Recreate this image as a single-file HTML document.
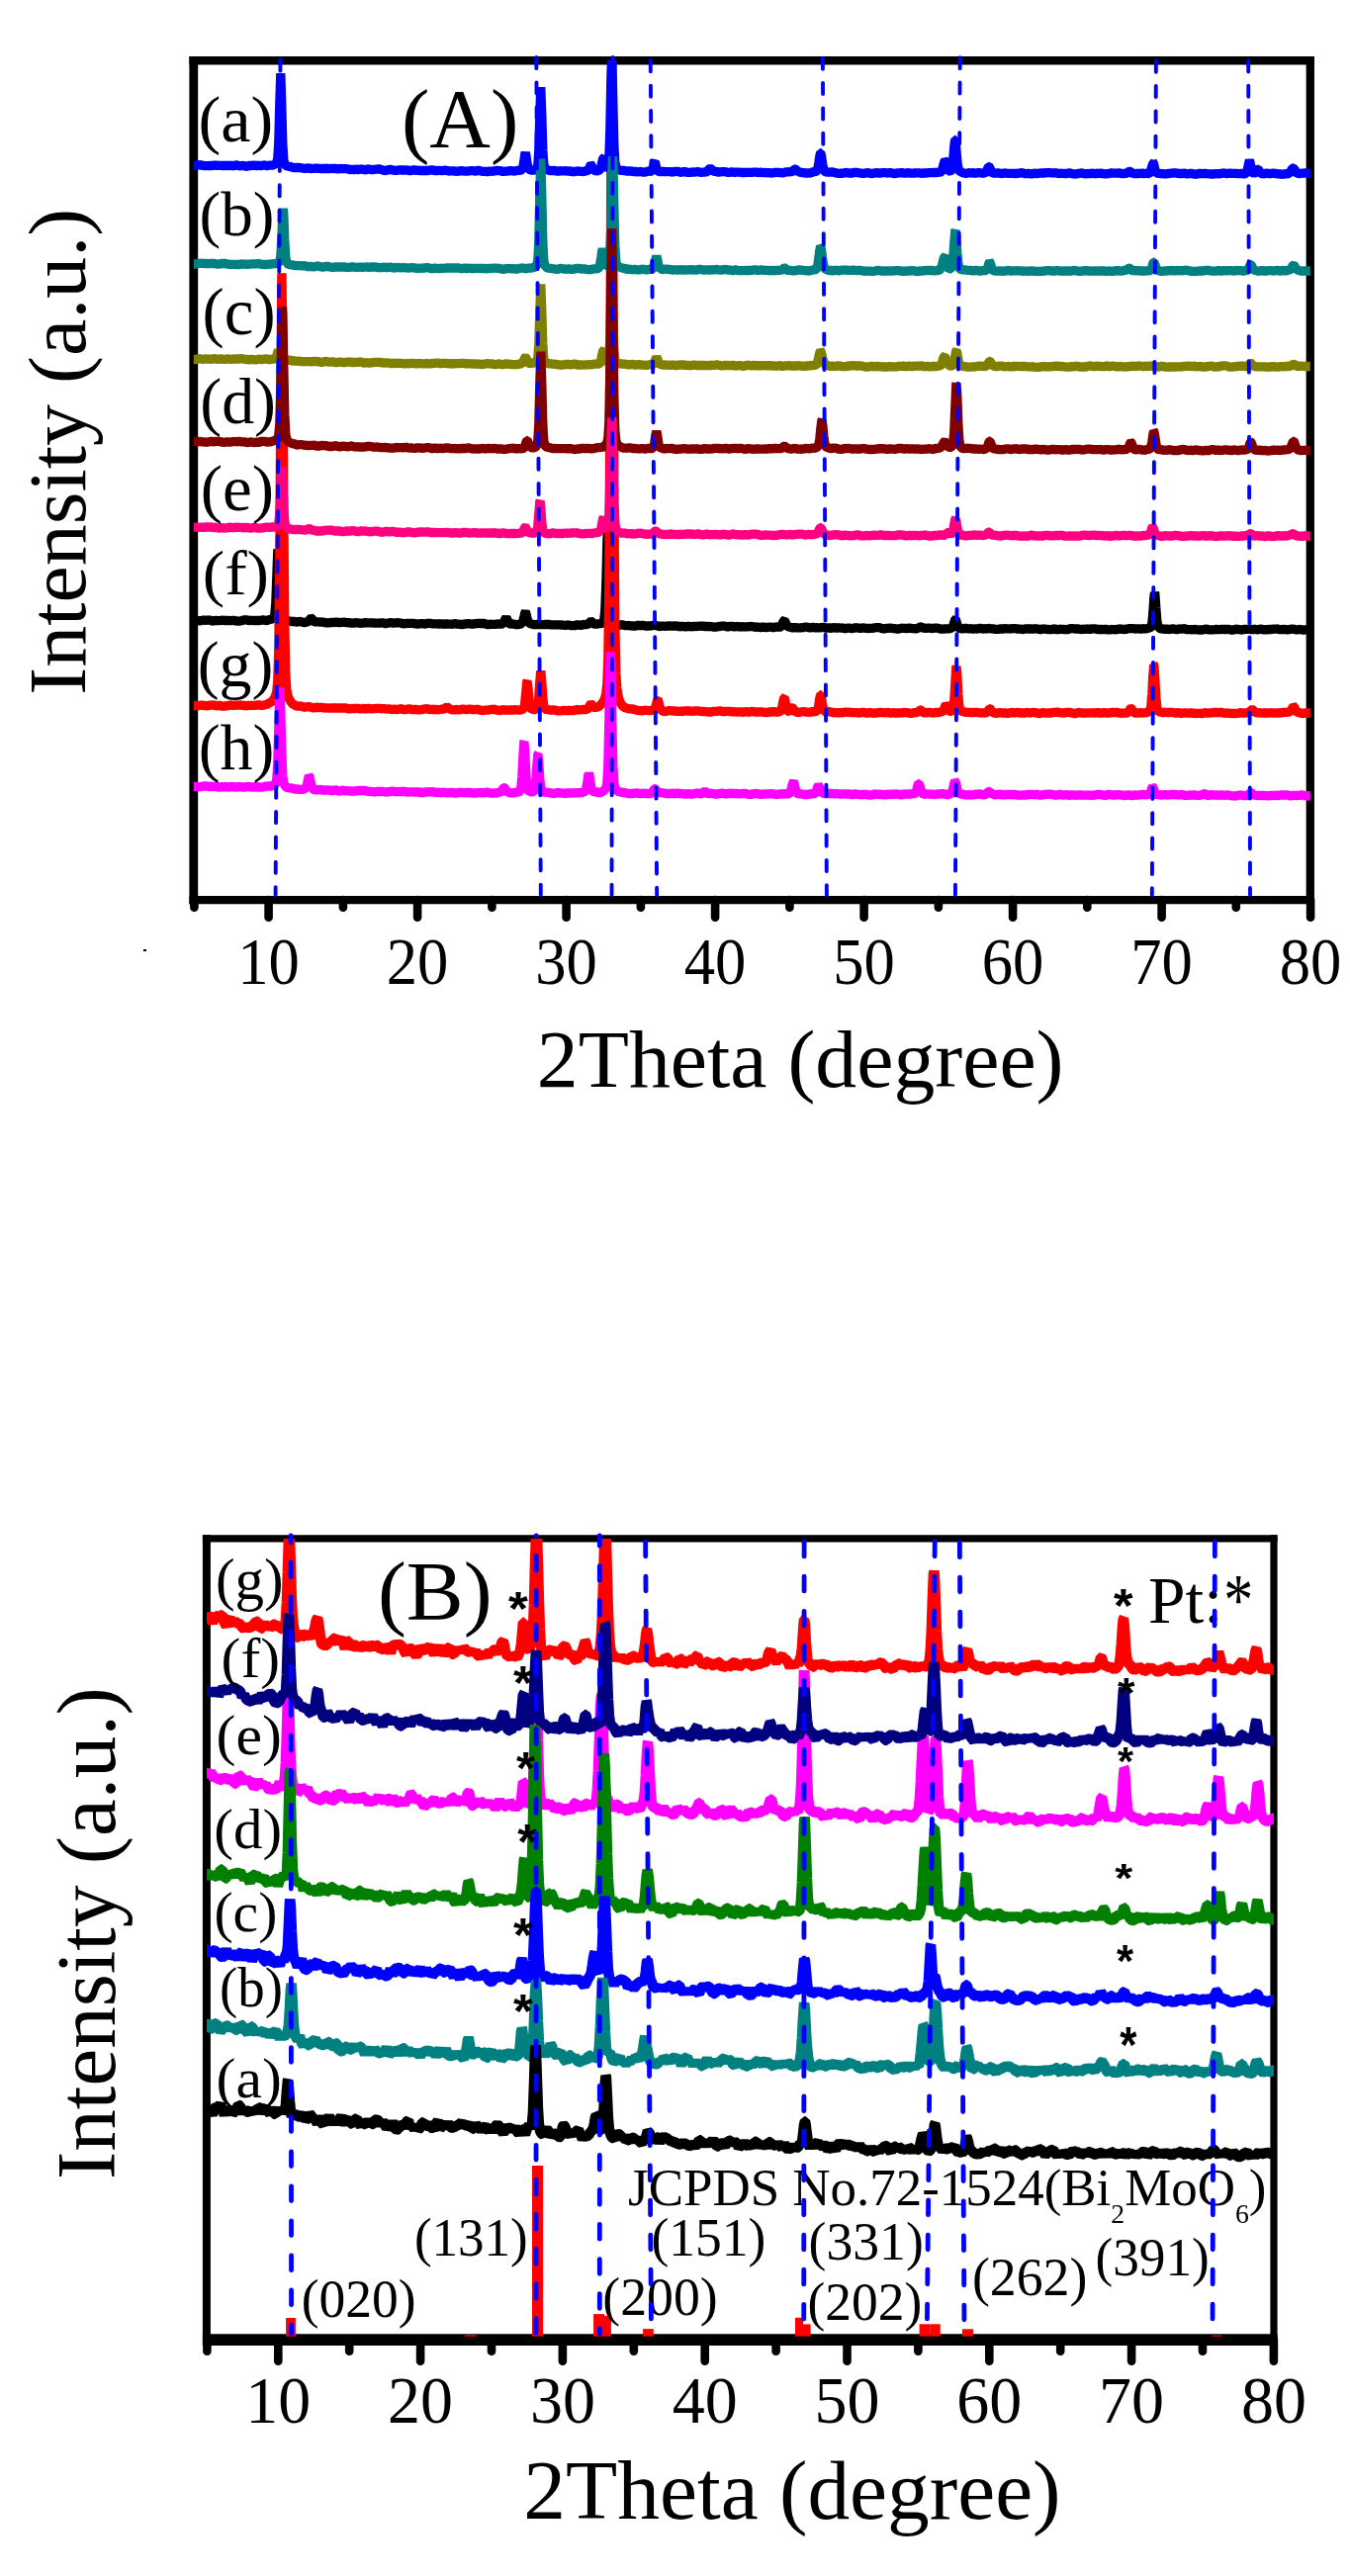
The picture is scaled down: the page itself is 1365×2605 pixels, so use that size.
<!DOCTYPE html><html><head><meta charset="utf-8"><style>html,body{margin:0;padding:0;background:#fff;overflow:hidden}svg{display:block;}</style></head><body>
<svg width="1365" height="2605" viewBox="0 0 1365 2605">
<rect width="1365" height="2605" fill="#fff"/>
<g stroke="#000" fill="none">
<line x1="195.8" y1="57.0" x2="195.8" y2="914.2" stroke-width="8.8"/>
<line x1="1324.8" y1="57.0" x2="1324.8" y2="914.2" stroke-width="8.3"/>
<line x1="191.4" y1="61.3" x2="1328.95" y2="61.3" stroke-width="8.6"/>
<line x1="191.4" y1="910.1" x2="1328.95" y2="910.1" stroke-width="8.2"/>
</g>
<rect x="145" y="960" width="3" height="2" fill="#000"/>
<g stroke="#000" stroke-linecap="round">
<line x1="196.4" y1="910.1" x2="196.4" y2="917.7" stroke-width="8.6"/>
<line x1="271.6" y1="910.1" x2="271.6" y2="927.7" stroke-width="8.6"/>
<line x1="346.9" y1="910.1" x2="346.9" y2="917.7" stroke-width="8.6"/>
<line x1="422.1" y1="910.1" x2="422.1" y2="927.7" stroke-width="8.6"/>
<line x1="497.4" y1="910.1" x2="497.4" y2="917.7" stroke-width="8.6"/>
<line x1="572.6" y1="910.1" x2="572.6" y2="927.7" stroke-width="8.6"/>
<line x1="647.9" y1="910.1" x2="647.9" y2="917.7" stroke-width="8.6"/>
<line x1="723.1" y1="910.1" x2="723.1" y2="927.7" stroke-width="8.6"/>
<line x1="798.4" y1="910.1" x2="798.4" y2="917.7" stroke-width="8.6"/>
<line x1="873.6" y1="910.1" x2="873.6" y2="927.7" stroke-width="8.6"/>
<line x1="948.9" y1="910.1" x2="948.9" y2="917.7" stroke-width="8.6"/>
<line x1="1024.1" y1="910.1" x2="1024.1" y2="927.7" stroke-width="8.6"/>
<line x1="1099.3" y1="910.1" x2="1099.3" y2="917.7" stroke-width="8.6"/>
<line x1="1174.6" y1="910.1" x2="1174.6" y2="927.7" stroke-width="8.6"/>
<line x1="1249.8" y1="910.1" x2="1249.8" y2="917.7" stroke-width="8.6"/>
<line x1="1325.1" y1="910.1" x2="1325.1" y2="927.7" stroke-width="8.6"/>
</g>
<defs><clipPath id="ca"><rect x="195.8" y="61.3" width="1129.0" height="848.8000000000001"/></clipPath></defs>
<g clip-path="url(#ca)" fill="none" stroke-linejoin="bevel" stroke-linecap="butt">
<path d="M193.8,627.2 L194.8,627.3 L195.8,627.4 L196.8,627.2 L197.8,627.0 L198.8,627.3 L199.8,627.6 L200.8,627.7 L201.8,627.8 L202.8,627.7 L203.8,627.6 L204.8,627.3 L205.8,627.1 L206.8,627.2 L207.8,627.3 L208.8,627.2 L209.8,627.1 L210.8,627.1 L211.8,627.0 L212.8,627.4 L213.8,627.8 L214.8,627.9 L215.8,628.1 L216.8,627.6 L217.8,627.1 L218.8,627.4 L219.8,627.7 L220.8,627.7 L221.8,627.6 L222.8,627.5 L223.8,627.3 L224.8,627.3 L225.8,627.2 L226.8,627.4 L227.8,627.6 L228.8,627.5 L229.8,627.4 L230.8,627.5 L231.8,627.7 L232.8,627.7 L233.8,627.7 L234.8,627.4 L235.8,627.1 L236.8,627.4 L237.8,627.7 L238.8,627.9 L239.8,628.1 L240.8,628.1 L241.8,628.2 L242.8,628.0 L243.8,627.8 L244.8,627.5 L245.8,627.1 L246.8,627.0 L247.8,626.8 L248.8,626.9 L249.8,626.9 L250.8,627.3 L251.8,627.8 L252.8,627.6 L253.8,627.3 L254.8,627.3 L255.8,627.3 L256.8,627.6 L257.8,627.9 L258.8,627.6 L259.8,627.4 L260.8,627.4 L261.8,627.5 L262.8,627.4 L263.8,627.4 L264.8,627.1 L265.8,626.9 L266.8,627.1 L267.8,627.3 L268.8,627.4 L269.8,627.6 L270.8,627.2 L271.8,626.7 L272.8,626.5 L273.8,626.3 L274.8,626.0 L275.8,625.6 L276.8,624.5 L277.8,621.3 L278.8,610.4 L279.8,583.7 L280.8,556.9 L281.0,555.9 L281.8,571.1 L282.8,602.4 L283.8,619.5 L284.8,624.6 L285.8,626.1 L286.8,627.0 L287.8,627.6 L288.8,627.5 L289.8,627.4 L290.8,627.8 L291.8,628.1 L292.8,628.1 L293.8,628.2 L294.8,628.4 L295.8,628.6 L296.8,628.5 L297.8,628.3 L298.8,628.7 L299.8,629.1 L300.8,628.9 L301.8,628.6 L302.8,628.6 L303.8,628.5 L304.8,628.9 L305.8,629.2 L306.8,629.4 L307.8,629.6 L308.8,629.4 L309.8,629.1 L310.8,628.9 L311.8,628.4 L312.8,627.3 L313.8,625.7 L314.6,625.0 L314.8,625.1 L315.8,626.2 L316.8,627.8 L317.8,628.8 L318.8,628.9 L319.8,628.9 L320.8,628.8 L321.8,628.8 L322.8,629.0 L323.8,629.1 L324.8,629.1 L325.8,629.0 L326.8,629.2 L327.8,629.5 L328.8,629.6 L329.8,629.8 L330.8,629.9 L331.8,629.9 L332.8,629.8 L333.8,629.6 L334.8,629.5 L335.8,629.4 L336.8,629.4 L337.8,629.5 L338.8,629.2 L339.8,629.0 L340.8,629.3 L341.8,629.7 L342.8,629.6 L343.8,629.5 L344.8,629.4 L345.8,629.4 L346.8,629.3 L347.8,629.2 L348.8,629.3 L349.8,629.5 L350.8,629.6 L351.8,629.8 L352.8,629.7 L353.8,629.7 L354.8,629.9 L355.8,630.2 L356.8,630.2 L357.8,630.1 L358.8,629.9 L359.8,629.7 L360.8,629.8 L361.8,629.8 L362.8,630.1 L363.8,630.4 L364.8,630.2 L365.8,630.1 L366.8,630.1 L367.8,630.1 L368.8,629.8 L369.8,629.5 L370.8,629.7 L371.8,629.9 L372.8,629.9 L373.8,629.9 L374.8,629.9 L375.8,629.9 L376.8,629.9 L377.8,630.0 L378.8,630.1 L379.8,630.2 L380.8,630.2 L381.8,630.2 L382.8,630.2 L383.8,630.2 L384.8,630.0 L385.8,629.8 L386.8,629.9 L387.8,630.0 L388.8,630.4 L389.8,630.7 L390.8,630.5 L391.8,630.3 L392.8,630.0 L393.8,629.8 L394.8,629.7 L395.8,629.6 L396.8,629.9 L397.8,630.2 L398.8,630.0 L399.8,629.8 L400.8,629.8 L401.8,629.7 L402.8,629.8 L403.8,629.8 L404.8,630.0 L405.8,630.2 L406.8,630.5 L407.8,630.9 L408.8,630.7 L409.8,630.6 L410.8,630.5 L411.8,630.4 L412.8,630.4 L413.8,630.4 L414.8,630.4 L415.8,630.4 L416.8,630.4 L417.8,630.4 L418.8,630.6 L419.8,630.7 L420.8,630.9 L421.8,631.0 L422.8,631.0 L423.8,630.9 L424.8,630.7 L425.8,630.6 L426.8,630.6 L427.8,630.7 L428.8,630.9 L429.8,631.1 L430.8,630.7 L431.8,630.3 L432.8,630.3 L433.8,630.2 L434.8,630.4 L435.8,630.6 L436.8,630.7 L437.8,630.8 L438.8,630.8 L439.8,630.9 L440.8,630.8 L441.8,630.8 L442.8,630.9 L443.8,631.1 L444.8,630.9 L445.8,630.8 L446.8,630.9 L447.8,631.1 L448.8,631.2 L449.8,631.3 L450.8,631.1 L451.8,630.8 L452.8,631.0 L453.8,631.2 L454.8,631.1 L455.8,631.1 L456.8,631.2 L457.8,631.3 L458.8,630.9 L459.8,630.4 L460.8,630.8 L461.8,631.1 L462.8,631.2 L463.8,631.2 L464.8,631.3 L465.8,631.4 L466.8,631.5 L467.8,631.5 L468.8,631.2 L469.8,630.8 L470.8,630.9 L471.8,631.0 L472.8,630.8 L473.8,630.5 L474.8,630.7 L475.8,630.9 L476.8,631.1 L477.8,631.4 L478.8,631.0 L479.8,630.7 L480.8,630.7 L481.8,630.7 L482.8,630.5 L483.8,630.4 L484.8,630.4 L485.8,630.5 L486.8,630.5 L487.8,630.5 L488.8,630.4 L489.8,630.4 L490.8,630.9 L491.8,631.4 L492.8,631.5 L493.8,631.6 L494.8,631.4 L495.8,631.2 L496.8,631.3 L497.8,631.4 L498.8,631.4 L499.8,631.4 L500.8,631.3 L501.8,631.2 L502.8,631.1 L503.8,631.0 L504.8,631.1 L505.8,631.2 L506.8,631.1 L507.8,630.9 L508.8,630.1 L509.8,628.5 L510.8,626.1 L511.8,624.7 L511.8,624.7 L512.8,626.3 L513.8,628.8 L514.8,630.4 L515.8,631.0 L516.8,631.0 L517.8,630.8 L518.8,631.0 L519.8,631.2 L520.8,631.4 L521.8,631.6 L522.8,631.7 L523.8,631.7 L524.8,631.5 L525.8,631.3 L526.8,630.8 L527.8,629.7 L528.8,627.8 L529.8,623.8 L530.8,619.5 L531.2,618.9 L531.8,620.0 L532.8,624.4 L533.8,628.0 L534.8,629.8 L535.8,630.5 L536.8,630.8 L537.8,631.1 L538.8,631.4 L539.8,631.6 L540.8,631.7 L541.8,631.7 L542.8,631.5 L543.8,631.4 L544.8,631.5 L545.8,631.7 L546.8,631.7 L547.8,631.7 L548.8,631.7 L549.8,631.7 L550.8,631.5 L551.8,631.4 L552.8,631.5 L553.8,631.6 L554.8,631.5 L555.8,631.5 L556.8,631.7 L557.8,631.9 L558.8,631.9 L559.8,631.8 L560.8,631.8 L561.8,631.8 L562.8,631.8 L563.8,631.8 L564.8,631.8 L565.8,631.8 L566.8,631.9 L567.8,632.1 L568.8,632.1 L569.8,632.2 L570.8,632.3 L571.8,632.4 L572.8,632.2 L573.8,632.0 L574.8,632.1 L575.8,632.3 L576.8,632.5 L577.8,632.6 L578.8,632.7 L579.8,632.7 L580.8,632.6 L581.8,632.5 L582.8,632.0 L583.8,631.6 L584.8,631.9 L585.8,632.2 L586.8,632.3 L587.8,632.4 L588.8,632.0 L589.8,631.5 L590.8,631.6 L591.8,631.6 L592.8,631.5 L593.8,631.4 L594.8,631.1 L595.8,630.3 L596.8,628.8 L597.5,628.3 L597.8,628.4 L598.8,629.4 L599.8,630.5 L600.8,631.1 L601.8,631.2 L602.8,631.1 L603.8,631.0 L604.8,630.9 L605.8,630.6 L606.8,630.7 L607.8,630.7 L608.8,630.3 L609.8,629.5 L610.8,626.4 L611.8,616.6 L612.8,590.0 L613.8,549.0 L614.5,534.5 L614.8,537.5 L615.8,574.4 L616.8,608.9 L617.8,623.7 L618.8,628.3 L619.8,629.8 L620.8,630.5 L621.8,631.0 L622.8,631.6 L623.8,632.1 L624.8,632.3 L625.8,632.5 L626.8,632.1 L627.8,631.7 L628.8,631.8 L629.8,631.8 L630.8,632.2 L631.8,632.6 L632.8,632.6 L633.8,632.6 L634.8,632.6 L635.8,632.5 L636.8,632.7 L637.8,632.9 L638.8,632.9 L639.8,633.0 L640.8,633.1 L641.8,633.2 L642.8,632.9 L643.8,632.6 L644.8,632.4 L645.8,632.2 L646.8,632.5 L647.8,632.8 L648.8,632.6 L649.8,632.3 L650.8,632.5 L651.8,632.7 L652.8,633.0 L653.8,633.2 L654.8,633.0 L655.8,632.9 L656.8,632.9 L657.8,633.0 L658.8,632.8 L659.8,632.5 L660.8,632.4 L661.8,632.3 L662.8,632.4 L663.0,632.5 L663.8,632.7 L664.8,633.0 L665.8,633.3 L666.8,633.5 L667.8,633.7 L668.8,633.2 L669.8,632.7 L670.8,633.1 L671.8,633.4 L672.8,633.3 L673.8,633.2 L674.8,633.1 L675.8,633.0 L676.8,633.0 L677.8,633.0 L678.8,633.1 L679.8,633.2 L680.8,633.1 L681.8,633.0 L682.8,632.9 L683.8,632.7 L684.8,633.1 L685.8,633.5 L686.8,633.5 L687.8,633.5 L688.8,633.5 L689.8,633.5 L690.8,633.5 L691.8,633.6 L692.8,633.8 L693.8,633.9 L694.8,633.5 L695.8,633.1 L696.8,633.4 L697.8,633.6 L698.8,633.7 L699.8,633.8 L700.8,633.6 L701.8,633.3 L702.8,633.4 L703.8,633.5 L704.8,633.4 L705.8,633.4 L706.8,633.2 L707.8,633.1 L708.8,633.2 L709.8,633.3 L710.8,633.2 L711.8,633.1 L712.8,633.5 L713.8,633.9 L714.8,633.6 L715.8,633.3 L716.8,633.5 L717.8,633.6 L718.8,633.7 L719.8,633.7 L720.8,633.9 L721.8,634.2 L722.8,634.1 L723.8,634.1 L724.8,633.9 L725.8,633.6 L726.8,633.6 L727.8,633.5 L728.8,633.3 L729.8,633.1 L730.8,633.1 L731.8,633.1 L732.8,633.2 L733.8,633.3 L734.8,633.7 L735.8,634.1 L736.8,633.8 L737.8,633.4 L738.8,633.4 L739.8,633.3 L740.8,633.6 L741.8,633.8 L742.8,633.8 L743.8,633.7 L744.8,633.6 L745.8,633.5 L746.8,633.9 L747.8,634.3 L748.8,633.9 L749.8,633.5 L750.8,633.7 L751.8,633.9 L752.8,633.9 L753.8,633.9 L754.8,633.8 L755.8,633.8 L756.8,633.7 L757.8,633.6 L758.8,633.6 L759.8,633.5 L760.8,633.7 L761.8,633.8 L762.8,634.0 L763.8,634.3 L764.8,634.2 L765.8,634.1 L766.8,634.3 L767.8,634.4 L768.8,634.5 L769.8,634.6 L770.8,634.3 L771.8,633.9 L772.8,634.2 L773.8,634.5 L774.8,634.5 L775.8,634.4 L776.8,634.3 L777.8,634.2 L778.8,634.2 L779.8,634.2 L780.8,634.4 L781.8,634.7 L782.8,634.4 L783.8,634.2 L784.8,634.0 L785.8,633.7 L786.8,634.1 L787.8,634.5 L788.8,634.0 L789.8,633.1 L790.8,631.6 L791.8,629.0 L792.8,627.3 L793.0,627.2 L793.8,628.6 L794.8,631.1 L795.8,632.9 L796.8,633.7 L797.8,633.9 L798.8,634.2 L799.8,634.4 L800.8,634.7 L801.8,634.9 L802.8,634.7 L803.8,634.4 L804.8,634.7 L805.8,634.9 L806.8,634.9 L807.8,634.8 L808.8,634.8 L809.8,634.8 L810.8,634.7 L811.8,634.7 L812.8,634.4 L813.8,634.1 L814.8,634.1 L815.8,634.1 L816.8,634.4 L817.8,634.7 L818.8,634.8 L819.8,634.9 L820.8,634.6 L821.8,634.3 L822.8,634.6 L823.8,634.8 L824.8,634.8 L825.8,634.7 L826.8,634.8 L827.8,634.9 L828.8,634.8 L829.8,634.7 L830.8,634.6 L831.8,634.5 L832.8,634.5 L833.8,634.6 L834.8,635.0 L835.8,635.3 L836.8,635.0 L837.8,634.7 L838.8,635.0 L839.8,635.3 L840.8,635.2 L841.8,635.1 L842.8,634.8 L843.8,634.5 L844.8,634.9 L845.8,635.2 L846.8,634.9 L847.8,634.5 L848.8,634.9 L849.8,635.3 L850.8,635.1 L851.8,635.0 L852.8,635.2 L853.8,635.5 L854.8,635.5 L855.8,635.5 L856.8,635.3 L857.8,635.1 L858.8,635.2 L859.8,635.3 L860.8,635.5 L861.8,635.8 L862.8,635.4 L863.8,635.0 L864.8,634.9 L865.8,634.8 L866.8,634.9 L867.8,634.9 L868.8,635.2 L869.8,635.5 L870.8,635.3 L871.8,635.1 L872.8,635.0 L873.8,635.0 L874.8,635.2 L875.8,635.4 L876.8,635.4 L877.8,635.5 L878.8,635.4 L879.8,635.3 L880.8,635.4 L881.8,635.4 L882.8,635.2 L883.8,634.9 L884.8,634.8 L885.8,634.7 L886.8,634.7 L887.8,634.7 L888.8,634.7 L889.8,634.8 L890.8,635.2 L891.8,635.6 L892.8,635.8 L893.8,636.1 L894.8,635.7 L895.8,635.3 L896.8,635.3 L897.8,635.4 L898.8,635.2 L899.8,635.0 L900.8,635.2 L901.8,635.3 L902.8,635.5 L903.8,635.7 L904.8,635.7 L905.8,635.8 L906.8,636.0 L907.8,636.1 L908.8,636.0 L909.8,635.8 L910.8,635.5 L911.8,635.2 L912.8,635.3 L913.8,635.4 L914.8,635.4 L915.8,635.5 L916.8,635.5 L917.8,635.4 L918.8,635.2 L919.8,635.1 L920.8,635.3 L921.8,635.6 L922.8,635.6 L923.8,635.6 L924.8,635.7 L925.8,635.9 L926.8,635.7 L927.8,635.4 L928.8,635.0 L929.8,634.3 L930.8,634.0 L931.0,634.0 L931.8,634.2 L932.8,634.7 L933.8,635.0 L934.8,635.3 L935.8,635.5 L936.8,635.3 L937.8,635.2 L938.8,635.2 L939.8,635.1 L940.8,635.3 L941.8,635.5 L942.8,635.4 L943.8,635.3 L944.8,635.2 L945.8,635.1 L946.8,635.1 L947.8,635.1 L948.8,635.4 L949.8,635.8 L950.8,635.9 L951.8,636.1 L952.8,636.1 L953.8,636.1 L954.8,636.0 L955.8,635.9 L956.8,635.9 L957.8,635.8 L958.8,635.9 L959.8,635.9 L960.8,635.6 L961.8,635.2 L962.8,634.5 L963.8,632.6 L964.8,629.2 L965.8,626.4 L966.0,626.3 L966.8,627.8 L967.8,631.5 L968.8,634.1 L969.8,635.2 L970.8,635.6 L971.8,635.8 L972.8,635.8 L973.8,635.8 L974.8,635.6 L975.8,635.4 L976.8,635.4 L977.8,635.5 L978.8,635.7 L979.8,635.9 L980.8,635.8 L981.8,635.7 L982.8,636.0 L983.8,636.2 L984.8,636.0 L985.8,635.8 L986.8,635.9 L987.8,636.0 L988.8,635.7 L989.8,635.5 L990.8,635.5 L991.8,635.5 L992.8,635.8 L993.8,636.2 L994.8,635.9 L995.8,635.6 L996.8,635.8 L997.8,635.9 L998.8,635.7 L999.8,635.4 L1000.8,635.6 L1001.8,635.9 L1002.8,635.9 L1003.8,635.8 L1004.8,636.1 L1005.8,636.3 L1006.8,636.4 L1007.8,636.4 L1008.8,636.4 L1009.8,636.4 L1010.8,636.1 L1011.8,635.9 L1012.8,636.0 L1013.8,636.1 L1014.8,635.9 L1015.8,635.6 L1016.8,635.7 L1017.8,635.8 L1018.8,635.8 L1019.8,635.8 L1020.8,635.8 L1021.8,635.9 L1022.8,635.8 L1023.8,635.7 L1024.8,635.6 L1025.8,635.6 L1026.8,635.7 L1027.8,635.9 L1028.8,636.0 L1029.8,636.1 L1030.8,636.1 L1031.8,636.1 L1032.8,636.3 L1033.8,636.5 L1034.8,636.4 L1035.8,636.2 L1036.8,635.9 L1037.8,635.7 L1038.8,635.9 L1039.8,636.1 L1040.8,635.9 L1041.8,635.8 L1042.8,636.1 L1043.8,636.5 L1044.8,636.1 L1045.8,635.7 L1046.8,635.8 L1047.8,635.9 L1048.8,636.0 L1049.8,636.2 L1050.8,636.4 L1051.8,636.6 L1052.8,636.4 L1053.8,636.2 L1054.8,636.1 L1055.8,636.0 L1056.8,636.2 L1057.8,636.3 L1058.8,636.4 L1059.8,636.5 L1060.8,636.6 L1061.8,636.7 L1062.8,636.6 L1063.8,636.5 L1064.8,636.1 L1065.8,635.8 L1066.8,636.2 L1067.8,636.5 L1068.8,636.6 L1069.8,636.7 L1070.8,636.5 L1071.8,636.2 L1072.8,636.3 L1073.8,636.3 L1074.8,636.4 L1075.8,636.5 L1076.8,636.6 L1077.8,636.7 L1078.8,636.6 L1079.8,636.5 L1080.8,636.2 L1081.8,635.8 L1082.8,635.7 L1083.8,635.5 L1084.8,635.7 L1085.8,635.8 L1086.8,635.9 L1087.8,636.0 L1088.8,635.9 L1089.8,635.9 L1090.8,636.1 L1091.8,636.4 L1092.8,636.4 L1093.8,636.5 L1094.8,636.3 L1095.8,636.2 L1096.8,636.3 L1097.8,636.4 L1098.8,636.1 L1099.8,635.9 L1100.8,636.3 L1101.8,636.6 L1102.8,636.3 L1103.8,636.0 L1104.8,635.9 L1105.8,635.8 L1106.8,635.9 L1107.8,635.9 L1108.8,636.2 L1109.8,636.5 L1110.8,636.5 L1111.8,636.4 L1112.8,636.5 L1113.8,636.5 L1114.8,636.6 L1115.8,636.7 L1116.8,636.4 L1117.8,636.2 L1118.8,636.5 L1119.8,636.8 L1120.8,636.8 L1121.8,636.9 L1122.8,636.7 L1123.8,636.5 L1124.8,636.6 L1125.8,636.6 L1126.8,636.7 L1127.8,636.8 L1128.8,636.6 L1129.8,636.5 L1130.8,636.2 L1131.8,635.9 L1132.8,636.1 L1133.8,636.4 L1134.8,636.3 L1135.8,636.2 L1136.8,636.4 L1137.8,636.6 L1138.8,636.3 L1139.8,636.0 L1140.8,635.8 L1141.8,635.6 L1142.8,635.7 L1143.8,635.7 L1144.8,635.7 L1145.8,635.7 L1146.8,635.8 L1147.8,636.0 L1148.8,635.9 L1149.8,635.8 L1150.8,635.9 L1151.8,635.9 L1152.8,636.0 L1153.8,636.2 L1154.8,636.0 L1155.8,635.7 L1156.8,635.8 L1157.8,635.9 L1158.8,635.8 L1159.8,635.7 L1160.8,635.3 L1161.8,634.9 L1162.8,634.8 L1163.8,634.1 L1164.8,630.4 L1165.8,620.2 L1166.8,604.6 L1167.5,599.1 L1167.8,600.3 L1168.8,614.5 L1169.8,627.8 L1170.8,633.2 L1171.8,634.5 L1172.5,635.1 L1172.8,635.3 L1173.8,635.8 L1174.8,635.9 L1175.8,636.0 L1176.8,636.3 L1177.8,636.5 L1178.8,636.2 L1179.8,635.9 L1180.8,636.2 L1181.8,636.6 L1182.8,636.4 L1183.8,636.3 L1184.8,636.1 L1185.8,635.9 L1186.8,636.0 L1187.8,636.2 L1188.8,636.5 L1189.8,636.7 L1190.8,636.4 L1191.8,636.0 L1192.8,636.1 L1193.8,636.2 L1194.8,636.0 L1195.8,635.9 L1196.8,635.8 L1197.8,635.7 L1198.8,636.2 L1199.8,636.6 L1200.8,636.6 L1201.8,636.6 L1202.8,636.6 L1203.8,636.6 L1204.8,636.8 L1205.8,637.0 L1206.8,636.6 L1207.8,636.2 L1208.8,636.5 L1209.8,636.9 L1210.8,636.9 L1211.8,636.9 L1212.8,637.0 L1213.8,637.0 L1214.8,637.0 L1215.8,637.0 L1216.8,636.8 L1217.8,636.6 L1218.8,636.3 L1219.8,636.0 L1220.8,636.5 L1221.8,636.9 L1222.8,636.9 L1223.8,636.8 L1224.8,636.8 L1225.8,636.9 L1226.8,636.9 L1227.8,636.9 L1228.8,636.6 L1229.8,636.4 L1230.8,636.6 L1231.8,636.7 L1232.8,636.6 L1233.8,636.6 L1234.8,636.4 L1235.8,636.3 L1236.8,636.4 L1237.8,636.5 L1238.8,636.5 L1239.8,636.5 L1240.8,636.4 L1241.8,636.3 L1242.8,636.6 L1243.8,636.8 L1244.8,637.0 L1245.8,637.1 L1246.8,637.0 L1247.8,636.9 L1248.8,636.5 L1249.8,636.2 L1250.8,636.3 L1251.8,636.5 L1252.8,636.6 L1253.8,636.7 L1254.8,636.9 L1255.8,637.0 L1256.8,636.8 L1257.8,636.5 L1258.8,636.4 L1259.8,636.3 L1260.8,636.4 L1261.8,636.4 L1262.8,636.3 L1263.8,636.2 L1264.8,636.5 L1265.8,636.8 L1266.8,636.5 L1267.8,636.2 L1268.8,636.4 L1269.8,636.6 L1270.8,636.8 L1271.8,637.0 L1272.8,636.6 L1273.8,636.3 L1274.8,636.2 L1275.8,636.2 L1276.8,636.6 L1277.8,637.1 L1278.8,636.8 L1279.8,636.6 L1280.8,636.8 L1281.8,637.0 L1282.8,636.6 L1283.8,636.3 L1284.8,636.4 L1285.8,636.5 L1286.8,636.3 L1287.8,636.1 L1288.8,636.2 L1289.8,636.2 L1290.8,636.1 L1291.8,636.0 L1292.8,636.4 L1293.8,636.7 L1294.8,636.7 L1295.8,636.6 L1296.8,636.6 L1297.8,636.5 L1298.8,636.5 L1299.8,636.6 L1300.8,636.7 L1301.8,636.9 L1302.8,636.7 L1303.8,636.5 L1304.8,636.4 L1305.8,636.2 L1306.8,636.1 L1307.8,636.1 L1308.8,636.4 L1309.8,636.7 L1310.8,636.8 L1311.8,636.9 L1312.8,636.7 L1313.8,636.5 L1314.8,636.6 L1315.8,636.6 L1316.8,636.9 L1317.8,637.2 L1318.8,637.0 L1319.8,636.8 L1320.8,636.9 L1321.8,637.0 L1322.8,636.8 L1323.8,636.6 L1324.8,636.7 L1325.8,636.7 L1326.8,636.9" stroke="#000000" stroke-width="9.3"/>
<path d="M193.8,713.5 L194.8,713.7 L195.8,713.9 L196.8,713.7 L197.8,713.5 L198.8,713.5 L199.8,713.5 L200.8,713.5 L201.8,713.5 L202.8,713.3 L203.8,713.1 L204.8,713.2 L205.8,713.4 L206.8,713.5 L207.8,713.6 L208.8,713.7 L209.8,713.8 L210.8,713.5 L211.8,713.1 L212.8,713.2 L213.8,713.2 L214.8,713.1 L215.8,712.9 L216.8,713.3 L217.8,713.7 L218.8,713.7 L219.8,713.8 L220.8,713.4 L221.8,713.1 L222.8,713.5 L223.8,714.0 L224.8,714.1 L225.8,714.2 L226.8,714.1 L227.8,713.9 L228.8,713.9 L229.8,713.8 L230.8,713.5 L231.8,713.3 L232.8,713.1 L233.8,713.0 L234.8,713.2 L235.8,713.4 L236.8,713.3 L237.8,713.1 L238.8,713.1 L239.8,713.1 L240.8,713.2 L241.8,713.2 L242.8,713.1 L243.8,713.0 L244.8,713.2 L245.8,713.4 L246.8,713.5 L247.8,713.5 L248.8,713.8 L249.8,713.7 L250.8,713.5 L251.8,713.4 L252.8,713.4 L253.8,713.4 L254.8,713.4 L255.8,713.3 L256.8,713.3 L257.8,713.3 L258.8,713.2 L259.8,713.1 L260.8,712.9 L261.8,712.7 L262.8,713.0 L263.8,713.3 L264.8,713.3 L265.8,713.3 L266.8,713.1 L267.8,712.9 L268.8,712.6 L269.8,712.3 L270.8,711.8 L271.8,711.2 L272.8,710.7 L273.8,710.0 L274.8,709.4 L275.8,708.4 L276.8,707.1 L277.8,705.2 L278.8,702.9 L279.8,698.8 L280.8,688.4 L281.8,656.2 L282.8,568.4 L283.8,411.1 L284.8,281.1 L285.0,276.2 L285.8,344.8 L286.8,512.2 L287.8,630.9 L288.8,680.9 L289.8,697.1 L290.8,702.7 L291.8,705.5 L292.8,707.6 L293.8,709.1 L294.8,710.6 L295.8,711.9 L296.8,712.4 L297.8,712.8 L298.8,713.5 L299.8,714.2 L300.8,714.2 L301.8,714.1 L302.8,714.1 L303.8,714.0 L304.8,714.3 L305.8,714.7 L306.8,714.9 L307.8,715.2 L308.8,715.0 L309.8,714.9 L310.8,714.8 L311.8,714.7 L312.8,714.8 L313.8,714.9 L314.8,715.4 L315.8,715.8 L316.8,715.8 L317.8,715.9 L318.8,715.6 L319.8,715.2 L320.8,715.2 L321.8,715.6 L322.8,715.5 L323.8,715.4 L324.8,715.4 L325.8,715.3 L326.8,715.7 L327.8,716.2 L328.8,716.0 L329.8,715.7 L330.8,715.9 L331.8,716.1 L332.8,716.1 L333.8,716.1 L334.8,715.9 L335.8,715.8 L336.8,716.1 L337.8,716.3 L338.8,716.1 L339.8,715.8 L340.8,716.1 L341.8,716.3 L342.8,716.1 L343.8,715.9 L344.8,716.0 L345.8,716.1 L346.8,716.0 L347.8,716.0 L348.8,716.0 L349.8,716.0 L350.8,716.4 L351.8,716.8 L352.8,716.9 L353.8,716.9 L354.8,716.6 L355.8,716.4 L356.8,716.6 L357.8,716.9 L358.8,716.6 L359.8,716.3 L360.8,716.3 L361.8,716.4 L362.8,716.6 L363.8,716.9 L364.8,716.9 L365.8,716.9 L366.8,716.6 L367.8,716.3 L368.8,716.7 L369.8,717.1 L370.8,716.8 L371.8,716.5 L372.8,716.5 L373.8,716.4 L374.8,716.7 L375.8,717.0 L376.8,716.8 L377.8,716.7 L378.8,716.6 L379.8,716.6 L380.8,716.4 L381.8,716.3 L382.8,716.3 L383.8,716.3 L384.8,716.5 L385.8,716.8 L386.8,716.7 L387.8,716.6 L388.8,716.8 L389.8,717.0 L390.8,716.9 L391.8,716.9 L392.8,716.9 L393.8,717.0 L394.8,717.3 L395.8,717.6 L396.8,717.4 L397.8,717.2 L398.8,717.2 L399.8,717.3 L400.8,717.4 L401.8,717.6 L402.8,717.3 L403.8,717.0 L404.8,716.8 L405.8,716.7 L406.8,717.1 L407.8,717.5 L408.8,717.6 L409.8,717.7 L410.8,717.4 L411.8,717.1 L412.8,717.0 L413.8,716.9 L414.8,717.1 L415.8,717.4 L416.8,717.6 L417.8,717.8 L418.8,717.5 L419.8,717.1 L420.8,717.4 L421.8,717.8 L422.8,717.8 L423.8,717.9 L424.8,717.8 L425.8,717.6 L426.8,717.5 L427.8,717.4 L428.8,717.1 L429.8,716.9 L430.8,716.8 L431.8,716.7 L432.8,717.2 L433.8,717.7 L434.8,717.5 L435.8,717.2 L436.8,717.4 L437.8,717.6 L438.8,717.4 L439.8,717.2 L440.8,717.5 L441.8,717.8 L442.8,717.7 L443.8,717.7 L444.8,717.5 L445.8,717.3 L446.8,717.1 L447.8,717.0 L448.8,717.0 L449.8,716.8 L450.8,715.6 L451.8,714.9 L451.8,714.9 L452.8,715.4 L453.8,716.3 L454.8,717.0 L455.8,717.4 L456.8,717.7 L457.8,717.9 L458.8,717.9 L459.8,717.8 L460.8,717.6 L461.8,717.5 L462.8,717.8 L463.8,718.1 L464.8,717.8 L465.8,717.5 L466.8,717.3 L467.8,717.1 L468.8,717.2 L469.8,717.3 L470.8,717.4 L471.8,717.5 L472.8,717.4 L473.8,717.2 L474.8,717.2 L475.8,717.2 L476.8,717.4 L477.8,717.5 L478.8,717.6 L479.8,717.8 L480.8,717.6 L481.8,717.4 L482.8,717.5 L483.8,717.5 L484.8,717.9 L485.8,718.2 L486.8,718.3 L487.8,718.5 L488.8,718.4 L489.8,718.2 L490.8,718.2 L491.8,718.2 L492.8,718.1 L493.8,718.1 L494.8,717.8 L495.8,717.6 L496.8,717.4 L497.8,717.3 L498.8,717.3 L499.8,717.2 L500.8,717.7 L501.8,718.2 L502.8,718.2 L503.8,718.2 L504.8,718.4 L505.8,718.6 L506.8,718.1 L507.8,717.6 L508.8,717.8 L509.8,718.0 L510.8,718.0 L511.8,718.0 L512.8,718.1 L513.8,718.2 L514.8,718.0 L515.8,717.8 L516.8,718.1 L517.8,718.4 L518.8,718.0 L519.8,717.6 L520.8,717.7 L521.8,717.8 L522.8,717.9 L523.8,718.0 L524.8,718.1 L525.8,718.1 L526.8,717.9 L527.8,717.6 L528.8,717.1 L529.8,715.5 L530.8,710.4 L531.8,699.4 L532.8,689.1 L533.0,688.7 L533.8,694.4 L534.8,706.5 L535.8,713.7 L536.8,716.3 L537.8,717.1 L538.8,717.4 L539.8,717.6 L540.8,717.5 L541.8,717.3 L542.8,716.3 L543.8,713.5 L544.8,705.2 L545.8,689.3 L546.8,678.5 L546.8,678.5 L547.8,689.5 L548.8,705.5 L549.8,713.8 L550.8,716.4 L551.8,717.2 L552.8,717.5 L553.8,717.6 L554.8,717.8 L555.8,718.0 L556.8,718.1 L557.8,718.2 L558.8,718.0 L559.8,717.7 L560.8,718.0 L561.8,718.2 L562.8,718.5 L563.8,718.8 L564.8,718.9 L565.8,718.9 L566.8,718.8 L567.8,718.8 L568.8,718.6 L569.8,718.4 L570.8,718.5 L571.8,718.7 L572.8,718.6 L573.8,718.6 L574.8,718.5 L575.8,718.4 L576.8,718.6 L577.8,718.8 L578.8,718.5 L579.8,718.1 L580.8,718.4 L581.8,718.7 L582.8,717.8 L583.8,717.5 L584.8,717.7 L585.8,717.9 L586.8,717.8 L587.8,717.8 L588.8,717.6 L589.8,717.4 L590.8,717.5 L591.8,717.6 L592.8,717.4 L593.8,717.1 L594.8,716.3 L595.8,714.6 L596.8,712.5 L597.5,711.8 L597.8,712.0 L598.8,713.4 L599.8,714.9 L600.8,715.5 L601.8,715.4 L602.8,715.3 L603.8,715.1 L604.8,714.8 L605.8,714.2 L606.8,713.2 L607.0,713.0 L607.8,712.2 L608.8,711.2 L609.8,709.8 L610.8,708.1 L611.8,705.4 L612.8,700.6 L613.8,691.6 L614.8,667.2 L615.8,591.6 L616.8,413.0 L617.8,160.9 L618.6,56.9 L618.8,64.2 L619.8,260.2 L620.8,498.5 L621.8,631.7 L622.8,680.2 L623.8,695.6 L624.8,702.4 L625.8,706.5 L626.8,709.4 L627.8,711.5 L628.8,713.0 L629.8,714.2 L630.8,715.0 L631.8,715.7 L632.8,715.9 L633.8,716.1 L634.8,716.5 L635.8,716.8 L636.8,716.9 L637.8,716.9 L638.8,717.0 L639.8,717.0 L640.8,717.3 L641.8,717.6 L642.8,717.9 L643.8,718.2 L644.8,718.4 L645.8,718.5 L646.8,718.6 L647.8,718.6 L648.8,718.7 L649.8,718.9 L650.8,718.6 L651.8,718.3 L652.8,718.2 L653.8,718.0 L654.8,718.7 L655.8,718.7 L656.8,718.7 L657.8,718.5 L658.8,718.4 L659.8,718.3 L660.8,718.1 L661.8,717.3 L662.8,715.1 L663.8,711.0 L664.8,707.5 L665.0,707.4 L665.8,709.2 L666.8,713.6 L667.8,716.7 L668.8,718.3 L669.8,719.0 L670.8,719.3 L671.8,719.6 L672.8,719.4 L673.8,719.2 L674.8,718.9 L675.8,718.7 L676.8,718.6 L677.8,718.5 L678.8,718.9 L679.8,719.4 L680.8,719.1 L681.8,718.8 L682.8,719.0 L683.8,719.3 L684.8,719.3 L685.8,719.4 L686.8,719.2 L687.8,719.1 L688.8,719.3 L689.8,719.6 L690.8,719.2 L691.8,718.8 L692.8,718.8 L693.8,718.8 L694.8,718.9 L695.8,719.1 L696.8,718.9 L697.8,718.7 L698.8,719.1 L699.8,719.6 L700.8,719.3 L701.8,719.1 L702.8,719.0 L703.8,718.9 L704.8,718.8 L705.8,718.8 L706.8,719.1 L707.8,719.4 L708.8,719.4 L709.8,719.4 L710.8,719.5 L711.8,719.6 L712.8,719.6 L713.8,719.7 L714.8,719.8 L715.8,719.9 L716.8,720.0 L717.8,720.1 L718.8,720.0 L719.8,719.9 L720.8,719.6 L721.8,719.3 L722.8,719.4 L723.8,719.4 L724.8,719.3 L725.8,719.2 L726.8,719.0 L727.8,718.9 L728.8,719.1 L729.8,719.4 L730.8,719.6 L731.8,719.8 L732.8,719.5 L733.8,719.3 L734.8,719.3 L735.8,719.3 L736.8,719.3 L737.8,719.4 L738.8,719.6 L739.8,719.8 L740.8,719.8 L741.8,719.7 L742.8,719.8 L743.8,719.8 L744.8,719.9 L745.8,720.0 L746.8,719.9 L747.8,719.7 L748.8,719.9 L749.8,720.0 L750.8,720.2 L751.8,720.3 L752.8,719.9 L753.8,719.5 L754.8,719.8 L755.8,720.2 L756.8,720.2 L757.8,720.1 L758.8,719.8 L759.8,719.5 L760.8,719.6 L761.8,719.7 L762.8,719.8 L763.8,719.9 L764.8,720.1 L765.8,720.3 L766.8,720.1 L767.8,719.8 L768.8,719.9 L769.8,719.9 L770.8,720.1 L771.8,720.3 L772.8,720.3 L773.8,720.3 L774.8,720.4 L775.8,720.5 L776.8,720.3 L777.8,720.0 L778.8,720.0 L779.8,720.1 L780.8,719.8 L781.8,719.6 L782.8,719.8 L783.8,720.0 L784.8,720.0 L785.8,720.1 L786.8,720.0 L787.8,719.7 L788.8,719.4 L789.8,718.4 L790.8,715.2 L791.8,709.7 L792.8,705.6 L793.0,705.5 L793.8,708.0 L794.8,713.7 L795.8,717.7 L796.8,719.3 L797.8,719.6 L798.8,718.6 L799.8,716.9 L800.8,715.6 L801.0,715.6 L801.8,716.4 L802.8,718.0 L803.8,719.0 L804.8,719.8 L805.8,720.3 L806.8,720.4 L807.8,720.5 L808.8,720.2 L809.8,720.0 L810.8,719.8 L811.8,719.6 L812.8,719.7 L813.8,719.8 L814.8,720.0 L815.8,720.1 L816.8,720.2 L817.8,720.3 L818.8,720.2 L819.8,720.1 L820.8,719.8 L821.8,719.4 L822.8,719.7 L823.8,720.0 L824.8,719.4 L825.8,718.6 L826.8,717.1 L827.8,713.0 L828.8,706.1 L829.7,702.5 L829.8,702.5 L830.8,707.2 L831.8,713.7 L832.8,717.8 L833.8,719.5 L834.8,719.7 L835.8,719.6 L836.8,719.6 L837.8,719.6 L838.8,719.8 L839.8,720.1 L840.8,720.3 L841.8,720.5 L842.8,720.6 L843.8,720.8 L844.8,720.7 L845.8,720.7 L846.8,720.8 L847.8,721.0 L848.8,720.8 L849.8,720.6 L850.8,720.8 L851.8,721.0 L852.8,720.6 L853.8,720.1 L854.8,720.1 L855.8,720.1 L856.8,720.2 L857.8,720.4 L858.8,720.3 L859.8,720.2 L860.8,720.5 L861.8,720.7 L862.8,720.7 L863.8,720.7 L864.8,720.7 L865.8,720.6 L866.8,720.8 L867.8,721.0 L868.8,720.9 L869.8,720.8 L870.8,720.6 L871.8,720.4 L872.8,720.4 L873.8,720.4 L874.8,720.7 L875.8,721.0 L876.8,721.1 L877.8,721.2 L878.8,720.8 L879.8,720.5 L880.8,720.8 L881.8,721.0 L882.8,721.2 L883.8,721.3 L884.8,721.1 L885.8,720.9 L886.8,720.9 L887.8,720.9 L888.8,720.6 L889.8,720.4 L890.8,720.6 L891.8,720.7 L892.8,720.7 L893.8,720.7 L894.8,720.8 L895.8,720.9 L896.8,720.6 L897.8,720.3 L898.8,720.7 L899.8,721.2 L900.8,721.1 L901.8,720.9 L902.8,720.8 L903.8,720.7 L904.8,720.9 L905.8,721.1 L906.8,721.0 L907.8,721.0 L908.8,720.9 L909.8,720.8 L910.8,720.9 L911.8,721.0 L912.8,720.7 L913.8,720.4 L914.8,720.5 L915.8,720.7 L916.8,720.7 L917.8,720.7 L918.8,721.0 L919.8,721.3 L920.8,721.3 L921.8,721.4 L922.8,721.0 L923.8,720.7 L924.8,720.7 L925.8,720.7 L926.8,720.4 L927.8,720.0 L928.8,719.5 L929.8,718.6 L930.8,718.0 L931.0,718.0 L931.8,718.6 L932.8,719.9 L933.8,720.8 L934.8,720.9 L935.8,720.8 L936.8,720.7 L937.8,720.5 L938.8,720.4 L939.8,720.3 L940.8,720.5 L941.8,720.7 L942.8,720.9 L943.8,721.2 L944.8,720.8 L945.8,720.4 L946.8,720.6 L947.8,720.8 L948.8,720.5 L949.8,720.1 L950.8,720.0 L951.8,719.8 L952.8,719.5 L953.8,718.4 L954.8,716.3 L955.8,713.8 L956.4,712.9 L956.8,713.2 L957.8,715.6 L958.8,718.0 L959.8,719.1 L960.8,719.4 L961.8,719.4 L962.8,718.4 L963.8,715.8 L964.8,708.1 L965.8,691.0 L966.8,674.6 L967.0,673.9 L967.8,682.5 L968.8,702.1 L969.8,714.0 L970.8,717.9 L971.8,719.0 L972.8,719.4 L973.8,719.6 L974.8,719.9 L975.8,720.2 L976.8,720.3 L977.8,720.4 L978.8,720.4 L979.8,720.4 L980.8,720.5 L981.8,720.5 L982.8,720.6 L983.8,720.7 L984.8,720.5 L985.8,720.3 L986.8,720.3 L987.8,720.3 L988.8,720.5 L989.8,720.7 L990.8,720.8 L991.8,720.9 L992.8,720.8 L993.8,720.8 L994.8,720.9 L995.8,721.0 L996.8,720.8 L997.8,720.3 L998.8,719.3 L999.8,717.7 L1000.7,716.6 L1000.8,716.6 L1001.8,717.4 L1002.8,719.3 L1003.8,720.4 L1004.8,720.9 L1005.8,721.1 L1006.8,721.2 L1007.8,721.3 L1008.8,721.1 L1009.8,720.8 L1010.8,720.7 L1011.8,720.6 L1012.8,720.9 L1013.8,721.2 L1014.8,720.9 L1015.8,720.6 L1016.8,721.0 L1017.8,721.3 L1018.8,721.4 L1019.8,721.4 L1020.8,721.0 L1021.8,720.6 L1022.8,720.6 L1023.8,720.5 L1024.8,720.7 L1025.8,721.0 L1026.8,720.8 L1027.8,720.6 L1028.8,720.5 L1029.8,720.3 L1030.8,720.7 L1031.8,721.1 L1032.8,721.0 L1033.8,720.8 L1034.8,721.0 L1035.8,721.2 L1036.8,720.9 L1037.8,720.5 L1038.8,720.6 L1039.8,720.7 L1040.8,720.8 L1041.8,721.0 L1042.8,720.7 L1043.8,720.4 L1044.8,720.4 L1045.8,720.4 L1046.8,720.7 L1047.8,720.9 L1048.8,721.1 L1049.8,721.4 L1050.8,721.5 L1051.8,721.5 L1052.8,721.1 L1053.8,720.7 L1054.8,720.7 L1055.8,720.8 L1056.8,721.0 L1057.8,721.2 L1058.8,721.1 L1059.8,721.0 L1060.8,721.0 L1061.8,721.1 L1062.8,720.9 L1063.8,720.6 L1064.8,720.5 L1065.8,720.3 L1066.8,720.3 L1067.8,720.3 L1068.8,720.2 L1069.8,720.2 L1070.8,720.5 L1071.8,720.7 L1072.8,720.8 L1073.8,720.9 L1074.8,720.9 L1075.8,721.0 L1076.8,720.7 L1077.8,720.5 L1078.8,720.5 L1079.8,720.4 L1080.8,720.4 L1081.8,720.4 L1082.8,720.8 L1083.8,721.1 L1084.8,721.3 L1085.8,721.5 L1086.8,721.5 L1087.8,721.6 L1088.8,721.1 L1089.8,720.6 L1090.8,720.5 L1091.8,720.3 L1092.8,720.8 L1093.8,721.2 L1094.8,721.1 L1095.8,721.0 L1096.8,721.1 L1097.8,721.2 L1098.8,721.0 L1099.8,720.8 L1100.8,720.8 L1101.8,720.8 L1102.8,720.9 L1103.8,720.9 L1104.8,720.9 L1105.8,720.8 L1106.8,720.9 L1107.8,721.0 L1108.8,720.7 L1109.8,720.4 L1110.8,720.7 L1111.8,721.0 L1112.8,721.1 L1113.8,721.3 L1114.8,721.0 L1115.8,720.7 L1116.8,720.7 L1117.8,720.8 L1118.8,721.0 L1119.8,721.1 L1120.8,721.0 L1121.8,720.9 L1122.8,720.7 L1123.8,720.6 L1124.8,720.5 L1125.8,720.4 L1126.8,720.6 L1127.8,720.8 L1128.8,720.5 L1129.8,720.3 L1130.8,720.7 L1131.8,721.2 L1132.8,721.2 L1133.8,721.3 L1134.8,721.2 L1135.8,721.2 L1136.8,721.2 L1137.8,721.2 L1138.8,721.1 L1139.8,720.8 L1140.8,720.0 L1141.8,718.5 L1142.8,716.8 L1143.5,716.3 L1143.8,716.4 L1144.8,717.9 L1145.8,719.4 L1146.8,720.6 L1147.8,721.1 L1148.8,721.2 L1149.8,721.2 L1150.8,720.9 L1151.8,720.6 L1152.8,720.8 L1153.8,721.1 L1154.8,721.0 L1155.8,720.9 L1156.8,720.9 L1157.8,720.8 L1158.8,720.7 L1159.8,720.5 L1160.8,720.0 L1161.8,719.2 L1162.8,718.1 L1163.8,714.0 L1164.8,702.1 L1165.8,682.7 L1166.7,672.4 L1166.8,672.5 L1167.8,686.5 L1168.8,705.2 L1169.8,715.3 L1170.8,718.7 L1171.8,719.8 L1172.8,720.0 L1173.8,720.1 L1174.8,720.4 L1175.8,720.7 L1176.8,720.4 L1177.8,720.2 L1178.8,720.3 L1179.8,720.4 L1180.8,720.5 L1181.8,720.6 L1182.8,720.4 L1183.8,720.2 L1184.8,720.4 L1185.8,720.5 L1186.8,720.7 L1187.8,720.9 L1188.8,721.0 L1189.8,721.0 L1190.8,720.8 L1191.8,720.6 L1192.8,721.0 L1193.8,721.3 L1194.8,721.3 L1195.8,721.2 L1196.8,721.0 L1197.8,720.8 L1198.8,720.9 L1199.8,721.1 L1200.8,721.1 L1201.8,721.1 L1202.8,721.1 L1203.8,721.0 L1204.8,720.9 L1205.8,720.9 L1206.8,721.2 L1207.8,721.5 L1208.8,721.4 L1209.8,721.3 L1210.8,721.3 L1211.8,721.3 L1212.8,721.3 L1213.8,721.4 L1214.8,721.5 L1215.8,721.6 L1216.8,721.1 L1217.8,720.6 L1218.8,720.8 L1219.8,721.0 L1220.8,721.1 L1221.8,721.2 L1222.8,721.0 L1223.8,720.8 L1224.8,720.8 L1225.8,720.8 L1226.8,720.6 L1227.8,720.4 L1228.8,720.4 L1229.8,720.5 L1230.8,720.6 L1231.8,720.7 L1232.8,720.6 L1233.8,720.4 L1234.8,720.5 L1235.8,720.5 L1236.8,720.9 L1237.8,721.3 L1238.8,721.2 L1239.8,721.1 L1240.8,721.1 L1241.8,721.0 L1242.8,721.3 L1243.8,721.5 L1244.8,721.4 L1245.8,721.2 L1246.8,721.4 L1247.8,721.6 L1248.8,721.5 L1249.8,721.3 L1250.8,721.4 L1251.8,721.4 L1252.8,721.0 L1253.8,720.6 L1254.8,720.8 L1255.8,721.0 L1256.8,721.1 L1257.8,721.2 L1258.8,720.9 L1259.8,720.5 L1260.8,720.8 L1261.8,721.2 L1262.8,720.6 L1263.8,719.6 L1264.8,718.5 L1265.8,717.6 L1266.0,717.5 L1266.8,717.9 L1267.8,719.0 L1268.8,720.1 L1269.8,720.6 L1270.8,720.8 L1271.8,721.0 L1272.8,720.7 L1273.8,720.5 L1274.8,720.9 L1275.8,721.3 L1276.8,721.1 L1277.8,721.0 L1278.8,721.0 L1279.8,721.0 L1280.8,721.0 L1281.8,721.1 L1282.8,721.0 L1283.8,720.9 L1284.8,720.8 L1285.8,720.7 L1286.8,720.9 L1287.8,721.1 L1288.8,721.1 L1289.8,721.1 L1290.8,720.9 L1291.8,720.7 L1292.8,720.9 L1293.8,721.1 L1294.8,720.9 L1295.8,720.8 L1296.8,720.5 L1297.8,720.3 L1298.8,720.4 L1299.8,720.4 L1300.8,720.3 L1301.8,720.1 L1302.8,720.0 L1303.8,719.7 L1304.8,719.2 L1305.8,718.0 L1306.8,715.9 L1307.8,714.4 L1308.0,714.5 L1308.8,715.3 L1309.8,717.5 L1310.8,719.3 L1311.8,720.4 L1312.8,720.5 L1313.8,720.3 L1314.8,720.8 L1315.8,721.3 L1316.8,721.4 L1317.8,721.5 L1318.8,721.1 L1319.8,720.6 L1320.8,721.0 L1321.8,721.3 L1322.8,721.2 L1323.8,721.0 L1324.8,721.0 L1325.8,721.0 L1326.8,721.2" stroke="#FF0000" stroke-width="9.3"/>
<path d="M193.8,167.5 L194.8,167.5 L195.8,167.5 L196.8,167.3 L197.8,167.0 L198.8,166.8 L199.8,166.7 L200.8,166.8 L201.8,167.0 L202.8,167.0 L203.8,167.0 L204.8,167.3 L205.8,167.6 L206.8,167.6 L207.8,167.7 L208.8,167.6 L209.8,167.6 L210.8,167.6 L211.8,167.5 L212.8,167.6 L213.8,167.6 L214.8,167.4 L215.8,167.1 L216.8,167.2 L217.8,167.3 L218.8,167.2 L219.8,167.0 L220.8,167.4 L221.8,167.8 L222.8,167.4 L223.8,167.1 L224.8,167.4 L225.8,167.7 L226.8,167.4 L227.8,167.1 L228.8,167.4 L229.8,167.6 L230.8,167.5 L231.8,167.4 L232.8,167.4 L233.8,167.4 L234.8,167.6 L235.8,167.9 L236.8,167.5 L237.8,167.1 L238.8,167.0 L239.8,167.0 L240.8,167.4 L241.8,167.9 L242.8,167.8 L243.8,167.7 L244.8,167.5 L245.8,167.2 L246.8,167.6 L247.8,168.1 L248.8,168.2 L249.8,168.3 L250.8,167.8 L251.8,167.4 L252.8,167.5 L253.8,167.5 L254.8,167.4 L255.8,167.2 L256.8,167.2 L257.8,167.3 L258.8,167.5 L259.8,167.6 L260.8,167.4 L261.8,167.2 L262.8,167.5 L263.8,167.7 L264.8,167.4 L265.8,167.1 L266.8,167.1 L267.8,167.0 L268.8,167.4 L269.8,167.7 L270.8,167.5 L271.8,167.3 L272.8,167.2 L273.8,167.1 L274.8,167.1 L275.8,167.0 L276.8,166.7 L277.8,166.2 L278.8,165.5 L279.8,164.2 L280.8,159.9 L281.8,143.5 L282.8,104.5 L283.8,74.2 L283.8,74.2 L284.8,105.3 L285.8,145.1 L286.8,161.6 L287.8,165.9 L288.8,167.1 L289.8,167.7 L290.8,168.0 L291.8,168.2 L292.8,168.4 L293.8,168.6 L294.8,169.0 L295.8,169.3 L296.8,169.5 L297.8,169.7 L298.8,169.6 L299.8,169.4 L300.8,169.5 L301.8,169.5 L302.8,169.6 L303.8,169.7 L304.8,169.8 L305.8,170.0 L306.8,170.2 L307.8,170.4 L308.8,170.3 L309.8,170.2 L310.8,170.0 L311.8,169.7 L312.8,170.2 L313.8,170.5 L314.8,170.4 L315.8,170.3 L316.8,170.4 L317.8,170.4 L318.8,170.3 L319.8,170.1 L320.8,170.2 L321.8,170.3 L322.8,170.3 L323.8,170.3 L324.8,170.6 L325.8,170.8 L326.8,170.5 L327.8,170.2 L328.8,170.4 L329.8,170.6 L330.8,170.4 L331.8,170.3 L332.8,170.5 L333.8,170.8 L334.8,170.5 L335.8,170.3 L336.8,170.3 L337.8,170.4 L338.8,170.5 L339.8,170.5 L340.8,170.7 L341.8,170.9 L342.8,170.7 L343.8,170.4 L344.8,170.6 L345.8,170.7 L346.8,170.7 L347.8,170.6 L348.8,170.6 L349.8,170.6 L350.8,170.8 L351.8,170.9 L352.8,171.2 L353.8,171.6 L354.8,171.4 L355.8,171.2 L356.8,171.5 L357.8,171.7 L358.8,171.4 L359.8,171.0 L360.8,171.3 L361.8,171.7 L362.8,171.5 L363.8,171.2 L364.8,171.1 L365.8,171.0 L366.8,171.2 L367.8,171.5 L368.8,171.7 L369.8,171.9 L370.8,171.5 L371.8,171.0 L372.8,171.1 L373.8,171.1 L374.8,171.4 L375.8,171.7 L376.8,171.6 L377.8,171.4 L378.8,171.3 L379.8,171.3 L380.8,171.1 L381.8,171.0 L382.8,171.0 L383.8,171.0 L384.8,171.3 L385.8,171.6 L386.8,171.9 L387.8,172.3 L388.8,172.4 L389.8,172.5 L390.8,172.3 L391.8,172.0 L392.8,171.7 L393.8,171.4 L394.8,171.5 L395.8,171.6 L396.8,171.9 L397.8,172.2 L398.8,172.3 L399.8,172.4 L400.8,172.3 L401.8,172.3 L402.8,172.0 L403.8,171.8 L404.8,171.9 L405.8,172.0 L406.8,172.0 L407.8,172.0 L408.8,172.1 L409.8,172.2 L410.8,172.0 L411.8,171.9 L412.8,172.2 L413.8,172.5 L414.8,172.6 L415.8,172.7 L416.8,172.3 L417.8,172.0 L418.8,171.9 L419.8,171.9 L420.8,172.2 L421.8,172.5 L422.8,172.3 L423.8,172.1 L424.8,172.4 L425.8,172.7 L426.8,172.6 L427.8,172.4 L428.8,172.5 L429.8,172.5 L430.8,172.6 L431.8,172.6 L432.8,172.4 L433.8,172.1 L434.8,172.1 L435.8,172.0 L436.8,172.0 L437.8,172.0 L438.8,172.2 L439.8,172.5 L440.8,172.6 L441.8,172.7 L442.8,172.4 L443.8,172.1 L444.8,172.4 L445.8,172.8 L446.8,172.6 L447.8,172.5 L448.8,172.3 L449.8,172.2 L450.8,172.3 L451.8,172.4 L452.8,172.7 L453.8,173.0 L454.8,172.9 L455.8,172.8 L456.8,172.8 L457.8,172.8 L458.8,172.9 L459.8,173.1 L460.8,173.2 L461.8,173.3 L462.8,173.2 L463.8,173.1 L464.8,172.9 L465.8,172.7 L466.8,172.7 L467.8,172.8 L468.8,173.0 L469.8,173.2 L470.8,173.2 L471.8,173.2 L472.8,173.1 L473.8,173.0 L474.5,172.9 L474.8,172.8 L475.8,172.7 L476.8,172.6 L477.8,172.6 L478.8,172.8 L479.8,173.0 L480.8,173.0 L481.8,172.9 L482.8,172.6 L483.8,172.3 L484.8,172.6 L485.8,172.9 L486.8,173.1 L487.8,173.3 L488.8,173.3 L489.8,173.3 L490.8,173.4 L491.8,173.5 L492.8,173.5 L493.8,173.5 L494.8,173.3 L495.8,173.1 L496.8,173.2 L497.8,173.3 L498.8,173.1 L499.8,172.9 L500.8,172.7 L501.8,172.4 L502.8,172.5 L503.8,172.6 L504.8,172.6 L505.8,172.6 L506.8,173.0 L507.8,173.3 L508.8,173.3 L509.8,173.3 L510.8,173.2 L511.8,173.1 L512.8,173.1 L513.8,173.1 L514.8,172.8 L515.8,172.6 L516.8,172.7 L517.8,172.8 L518.8,172.9 L519.8,173.0 L520.8,172.9 L521.8,172.7 L522.8,172.5 L523.8,172.4 L524.8,172.3 L525.8,172.3 L526.8,172.0 L527.8,171.2 L528.8,168.9 L529.8,163.1 L530.8,155.7 L531.2,154.6 L531.8,156.5 L532.8,163.9 L533.8,169.0 L534.8,171.0 L535.8,171.6 L536.8,172.0 L537.8,172.2 L538.8,172.2 L539.8,172.2 L540.8,171.8 L541.8,171.2 L542.8,170.3 L543.8,166.7 L544.8,151.8 L545.8,116.1 L546.8,88.2 L546.8,88.2 L547.8,115.6 L548.8,151.2 L549.8,166.1 L550.8,169.8 L551.8,171.0 L552.8,171.5 L553.8,171.7 L554.8,172.2 L555.8,172.6 L556.8,172.6 L557.8,172.6 L558.8,172.6 L559.8,172.5 L560.8,172.6 L561.8,172.7 L562.8,173.1 L563.8,173.5 L564.8,173.1 L565.8,172.7 L566.8,172.8 L567.8,172.8 L568.8,172.8 L569.8,172.8 L570.8,172.8 L571.8,172.7 L572.8,172.9 L573.8,173.0 L574.8,172.9 L575.8,172.9 L576.8,173.3 L577.8,173.6 L578.8,173.5 L579.8,173.4 L580.8,173.5 L581.8,173.5 L582.8,173.3 L583.8,173.0 L584.8,173.1 L585.8,173.2 L586.8,173.3 L587.8,173.3 L588.8,173.4 L589.8,173.5 L590.8,173.2 L591.8,172.9 L592.8,172.8 L593.8,172.5 L594.8,171.9 L595.8,170.1 L596.8,167.5 L597.5,166.7 L597.8,166.9 L598.8,168.8 L599.8,170.8 L600.8,172.1 L601.8,172.6 L602.8,172.8 L603.8,172.9 L604.8,172.6 L605.8,172.1 L606.8,171.2 L607.8,168.6 L608.8,163.8 L609.8,159.8 L610.0,159.7 L610.8,161.6 L611.8,166.3 L612.8,169.0 L613.8,169.3 L614.8,167.5 L615.8,159.3 L616.8,131.6 L617.8,80.7 L618.6,56.7 L618.8,58.5 L619.8,102.6 L620.8,146.1 L621.8,163.9 L622.8,168.9 L623.8,170.5 L624.8,171.3 L625.8,171.8 L626.8,172.1 L627.8,172.3 L628.8,172.4 L629.8,172.4 L630.8,172.5 L631.8,172.6 L632.8,172.9 L633.8,173.1 L634.8,173.1 L635.8,173.0 L636.8,172.9 L637.8,172.8 L638.8,173.2 L639.8,173.6 L640.8,173.4 L641.8,173.3 L642.8,173.6 L643.8,173.9 L644.8,173.8 L645.8,173.8 L646.8,173.6 L647.8,173.5 L648.8,173.7 L649.8,174.0 L650.8,174.1 L651.8,174.2 L652.8,173.9 L653.8,173.6 L654.8,173.3 L655.8,173.1 L656.8,173.2 L657.8,173.3 L658.8,173.0 L659.8,171.4 L660.8,167.4 L661.8,163.8 L662.0,163.6 L662.8,165.7 L663.8,170.1 L664.8,172.5 L665.8,173.2 L666.8,173.5 L667.8,173.7 L668.8,173.6 L669.8,173.4 L670.8,173.5 L671.8,173.5 L672.8,173.6 L673.8,173.6 L674.8,173.6 L675.8,173.6 L676.8,173.6 L677.8,173.6 L678.8,173.9 L679.8,174.1 L680.8,173.8 L681.8,173.6 L682.8,173.5 L683.8,173.4 L684.8,173.4 L685.8,173.5 L686.8,173.9 L687.8,174.3 L688.8,174.2 L689.8,174.0 L690.8,173.7 L691.8,173.4 L692.8,173.8 L693.8,174.1 L694.8,174.3 L695.8,174.4 L696.8,174.4 L697.8,174.4 L698.8,174.2 L699.8,173.9 L700.8,174.1 L701.8,174.2 L702.8,174.0 L703.8,173.8 L704.8,173.7 L705.8,173.5 L706.8,173.9 L707.8,174.2 L708.8,174.3 L709.8,174.4 L710.8,174.1 L711.8,173.7 L712.8,174.0 L713.8,174.2 L714.8,173.6 L715.8,172.5 L716.8,171.3 L717.8,170.4 L718.0,170.3 L718.8,170.7 L719.8,171.8 L720.8,172.8 L721.8,173.2 L722.8,173.4 L723.8,173.4 L724.8,173.8 L725.8,174.1 L726.8,174.0 L727.8,173.9 L728.8,173.8 L729.8,173.7 L730.8,173.7 L731.8,173.6 L732.8,173.7 L733.8,173.8 L734.8,174.1 L735.8,174.4 L736.8,174.4 L737.8,174.4 L738.8,174.1 L739.8,173.8 L740.8,174.0 L741.8,174.3 L742.8,174.3 L743.8,174.2 L744.8,174.2 L745.8,174.2 L746.8,174.2 L747.8,174.2 L748.8,174.3 L749.8,174.4 L750.8,174.5 L751.8,174.6 L752.8,174.5 L753.8,174.4 L754.8,174.4 L755.8,174.4 L756.8,174.4 L757.8,174.3 L758.8,174.3 L759.8,174.4 L760.8,174.3 L761.8,174.2 L762.8,174.2 L763.8,174.2 L764.8,174.2 L765.8,174.3 L766.8,174.4 L767.8,174.5 L768.8,174.3 L769.8,174.1 L770.8,174.4 L771.8,174.7 L772.8,174.6 L773.8,174.5 L774.8,174.6 L775.8,174.8 L776.8,174.7 L777.8,174.7 L778.8,174.8 L779.8,175.0 L780.8,174.9 L781.8,174.8 L782.8,174.6 L783.8,174.4 L784.8,174.4 L785.8,174.3 L786.8,174.4 L787.8,174.5 L788.8,174.6 L789.8,174.7 L790.8,174.8 L791.8,174.9 L792.8,174.5 L793.8,174.1 L794.8,174.0 L795.8,173.8 L796.8,173.8 L797.8,173.8 L798.8,173.7 L799.8,173.6 L800.8,173.4 L801.8,172.8 L802.8,171.8 L803.8,170.9 L804.0,170.9 L804.8,171.5 L805.8,172.7 L806.8,173.4 L807.8,173.7 L808.8,174.1 L809.8,174.4 L810.8,174.5 L811.8,174.6 L812.8,174.8 L813.8,175.0 L814.8,175.0 L815.8,175.1 L816.8,175.0 L817.8,174.9 L818.8,174.9 L819.8,175.0 L820.8,174.4 L821.8,173.9 L822.8,173.7 L823.8,173.5 L824.8,173.6 L825.8,173.0 L826.8,170.4 L827.8,165.0 L828.8,157.9 L829.7,154.5 L829.8,154.5 L830.8,159.3 L831.8,166.4 L832.8,171.0 L833.8,173.0 L834.8,173.8 L835.8,174.1 L836.8,174.1 L837.8,174.1 L838.8,174.1 L839.8,174.1 L840.8,174.0 L841.8,174.0 L842.8,174.3 L843.8,174.5 L844.8,174.8 L845.8,175.1 L846.8,175.2 L847.8,175.3 L848.8,175.3 L849.8,175.2 L850.8,175.3 L851.8,175.3 L852.8,175.0 L853.8,174.8 L854.8,174.6 L855.8,174.5 L856.8,174.8 L857.8,175.2 L858.8,175.1 L859.8,175.0 L860.8,175.0 L861.8,175.0 L862.8,174.7 L863.8,174.3 L864.8,174.3 L865.8,174.4 L866.8,174.5 L867.8,174.7 L868.8,174.9 L869.8,175.1 L870.8,175.2 L871.8,175.3 L872.8,175.3 L873.8,175.3 L874.8,175.0 L875.8,174.8 L876.8,174.8 L877.8,174.7 L878.8,175.0 L879.8,175.3 L880.8,175.4 L881.8,175.6 L882.8,175.3 L883.8,175.1 L884.8,174.9 L885.8,174.6 L886.8,174.8 L887.8,175.0 L888.8,175.0 L889.8,175.0 L890.8,174.9 L891.8,174.8 L892.8,174.7 L893.8,174.6 L894.8,174.7 L895.8,174.7 L896.8,174.9 L897.8,175.0 L898.8,174.8 L899.8,174.6 L900.8,174.8 L901.8,174.9 L902.8,175.2 L903.8,175.5 L904.8,175.5 L905.8,175.4 L906.8,175.1 L907.8,174.9 L908.8,174.9 L909.8,174.9 L910.8,174.7 L911.8,174.5 L912.8,174.8 L913.8,175.1 L914.8,175.2 L915.8,175.2 L916.8,175.0 L917.8,174.7 L918.8,174.8 L919.8,175.0 L920.8,175.1 L921.8,175.1 L922.8,175.1 L923.8,175.1 L924.8,175.0 L925.8,174.9 L926.8,174.9 L927.8,174.8 L928.8,174.8 L929.8,174.8 L930.8,175.1 L931.8,175.5 L932.8,175.2 L933.8,174.9 L934.8,175.0 L935.8,175.0 L936.8,174.9 L937.8,174.9 L938.8,174.7 L939.8,174.6 L940.8,174.6 L941.8,174.7 L942.8,174.6 L943.8,174.5 L944.8,174.5 L945.8,174.5 L946.8,174.5 L947.8,174.4 L948.8,174.3 L949.8,174.2 L950.8,174.1 L951.8,173.4 L952.8,170.9 L953.8,167.2 L954.8,163.7 L955.5,162.6 L955.8,162.8 L956.8,165.6 L957.8,169.3 L958.8,171.8 L959.8,172.9 L960.8,173.1 L961.8,172.3 L962.8,169.0 L963.8,160.8 L964.8,147.8 L965.7,141.2 L965.8,141.2 L966.8,150.4 L967.8,163.0 L968.8,170.0 L969.8,172.5 L970.8,173.4 L971.8,173.8 L972.8,174.3 L973.8,174.8 L974.8,175.1 L975.8,175.4 L976.8,175.3 L977.8,175.2 L978.8,175.0 L979.8,174.7 L980.8,174.8 L981.8,174.8 L982.8,174.8 L983.8,174.7 L984.8,175.0 L985.8,175.3 L986.8,175.1 L987.8,174.8 L988.8,174.7 L989.8,174.6 L990.8,174.8 L991.8,175.0 L992.8,175.1 L993.8,175.1 L994.8,175.0 L995.8,174.8 L996.8,174.2 L997.8,172.5 L998.8,170.0 L999.8,168.3 L999.9,168.3 L1000.8,169.5 L1001.8,172.2 L1002.8,174.2 L1003.8,175.2 L1004.8,175.2 L1005.8,175.0 L1006.8,175.1 L1007.8,175.1 L1008.8,175.0 L1009.8,175.0 L1010.8,175.2 L1011.8,175.3 L1012.8,175.4 L1013.8,175.5 L1014.8,175.3 L1015.8,175.0 L1016.8,175.1 L1017.8,175.2 L1018.8,175.3 L1019.8,175.4 L1020.8,175.4 L1021.8,175.3 L1022.8,175.4 L1023.8,175.4 L1024.8,175.4 L1025.8,175.4 L1026.8,175.5 L1027.8,175.5 L1028.8,175.3 L1029.8,175.2 L1030.8,175.1 L1031.8,175.0 L1032.8,174.8 L1033.8,174.6 L1034.8,175.1 L1035.8,175.5 L1036.8,175.6 L1037.8,175.7 L1038.8,175.5 L1039.8,175.3 L1040.8,175.5 L1041.8,175.8 L1042.8,175.8 L1043.8,175.9 L1044.8,175.5 L1045.8,175.1 L1046.8,175.3 L1047.8,175.6 L1048.8,175.4 L1049.8,175.3 L1050.8,175.2 L1051.8,175.1 L1052.8,175.0 L1053.8,175.0 L1054.8,175.0 L1055.8,175.1 L1056.8,174.9 L1057.8,174.7 L1058.8,174.7 L1059.8,174.6 L1060.8,174.6 L1061.8,174.7 L1062.8,174.8 L1063.8,174.9 L1064.8,174.8 L1065.8,174.8 L1066.8,174.8 L1067.8,174.7 L1068.8,175.1 L1069.8,175.5 L1070.8,175.4 L1071.8,175.2 L1072.8,175.3 L1073.8,175.3 L1074.8,175.4 L1075.8,175.4 L1076.8,175.6 L1077.8,175.8 L1078.8,175.5 L1079.8,175.1 L1080.8,175.0 L1081.8,175.0 L1082.8,175.3 L1083.8,175.6 L1084.8,175.8 L1085.8,175.9 L1086.8,175.9 L1087.8,176.0 L1088.8,175.8 L1089.8,175.6 L1090.8,175.4 L1091.8,175.3 L1092.8,175.1 L1093.8,175.0 L1094.8,175.3 L1095.8,175.7 L1096.8,175.7 L1097.8,175.8 L1098.8,175.7 L1099.8,175.5 L1100.8,175.6 L1101.8,175.8 L1102.8,175.5 L1103.8,175.2 L1104.8,175.3 L1105.8,175.4 L1106.8,175.6 L1107.8,175.8 L1108.8,175.5 L1109.8,175.1 L1110.8,175.3 L1111.8,175.4 L1112.8,175.2 L1113.8,175.1 L1114.8,175.4 L1115.8,175.7 L1116.8,175.8 L1117.8,175.9 L1118.8,175.8 L1119.8,175.7 L1120.8,175.6 L1121.8,175.4 L1122.8,175.1 L1123.8,174.9 L1124.8,175.1 L1125.8,175.2 L1126.8,175.2 L1127.8,175.2 L1128.8,175.2 L1129.8,175.2 L1130.8,175.0 L1131.8,174.9 L1132.8,175.3 L1133.8,175.7 L1134.8,175.6 L1135.8,175.5 L1136.8,175.4 L1137.8,175.4 L1138.8,175.3 L1139.8,174.9 L1140.8,174.0 L1141.8,173.3 L1142.0,173.2 L1142.8,173.5 L1143.8,174.4 L1144.8,175.1 L1145.8,175.3 L1146.8,175.6 L1147.8,175.8 L1148.8,175.6 L1149.8,175.4 L1150.8,175.6 L1151.8,175.8 L1152.8,175.4 L1153.8,175.0 L1154.8,175.3 L1155.8,175.6 L1156.8,175.5 L1157.8,175.4 L1158.8,175.4 L1159.8,175.4 L1160.8,175.5 L1161.8,175.5 L1162.8,174.3 L1163.8,171.9 L1164.8,168.1 L1165.8,165.1 L1166.0,165.0 L1166.8,166.8 L1167.8,171.0 L1168.8,173.8 L1169.8,175.0 L1170.8,175.3 L1171.8,175.3 L1172.8,175.5 L1173.8,175.7 L1174.8,175.7 L1175.8,175.7 L1176.8,175.8 L1177.8,175.9 L1178.8,175.9 L1179.8,175.8 L1180.8,175.6 L1181.8,175.4 L1182.8,175.3 L1183.8,175.2 L1184.8,175.1 L1185.8,175.0 L1186.8,174.9 L1187.8,174.9 L1188.8,174.9 L1189.8,174.8 L1190.8,175.3 L1191.8,175.8 L1192.8,175.5 L1193.8,175.2 L1194.8,175.4 L1195.8,175.6 L1196.8,175.3 L1197.8,175.1 L1198.8,175.5 L1199.8,175.9 L1200.8,175.8 L1201.8,175.7 L1202.8,175.5 L1203.8,175.2 L1204.8,175.5 L1205.8,175.8 L1206.8,175.9 L1207.8,176.1 L1208.8,176.2 L1209.8,176.3 L1210.8,175.9 L1211.8,175.5 L1212.8,175.5 L1213.8,175.4 L1214.8,175.6 L1215.8,175.7 L1216.8,175.6 L1217.8,175.4 L1218.8,175.5 L1219.8,175.6 L1220.8,175.7 L1221.8,175.8 L1222.8,175.9 L1223.8,175.9 L1224.8,176.0 L1225.8,176.1 L1226.8,176.0 L1227.8,176.0 L1228.8,175.8 L1229.8,175.5 L1230.8,175.7 L1231.8,175.9 L1232.8,175.7 L1233.8,175.6 L1234.8,175.4 L1235.8,175.2 L1236.8,175.1 L1237.8,175.0 L1238.8,175.2 L1239.8,175.5 L1240.8,175.5 L1241.8,175.4 L1242.8,175.3 L1243.8,175.1 L1244.8,175.3 L1245.8,175.4 L1246.8,175.4 L1247.8,175.4 L1248.8,175.4 L1249.8,175.3 L1250.8,175.5 L1251.8,175.6 L1252.8,175.6 L1253.8,175.6 L1254.8,175.5 L1255.8,175.5 L1256.8,175.7 L1257.8,175.9 L1258.8,175.7 L1259.8,175.4 L1260.8,173.6 L1261.8,169.3 L1262.8,164.0 L1263.4,162.6 L1263.8,163.4 L1264.8,168.4 L1265.8,172.6 L1266.8,174.7 L1267.8,175.4 L1268.8,174.8 L1269.8,173.7 L1270.8,172.3 L1271.8,171.1 L1272.0,171.1 L1272.8,172.1 L1273.8,174.0 L1274.8,175.1 L1275.8,175.6 L1276.8,175.8 L1277.8,175.8 L1278.8,175.6 L1279.8,175.3 L1280.8,175.2 L1281.8,175.1 L1282.8,175.6 L1283.8,176.0 L1284.8,175.6 L1285.8,175.3 L1286.8,175.2 L1287.8,175.2 L1288.8,175.3 L1289.8,175.4 L1290.8,175.7 L1291.8,175.9 L1292.8,175.9 L1293.8,175.9 L1294.8,176.1 L1295.8,176.3 L1296.8,176.2 L1297.8,176.1 L1298.8,175.9 L1299.8,175.6 L1300.8,175.8 L1301.8,175.9 L1302.8,175.5 L1303.8,174.8 L1304.8,173.6 L1305.8,171.8 L1306.8,170.4 L1307.7,170.0 L1307.8,170.0 L1308.8,171.2 L1309.8,173.2 L1310.8,174.6 L1311.8,175.3 L1312.8,175.5 L1313.8,175.5 L1314.8,175.4 L1315.8,175.3 L1316.8,175.2 L1317.8,175.2 L1318.8,175.1 L1319.8,175.0 L1320.8,175.0 L1321.8,175.0 L1322.8,175.2 L1323.8,175.4 L1324.8,175.8 L1325.8,176.1 L1326.8,176.2" stroke="#0000FF" stroke-width="9.3"/>
<path d="M193.8,266.8 L194.8,266.9 L195.8,266.9 L196.8,267.1 L197.8,267.2 L198.8,266.8 L199.8,266.5 L200.8,266.4 L201.8,266.4 L202.8,266.3 L203.8,266.2 L204.8,266.3 L205.8,266.3 L206.8,266.6 L207.8,266.9 L208.8,266.6 L209.8,266.4 L210.8,266.6 L211.8,266.7 L212.8,266.6 L213.8,266.5 L214.8,266.5 L215.8,266.5 L216.8,266.6 L217.8,266.7 L218.8,266.9 L219.8,267.2 L220.8,267.1 L221.8,267.1 L222.8,266.7 L223.8,266.4 L224.8,266.4 L225.8,266.5 L226.8,266.4 L227.8,266.4 L228.8,266.8 L229.8,267.2 L230.8,267.2 L231.8,267.3 L232.8,267.4 L233.8,267.4 L234.8,267.4 L235.8,267.4 L236.8,267.4 L237.8,267.4 L238.8,267.5 L239.8,267.6 L240.8,267.5 L241.8,267.5 L242.8,267.2 L243.8,266.9 L244.8,267.1 L245.8,267.3 L246.8,267.2 L247.8,267.1 L248.8,267.2 L249.8,267.3 L250.8,267.3 L251.8,267.2 L252.8,267.1 L253.8,267.0 L254.8,266.9 L255.8,266.9 L256.8,266.9 L257.8,266.9 L258.8,266.8 L259.8,266.8 L260.8,266.6 L261.8,266.5 L262.8,266.9 L263.8,267.2 L264.8,267.3 L265.8,267.4 L266.8,267.5 L267.8,267.7 L268.8,267.5 L269.8,267.4 L270.8,267.3 L271.8,267.2 L272.8,267.2 L273.8,267.3 L274.8,266.9 L275.8,266.5 L276.8,266.7 L277.8,266.8 L278.8,266.6 L279.8,266.3 L280.8,265.9 L281.8,265.3 L282.8,264.1 L283.8,259.1 L284.8,242.6 L285.8,216.5 L286.3,210.8 L286.8,216.5 L287.8,242.9 L288.8,259.8 L289.8,265.0 L290.8,266.5 L291.8,267.3 L292.8,267.6 L293.8,267.8 L294.8,267.9 L295.8,267.9 L296.8,268.2 L297.8,268.5 L298.8,268.6 L299.8,268.6 L300.8,268.6 L301.8,268.6 L302.8,268.6 L303.8,268.6 L304.8,268.8 L305.8,268.9 L306.8,268.8 L307.8,268.6 L308.8,268.9 L309.8,269.3 L310.8,269.5 L311.8,269.8 L312.8,269.6 L313.8,269.4 L314.8,269.5 L315.8,269.7 L316.8,269.8 L317.8,270.0 L318.8,269.6 L319.8,269.1 L320.8,269.1 L321.8,269.0 L322.8,269.4 L323.8,269.7 L324.8,269.9 L325.8,270.0 L326.8,270.0 L327.8,269.9 L328.8,269.6 L329.8,269.4 L330.8,269.4 L331.8,269.5 L332.8,269.8 L333.8,270.1 L334.8,270.2 L335.8,270.3 L336.8,270.3 L337.8,270.3 L338.8,270.0 L339.8,269.7 L340.8,269.9 L341.8,270.2 L342.8,270.0 L343.8,269.9 L344.8,270.0 L345.8,270.2 L346.8,269.9 L347.8,269.6 L348.8,270.0 L349.8,270.4 L350.8,270.4 L351.8,270.3 L352.8,270.3 L353.8,270.4 L354.8,270.1 L355.8,269.9 L356.8,270.0 L357.8,270.2 L358.8,270.2 L359.8,270.3 L360.8,270.3 L361.8,270.3 L362.8,270.2 L363.8,270.1 L364.8,270.3 L365.8,270.5 L366.8,270.3 L367.8,270.2 L368.8,270.1 L369.8,270.1 L370.8,270.0 L371.8,269.9 L372.8,270.2 L373.8,270.5 L374.8,270.3 L375.8,270.0 L376.8,270.0 L377.8,270.1 L378.8,270.0 L379.8,269.9 L380.8,270.2 L381.8,270.5 L382.8,270.6 L383.8,270.6 L384.8,270.7 L385.8,270.7 L386.8,270.4 L387.8,270.2 L388.8,270.3 L389.8,270.5 L390.8,270.5 L391.8,270.5 L392.8,270.4 L393.8,270.2 L394.8,270.2 L395.8,270.1 L396.8,270.6 L397.8,271.2 L398.8,270.9 L399.8,270.5 L400.8,270.6 L401.8,270.6 L402.8,270.6 L403.8,270.5 L404.8,270.7 L405.8,270.9 L406.8,270.7 L407.8,270.5 L408.8,270.6 L409.8,270.8 L410.8,270.8 L411.8,270.8 L412.8,271.0 L413.8,271.3 L414.8,270.9 L415.8,270.6 L416.8,270.6 L417.8,270.7 L418.8,270.8 L419.8,270.9 L420.8,271.3 L421.8,271.6 L422.8,271.4 L423.8,271.3 L424.8,271.2 L425.8,271.1 L426.8,271.2 L427.8,271.3 L428.8,271.1 L429.8,271.0 L430.8,270.8 L431.8,270.6 L432.8,270.8 L433.8,271.0 L434.8,271.3 L435.8,271.6 L436.8,271.6 L437.8,271.6 L438.8,271.3 L439.8,271.1 L440.8,271.2 L441.8,271.4 L442.8,271.6 L443.8,271.7 L444.8,271.4 L445.8,271.1 L446.8,271.3 L447.8,271.4 L448.8,271.3 L449.8,271.2 L450.8,271.1 L451.8,271.0 L452.8,271.0 L453.8,271.0 L454.8,271.0 L455.8,270.9 L456.8,271.0 L457.8,271.1 L458.8,271.0 L459.8,270.8 L460.8,271.0 L461.8,271.1 L462.8,271.0 L463.8,270.9 L464.8,271.2 L465.8,271.6 L466.8,271.6 L467.8,271.6 L468.8,271.3 L469.8,271.0 L470.8,271.3 L471.8,271.7 L472.8,271.5 L473.8,271.2 L474.5,271.3 L474.8,271.3 L475.8,271.4 L476.8,271.5 L477.8,271.6 L478.8,271.5 L479.8,271.4 L480.8,271.4 L481.8,271.3 L482.8,271.4 L483.8,271.5 L484.8,271.3 L485.8,271.2 L486.8,271.5 L487.8,271.9 L488.8,271.6 L489.8,271.3 L490.8,271.6 L491.8,271.9 L492.8,271.7 L493.8,271.4 L494.8,271.4 L495.8,271.4 L496.8,271.4 L497.8,271.5 L498.8,271.3 L499.8,271.1 L500.8,271.1 L501.8,271.1 L502.8,271.3 L503.8,271.4 L504.8,271.5 L505.8,271.6 L506.8,271.9 L507.8,272.1 L508.8,272.3 L509.8,272.4 L510.8,271.9 L511.8,271.5 L512.8,271.6 L513.8,271.7 L514.8,271.6 L515.8,271.4 L516.8,271.7 L517.8,272.0 L518.8,271.8 L519.8,271.6 L520.8,271.9 L521.8,272.1 L522.8,272.0 L523.8,271.9 L524.8,271.6 L525.8,271.3 L526.8,271.2 L527.8,271.0 L528.8,271.1 L529.8,271.2 L530.8,271.5 L531.8,271.8 L532.8,271.5 L533.8,271.2 L534.8,271.2 L535.8,271.2 L536.8,271.1 L537.8,270.9 L538.8,270.6 L539.8,270.3 L540.8,270.1 L541.8,269.5 L542.8,267.8 L543.8,262.7 L544.8,243.6 L545.8,197.2 L546.8,160.7 L546.8,160.7 L547.8,197.2 L548.8,244.0 L549.8,263.5 L550.8,268.2 L551.8,269.5 L552.8,270.5 L553.8,271.1 L554.8,271.2 L555.8,271.3 L556.8,271.4 L557.8,271.6 L558.8,271.7 L559.8,271.8 L560.8,272.0 L561.8,272.2 L562.8,272.3 L563.8,272.4 L564.8,272.0 L565.8,271.6 L566.8,271.5 L567.8,271.5 L568.8,271.7 L569.8,271.9 L570.8,272.1 L571.8,272.3 L572.8,272.2 L573.8,272.2 L574.8,272.0 L575.8,271.9 L576.8,272.3 L577.8,272.6 L578.8,272.3 L579.8,272.1 L580.8,271.9 L581.8,271.7 L582.8,271.6 L583.8,271.5 L584.8,271.5 L585.8,271.4 L586.8,271.8 L587.8,272.2 L588.8,272.0 L589.8,271.7 L590.8,271.9 L591.8,272.2 L592.8,272.3 L593.8,272.5 L594.8,272.6 L595.8,272.7 L596.8,272.6 L597.8,272.5 L598.8,272.2 L599.8,271.9 L600.8,271.9 L601.8,271.9 L602.8,271.9 L603.8,271.8 L604.8,271.4 L605.8,270.3 L606.8,267.0 L607.8,260.4 L608.8,253.5 L609.3,252.2 L609.8,253.5 L610.8,260.0 L611.8,265.7 L612.8,268.3 L613.8,268.7 L614.8,268.4 L615.8,266.4 L616.8,257.0 L617.8,227.4 L618.8,177.2 L619.5,158.4 L619.8,162.2 L620.8,208.3 L621.8,248.7 L622.8,264.1 L623.8,268.2 L624.8,269.3 L625.8,269.8 L626.8,270.3 L627.8,270.5 L628.8,270.9 L629.8,271.2 L630.8,271.4 L631.8,271.5 L632.8,272.0 L633.8,272.4 L634.8,272.2 L635.8,272.0 L636.8,272.3 L637.8,272.6 L638.8,272.7 L639.8,272.8 L640.8,272.6 L641.8,272.4 L642.8,272.6 L643.8,272.9 L644.8,272.9 L645.8,272.9 L646.8,272.7 L647.8,272.5 L648.8,272.4 L649.8,272.2 L650.8,272.3 L651.8,272.4 L652.8,272.7 L653.8,272.9 L654.8,272.8 L655.8,272.6 L656.8,272.3 L657.8,272.0 L658.8,272.0 L659.8,271.7 L660.8,270.9 L661.8,268.2 L662.8,262.7 L663.8,258.9 L663.8,258.9 L664.8,262.7 L665.8,268.3 L666.8,270.8 L667.8,271.5 L668.8,272.1 L669.8,272.6 L670.8,272.4 L671.8,272.2 L672.8,272.2 L673.8,272.1 L674.8,272.3 L675.8,272.6 L676.8,272.5 L677.8,272.4 L678.8,272.8 L679.8,273.1 L680.8,272.9 L681.8,272.8 L682.8,272.8 L683.8,272.8 L684.8,273.0 L685.8,273.1 L686.8,272.9 L687.8,272.6 L688.8,272.8 L689.8,273.0 L690.8,273.0 L691.8,273.0 L692.8,272.9 L693.8,272.8 L694.8,273.1 L695.8,273.3 L696.8,272.9 L697.8,272.5 L698.8,272.8 L699.8,273.1 L700.8,272.9 L701.8,272.6 L702.8,272.9 L703.8,273.2 L704.8,272.9 L705.8,272.6 L706.8,272.4 L707.8,272.3 L708.8,272.5 L709.8,272.7 L710.8,273.0 L711.8,273.3 L712.8,273.1 L713.8,272.8 L714.8,272.8 L715.8,272.9 L716.8,273.0 L717.8,273.1 L718.8,272.9 L719.8,272.7 L720.8,272.8 L721.8,272.9 L722.8,272.7 L723.8,272.4 L724.8,272.6 L725.8,272.8 L726.8,273.0 L727.8,273.2 L728.8,273.1 L729.8,272.9 L730.8,272.8 L731.8,272.7 L732.8,272.6 L733.8,272.4 L734.8,272.8 L735.8,273.1 L736.8,273.1 L737.8,273.0 L738.8,273.3 L739.8,273.5 L740.8,273.5 L741.8,273.5 L742.8,273.1 L743.8,272.8 L744.8,273.1 L745.8,273.5 L746.8,273.6 L747.8,273.7 L748.8,273.7 L749.8,273.7 L750.8,273.7 L751.8,273.7 L752.8,273.6 L753.8,273.5 L754.8,273.5 L755.8,273.5 L756.8,273.5 L757.8,273.5 L758.8,273.4 L759.8,273.4 L760.8,273.2 L761.8,273.0 L762.8,272.9 L763.8,272.7 L764.8,273.0 L765.8,273.3 L766.8,273.4 L767.8,273.4 L768.8,273.1 L769.8,272.8 L770.8,273.0 L771.8,273.3 L772.8,273.3 L773.8,273.4 L774.8,273.4 L775.8,273.3 L776.8,273.5 L777.8,273.6 L778.8,273.7 L779.8,273.8 L780.8,273.6 L781.8,273.3 L782.8,273.5 L783.8,273.7 L784.8,273.5 L785.8,273.4 L786.8,273.4 L787.8,273.4 L788.8,273.2 L789.8,273.0 L790.8,272.7 L791.8,272.0 L792.8,271.0 L793.0,270.9 L793.8,271.2 L794.8,272.4 L795.8,273.4 L796.8,273.4 L797.8,273.3 L798.8,273.4 L799.8,273.5 L800.8,273.7 L801.8,273.9 L802.8,273.8 L803.8,273.7 L804.8,273.6 L805.8,273.4 L806.8,273.1 L807.8,272.9 L808.8,273.1 L809.8,273.2 L810.8,273.2 L811.8,273.3 L812.8,273.5 L813.8,273.7 L814.8,273.7 L815.8,273.8 L816.8,273.9 L817.8,274.0 L818.8,273.7 L819.8,273.4 L820.8,273.2 L821.8,273.0 L822.8,273.0 L823.8,272.8 L824.8,272.5 L825.8,271.5 L826.8,268.1 L827.8,261.5 L828.8,253.0 L829.7,249.1 L829.8,249.2 L830.8,254.6 L831.8,262.9 L832.8,268.6 L833.8,271.3 L834.8,272.2 L835.8,272.6 L836.8,273.1 L837.8,273.6 L838.8,273.4 L839.8,273.2 L840.8,273.5 L841.8,273.9 L842.8,273.7 L843.8,273.4 L844.8,273.3 L845.8,273.2 L846.8,273.6 L847.8,274.0 L848.8,273.7 L849.8,273.3 L850.8,273.2 L851.8,273.1 L852.8,273.1 L853.8,273.1 L854.8,273.1 L855.8,273.0 L856.8,273.2 L857.8,273.4 L858.8,273.4 L859.8,273.3 L860.8,273.3 L861.8,273.2 L862.8,273.2 L863.8,273.1 L864.8,273.4 L865.8,273.8 L866.8,273.5 L867.8,273.3 L868.8,273.3 L869.8,273.4 L870.8,273.6 L871.8,273.8 L872.8,274.0 L873.8,274.3 L874.8,274.2 L875.8,274.2 L876.8,274.2 L877.8,274.2 L878.8,274.2 L879.8,274.2 L880.8,274.3 L881.8,274.3 L882.8,274.4 L883.8,274.4 L884.8,274.1 L885.8,273.7 L886.8,273.5 L887.8,273.4 L888.8,273.6 L889.8,273.9 L890.8,273.9 L891.8,274.0 L892.8,274.0 L893.8,274.0 L894.8,274.1 L895.8,274.3 L896.8,274.0 L897.8,273.7 L898.8,273.9 L899.8,274.1 L900.8,274.1 L901.8,274.0 L902.8,273.9 L903.8,273.9 L904.8,273.8 L905.8,273.7 L906.8,273.7 L907.8,273.7 L908.8,273.8 L909.8,274.0 L910.8,274.0 L911.8,274.0 L912.8,274.2 L913.8,274.5 L914.8,274.2 L915.8,273.9 L916.8,274.0 L917.8,274.2 L918.8,273.9 L919.8,273.6 L920.8,273.8 L921.8,274.0 L922.8,273.8 L923.8,273.6 L924.8,273.9 L925.8,274.3 L926.8,274.4 L927.8,274.6 L928.8,274.2 L929.8,273.9 L930.8,274.0 L931.8,274.2 L932.8,274.0 L933.8,273.7 L934.8,273.6 L935.8,273.6 L936.8,273.5 L937.8,273.3 L938.8,273.5 L939.8,273.6 L940.8,273.5 L941.8,273.3 L942.8,273.6 L943.8,273.8 L944.8,273.8 L945.8,273.8 L946.8,273.6 L947.8,273.4 L948.8,273.4 L949.8,273.2 L950.8,272.2 L951.8,270.3 L952.8,267.0 L953.8,262.7 L954.8,259.8 L955.0,259.7 L955.8,261.1 L956.8,264.9 L957.8,268.4 L958.8,270.9 L959.8,272.2 L960.8,271.9 L961.8,270.8 L962.8,267.8 L963.8,259.5 L964.8,245.2 L965.8,233.4 L966.0,233.0 L966.8,239.5 L967.8,255.3 L968.8,266.2 L969.8,270.7 L970.8,272.2 L971.8,272.7 L972.8,272.8 L973.8,272.8 L974.8,272.8 L975.8,272.8 L976.8,273.1 L977.8,273.4 L978.8,273.4 L979.8,273.4 L980.8,273.3 L981.8,273.3 L982.8,273.7 L983.8,274.1 L984.8,273.7 L985.8,273.4 L986.8,273.4 L987.8,273.5 L988.8,273.8 L989.8,274.0 L990.8,274.1 L991.8,274.1 L992.8,273.8 L993.8,273.4 L994.8,273.6 L995.8,273.7 L996.8,273.4 L997.8,272.4 L998.8,270.0 L999.8,266.5 L1000.7,264.8 L1000.8,264.9 L1001.8,267.6 L1002.8,271.1 L1003.8,273.1 L1004.8,273.8 L1005.8,273.9 L1006.8,274.1 L1007.8,274.2 L1008.8,274.1 L1009.8,274.0 L1010.8,274.0 L1011.8,274.0 L1012.8,274.1 L1013.8,274.3 L1014.8,274.2 L1015.8,274.2 L1016.8,274.0 L1017.8,273.9 L1018.8,273.6 L1019.8,273.4 L1020.8,273.7 L1021.8,274.1 L1022.8,274.0 L1023.8,273.8 L1024.8,273.8 L1025.8,273.8 L1026.8,273.8 L1027.8,273.7 L1028.8,273.8 L1029.8,273.9 L1030.8,273.9 L1031.8,273.8 L1032.8,274.1 L1033.8,274.3 L1034.8,274.2 L1035.8,274.2 L1036.8,274.1 L1037.8,274.1 L1038.8,274.2 L1039.8,274.3 L1040.8,274.2 L1041.8,274.0 L1042.8,274.0 L1043.8,274.0 L1044.8,274.1 L1045.8,274.3 L1046.8,274.3 L1047.8,274.3 L1048.8,274.3 L1049.8,274.3 L1050.8,274.4 L1051.8,274.5 L1052.8,274.3 L1053.8,274.2 L1054.8,274.1 L1055.8,274.1 L1056.8,273.9 L1057.8,273.6 L1058.8,273.6 L1059.8,273.6 L1060.8,273.7 L1061.8,273.8 L1062.8,273.8 L1063.8,273.9 L1064.8,274.1 L1065.8,274.4 L1066.8,274.0 L1067.8,273.6 L1068.8,273.6 L1069.8,273.7 L1070.8,273.9 L1071.8,274.1 L1072.8,274.1 L1073.8,274.0 L1074.8,274.2 L1075.8,274.3 L1076.8,274.0 L1077.8,273.7 L1078.8,273.9 L1079.8,274.2 L1080.8,274.1 L1081.8,273.9 L1082.8,274.0 L1083.8,274.0 L1084.8,273.8 L1085.8,273.5 L1086.8,273.6 L1087.8,273.7 L1088.8,274.0 L1089.8,274.2 L1090.8,274.3 L1091.8,274.3 L1092.8,274.2 L1093.8,274.1 L1094.8,274.0 L1095.8,273.9 L1096.8,273.7 L1097.8,273.4 L1098.8,273.7 L1099.8,274.0 L1100.8,274.0 L1101.8,273.9 L1102.8,274.0 L1103.8,274.2 L1104.8,274.2 L1105.8,274.1 L1106.8,274.0 L1107.8,273.9 L1108.8,274.1 L1109.8,274.3 L1110.8,274.0 L1111.8,273.6 L1112.8,274.0 L1113.8,274.4 L1114.8,274.0 L1115.8,273.6 L1116.8,274.0 L1117.8,274.4 L1118.8,274.3 L1119.8,274.2 L1120.8,274.1 L1121.8,273.9 L1122.8,274.2 L1123.8,274.4 L1124.8,274.3 L1125.8,274.1 L1126.8,274.0 L1127.8,274.0 L1128.8,273.7 L1129.8,273.4 L1130.8,273.8 L1131.8,274.1 L1132.8,274.1 L1133.8,274.1 L1134.8,273.9 L1135.8,273.6 L1136.8,273.5 L1137.8,273.2 L1138.8,273.1 L1139.8,272.6 L1140.8,271.7 L1141.8,271.1 L1142.0,271.1 L1142.8,271.6 L1143.8,272.9 L1144.8,273.6 L1145.8,273.8 L1146.8,273.6 L1147.8,273.3 L1148.8,273.7 L1149.8,274.1 L1150.8,273.8 L1151.8,273.6 L1152.8,273.8 L1153.8,274.0 L1154.8,274.0 L1155.8,273.9 L1156.8,274.1 L1157.8,274.3 L1158.8,273.9 L1159.8,273.5 L1160.8,273.7 L1161.8,273.8 L1162.8,273.6 L1163.8,272.7 L1164.8,270.1 L1165.8,266.4 L1166.7,264.9 L1166.8,264.9 L1167.8,267.4 L1168.8,270.6 L1169.8,272.4 L1170.8,273.3 L1171.8,273.8 L1172.8,274.1 L1173.8,274.3 L1174.8,274.3 L1175.8,274.2 L1176.8,274.1 L1177.8,274.0 L1178.8,274.0 L1179.8,274.0 L1180.8,273.8 L1181.8,273.6 L1182.8,273.7 L1183.8,273.8 L1184.8,273.6 L1185.8,273.4 L1186.8,273.7 L1187.8,274.0 L1188.8,273.7 L1189.8,273.5 L1190.8,273.6 L1191.8,273.8 L1192.8,273.7 L1193.8,273.5 L1194.8,273.7 L1195.8,273.9 L1196.8,273.6 L1197.8,273.4 L1198.8,273.3 L1199.8,273.2 L1200.8,273.5 L1201.8,273.8 L1202.8,274.0 L1203.8,274.1 L1204.8,274.3 L1205.8,274.4 L1206.8,274.3 L1207.8,274.3 L1208.8,274.4 L1209.8,274.6 L1210.8,274.1 L1211.8,273.7 L1212.8,273.9 L1213.8,274.0 L1214.8,274.0 L1215.8,274.1 L1216.8,273.9 L1217.8,273.6 L1218.8,273.5 L1219.8,273.4 L1220.8,273.4 L1221.8,273.5 L1222.8,273.6 L1223.8,273.8 L1224.8,274.0 L1225.8,274.2 L1226.8,274.2 L1227.8,274.2 L1228.8,274.2 L1229.8,274.1 L1230.8,273.8 L1231.8,273.5 L1232.8,273.8 L1233.8,274.0 L1234.8,274.0 L1235.8,274.0 L1236.8,273.8 L1237.8,273.5 L1238.8,273.7 L1239.8,273.9 L1240.8,273.8 L1241.8,273.6 L1242.8,273.6 L1243.8,273.6 L1244.8,273.7 L1245.8,273.7 L1246.8,273.9 L1247.8,274.1 L1248.8,273.8 L1249.8,273.5 L1250.8,273.6 L1251.8,273.7 L1252.8,273.6 L1253.8,273.5 L1254.8,273.7 L1255.8,273.9 L1256.8,274.0 L1257.8,274.2 L1258.8,273.8 L1259.8,273.5 L1260.8,273.4 L1261.8,272.9 L1262.8,271.0 L1263.8,268.5 L1264.6,267.4 L1264.8,267.4 L1265.8,269.1 L1266.8,271.4 L1267.8,272.7 L1268.8,273.3 L1269.8,273.6 L1270.8,273.9 L1271.8,274.1 L1272.8,274.1 L1273.8,274.0 L1274.8,273.7 L1275.8,273.3 L1276.8,273.7 L1277.8,274.0 L1278.8,274.0 L1279.8,274.0 L1280.8,273.9 L1281.8,273.8 L1282.8,273.7 L1283.8,273.6 L1284.8,273.6 L1285.8,273.7 L1286.8,273.9 L1287.8,274.0 L1288.8,273.8 L1289.8,273.7 L1290.8,273.5 L1291.8,273.4 L1292.8,273.8 L1293.8,274.1 L1294.8,274.0 L1295.8,273.9 L1296.8,273.6 L1297.8,273.3 L1298.8,273.7 L1299.8,274.1 L1300.8,273.7 L1301.8,273.3 L1302.8,273.2 L1303.8,273.0 L1304.8,272.3 L1305.8,271.1 L1306.8,269.2 L1307.8,268.1 L1308.0,268.0 L1308.8,268.8 L1309.8,270.8 L1310.8,272.1 L1311.8,272.8 L1312.8,273.3 L1313.8,273.6 L1314.8,273.9 L1315.8,274.2 L1316.8,274.0 L1317.8,273.9 L1318.8,274.0 L1319.8,274.1 L1320.8,274.0 L1321.8,273.9 L1322.8,274.0 L1323.8,274.1 L1324.8,274.3 L1325.8,274.5 L1326.8,274.2" stroke="#008080" stroke-width="9.3"/>
<path d="M193.8,363.1 L194.8,363.1 L195.8,363.2 L196.8,363.4 L197.8,363.6 L198.8,363.2 L199.8,362.9 L200.8,362.8 L201.8,362.7 L202.8,363.0 L203.8,363.2 L204.8,363.3 L205.8,363.3 L206.8,363.1 L207.8,362.9 L208.8,363.1 L209.8,363.2 L210.8,363.1 L211.8,363.0 L212.8,363.2 L213.8,363.4 L214.8,363.1 L215.8,362.8 L216.8,362.7 L217.8,362.7 L218.8,363.1 L219.8,363.5 L220.8,363.3 L221.8,363.1 L222.8,363.0 L223.8,362.9 L224.8,363.2 L225.8,363.4 L226.8,363.4 L227.8,363.4 L228.8,363.1 L229.8,362.9 L230.8,363.0 L231.8,363.2 L232.8,363.3 L233.8,363.4 L234.8,363.2 L235.8,362.9 L236.8,363.1 L237.8,363.3 L238.8,363.1 L239.8,362.9 L240.8,362.9 L241.8,363.0 L242.8,362.8 L243.8,362.7 L244.8,362.8 L245.8,362.8 L246.8,363.2 L247.8,363.7 L248.8,363.5 L249.8,363.3 L250.8,363.6 L251.8,363.9 L252.8,363.7 L253.8,363.4 L254.8,363.5 L255.8,363.5 L256.8,363.7 L257.8,363.8 L258.8,363.8 L259.8,363.7 L260.8,363.4 L261.8,363.0 L262.8,363.2 L263.8,363.4 L264.8,363.5 L265.8,363.5 L266.8,363.3 L267.8,363.1 L268.8,363.0 L269.8,362.8 L270.8,363.2 L271.8,363.6 L272.8,363.6 L273.8,363.5 L274.8,363.2 L275.8,363.0 L276.8,363.0 L277.8,362.9 L278.8,362.2 L279.8,359.8 L280.8,355.9 L281.5,354.5 L281.8,355.0 L282.8,359.0 L283.8,362.3 L284.8,363.2 L285.8,363.4 L286.8,363.9 L287.8,364.4 L288.8,364.2 L289.8,364.0 L290.8,364.1 L291.8,364.3 L292.8,364.2 L293.8,364.2 L294.8,364.7 L295.8,365.1 L296.8,365.0 L297.8,364.8 L298.8,365.1 L299.8,365.4 L300.8,365.2 L301.8,365.0 L302.8,365.2 L303.8,365.4 L304.8,365.6 L305.8,365.7 L306.8,365.7 L307.8,365.7 L308.8,365.7 L309.8,365.6 L310.8,365.7 L311.8,365.7 L312.8,365.7 L313.8,365.7 L314.8,365.8 L315.8,365.9 L316.8,365.6 L317.8,365.4 L318.8,365.5 L319.8,365.7 L320.8,365.6 L321.8,365.5 L322.8,365.9 L323.8,366.2 L324.8,366.4 L325.8,366.5 L326.8,366.1 L327.8,365.7 L328.8,365.6 L329.8,365.5 L330.8,365.8 L331.8,366.1 L332.8,366.2 L333.8,366.2 L334.8,365.9 L335.8,365.6 L336.8,365.9 L337.8,366.2 L338.8,366.5 L339.8,366.7 L340.8,366.5 L341.8,366.3 L342.8,366.2 L343.8,366.1 L344.8,366.2 L345.8,366.3 L346.8,366.6 L347.8,366.8 L348.8,366.5 L349.8,366.3 L350.8,366.2 L351.8,366.2 L352.8,366.1 L353.8,366.0 L354.8,366.3 L355.8,366.5 L356.8,366.5 L357.8,366.5 L358.8,366.4 L359.8,366.3 L360.8,366.3 L361.8,366.4 L362.8,366.2 L363.8,366.0 L364.8,366.1 L365.8,366.3 L366.8,366.7 L367.8,367.1 L368.8,367.0 L369.8,366.9 L370.8,366.8 L371.8,366.6 L372.8,366.9 L373.8,367.2 L374.8,367.0 L375.8,366.8 L376.8,366.7 L377.8,366.6 L378.8,366.4 L379.8,366.3 L380.8,366.3 L381.8,366.4 L382.8,366.4 L383.8,366.5 L384.8,366.5 L385.8,366.5 L386.8,366.9 L387.8,367.3 L388.8,367.1 L389.8,366.9 L390.8,366.8 L391.8,366.8 L392.8,367.0 L393.8,367.2 L394.8,367.4 L395.8,367.6 L396.8,367.4 L397.8,367.1 L398.8,367.3 L399.8,367.5 L400.8,367.4 L401.8,367.2 L402.8,367.3 L403.8,367.3 L404.8,367.4 L405.8,367.4 L406.8,367.6 L407.8,367.9 L408.8,367.8 L409.8,367.8 L410.8,367.6 L411.8,367.5 L412.8,367.7 L413.8,367.8 L414.8,367.6 L415.8,367.4 L416.8,367.3 L417.8,367.3 L418.8,367.6 L419.8,367.9 L420.8,367.8 L421.8,367.6 L422.8,367.7 L423.8,367.8 L424.8,367.6 L425.8,367.4 L426.8,367.7 L427.8,367.9 L428.8,367.9 L429.8,367.8 L430.8,367.6 L431.8,367.3 L432.8,367.7 L433.8,368.0 L434.8,367.8 L435.8,367.7 L436.8,367.6 L437.8,367.5 L438.8,367.4 L439.8,367.3 L440.8,367.2 L441.8,367.1 L442.8,367.1 L443.8,367.2 L444.8,367.5 L445.8,367.7 L446.8,367.5 L447.8,367.3 L448.8,367.3 L449.8,367.3 L450.8,367.4 L451.8,367.6 L452.8,367.7 L453.8,367.8 L454.8,367.7 L455.8,367.6 L456.8,367.9 L457.8,368.1 L458.8,367.8 L459.8,367.6 L460.8,367.6 L461.8,367.6 L462.8,367.7 L463.8,367.7 L464.8,367.6 L465.8,367.4 L466.8,367.4 L467.8,367.4 L468.8,367.4 L469.8,367.4 L470.8,367.7 L471.8,368.0 L472.8,367.8 L473.8,367.6 L474.5,367.7 L474.8,367.8 L475.8,368.0 L476.8,367.9 L477.8,367.7 L478.8,367.9 L479.8,368.1 L480.8,368.1 L481.8,368.2 L482.8,368.1 L483.8,367.9 L484.8,368.2 L485.8,368.5 L486.8,368.4 L487.8,368.4 L488.8,368.3 L489.8,368.2 L490.8,367.9 L491.8,367.6 L492.8,367.7 L493.8,367.8 L494.8,367.8 L495.8,367.8 L496.8,367.9 L497.8,368.0 L498.8,368.3 L499.8,368.6 L500.8,368.6 L501.8,368.7 L502.8,368.2 L503.8,367.8 L504.8,368.0 L505.8,368.3 L506.8,368.5 L507.8,368.7 L508.8,368.5 L509.8,368.4 L510.8,368.1 L511.8,367.8 L512.8,368.1 L513.8,368.5 L514.8,368.3 L515.8,368.2 L516.8,368.5 L517.8,368.7 L518.8,368.7 L519.8,368.7 L520.8,368.7 L521.8,368.6 L522.8,368.7 L523.8,368.7 L524.8,368.2 L525.8,367.7 L526.8,367.8 L527.8,367.7 L528.8,366.4 L529.8,364.0 L530.8,361.6 L531.2,361.3 L531.8,361.8 L532.8,364.2 L533.8,366.3 L534.8,367.3 L535.8,367.6 L536.8,367.4 L537.8,367.0 L538.8,367.1 L539.8,367.0 L540.8,366.9 L541.8,366.6 L542.8,365.5 L543.8,361.8 L544.8,347.8 L545.8,314.0 L546.8,287.4 L546.8,287.4 L547.8,313.7 L548.8,348.0 L549.8,362.3 L550.8,365.5 L551.8,366.3 L552.8,367.1 L553.8,367.6 L554.8,367.8 L555.8,368.0 L556.8,367.8 L557.8,367.6 L558.8,368.1 L559.8,368.6 L560.8,368.3 L561.8,368.1 L562.8,368.5 L563.8,368.8 L564.8,368.9 L565.8,369.0 L566.8,369.0 L567.8,369.1 L568.8,369.1 L569.8,369.0 L570.8,368.8 L571.8,368.5 L572.8,368.5 L573.8,368.5 L574.8,368.4 L575.8,368.4 L576.8,368.7 L577.8,369.0 L578.8,368.6 L579.8,368.2 L580.8,368.1 L581.8,368.1 L582.8,368.5 L583.8,369.0 L584.8,369.0 L585.8,369.1 L586.8,369.0 L587.8,369.0 L588.8,369.1 L589.8,369.2 L590.8,369.0 L591.8,368.8 L592.8,368.9 L593.8,369.0 L594.8,368.8 L595.8,368.6 L596.8,368.8 L597.8,369.0 L598.8,368.6 L599.8,368.1 L600.8,368.2 L601.8,368.2 L602.8,368.2 L603.8,368.2 L604.8,368.2 L605.8,368.0 L606.8,366.8 L607.8,363.7 L608.8,358.6 L609.8,354.4 L610.0,354.3 L610.8,356.5 L611.8,361.9 L612.8,365.1 L613.8,365.8 L614.8,364.8 L615.8,360.0 L616.8,344.0 L617.8,314.5 L618.6,300.8 L618.8,301.9 L619.8,327.8 L620.8,353.0 L621.8,363.4 L622.8,366.1 L623.8,367.0 L624.8,367.6 L625.8,367.9 L626.8,367.9 L627.8,367.9 L628.8,368.0 L629.8,368.1 L630.8,368.1 L631.8,368.2 L632.8,368.3 L633.8,368.3 L634.8,368.7 L635.8,369.1 L636.8,368.8 L637.8,368.6 L638.8,368.5 L639.8,368.3 L640.8,368.7 L641.8,369.1 L642.8,369.1 L643.8,369.0 L644.8,368.7 L645.8,368.4 L646.8,368.7 L647.8,369.0 L648.8,369.1 L649.8,369.2 L650.8,369.2 L651.8,369.2 L652.8,369.3 L653.8,369.4 L654.8,369.2 L655.8,369.0 L656.8,368.8 L657.8,368.6 L658.8,368.8 L659.8,368.8 L660.8,368.1 L661.8,366.2 L662.8,363.3 L663.8,361.5 L663.8,361.5 L664.8,363.1 L665.8,365.8 L666.8,367.7 L667.8,368.4 L668.8,368.8 L669.8,369.1 L670.8,369.1 L671.8,369.0 L672.8,369.1 L673.8,369.2 L674.8,369.2 L675.8,369.2 L676.8,369.3 L677.8,369.5 L678.8,369.3 L679.8,369.1 L680.8,369.2 L681.8,369.2 L682.8,369.4 L683.8,369.6 L684.8,369.4 L685.8,369.2 L686.8,369.0 L687.8,368.9 L688.8,369.1 L689.8,369.3 L690.8,369.1 L691.8,368.9 L692.8,369.2 L693.8,369.6 L694.8,369.4 L695.8,369.2 L696.8,369.5 L697.8,369.7 L698.8,369.6 L699.8,369.5 L700.8,369.3 L701.8,369.0 L702.8,369.2 L703.8,369.3 L704.8,369.4 L705.8,369.6 L706.8,369.5 L707.8,369.4 L708.8,369.5 L709.8,369.6 L710.8,369.5 L711.8,369.3 L712.8,369.6 L713.8,369.9 L714.8,369.6 L715.8,369.2 L716.8,369.5 L717.8,369.7 L718.8,369.4 L719.8,369.0 L720.8,369.2 L721.8,369.4 L722.8,369.2 L723.8,369.0 L724.8,369.0 L725.8,369.0 L726.8,369.2 L727.8,369.5 L728.8,369.7 L729.8,370.0 L730.8,369.7 L731.8,369.5 L732.8,369.5 L733.8,369.4 L734.8,369.5 L735.8,369.5 L736.8,369.6 L737.8,369.7 L738.8,369.6 L739.8,369.5 L740.8,369.4 L741.8,369.4 L742.8,369.7 L743.8,370.0 L744.8,369.9 L745.8,369.8 L746.8,369.7 L747.8,369.5 L748.8,369.8 L749.8,370.0 L750.8,370.2 L751.8,370.3 L752.8,370.1 L753.8,369.8 L754.8,369.5 L755.8,369.2 L756.8,369.3 L757.8,369.3 L758.8,369.7 L759.8,370.1 L760.8,369.8 L761.8,369.5 L762.8,369.4 L763.8,369.3 L764.8,369.7 L765.8,370.0 L766.8,369.7 L767.8,369.4 L768.8,369.7 L769.8,370.1 L770.8,369.8 L771.8,369.6 L772.8,369.6 L773.8,369.6 L774.8,369.8 L775.8,369.9 L776.8,369.7 L777.8,369.4 L778.8,369.7 L779.8,370.0 L780.8,369.9 L781.8,369.9 L782.8,370.0 L783.8,370.2 L784.8,370.2 L785.8,370.3 L786.8,369.9 L787.8,369.5 L788.8,369.8 L789.8,370.2 L790.8,370.3 L791.8,370.3 L792.8,370.1 L793.8,369.8 L794.8,369.9 L795.8,370.0 L796.8,369.8 L797.8,369.6 L798.8,369.8 L799.8,369.9 L800.8,370.1 L801.8,370.2 L802.8,370.1 L803.8,369.9 L804.8,370.0 L805.8,370.0 L806.8,369.8 L807.8,369.6 L808.8,369.9 L809.8,370.3 L810.8,370.2 L811.8,370.2 L812.8,370.3 L813.8,370.4 L814.8,370.0 L815.8,369.6 L816.8,369.9 L817.8,370.1 L818.8,369.8 L819.8,369.5 L820.8,369.6 L821.8,369.7 L822.8,369.5 L823.8,369.2 L824.8,369.1 L825.8,368.3 L826.8,365.6 L827.8,361.2 L828.8,356.7 L829.7,354.8 L829.8,354.9 L830.8,357.7 L831.8,362.4 L832.8,366.1 L833.8,368.2 L834.8,368.9 L835.8,369.1 L836.8,369.5 L837.8,369.9 L838.8,370.2 L839.8,370.5 L840.8,370.3 L841.8,370.1 L842.8,370.3 L843.8,370.6 L844.8,370.4 L845.8,370.1 L846.8,370.0 L847.8,369.9 L848.8,370.0 L849.8,370.1 L850.8,370.4 L851.8,370.7 L852.8,370.7 L853.8,370.7 L854.8,370.7 L855.8,370.6 L856.8,370.2 L857.8,369.9 L858.8,370.0 L859.8,370.1 L860.8,369.9 L861.8,369.7 L862.8,369.7 L863.8,369.7 L864.8,369.9 L865.8,370.0 L866.8,370.0 L867.8,370.0 L868.8,369.9 L869.8,369.8 L870.8,370.0 L871.8,370.3 L872.8,370.5 L873.8,370.7 L874.8,370.9 L875.8,371.0 L876.8,371.1 L877.8,371.1 L878.8,370.8 L879.8,370.6 L880.8,370.4 L881.8,370.2 L882.8,370.5 L883.8,370.9 L884.8,370.7 L885.8,370.6 L886.8,370.5 L887.8,370.4 L888.8,370.6 L889.8,370.9 L890.8,370.8 L891.8,370.7 L892.8,370.9 L893.8,371.1 L894.8,371.0 L895.8,371.0 L896.8,371.1 L897.8,371.2 L898.8,370.8 L899.8,370.4 L900.8,370.7 L901.8,371.0 L902.8,370.9 L903.8,370.8 L904.8,370.8 L905.8,370.9 L906.8,370.7 L907.8,370.5 L908.8,370.4 L909.8,370.3 L910.8,370.3 L911.8,370.3 L912.8,370.2 L913.8,370.1 L914.8,370.5 L915.8,371.0 L916.8,370.6 L917.8,370.3 L918.8,370.2 L919.8,370.2 L920.8,370.4 L921.8,370.6 L922.8,370.4 L923.8,370.3 L924.8,370.2 L925.8,370.2 L926.8,370.2 L927.8,370.2 L928.8,370.2 L929.8,370.2 L930.8,370.0 L931.8,369.9 L932.8,370.3 L933.8,370.6 L934.8,370.7 L935.8,370.7 L936.8,370.6 L937.8,370.4 L938.8,370.6 L939.8,370.9 L940.8,370.8 L941.8,370.7 L942.8,370.4 L943.8,370.2 L944.8,370.5 L945.8,370.8 L946.8,370.5 L947.8,370.1 L948.8,370.2 L949.8,370.2 L950.8,369.7 L951.8,368.5 L952.8,365.7 L953.8,362.0 L954.8,360.3 L955.0,360.2 L955.8,361.6 L956.8,364.5 L957.8,367.1 L958.8,368.8 L959.8,369.5 L960.8,370.0 L961.8,370.2 L962.8,369.8 L963.8,368.5 L964.8,365.2 L965.8,359.5 L966.8,354.8 L967.0,354.6 L967.8,356.9 L968.8,363.2 L969.8,367.8 L970.8,369.5 L971.8,369.9 L972.8,370.3 L973.8,370.5 L974.8,370.5 L975.8,370.6 L976.8,370.8 L977.8,371.0 L978.8,371.1 L979.8,371.1 L980.8,371.2 L981.8,371.2 L982.8,371.0 L983.8,370.7 L984.8,370.9 L985.8,371.0 L986.8,370.8 L987.8,370.5 L988.8,370.3 L989.8,370.1 L990.8,370.3 L991.8,370.5 L992.8,370.2 L993.8,369.9 L994.8,370.4 L995.8,370.7 L996.8,370.3 L997.8,369.6 L998.8,368.3 L999.8,366.3 L1000.7,365.2 L1000.8,365.2 L1001.8,366.5 L1002.8,368.4 L1003.8,369.6 L1004.8,370.1 L1005.8,370.4 L1006.8,370.6 L1007.8,370.8 L1008.8,370.5 L1009.8,370.1 L1010.8,370.2 L1011.8,370.2 L1012.8,370.2 L1013.8,370.2 L1014.8,370.6 L1015.8,371.0 L1016.8,370.8 L1017.8,370.6 L1018.8,370.6 L1019.8,370.5 L1020.8,370.8 L1021.8,371.1 L1022.8,370.8 L1023.8,370.6 L1024.8,370.5 L1025.8,370.5 L1026.8,370.5 L1027.8,370.4 L1028.8,370.3 L1029.8,370.3 L1030.8,370.5 L1031.8,370.7 L1032.8,370.6 L1033.8,370.4 L1034.8,370.5 L1035.8,370.5 L1036.8,370.6 L1037.8,370.7 L1038.8,370.8 L1039.8,370.9 L1040.8,370.9 L1041.8,371.0 L1042.8,370.8 L1043.8,370.7 L1044.8,370.9 L1045.8,371.1 L1046.8,371.2 L1047.8,371.3 L1048.8,371.3 L1049.8,371.3 L1050.8,371.2 L1051.8,371.0 L1052.8,370.9 L1053.8,370.7 L1054.8,370.6 L1055.8,370.5 L1056.8,370.7 L1057.8,371.0 L1058.8,370.8 L1059.8,370.7 L1060.8,370.8 L1061.8,370.9 L1062.8,370.7 L1063.8,370.6 L1064.8,370.5 L1065.8,370.4 L1066.8,370.2 L1067.8,370.0 L1068.8,370.3 L1069.8,370.7 L1070.8,370.5 L1071.8,370.4 L1072.8,370.5 L1073.8,370.5 L1074.8,370.7 L1075.8,370.8 L1076.8,370.9 L1077.8,371.0 L1078.8,371.1 L1079.8,371.2 L1080.8,371.1 L1081.8,371.0 L1082.8,370.7 L1083.8,370.4 L1084.8,370.7 L1085.8,371.0 L1086.8,370.6 L1087.8,370.2 L1088.8,370.3 L1089.8,370.4 L1090.8,370.7 L1091.8,371.0 L1092.8,371.1 L1093.8,371.1 L1094.8,371.0 L1095.8,370.9 L1096.8,371.0 L1097.8,371.1 L1098.8,370.7 L1099.8,370.4 L1100.8,370.2 L1101.8,370.0 L1102.8,370.1 L1103.8,370.2 L1104.8,370.6 L1105.8,371.0 L1106.8,370.6 L1107.8,370.2 L1108.8,370.2 L1109.8,370.3 L1110.8,370.4 L1111.8,370.5 L1112.8,370.4 L1113.8,370.2 L1114.8,370.6 L1115.8,370.9 L1116.8,370.6 L1117.8,370.3 L1118.8,370.1 L1119.8,370.0 L1120.8,370.5 L1121.8,371.0 L1122.8,370.6 L1123.8,370.2 L1124.8,370.2 L1125.8,370.2 L1126.8,370.3 L1127.8,370.4 L1128.8,370.7 L1129.8,371.0 L1130.8,370.7 L1131.8,370.5 L1132.8,370.6 L1133.8,370.7 L1134.8,370.8 L1135.8,371.0 L1136.8,370.9 L1137.8,370.8 L1138.8,370.9 L1139.8,371.0 L1140.8,370.6 L1141.8,370.2 L1142.8,370.4 L1143.8,370.5 L1144.8,370.3 L1145.8,370.0 L1146.8,370.4 L1147.8,370.8 L1148.8,370.5 L1149.8,370.1 L1150.8,370.1 L1151.8,370.0 L1152.8,370.2 L1153.8,370.3 L1154.8,370.5 L1155.8,370.7 L1156.8,370.4 L1157.8,370.1 L1158.8,370.3 L1159.8,370.6 L1160.8,370.4 L1161.8,370.2 L1162.8,370.2 L1163.8,370.3 L1164.8,370.1 L1165.8,370.0 L1166.8,370.3 L1167.8,370.7 L1168.8,370.8 L1169.8,371.0 L1170.8,371.0 L1171.8,371.0 L1172.8,370.8 L1173.8,370.5 L1174.8,370.4 L1175.8,370.3 L1176.8,370.7 L1177.8,371.0 L1178.8,371.1 L1179.8,371.1 L1180.8,371.2 L1181.8,371.3 L1182.8,371.0 L1183.8,370.7 L1184.8,370.9 L1185.8,371.1 L1186.8,371.0 L1187.8,370.9 L1188.8,371.0 L1189.8,371.0 L1190.8,370.9 L1191.8,370.7 L1192.8,370.9 L1193.8,371.0 L1194.8,370.8 L1195.8,370.7 L1196.8,370.5 L1197.8,370.4 L1198.8,370.4 L1199.8,370.5 L1200.8,370.3 L1201.8,370.1 L1202.8,370.3 L1203.8,370.6 L1204.8,370.5 L1205.8,370.4 L1206.8,370.3 L1207.8,370.2 L1208.8,370.5 L1209.8,370.8 L1210.8,370.7 L1211.8,370.7 L1212.8,370.6 L1213.8,370.4 L1214.8,370.7 L1215.8,371.0 L1216.8,371.1 L1217.8,371.2 L1218.8,371.0 L1219.8,370.7 L1220.8,370.7 L1221.8,370.7 L1222.8,370.4 L1223.8,370.1 L1224.8,370.2 L1225.8,370.3 L1226.8,370.7 L1227.8,371.0 L1228.8,370.9 L1229.8,370.7 L1230.8,371.0 L1231.8,371.2 L1232.8,370.7 L1233.8,370.2 L1234.8,370.1 L1235.8,370.0 L1236.8,369.9 L1237.8,369.9 L1238.8,369.9 L1239.8,369.9 L1240.8,370.3 L1241.8,370.7 L1242.8,370.9 L1243.8,371.2 L1244.8,371.1 L1245.8,371.1 L1246.8,370.9 L1247.8,370.8 L1248.8,370.7 L1249.8,370.5 L1250.8,370.5 L1251.8,370.4 L1252.8,370.3 L1253.8,370.1 L1254.8,370.2 L1255.8,370.3 L1256.8,370.2 L1257.8,370.0 L1258.8,370.4 L1259.8,370.7 L1260.8,370.5 L1261.8,370.0 L1262.8,369.0 L1263.8,367.5 L1264.6,367.1 L1264.8,367.2 L1265.8,368.5 L1266.8,369.5 L1267.8,370.0 L1268.8,370.5 L1269.8,370.9 L1270.8,370.9 L1271.8,370.9 L1272.8,370.9 L1273.8,370.8 L1274.8,370.8 L1275.8,370.8 L1276.8,370.8 L1277.8,370.8 L1278.8,370.9 L1279.8,371.1 L1280.8,371.2 L1281.8,371.3 L1282.8,371.1 L1283.8,370.9 L1284.8,371.0 L1285.8,371.2 L1286.8,370.8 L1287.8,370.5 L1288.8,370.8 L1289.8,371.0 L1290.8,371.1 L1291.8,371.1 L1292.8,371.0 L1293.8,370.9 L1294.8,370.6 L1295.8,370.2 L1296.8,370.6 L1297.8,370.9 L1298.8,370.7 L1299.8,370.5 L1300.8,370.4 L1301.8,370.3 L1302.8,370.6 L1303.8,370.8 L1304.8,370.1 L1305.8,369.2 L1306.8,368.8 L1307.8,368.5 L1308.0,368.5 L1308.8,368.6 L1309.8,369.0 L1310.8,369.9 L1311.8,370.6 L1312.8,370.5 L1313.8,370.3 L1314.8,370.2 L1315.8,370.0 L1316.8,370.2 L1317.8,370.4 L1318.8,370.4 L1319.8,370.5 L1320.8,370.7 L1321.8,370.8 L1322.8,370.6 L1323.8,370.4 L1324.8,370.4 L1325.8,370.3 L1326.8,370.3" stroke="#808000" stroke-width="9.3"/>
<path d="M193.8,446.1 L194.8,446.4 L195.8,446.6 L196.8,446.4 L197.8,446.2 L198.8,446.6 L199.8,447.0 L200.8,446.6 L201.8,446.1 L202.8,446.5 L203.8,446.9 L204.8,446.9 L205.8,446.9 L206.8,447.0 L207.8,447.1 L208.8,447.2 L209.8,447.3 L210.8,446.9 L211.8,446.6 L212.8,446.5 L213.8,446.4 L214.8,446.6 L215.8,446.8 L216.8,446.7 L217.8,446.5 L218.8,446.4 L219.8,446.4 L220.8,446.4 L221.8,446.3 L222.8,446.7 L223.8,447.0 L224.8,447.1 L225.8,447.3 L226.8,447.3 L227.8,447.3 L228.8,446.9 L229.8,446.6 L230.8,446.9 L231.8,447.2 L232.8,447.1 L233.8,447.0 L234.8,446.8 L235.8,446.6 L236.8,446.7 L237.8,446.7 L238.8,446.7 L239.8,446.8 L240.8,446.6 L241.8,446.4 L242.8,446.6 L243.8,446.8 L244.8,446.8 L245.8,446.8 L246.8,446.9 L247.8,447.0 L248.8,447.2 L249.8,447.5 L250.8,447.4 L251.8,447.3 L252.8,447.1 L253.8,447.0 L254.8,447.2 L255.8,447.3 L256.8,447.4 L257.8,447.6 L258.8,447.3 L259.8,447.1 L260.8,447.3 L261.8,447.5 L262.8,447.0 L263.8,446.5 L264.8,446.4 L265.8,446.3 L266.8,446.3 L267.8,446.3 L268.8,446.7 L269.8,447.1 L270.8,447.0 L271.8,446.9 L272.8,446.9 L273.8,446.8 L274.8,446.4 L275.8,446.0 L276.8,445.8 L277.8,445.5 L278.8,445.3 L279.8,444.8 L280.8,443.2 L281.8,439.9 L282.8,428.8 L283.8,393.2 L284.8,332.8 L285.5,310.3 L285.8,315.0 L286.8,370.6 L287.8,419.4 L288.8,438.5 L289.8,443.9 L290.8,445.7 L291.8,446.7 L292.8,447.3 L293.8,447.8 L294.8,448.2 L295.8,448.6 L296.8,448.7 L297.8,448.8 L298.8,449.4 L299.8,450.0 L300.8,449.9 L301.8,449.8 L302.8,449.7 L303.8,449.6 L304.8,449.7 L305.8,449.8 L306.8,450.1 L307.8,450.4 L308.8,450.3 L309.8,450.1 L310.8,450.4 L311.8,450.7 L312.8,450.5 L313.8,450.3 L314.8,450.3 L315.8,450.4 L316.8,450.3 L317.8,450.1 L318.8,450.5 L319.8,451.0 L320.8,451.0 L321.8,451.1 L322.8,451.0 L323.8,450.9 L324.8,450.6 L325.8,450.4 L326.8,450.6 L327.8,450.7 L328.8,450.7 L329.8,450.7 L330.8,451.0 L331.8,451.3 L332.8,451.4 L333.8,451.6 L334.8,451.5 L335.8,451.5 L336.8,451.3 L337.8,451.0 L338.8,450.8 L339.8,450.6 L340.8,451.1 L341.8,451.5 L342.8,451.7 L343.8,451.9 L344.8,451.5 L345.8,451.1 L346.8,451.2 L347.8,451.3 L348.8,451.3 L349.8,451.4 L350.8,451.7 L351.8,452.0 L352.8,451.6 L353.8,451.2 L354.8,451.1 L355.8,451.0 L356.8,451.4 L357.8,451.8 L358.8,451.8 L359.8,451.8 L360.8,451.8 L361.8,451.7 L362.8,451.9 L363.8,452.1 L364.8,452.1 L365.8,452.0 L366.8,452.1 L367.8,452.2 L368.8,451.9 L369.8,451.7 L370.8,451.6 L371.8,451.5 L372.8,451.4 L373.8,451.3 L374.8,451.5 L375.8,451.7 L376.8,451.9 L377.8,452.2 L378.8,452.1 L379.8,452.1 L380.8,452.1 L381.8,452.0 L382.8,452.2 L383.8,452.4 L384.8,452.5 L385.8,452.6 L386.8,452.6 L387.8,452.6 L388.8,452.4 L389.8,452.3 L390.8,452.5 L391.8,452.8 L392.8,452.9 L393.8,453.0 L394.8,453.1 L395.8,453.2 L396.8,453.2 L397.8,453.3 L398.8,452.8 L399.8,452.3 L400.8,452.6 L401.8,452.8 L402.8,452.7 L403.8,452.6 L404.8,452.6 L405.8,452.6 L406.8,452.7 L407.8,452.8 L408.8,452.6 L409.8,452.4 L410.8,452.4 L411.8,452.5 L412.8,452.9 L413.8,453.3 L414.8,453.1 L415.8,452.9 L416.8,453.1 L417.8,453.4 L418.8,453.4 L419.8,453.3 L420.8,453.1 L421.8,452.9 L422.8,452.8 L423.8,452.8 L424.8,453.0 L425.8,453.1 L426.8,453.2 L427.8,453.3 L428.8,453.2 L429.8,453.0 L430.8,452.8 L431.8,452.6 L432.8,452.6 L433.8,452.6 L434.8,453.0 L435.8,453.4 L436.8,453.5 L437.8,453.6 L438.8,453.2 L439.8,452.9 L440.8,453.2 L441.8,453.5 L442.8,453.5 L443.8,453.5 L444.8,453.3 L445.8,453.2 L446.8,453.5 L447.8,453.8 L448.8,453.4 L449.8,453.1 L450.8,453.0 L451.8,452.9 L452.8,453.0 L453.8,453.1 L454.8,453.4 L455.8,453.6 L456.8,453.6 L457.8,453.6 L458.8,453.6 L459.8,453.5 L460.8,453.8 L461.8,454.0 L462.8,453.8 L463.8,453.6 L464.8,453.8 L465.8,453.9 L466.8,453.5 L467.8,453.2 L468.8,453.5 L469.8,453.8 L470.8,453.5 L471.8,453.1 L472.8,453.1 L473.8,452.9 L474.5,452.9 L474.8,452.9 L475.8,453.5 L476.8,453.8 L477.8,453.9 L478.8,454.0 L479.8,453.9 L480.8,453.9 L481.8,453.9 L482.8,454.0 L483.8,454.1 L484.8,453.9 L485.8,453.7 L486.8,453.6 L487.8,453.5 L488.8,453.6 L489.8,453.8 L490.8,453.8 L491.8,453.8 L492.8,453.6 L493.8,453.4 L494.8,453.5 L495.8,453.7 L496.8,453.7 L497.8,453.7 L498.8,453.6 L499.8,453.4 L500.8,453.6 L501.8,453.9 L502.8,454.0 L503.8,454.1 L504.8,453.9 L505.8,453.7 L506.8,453.9 L507.8,454.2 L508.8,454.3 L509.8,454.4 L510.8,454.3 L511.8,454.2 L512.8,454.0 L513.8,453.8 L514.8,453.7 L515.8,453.5 L516.8,453.4 L517.8,453.3 L518.8,453.2 L519.8,453.3 L520.8,453.7 L521.8,454.1 L522.8,453.7 L523.8,453.2 L524.8,453.6 L525.8,453.9 L526.8,453.8 L527.8,453.7 L528.8,453.5 L529.8,453.0 L530.8,451.0 L531.8,447.7 L532.8,445.5 L533.0,445.5 L533.8,446.8 L534.8,449.6 L535.8,451.5 L536.8,452.5 L537.8,452.8 L538.8,452.9 L539.8,452.8 L540.8,452.4 L541.8,451.7 L542.8,450.3 L543.8,445.9 L544.8,429.1 L545.8,388.2 L546.8,355.7 L546.8,355.7 L547.8,387.6 L548.8,428.5 L549.8,445.4 L550.8,450.0 L551.8,451.7 L552.8,452.0 L553.8,452.1 L554.8,452.5 L555.8,452.8 L556.8,453.0 L557.8,453.1 L558.8,453.5 L559.8,453.8 L560.8,453.6 L561.8,453.5 L562.8,453.6 L563.8,453.6 L564.8,453.6 L565.8,453.6 L566.8,453.6 L567.8,453.6 L568.8,453.6 L569.8,453.6 L570.8,453.7 L571.8,453.7 L572.8,453.7 L573.8,453.8 L574.8,453.7 L575.8,453.8 L576.8,453.7 L577.8,453.7 L578.8,454.0 L579.8,454.2 L580.8,454.4 L581.8,454.5 L582.8,454.1 L583.8,453.7 L584.8,454.0 L585.8,454.3 L586.8,453.8 L587.8,453.4 L588.8,453.3 L589.8,453.3 L590.8,453.6 L591.8,453.9 L592.8,453.6 L593.8,453.3 L594.8,453.4 L595.8,453.6 L596.8,453.8 L597.8,454.0 L598.8,453.8 L599.8,453.6 L600.8,453.5 L601.8,453.3 L602.8,452.9 L603.8,452.6 L604.8,452.6 L605.8,452.6 L606.8,452.5 L607.8,452.3 L608.8,452.2 L609.3,452.2 L609.8,452.1 L610.8,451.4 L611.8,450.4 L612.8,449.4 L613.8,447.6 L614.8,443.0 L615.8,426.9 L616.8,374.3 L617.8,277.4 L618.6,231.3 L618.8,234.7 L619.8,318.6 L620.8,401.6 L621.8,435.6 L622.8,445.3 L623.8,448.6 L624.8,450.1 L625.8,450.9 L626.8,451.5 L627.8,451.9 L628.8,452.5 L629.8,453.1 L630.8,453.1 L631.8,453.1 L632.8,453.2 L633.8,453.2 L634.8,453.1 L635.8,452.9 L636.8,452.9 L637.8,452.9 L638.8,453.3 L639.8,453.6 L640.8,453.6 L641.8,453.5 L642.8,453.6 L643.8,453.7 L644.8,453.8 L645.8,453.8 L646.8,453.8 L647.8,453.8 L648.8,453.6 L649.8,453.6 L650.8,453.8 L651.8,454.1 L652.8,453.9 L653.8,453.7 L654.8,453.5 L655.8,453.2 L656.8,453.5 L657.8,453.7 L658.8,453.7 L659.8,453.4 L660.8,451.8 L661.8,447.6 L662.8,440.6 L663.8,436.0 L663.8,436.0 L664.8,440.9 L665.8,448.2 L666.8,451.8 L667.8,452.7 L668.8,453.2 L669.8,453.4 L670.8,453.8 L671.8,454.1 L672.8,453.7 L673.8,453.4 L674.8,453.6 L675.8,453.8 L676.8,453.6 L677.8,453.5 L678.8,453.4 L679.8,453.3 L680.8,453.7 L681.8,454.1 L682.8,454.3 L683.8,454.4 L684.8,454.3 L685.8,454.1 L686.8,454.2 L687.8,454.2 L688.8,454.0 L689.8,453.8 L690.8,453.7 L691.8,453.7 L692.8,453.8 L693.8,453.9 L694.8,454.0 L695.8,454.2 L696.8,454.2 L697.8,454.1 L698.8,454.0 L699.8,453.9 L700.8,453.9 L701.8,454.0 L702.8,453.9 L703.8,453.7 L704.8,453.9 L705.8,454.1 L706.8,454.2 L707.8,454.3 L708.8,454.3 L709.8,454.3 L710.8,454.0 L711.8,453.7 L712.8,453.7 L713.8,453.6 L714.8,454.0 L715.8,454.3 L716.8,454.1 L717.8,453.8 L718.8,453.9 L719.8,454.0 L720.8,453.7 L721.8,453.4 L722.8,453.3 L723.8,453.3 L724.8,453.3 L725.8,453.3 L726.8,453.6 L727.8,453.9 L728.8,453.7 L729.8,453.5 L730.8,453.7 L731.8,453.9 L732.8,453.6 L733.8,453.3 L734.8,453.6 L735.8,453.9 L736.8,454.0 L737.8,454.1 L738.8,453.8 L739.8,453.6 L740.8,453.5 L741.8,453.4 L742.8,453.4 L743.8,453.4 L744.8,453.5 L745.8,453.7 L746.8,453.5 L747.8,453.4 L748.8,453.4 L749.8,453.4 L750.8,453.7 L751.8,454.0 L752.8,454.2 L753.8,454.4 L754.8,454.0 L755.8,453.6 L756.8,453.7 L757.8,453.8 L758.8,453.9 L759.8,454.0 L760.8,454.2 L761.8,454.3 L762.8,454.2 L763.8,454.0 L764.8,454.0 L765.8,453.9 L766.8,454.0 L767.8,454.1 L768.8,454.2 L769.8,454.2 L770.8,454.2 L771.8,454.2 L772.8,454.1 L773.8,454.0 L774.8,454.1 L775.8,454.2 L776.8,453.8 L777.8,453.4 L778.8,453.7 L779.8,454.0 L780.8,453.7 L781.8,453.5 L782.8,453.5 L783.8,453.5 L784.8,453.5 L785.8,453.6 L786.8,453.6 L787.8,453.7 L788.8,453.7 L789.8,453.5 L790.8,453.0 L791.8,452.0 L792.8,451.1 L793.0,451.0 L793.8,451.3 L794.8,452.4 L795.8,453.0 L796.8,453.5 L797.8,453.8 L798.8,454.0 L799.8,454.2 L800.8,454.0 L801.8,453.8 L802.8,453.5 L803.8,453.2 L804.8,453.6 L805.8,454.0 L806.8,454.1 L807.8,454.2 L808.8,454.2 L809.8,454.3 L810.8,454.1 L811.8,454.0 L812.8,453.9 L813.8,453.7 L814.8,453.4 L815.8,453.2 L816.8,453.6 L817.8,454.0 L818.8,453.8 L819.8,453.6 L820.8,453.3 L821.8,453.0 L822.8,453.2 L823.8,453.3 L824.8,452.8 L825.8,452.3 L826.8,451.7 L827.8,449.7 L828.8,444.0 L829.8,433.7 L830.8,425.2 L831.0,424.9 L831.8,429.6 L832.8,440.5 L833.8,448.2 L834.8,451.3 L835.8,452.2 L836.8,452.7 L837.8,452.9 L838.8,453.3 L839.8,453.7 L840.8,453.5 L841.8,453.2 L842.8,453.1 L843.8,453.1 L844.8,453.2 L845.8,453.3 L846.8,453.7 L847.8,454.1 L848.8,454.2 L849.8,454.3 L850.8,454.3 L851.8,454.4 L852.8,453.9 L853.8,453.4 L854.8,453.6 L855.8,453.7 L856.8,453.5 L857.8,453.3 L858.8,453.5 L859.8,453.7 L860.8,453.9 L861.8,454.1 L862.8,454.0 L863.8,453.8 L864.8,453.9 L865.8,454.0 L866.8,454.0 L867.8,454.1 L868.8,454.0 L869.8,453.9 L870.8,453.8 L871.8,453.7 L872.8,453.6 L873.8,453.5 L874.8,453.7 L875.8,454.0 L876.8,454.2 L877.8,454.4 L878.8,454.4 L879.8,454.5 L880.8,454.5 L881.8,454.5 L882.8,454.4 L883.8,454.4 L884.8,454.3 L885.8,454.2 L886.8,454.0 L887.8,453.9 L888.8,453.7 L889.8,453.4 L890.8,453.7 L891.8,454.0 L892.8,453.8 L893.8,453.5 L894.8,453.9 L895.8,454.2 L896.8,454.3 L897.8,454.3 L898.8,454.0 L899.8,453.7 L900.8,454.0 L901.8,454.2 L902.8,454.2 L903.8,454.2 L904.8,454.3 L905.8,454.3 L906.8,453.9 L907.8,453.5 L908.8,453.5 L909.8,453.5 L910.8,453.4 L911.8,453.4 L912.8,453.8 L913.8,454.2 L914.8,453.9 L915.8,453.7 L916.8,453.7 L917.8,453.8 L918.8,453.9 L919.8,454.1 L920.8,454.0 L921.8,453.8 L922.8,453.9 L923.8,454.0 L924.8,454.1 L925.8,454.1 L926.8,454.0 L927.8,453.8 L928.8,454.1 L929.8,454.4 L930.8,454.3 L931.8,454.2 L932.8,454.3 L933.8,454.3 L934.8,454.2 L935.8,454.2 L936.8,454.2 L937.8,454.1 L938.8,453.8 L939.8,453.6 L940.8,453.9 L941.8,454.2 L942.8,454.3 L943.8,454.4 L944.8,454.0 L945.8,453.5 L946.8,453.5 L947.8,453.4 L948.8,453.3 L949.8,453.0 L950.8,452.6 L951.8,451.6 L952.8,450.2 L953.8,448.2 L954.8,446.7 L955.0,446.6 L955.8,447.3 L956.8,449.1 L957.8,450.8 L958.8,451.9 L959.8,452.4 L960.8,452.4 L961.8,452.2 L962.8,450.9 L963.8,447.2 L964.8,436.0 L965.8,411.4 L966.8,388.4 L967.0,387.5 L967.8,400.1 L968.8,428.1 L969.8,444.9 L970.8,450.8 L971.8,452.6 L972.8,453.2 L973.8,453.6 L974.8,453.6 L975.8,453.5 L976.8,453.4 L977.8,453.2 L978.8,453.3 L979.8,453.5 L980.8,453.4 L981.8,453.4 L982.8,453.8 L983.8,454.2 L984.8,454.1 L985.8,453.9 L986.8,454.0 L987.8,454.1 L988.8,454.2 L989.8,454.3 L990.8,454.2 L991.8,454.1 L992.8,454.3 L993.8,454.5 L994.8,454.4 L995.8,454.2 L996.8,453.9 L997.8,453.0 L998.8,450.7 L999.8,447.5 L1000.7,446.0 L1000.8,446.0 L1001.8,448.1 L1002.8,451.2 L1003.8,453.2 L1004.8,453.8 L1005.8,453.9 L1006.8,454.1 L1007.8,454.2 L1008.8,454.4 L1009.8,454.6 L1010.8,454.6 L1011.8,454.6 L1012.8,454.7 L1013.8,454.7 L1014.8,454.5 L1015.8,454.3 L1016.8,454.0 L1017.8,453.8 L1018.8,453.9 L1019.8,453.9 L1020.8,454.3 L1021.8,454.7 L1022.8,454.4 L1023.8,454.1 L1024.8,454.0 L1025.8,453.9 L1026.8,453.8 L1027.8,453.7 L1028.8,454.2 L1029.8,454.7 L1030.8,454.5 L1031.8,454.2 L1032.8,454.0 L1033.8,453.9 L1034.8,454.0 L1035.8,454.1 L1036.8,453.9 L1037.8,453.8 L1038.8,454.2 L1039.8,454.5 L1040.8,454.6 L1041.8,454.7 L1042.8,454.5 L1043.8,454.4 L1044.8,454.6 L1045.8,454.7 L1046.8,454.3 L1047.8,454.0 L1048.8,454.3 L1049.8,454.7 L1050.8,454.7 L1051.8,454.7 L1052.8,454.8 L1053.8,454.8 L1054.8,454.5 L1055.8,454.2 L1056.8,454.6 L1057.8,454.9 L1058.8,455.1 L1059.8,455.2 L1060.8,454.9 L1061.8,454.7 L1062.8,454.5 L1063.8,454.4 L1064.8,454.5 L1065.8,454.5 L1066.8,454.6 L1067.8,454.8 L1068.8,454.7 L1069.8,454.6 L1070.8,454.6 L1071.8,454.6 L1072.8,454.9 L1073.8,455.1 L1074.8,455.0 L1075.8,455.0 L1076.8,454.8 L1077.8,454.6 L1078.8,454.8 L1079.8,455.1 L1080.8,455.1 L1081.8,455.1 L1082.8,454.6 L1083.8,454.2 L1084.8,454.4 L1085.8,454.5 L1086.8,454.4 L1087.8,454.4 L1088.8,454.4 L1089.8,454.4 L1090.8,454.4 L1091.8,454.4 L1092.8,454.7 L1093.8,455.0 L1094.8,454.9 L1095.8,454.9 L1096.8,454.7 L1097.8,454.5 L1098.8,454.3 L1099.8,454.1 L1100.8,454.1 L1101.8,454.1 L1102.8,454.3 L1103.8,454.4 L1104.8,454.5 L1105.8,454.7 L1106.8,454.7 L1107.8,454.7 L1108.8,454.7 L1109.8,454.6 L1110.8,454.7 L1111.8,454.7 L1112.8,454.6 L1113.8,454.5 L1114.8,454.9 L1115.8,455.2 L1116.8,454.9 L1117.8,454.6 L1118.8,454.6 L1119.8,454.6 L1120.8,454.7 L1121.8,454.9 L1122.8,455.0 L1123.8,455.2 L1124.8,455.0 L1125.8,454.8 L1126.8,454.9 L1127.8,454.9 L1128.8,454.8 L1129.8,454.6 L1130.8,454.3 L1131.8,454.2 L1132.8,454.6 L1133.8,455.1 L1134.8,454.7 L1135.8,454.3 L1136.8,454.6 L1137.8,454.8 L1138.8,454.4 L1139.8,453.7 L1140.8,452.8 L1141.8,450.7 L1142.8,448.0 L1143.5,447.2 L1143.8,447.4 L1144.8,450.1 L1145.8,453.0 L1146.8,454.4 L1147.8,454.9 L1148.8,454.8 L1149.8,454.6 L1150.8,454.4 L1151.8,454.2 L1152.8,454.5 L1153.8,454.9 L1154.8,455.0 L1155.8,455.0 L1156.8,455.2 L1157.8,455.3 L1158.8,454.8 L1159.8,454.3 L1160.8,454.4 L1161.8,454.3 L1162.8,453.7 L1163.8,451.7 L1164.8,447.0 L1165.8,439.7 L1166.7,436.0 L1166.8,436.1 L1167.8,441.3 L1168.8,448.4 L1169.8,452.6 L1170.8,454.3 L1171.8,454.8 L1172.8,454.6 L1173.8,454.3 L1174.8,454.8 L1175.8,455.3 L1176.8,455.2 L1177.8,455.1 L1178.8,455.3 L1179.8,455.5 L1180.8,455.1 L1181.8,454.7 L1182.8,454.8 L1183.8,455.0 L1184.8,455.2 L1185.8,455.4 L1186.8,455.6 L1187.8,455.7 L1188.8,455.5 L1189.8,455.4 L1190.8,455.5 L1191.8,455.6 L1192.8,455.2 L1193.8,454.7 L1194.8,454.6 L1195.8,454.5 L1196.8,454.6 L1197.8,454.7 L1198.8,455.0 L1199.8,455.4 L1200.8,455.4 L1201.8,455.5 L1202.8,455.3 L1203.8,455.2 L1204.8,455.4 L1205.8,455.6 L1206.8,455.5 L1207.8,455.3 L1208.8,455.1 L1209.8,454.8 L1210.8,455.2 L1211.8,455.6 L1212.8,455.6 L1213.8,455.6 L1214.8,455.7 L1215.8,455.9 L1216.8,455.8 L1217.8,455.7 L1218.8,455.6 L1219.8,455.4 L1220.8,455.6 L1221.8,455.7 L1222.8,455.4 L1223.8,455.0 L1224.8,454.8 L1225.8,454.6 L1226.8,454.7 L1227.8,454.8 L1228.8,455.2 L1229.8,455.6 L1230.8,455.3 L1231.8,454.9 L1232.8,455.2 L1233.8,455.5 L1234.8,455.4 L1235.8,455.4 L1236.8,455.2 L1237.8,454.9 L1238.8,454.9 L1239.8,454.9 L1240.8,455.1 L1241.8,455.4 L1242.8,455.3 L1243.8,455.2 L1244.8,455.5 L1245.8,455.7 L1246.8,455.3 L1247.8,454.9 L1248.8,455.1 L1249.8,455.3 L1250.8,455.5 L1251.8,455.7 L1252.8,455.4 L1253.8,455.1 L1254.8,455.1 L1255.8,455.0 L1256.8,455.1 L1257.8,455.2 L1258.8,455.0 L1259.8,454.7 L1260.8,454.6 L1261.8,453.8 L1262.8,451.6 L1263.8,448.4 L1264.6,446.8 L1264.8,446.9 L1265.8,449.2 L1266.8,452.3 L1267.8,453.9 L1268.8,454.9 L1269.8,455.4 L1270.8,455.2 L1271.8,454.9 L1272.8,455.3 L1273.8,455.6 L1274.8,455.5 L1275.8,455.4 L1276.8,455.6 L1277.8,455.8 L1278.8,455.6 L1279.8,455.4 L1280.8,455.7 L1281.8,456.0 L1282.8,455.9 L1283.8,455.8 L1284.8,455.7 L1285.8,455.7 L1286.8,455.3 L1287.8,455.0 L1288.8,455.2 L1289.8,455.4 L1290.8,455.3 L1291.8,455.1 L1292.8,455.3 L1293.8,455.6 L1294.8,455.4 L1295.8,455.2 L1296.8,455.1 L1297.8,455.0 L1298.8,454.9 L1299.8,454.8 L1300.8,454.8 L1301.8,454.7 L1302.8,454.5 L1303.8,453.9 L1304.8,452.8 L1305.8,450.7 L1306.8,448.0 L1307.8,446.2 L1308.0,446.2 L1308.8,447.4 L1309.8,450.4 L1310.8,452.9 L1311.8,454.5 L1312.8,455.0 L1313.8,455.1 L1314.8,455.4 L1315.8,455.7 L1316.8,455.5 L1317.8,455.3 L1318.8,455.3 L1319.8,455.3 L1320.8,455.4 L1321.8,455.4 L1322.8,455.5 L1323.8,455.6 L1324.8,455.5 L1325.8,455.5 L1326.8,455.6" stroke="#800000" stroke-width="9.3"/>
<path d="M193.8,533.2 L194.8,533.2 L195.8,533.2 L196.8,533.2 L197.8,533.2 L198.8,533.2 L199.8,533.2 L200.8,533.3 L201.8,533.5 L202.8,533.3 L203.8,533.1 L204.8,533.3 L205.8,533.4 L206.8,533.2 L207.8,532.9 L208.8,532.9 L209.8,533.0 L210.8,533.1 L211.8,533.1 L212.8,533.0 L213.8,532.9 L214.8,533.2 L215.8,533.6 L216.8,533.4 L217.8,533.3 L218.8,533.5 L219.8,533.7 L220.8,533.9 L221.8,534.1 L222.8,533.7 L223.8,533.4 L224.8,533.7 L225.8,533.9 L226.8,533.9 L227.8,534.0 L228.8,533.9 L229.8,533.9 L230.8,533.5 L231.8,533.1 L232.8,533.2 L233.8,533.4 L234.8,533.5 L235.8,533.7 L236.8,533.5 L237.8,533.4 L238.8,533.3 L239.8,533.2 L240.8,533.3 L241.8,533.3 L242.8,533.3 L243.8,533.3 L244.8,533.6 L245.8,533.8 L246.8,533.7 L247.8,533.5 L248.8,533.5 L249.8,533.5 L250.8,533.7 L251.8,533.8 L252.8,534.0 L253.8,534.2 L254.8,533.9 L255.8,533.6 L256.8,533.4 L257.8,533.1 L258.8,533.6 L259.8,534.0 L260.8,534.1 L261.8,534.1 L262.8,534.1 L263.8,534.1 L264.8,534.0 L265.8,533.8 L266.8,533.6 L267.8,533.4 L268.8,533.3 L269.8,533.1 L270.8,533.2 L271.8,533.2 L272.8,533.3 L273.8,533.3 L274.8,533.1 L275.8,532.8 L276.8,533.0 L277.8,533.1 L278.8,532.9 L279.8,532.6 L280.8,531.5 L281.8,528.6 L282.8,519.5 L283.8,496.7 L284.8,473.4 L285.0,472.5 L285.8,485.4 L286.8,512.7 L287.8,527.7 L288.8,532.1 L289.8,533.3 L290.8,534.1 L291.8,534.6 L292.8,534.8 L293.8,534.9 L294.8,535.2 L295.8,535.4 L296.8,535.6 L297.8,535.7 L298.8,535.5 L299.8,535.4 L300.8,535.4 L301.8,535.5 L302.8,535.5 L303.8,535.6 L304.8,535.7 L305.8,535.9 L306.8,535.9 L307.8,535.9 L308.8,536.0 L309.8,535.9 L310.8,535.4 L311.8,534.8 L312.5,534.5 L312.8,534.6 L313.8,535.1 L314.8,535.7 L315.8,536.0 L316.8,536.2 L317.8,536.4 L318.8,536.7 L319.8,537.0 L320.8,537.0 L321.8,537.0 L322.8,537.0 L323.8,536.9 L324.8,537.0 L325.8,537.1 L326.8,536.8 L327.8,536.5 L328.8,536.4 L329.8,536.2 L330.8,536.2 L331.8,536.2 L332.8,536.2 L333.8,536.2 L334.8,536.2 L335.8,536.1 L336.8,536.5 L337.8,536.8 L338.8,537.1 L339.8,537.4 L340.8,537.0 L341.8,536.7 L342.8,536.9 L343.8,537.1 L344.8,537.4 L345.8,537.6 L346.8,537.6 L347.8,537.6 L348.8,537.2 L349.8,536.9 L350.8,537.1 L351.8,537.3 L352.8,537.1 L353.8,537.0 L354.8,536.9 L355.8,536.8 L356.8,536.7 L357.8,536.6 L358.8,536.9 L359.8,537.2 L360.8,537.5 L361.8,537.8 L362.8,537.5 L363.8,537.1 L364.8,537.0 L365.8,537.0 L366.8,537.1 L367.8,537.2 L368.8,537.1 L369.8,536.9 L370.8,537.2 L371.8,537.4 L372.8,537.6 L373.8,537.8 L374.8,537.7 L375.8,537.7 L376.8,537.4 L377.8,537.2 L378.8,537.1 L379.8,537.1 L380.8,537.2 L381.8,537.2 L382.8,537.5 L383.8,537.8 L384.8,538.1 L385.8,538.3 L386.8,538.2 L387.8,538.0 L388.8,537.8 L389.8,537.5 L390.8,537.5 L391.8,537.5 L392.8,537.7 L393.8,537.8 L394.8,537.7 L395.8,537.6 L396.8,537.5 L397.8,537.5 L398.8,537.7 L399.8,537.9 L400.8,538.2 L401.8,538.5 L402.8,538.2 L403.8,538.0 L404.8,538.3 L405.8,538.6 L406.8,538.7 L407.8,538.8 L408.8,538.5 L409.8,538.3 L410.8,538.2 L411.8,538.0 L412.8,537.9 L413.8,537.9 L414.8,538.1 L415.8,538.4 L416.8,538.5 L417.8,538.7 L418.8,538.8 L419.8,538.9 L420.8,538.5 L421.8,538.2 L422.8,538.2 L423.8,538.3 L424.8,538.1 L425.8,537.8 L426.8,537.9 L427.8,538.1 L428.8,538.1 L429.8,538.1 L430.8,538.0 L431.8,538.0 L432.8,537.9 L433.8,537.9 L434.8,538.4 L435.8,538.9 L436.8,538.7 L437.8,538.4 L438.8,538.5 L439.8,538.5 L440.8,538.6 L441.8,538.6 L442.8,538.6 L443.8,538.6 L444.8,538.7 L445.8,538.7 L446.8,538.7 L447.8,538.7 L448.8,538.7 L449.8,538.7 L450.8,538.5 L451.8,538.2 L452.8,538.5 L453.8,538.7 L454.8,538.8 L455.8,538.9 L456.8,539.0 L457.8,539.1 L458.8,538.9 L459.8,538.7 L460.8,538.7 L461.8,538.7 L462.8,538.9 L463.8,539.1 L464.8,539.2 L465.8,539.2 L466.8,538.8 L467.8,538.5 L468.8,538.5 L469.8,538.6 L470.8,538.5 L471.8,538.5 L472.8,538.7 L473.8,539.0 L474.5,539.0 L474.8,539.0 L475.8,538.9 L476.8,538.9 L477.8,538.8 L478.8,538.7 L479.8,538.6 L480.8,538.7 L481.8,538.9 L482.8,539.0 L483.8,539.2 L484.8,539.2 L485.8,539.2 L486.8,539.0 L487.8,538.8 L488.8,538.8 L489.8,538.9 L490.8,539.0 L491.8,539.2 L492.8,538.9 L493.8,538.6 L494.8,539.0 L495.8,539.4 L496.8,539.0 L497.8,538.7 L498.8,538.9 L499.8,539.1 L500.8,538.9 L501.8,538.7 L502.8,539.1 L503.8,539.5 L504.8,539.5 L505.8,539.5 L506.8,539.2 L507.8,538.9 L508.8,539.0 L509.8,539.1 L510.8,539.3 L511.8,539.5 L512.8,539.6 L513.8,539.7 L514.8,539.6 L515.8,539.5 L516.8,539.5 L517.8,539.4 L518.8,539.5 L519.8,539.5 L520.8,539.6 L521.8,539.7 L522.8,539.5 L523.8,539.3 L524.8,539.3 L525.8,539.2 L526.8,539.2 L527.8,538.8 L528.8,537.5 L529.8,535.2 L530.8,533.2 L531.0,533.1 L531.8,533.9 L532.8,536.3 L533.8,538.0 L534.8,538.6 L535.8,538.7 L536.8,538.9 L537.8,539.1 L538.8,539.1 L539.8,539.0 L540.8,538.9 L541.8,538.6 L542.8,536.9 L543.8,531.5 L544.8,519.3 L545.8,507.0 L546.0,506.6 L546.8,513.7 L547.8,528.2 L548.8,535.8 L549.8,538.2 L550.8,539.0 L551.8,539.4 L552.8,539.5 L553.8,539.6 L554.8,539.8 L555.8,539.9 L556.8,539.5 L557.8,539.1 L558.8,539.0 L559.8,538.9 L560.8,539.2 L561.8,539.4 L562.8,539.6 L563.8,539.7 L564.8,539.4 L565.8,539.1 L566.8,539.5 L567.8,539.9 L568.8,539.6 L569.8,539.3 L570.8,539.2 L571.8,539.1 L572.8,539.2 L573.8,539.3 L574.8,539.2 L575.8,539.1 L576.8,539.1 L577.8,539.0 L578.8,539.0 L579.8,538.9 L580.8,538.9 L581.8,538.9 L582.8,538.9 L583.8,539.0 L584.8,539.3 L585.8,539.6 L586.8,539.7 L587.8,539.8 L588.8,539.9 L589.8,539.9 L590.8,539.7 L591.8,539.5 L592.8,539.6 L593.8,539.8 L594.8,539.4 L595.8,539.1 L596.8,539.4 L597.8,539.7 L598.8,539.5 L599.8,539.3 L600.8,539.0 L601.8,538.8 L602.8,538.7 L603.8,538.7 L604.8,538.4 L605.8,537.9 L606.8,537.0 L607.8,534.3 L608.8,528.7 L609.8,524.1 L610.0,523.8 L610.8,525.7 L611.8,530.5 L612.8,533.8 L613.8,534.3 L614.8,531.9 L615.8,522.0 L616.8,493.2 L617.8,444.7 L618.6,422.6 L618.8,424.2 L619.8,464.7 L620.8,508.5 L621.8,528.8 L622.8,534.8 L623.8,536.7 L624.8,537.5 L625.8,538.0 L626.8,538.6 L627.8,539.0 L628.8,539.1 L629.8,539.2 L630.8,539.1 L631.8,538.9 L632.8,539.4 L633.8,539.9 L634.8,539.7 L635.8,539.5 L636.8,539.7 L637.8,539.8 L638.8,539.7 L639.8,539.7 L640.8,540.0 L641.8,540.3 L642.8,539.9 L643.8,539.6 L644.8,539.4 L645.8,539.3 L646.8,539.2 L647.8,539.2 L648.8,539.4 L649.8,539.6 L650.8,539.9 L651.8,540.3 L652.8,540.2 L653.8,540.0 L654.8,540.3 L655.8,540.5 L656.8,540.1 L657.8,539.7 L658.8,540.0 L659.8,540.1 L660.8,539.1 L661.8,537.5 L662.8,536.8 L663.0,536.8 L663.8,537.6 L664.8,538.6 L665.8,539.2 L666.8,539.7 L667.8,540.0 L668.8,540.1 L669.8,540.2 L670.8,540.4 L671.8,540.7 L672.8,540.4 L673.8,540.2 L674.8,540.4 L675.8,540.5 L676.8,540.2 L677.8,539.8 L678.8,540.1 L679.8,540.5 L680.8,540.4 L681.8,540.3 L682.8,540.3 L683.8,540.3 L684.8,540.5 L685.8,540.8 L686.8,540.5 L687.8,540.2 L688.8,540.3 L689.8,540.4 L690.8,540.4 L691.8,540.4 L692.8,540.2 L693.8,540.1 L694.8,540.0 L695.8,539.8 L696.8,540.0 L697.8,540.1 L698.8,540.0 L699.8,540.0 L700.8,540.2 L701.8,540.4 L702.8,540.3 L703.8,540.2 L704.8,540.0 L705.8,539.8 L706.8,540.1 L707.8,540.4 L708.8,540.6 L709.8,540.9 L710.8,540.8 L711.8,540.7 L712.8,540.5 L713.8,540.2 L714.8,540.2 L715.8,540.1 L716.8,540.5 L717.8,540.8 L718.8,540.7 L719.8,540.5 L720.8,540.6 L721.8,540.7 L722.8,540.4 L723.8,540.1 L724.8,540.4 L725.8,540.7 L726.8,540.8 L727.8,541.0 L728.8,540.7 L729.8,540.4 L730.8,540.3 L731.8,540.2 L732.8,540.4 L733.8,540.6 L734.8,540.8 L735.8,541.1 L736.8,541.0 L737.8,541.0 L738.8,540.6 L739.8,540.2 L740.8,540.1 L741.8,540.0 L742.8,540.4 L743.8,540.8 L744.8,540.7 L745.8,540.6 L746.8,540.8 L747.8,541.1 L748.8,540.9 L749.8,540.7 L750.8,540.9 L751.8,541.0 L752.8,540.7 L753.8,540.4 L754.8,540.8 L755.8,541.1 L756.8,540.9 L757.8,540.8 L758.8,540.5 L759.8,540.1 L760.8,540.2 L761.8,540.2 L762.8,540.1 L763.8,540.1 L764.8,540.2 L765.8,540.4 L766.8,540.8 L767.8,541.1 L768.8,541.3 L769.8,541.4 L770.8,541.4 L771.8,541.4 L772.8,541.1 L773.8,540.8 L774.8,541.0 L775.8,541.1 L776.8,541.1 L777.8,541.1 L778.8,541.2 L779.8,541.3 L780.8,541.4 L781.8,541.5 L782.8,541.4 L783.8,541.4 L784.8,541.3 L785.8,541.3 L786.8,541.0 L787.8,540.8 L788.8,540.6 L789.8,540.5 L790.8,540.5 L791.8,540.6 L792.8,540.6 L793.8,540.6 L794.8,540.8 L795.8,541.1 L796.8,540.8 L797.8,540.6 L798.8,540.5 L799.8,540.5 L800.8,540.7 L801.8,541.0 L802.8,540.7 L803.8,540.4 L804.8,540.4 L805.8,540.3 L806.8,540.3 L807.8,540.2 L808.8,540.2 L809.8,540.2 L810.8,540.2 L811.8,540.3 L812.8,540.6 L813.8,541.0 L814.8,540.9 L815.8,540.7 L816.8,540.6 L817.8,540.4 L818.8,540.6 L819.8,540.8 L820.8,540.7 L821.8,540.7 L822.8,540.5 L823.8,540.2 L824.8,540.0 L825.8,539.7 L826.8,538.8 L827.8,537.0 L828.8,534.5 L829.7,533.5 L829.8,533.5 L830.8,535.0 L831.8,537.5 L832.8,539.3 L833.8,540.3 L834.8,540.6 L835.8,540.8 L836.8,541.1 L837.8,541.5 L838.8,541.4 L839.8,541.3 L840.8,541.1 L841.8,541.0 L842.8,540.9 L843.8,540.8 L844.8,540.7 L845.8,540.7 L846.8,540.8 L847.8,540.9 L848.8,541.3 L849.8,541.6 L850.8,541.7 L851.8,541.8 L852.8,541.4 L853.8,541.0 L854.8,541.2 L855.8,541.3 L856.8,541.4 L857.8,541.6 L858.8,541.7 L859.8,541.8 L860.8,541.8 L861.8,541.7 L862.8,541.6 L863.8,541.6 L864.8,541.2 L865.8,540.9 L866.8,540.9 L867.8,540.9 L868.8,541.3 L869.8,541.7 L870.8,541.8 L871.8,541.9 L872.8,541.9 L873.8,541.9 L874.8,541.7 L875.8,541.4 L876.8,541.5 L877.8,541.7 L878.8,541.7 L879.8,541.8 L880.8,541.6 L881.8,541.4 L882.8,541.3 L883.8,541.2 L884.8,541.3 L885.8,541.3 L886.8,541.4 L887.8,541.4 L888.8,541.2 L889.8,540.9 L890.8,540.8 L891.8,540.8 L892.8,541.3 L893.8,541.8 L894.8,541.6 L895.8,541.5 L896.8,541.4 L897.8,541.4 L898.8,541.5 L899.8,541.6 L900.8,541.6 L901.8,541.6 L902.8,541.6 L903.8,541.7 L904.8,541.7 L905.8,541.6 L906.8,541.3 L907.8,541.0 L908.8,540.9 L909.8,540.8 L910.8,541.0 L911.8,541.1 L912.8,541.1 L913.8,541.2 L914.8,541.6 L915.8,542.0 L916.8,541.8 L917.8,541.7 L918.8,541.4 L919.8,541.1 L920.8,541.5 L921.8,541.8 L922.8,541.6 L923.8,541.4 L924.8,541.4 L925.8,541.4 L926.8,541.5 L927.8,541.6 L928.8,541.7 L929.8,541.8 L930.8,541.6 L931.8,541.3 L932.8,541.3 L933.8,541.4 L934.8,541.1 L935.8,540.9 L936.8,541.4 L937.8,541.8 L938.8,541.9 L939.8,542.0 L940.8,542.0 L941.8,542.0 L942.8,541.7 L943.8,541.3 L944.8,541.5 L945.8,541.6 L946.8,541.5 L947.8,541.4 L948.8,541.2 L949.8,541.0 L950.8,541.0 L951.8,541.0 L952.8,541.3 L953.8,541.5 L954.8,541.2 L955.8,540.7 L956.8,539.9 L957.8,539.0 L958.5,538.6 L958.8,538.5 L959.8,538.8 L960.8,539.6 L961.8,540.0 L962.8,539.3 L963.8,536.4 L964.8,530.1 L965.8,524.9 L966.0,524.7 L966.8,527.3 L967.8,533.5 L968.8,538.4 L969.8,540.6 L970.8,541.0 L971.8,541.0 L972.8,541.1 L973.8,541.2 L974.8,541.5 L975.8,541.9 L976.8,541.9 L977.8,541.9 L978.8,541.6 L979.8,541.4 L980.8,541.4 L981.8,541.3 L982.8,541.3 L983.8,541.2 L984.8,541.1 L985.8,540.9 L986.8,541.2 L987.8,541.4 L988.8,541.3 L989.8,541.1 L990.8,541.1 L991.8,541.1 L992.8,541.5 L993.8,541.8 L994.8,541.4 L995.8,541.1 L996.8,540.8 L997.8,540.0 L998.8,538.9 L999.8,538.0 L1000.0,538.0 L1000.8,538.8 L1001.8,540.2 L1002.8,540.9 L1003.8,541.1 L1004.8,541.2 L1005.8,541.2 L1006.8,541.4 L1007.8,541.5 L1008.8,541.7 L1009.8,541.8 L1010.8,542.0 L1011.8,542.2 L1012.8,541.8 L1013.8,541.3 L1014.8,541.3 L1015.8,541.4 L1016.8,541.2 L1017.8,541.0 L1018.8,541.2 L1019.8,541.3 L1020.8,541.5 L1021.8,541.7 L1022.8,541.6 L1023.8,541.5 L1024.8,541.5 L1025.8,541.5 L1026.8,541.5 L1027.8,541.4 L1028.8,541.8 L1029.8,542.1 L1030.8,542.1 L1031.8,542.2 L1032.8,542.2 L1033.8,542.3 L1034.8,542.1 L1035.8,542.0 L1036.8,542.1 L1037.8,542.2 L1038.8,542.1 L1039.8,542.0 L1040.8,541.7 L1041.8,541.3 L1042.8,541.2 L1043.8,541.2 L1044.8,541.6 L1045.8,542.0 L1046.8,541.9 L1047.8,541.9 L1048.8,541.9 L1049.8,542.0 L1050.8,541.9 L1051.8,541.9 L1052.8,542.0 L1053.8,542.2 L1054.8,541.9 L1055.8,541.5 L1056.8,541.4 L1057.8,541.3 L1058.8,541.3 L1059.8,541.3 L1060.8,541.6 L1061.8,541.8 L1062.8,541.9 L1063.8,541.9 L1064.8,541.8 L1065.8,541.8 L1066.8,541.6 L1067.8,541.4 L1068.8,541.5 L1069.8,541.5 L1070.8,541.5 L1071.8,541.4 L1072.8,541.3 L1073.8,541.2 L1074.8,541.6 L1075.8,542.1 L1076.8,542.1 L1077.8,542.2 L1078.8,542.2 L1079.8,542.2 L1080.8,542.0 L1081.8,541.7 L1082.8,541.9 L1083.8,542.1 L1084.8,542.2 L1085.8,542.2 L1086.8,541.9 L1087.8,541.6 L1088.8,541.9 L1089.8,542.2 L1090.8,542.2 L1091.8,542.2 L1092.8,541.8 L1093.8,541.4 L1094.8,541.3 L1095.8,541.2 L1096.8,541.2 L1097.8,541.1 L1098.8,541.4 L1099.8,541.8 L1100.8,541.6 L1101.8,541.4 L1102.8,541.3 L1103.8,541.3 L1104.8,541.2 L1105.8,541.1 L1106.8,541.3 L1107.8,541.5 L1108.8,541.5 L1109.8,541.5 L1110.8,541.6 L1111.8,541.8 L1112.8,541.6 L1113.8,541.4 L1114.8,541.7 L1115.8,541.9 L1116.8,541.9 L1117.8,542.0 L1118.8,541.8 L1119.8,541.7 L1120.8,542.0 L1121.8,542.3 L1122.8,542.2 L1123.8,542.0 L1124.8,542.0 L1125.8,541.9 L1126.8,541.7 L1127.8,541.5 L1128.8,541.5 L1129.8,541.5 L1130.8,541.7 L1131.8,542.0 L1132.8,541.8 L1133.8,541.7 L1134.8,541.5 L1135.8,541.3 L1136.8,541.4 L1137.8,541.6 L1138.8,541.6 L1139.8,541.7 L1140.8,541.5 L1141.8,541.4 L1142.8,541.4 L1143.8,541.4 L1144.8,541.8 L1145.8,542.2 L1146.8,542.2 L1147.8,542.3 L1148.8,542.1 L1149.8,541.9 L1150.8,542.0 L1151.8,542.1 L1152.8,542.1 L1153.8,542.0 L1154.8,541.8 L1155.8,541.5 L1156.8,541.6 L1157.8,541.7 L1158.8,541.4 L1159.8,541.1 L1160.8,541.2 L1161.8,541.0 L1162.8,539.8 L1163.8,537.2 L1164.8,533.7 L1165.4,532.8 L1165.8,533.1 L1166.8,536.2 L1167.8,539.3 L1168.8,540.7 L1169.8,541.1 L1170.8,541.5 L1171.8,541.7 L1172.8,542.0 L1173.8,542.3 L1174.8,542.3 L1175.8,542.3 L1176.8,541.9 L1177.8,541.5 L1178.8,541.7 L1179.8,541.8 L1180.8,541.9 L1181.8,541.9 L1182.8,542.1 L1183.8,542.3 L1184.8,542.0 L1185.8,541.8 L1186.8,541.6 L1187.8,541.4 L1188.8,541.5 L1189.8,541.6 L1190.8,541.6 L1191.8,541.6 L1192.8,541.9 L1193.8,542.2 L1194.8,542.3 L1195.8,542.4 L1196.8,542.3 L1197.8,542.2 L1198.8,542.2 L1199.8,542.3 L1200.8,542.1 L1201.8,541.9 L1202.8,541.8 L1203.8,541.7 L1204.8,541.7 L1205.8,541.8 L1206.8,541.9 L1207.8,542.1 L1208.8,541.9 L1209.8,541.8 L1210.8,542.0 L1211.8,542.2 L1212.8,542.1 L1213.8,542.0 L1214.8,541.8 L1215.8,541.6 L1216.8,541.7 L1217.8,541.8 L1218.8,542.1 L1219.8,542.3 L1220.8,542.1 L1221.8,541.9 L1222.8,541.8 L1223.8,541.7 L1224.8,541.8 L1225.8,541.9 L1226.8,542.1 L1227.8,542.4 L1228.8,542.4 L1229.8,542.4 L1230.8,542.4 L1231.8,542.3 L1232.8,542.0 L1233.8,541.8 L1234.8,541.9 L1235.8,542.0 L1236.8,542.1 L1237.8,542.2 L1238.8,542.0 L1239.8,541.8 L1240.8,541.9 L1241.8,541.9 L1242.8,541.7 L1243.8,541.6 L1244.8,541.9 L1245.8,542.3 L1246.8,542.3 L1247.8,542.2 L1248.8,542.2 L1249.8,542.2 L1250.8,542.3 L1251.8,542.4 L1252.8,542.4 L1253.8,542.4 L1254.8,542.1 L1255.8,541.9 L1256.8,542.0 L1257.8,542.0 L1258.8,541.8 L1259.8,541.5 L1260.8,541.6 L1261.8,541.6 L1262.8,540.9 L1263.8,539.9 L1264.6,539.6 L1264.8,539.6 L1265.8,540.4 L1266.8,541.4 L1267.8,542.0 L1268.8,542.0 L1269.8,541.8 L1270.8,541.7 L1271.8,541.6 L1272.8,541.9 L1273.8,542.2 L1274.8,542.0 L1275.8,541.8 L1276.8,542.1 L1277.8,542.4 L1278.8,542.5 L1279.8,542.6 L1280.8,542.2 L1281.8,541.8 L1282.8,541.9 L1283.8,542.0 L1284.8,542.2 L1285.8,542.5 L1286.8,542.4 L1287.8,542.3 L1288.8,542.3 L1289.8,542.2 L1290.8,541.9 L1291.8,541.7 L1292.8,541.7 L1293.8,541.8 L1294.8,542.0 L1295.8,542.3 L1296.8,541.9 L1297.8,541.5 L1298.8,541.8 L1299.8,542.0 L1300.8,541.9 L1301.8,541.7 L1302.8,541.5 L1303.8,541.1 L1304.8,540.9 L1305.8,540.4 L1306.8,539.8 L1307.0,539.7 L1307.8,539.8 L1308.8,540.6 L1309.8,541.2 L1310.8,541.9 L1311.8,542.4 L1312.8,542.1 L1313.8,541.9 L1314.8,542.2 L1315.8,542.5 L1316.8,542.2 L1317.8,541.9 L1318.8,542.0 L1319.8,542.1 L1320.8,541.8 L1321.8,541.5 L1322.8,541.9 L1323.8,542.4 L1324.8,542.2 L1325.8,542.1 L1326.8,542.0" stroke="#FF0080" stroke-width="9.3"/>
<path d="M193.8,795.7 L194.8,795.8 L195.8,795.9 L196.8,795.6 L197.8,795.3 L198.8,795.4 L199.8,795.6 L200.8,795.6 L201.8,795.7 L202.8,795.6 L203.8,795.6 L204.8,795.3 L205.8,795.0 L206.8,794.9 L207.8,794.8 L208.8,794.9 L209.8,795.1 L210.8,795.3 L211.8,795.6 L212.8,795.4 L213.8,795.2 L214.8,795.3 L215.8,795.4 L216.8,795.3 L217.8,795.2 L218.8,795.5 L219.8,795.8 L220.8,795.9 L221.8,796.1 L222.8,795.8 L223.8,795.6 L224.8,795.8 L225.8,796.1 L226.8,795.7 L227.8,795.2 L228.8,795.5 L229.8,795.8 L230.8,795.9 L231.8,796.1 L232.8,795.7 L233.8,795.3 L234.8,795.6 L235.8,795.8 L236.8,795.7 L237.8,795.7 L238.8,796.0 L239.8,796.2 L240.8,795.8 L241.8,795.5 L242.8,795.6 L243.8,795.7 L244.8,795.9 L245.8,796.1 L246.8,796.0 L247.8,796.0 L248.8,795.8 L249.8,795.6 L250.8,795.4 L251.8,795.2 L252.8,795.6 L253.8,796.0 L254.8,795.9 L255.8,795.7 L256.8,796.0 L257.8,796.2 L258.8,795.8 L259.8,795.4 L260.8,795.7 L261.8,795.9 L262.8,796.0 L263.8,796.1 L264.8,796.1 L265.8,796.2 L266.8,795.7 L267.8,795.2 L268.8,795.2 L269.8,795.2 L270.8,795.0 L271.8,794.7 L272.8,795.0 L273.8,795.2 L274.8,794.8 L275.8,794.4 L276.8,794.3 L277.8,793.9 L278.8,792.2 L279.8,787.8 L280.8,772.5 L281.8,734.9 L282.8,697.1 L283.0,695.6 L283.8,716.8 L284.8,760.6 L285.8,784.3 L286.8,791.7 L287.8,794.0 L288.8,795.3 L289.8,796.2 L290.8,796.5 L291.8,796.7 L292.8,796.8 L293.8,796.9 L294.8,797.1 L295.8,797.2 L296.8,797.6 L297.8,798.1 L298.8,798.0 L299.8,797.9 L300.8,798.1 L301.8,798.2 L302.8,798.3 L303.8,798.3 L304.8,798.3 L305.8,798.3 L306.8,798.0 L307.8,797.5 L308.8,797.2 L309.8,795.7 L310.8,791.9 L311.8,786.7 L312.5,784.8 L312.8,785.1 L313.8,789.5 L314.8,794.4 L315.8,796.9 L316.8,798.2 L317.8,798.8 L318.8,798.9 L319.8,798.9 L320.8,798.8 L321.8,798.6 L322.8,798.5 L323.8,798.3 L324.8,798.7 L325.8,799.1 L326.8,799.0 L327.8,798.9 L328.8,799.0 L329.8,799.0 L330.8,799.0 L331.8,798.9 L332.8,799.1 L333.8,799.3 L334.8,799.4 L335.8,799.6 L336.8,799.4 L337.8,799.2 L338.8,799.0 L339.8,798.9 L340.8,799.3 L341.8,799.8 L342.8,799.9 L343.8,800.0 L344.8,799.6 L345.8,799.1 L346.8,799.3 L347.8,799.5 L348.8,799.7 L349.8,799.8 L350.8,799.7 L351.8,799.6 L352.8,799.8 L353.8,799.9 L354.8,800.1 L355.8,800.3 L356.8,800.2 L357.8,800.1 L358.8,799.9 L359.8,799.8 L360.8,799.7 L361.8,799.5 L362.8,799.5 L363.8,799.5 L364.8,799.5 L365.8,799.5 L366.8,799.4 L367.8,799.4 L368.8,799.5 L369.8,799.6 L370.8,800.0 L371.8,800.3 L372.8,800.3 L373.8,800.3 L374.8,800.4 L375.8,800.6 L376.8,800.7 L377.8,800.8 L378.8,800.8 L379.8,800.8 L380.8,800.4 L381.8,800.0 L382.8,800.4 L383.8,800.7 L384.8,800.4 L385.8,800.1 L386.8,800.4 L387.8,800.7 L388.8,800.8 L389.8,801.0 L390.8,800.9 L391.8,800.9 L392.8,800.7 L393.8,800.6 L394.8,800.4 L395.8,800.2 L396.8,800.1 L397.8,800.1 L398.8,800.4 L399.8,800.7 L400.8,800.6 L401.8,800.5 L402.8,800.6 L403.8,800.7 L404.8,800.6 L405.8,800.5 L406.8,800.5 L407.8,800.4 L408.8,800.4 L409.8,800.5 L410.8,800.8 L411.8,801.0 L412.8,801.0 L413.8,800.9 L414.8,800.9 L415.8,800.8 L416.8,800.9 L417.8,800.9 L418.8,801.0 L419.8,801.0 L420.8,801.0 L421.8,801.0 L422.8,801.0 L423.8,801.0 L424.8,801.3 L425.8,801.6 L426.8,801.5 L427.8,801.5 L428.8,801.2 L429.8,800.9 L430.8,800.9 L431.8,800.9 L432.8,800.8 L433.8,800.7 L434.8,800.8 L435.8,800.9 L436.8,800.7 L437.8,800.6 L438.8,800.9 L439.8,801.3 L440.8,801.3 L441.8,801.3 L442.8,801.3 L443.8,801.2 L444.8,801.5 L445.8,801.7 L446.8,801.5 L447.8,801.2 L448.8,801.3 L449.8,801.4 L450.8,801.6 L451.8,801.9 L452.8,801.7 L453.8,801.6 L454.8,801.6 L455.8,801.6 L456.8,801.5 L457.8,801.3 L458.8,801.7 L459.8,802.0 L460.8,802.0 L461.8,801.9 L462.8,801.7 L463.8,801.4 L464.8,801.4 L465.8,801.3 L466.8,801.5 L467.8,801.6 L468.8,801.6 L469.8,801.6 L470.8,801.6 L471.8,801.6 L472.8,801.5 L473.8,801.3 L474.8,801.5 L475.8,801.6 L476.8,801.8 L477.8,801.9 L478.8,802.0 L479.8,802.1 L480.8,801.9 L481.8,801.8 L482.8,801.7 L483.8,801.7 L484.8,801.7 L485.8,801.7 L486.8,801.7 L487.8,801.8 L488.8,801.7 L489.8,801.7 L490.8,801.4 L491.8,801.2 L492.8,801.2 L493.8,801.3 L494.8,801.7 L495.8,802.2 L496.8,802.2 L497.8,802.2 L498.8,802.0 L499.8,801.8 L500.8,801.9 L501.8,802.0 L502.8,801.7 L503.8,801.4 L504.8,801.2 L505.8,801.0 L506.8,800.6 L507.8,799.3 L508.8,797.4 L509.7,796.5 L509.8,796.5 L510.8,797.6 L511.8,799.2 L512.8,800.6 L513.8,801.1 L514.8,801.5 L515.8,801.9 L516.8,801.8 L517.8,801.7 L518.8,801.8 L519.8,802.0 L520.8,801.5 L521.8,800.9 L522.8,801.0 L523.8,801.1 L524.8,800.7 L525.8,799.8 L526.8,796.4 L527.8,786.1 L528.8,766.2 L529.8,750.2 L529.9,750.0 L530.8,762.0 L531.8,783.4 L532.8,795.0 L533.8,798.6 L534.8,799.9 L535.8,800.4 L536.8,800.7 L537.8,800.9 L538.8,800.7 L539.8,800.2 L540.8,797.8 L541.8,790.2 L542.8,775.0 L543.8,762.6 L543.9,762.5 L544.8,771.6 L545.8,787.8 L546.8,796.6 L547.8,799.4 L548.8,800.4 L549.8,801.0 L550.8,801.1 L551.8,801.1 L552.8,801.3 L553.8,801.4 L554.8,801.5 L555.8,801.7 L556.8,801.9 L557.8,802.1 L558.8,802.3 L559.8,802.5 L560.8,802.2 L561.8,802.0 L562.8,801.7 L563.8,801.4 L564.8,801.7 L565.8,802.1 L566.8,802.0 L567.8,801.8 L568.8,802.0 L569.8,802.2 L570.8,802.3 L571.8,802.4 L572.8,802.0 L573.8,801.6 L574.8,801.9 L575.8,802.1 L576.8,802.0 L577.8,801.8 L578.8,801.8 L579.8,801.8 L580.8,801.8 L581.8,801.7 L582.8,801.8 L583.8,801.9 L584.8,801.8 L585.8,801.5 L586.8,801.6 L587.8,801.6 L588.8,801.4 L589.8,801.1 L590.8,800.7 L591.8,799.7 L592.8,797.0 L593.8,791.0 L594.8,784.0 L595.4,782.3 L595.8,783.3 L596.8,789.8 L597.8,796.2 L598.8,799.4 L599.8,800.4 L600.8,800.8 L601.8,801.0 L602.8,801.0 L603.8,800.9 L604.8,801.3 L605.8,801.6 L606.8,801.5 L607.8,801.3 L608.8,800.6 L609.8,799.9 L610.8,799.3 L611.8,798.3 L612.8,796.6 L613.8,791.6 L614.8,774.1 L615.8,729.2 L616.8,670.7 L617.3,659.2 L617.8,670.7 L618.8,729.2 L619.8,774.2 L620.8,792.0 L621.8,797.2 L622.8,798.7 L623.8,799.3 L624.8,800.1 L625.8,800.7 L626.8,800.8 L627.8,800.9 L628.8,801.2 L629.8,801.5 L630.8,801.5 L631.8,801.5 L632.8,801.9 L633.8,802.2 L634.8,802.3 L635.8,802.5 L636.8,802.6 L637.8,802.7 L638.8,802.5 L639.8,802.2 L640.8,802.3 L641.8,802.3 L642.8,802.1 L643.8,801.9 L644.8,802.1 L645.8,802.4 L646.8,802.5 L647.8,802.6 L648.8,802.4 L649.8,802.4 L650.8,802.3 L651.8,802.2 L652.8,802.4 L653.8,802.6 L654.8,802.6 L655.8,802.6 L656.8,802.7 L657.8,802.6 L658.8,802.0 L659.8,800.8 L660.8,799.0 L661.8,797.5 L662.0,797.5 L662.8,798.2 L663.8,799.9 L664.8,801.1 L665.8,801.6 L666.8,801.7 L667.8,801.6 L668.8,801.7 L669.8,801.8 L670.8,802.0 L671.8,802.2 L672.8,802.3 L673.8,802.3 L674.8,802.6 L675.8,802.9 L676.8,802.7 L677.8,802.5 L678.8,802.3 L679.8,802.1 L680.8,802.5 L681.8,802.9 L682.8,802.5 L683.8,802.1 L684.8,802.2 L685.8,802.2 L686.8,802.5 L687.8,802.7 L688.8,802.6 L689.8,802.4 L690.8,802.7 L691.8,803.0 L692.8,803.0 L693.8,803.0 L694.8,802.7 L695.8,802.5 L696.8,802.7 L697.8,802.9 L698.8,803.1 L699.8,803.2 L700.8,803.0 L701.8,802.8 L702.8,802.5 L703.8,802.2 L704.8,802.1 L705.8,802.0 L706.8,802.4 L707.8,802.7 L708.8,802.8 L709.8,802.7 L710.8,801.9 L711.8,800.7 L712.8,800.0 L712.8,800.0 L713.8,800.8 L714.8,801.9 L715.8,802.6 L716.8,802.6 L717.8,802.4 L718.8,802.3 L719.8,802.2 L720.8,802.6 L721.8,802.9 L722.8,803.0 L723.8,803.1 L724.8,802.9 L725.8,802.7 L726.8,802.6 L727.8,802.5 L728.8,802.3 L729.8,802.2 L730.8,802.3 L731.8,802.4 L732.8,802.8 L733.8,803.1 L734.8,802.8 L735.8,802.5 L736.8,802.5 L737.8,802.5 L738.8,802.3 L739.8,802.1 L740.8,802.4 L741.8,802.7 L742.8,802.4 L743.8,802.2 L744.8,802.5 L745.8,802.8 L746.8,802.8 L747.8,802.8 L748.8,802.7 L749.8,802.7 L750.8,802.6 L751.8,802.5 L752.8,802.5 L753.8,802.5 L754.8,802.8 L755.8,803.2 L756.8,803.3 L757.8,803.4 L758.8,803.4 L759.8,803.3 L760.8,803.0 L761.8,802.7 L762.8,802.6 L763.8,802.5 L764.8,802.5 L765.8,802.6 L766.8,802.9 L767.8,803.2 L768.8,803.3 L769.8,803.5 L770.8,803.1 L771.8,802.7 L772.8,802.9 L773.8,803.0 L774.8,802.9 L775.8,802.8 L776.8,802.8 L777.8,802.8 L778.8,802.7 L779.8,802.5 L780.8,802.8 L781.8,803.0 L782.8,803.1 L783.8,803.2 L784.8,803.4 L785.8,803.5 L786.8,803.3 L787.8,803.0 L788.8,802.9 L789.8,802.8 L790.8,802.9 L791.8,803.0 L792.8,802.7 L793.8,802.4 L794.8,802.7 L795.8,803.0 L796.8,802.9 L797.8,802.6 L798.8,801.3 L799.8,798.8 L800.8,794.9 L801.8,791.4 L802.2,791.0 L802.8,791.9 L803.8,795.9 L804.8,799.7 L805.8,801.9 L806.8,802.6 L807.8,802.9 L808.8,802.8 L809.8,802.6 L810.8,802.9 L811.8,803.3 L812.8,803.4 L813.8,803.5 L814.8,803.5 L815.8,803.5 L816.8,803.3 L817.8,803.1 L818.8,803.0 L819.8,802.9 L820.8,802.8 L821.8,802.6 L822.8,802.8 L823.8,802.6 L824.8,801.2 L825.8,798.5 L826.8,795.6 L827.6,794.5 L827.8,794.7 L828.8,796.6 L829.8,799.3 L830.8,801.1 L831.8,801.8 L832.8,802.3 L833.8,802.6 L834.8,802.6 L835.8,802.6 L836.8,802.6 L837.8,802.6 L838.8,802.5 L839.8,802.4 L840.8,802.5 L841.8,802.5 L842.8,802.7 L843.8,802.9 L844.8,802.7 L845.8,802.6 L846.8,802.7 L847.8,802.8 L848.8,803.0 L849.8,803.2 L850.8,803.1 L851.8,802.9 L852.8,802.9 L853.8,802.9 L854.8,802.9 L855.8,803.0 L856.8,802.9 L857.8,802.9 L858.8,803.0 L859.8,803.2 L860.8,803.4 L861.8,803.5 L862.8,803.2 L863.8,802.8 L864.8,803.0 L865.8,803.2 L866.8,803.2 L867.8,803.3 L868.8,803.5 L869.8,803.7 L870.8,803.7 L871.8,803.7 L872.8,803.4 L873.8,803.2 L874.8,803.3 L875.8,803.4 L876.8,803.6 L877.8,803.8 L878.8,803.9 L879.8,804.0 L880.8,803.9 L881.8,803.8 L882.8,803.4 L883.8,803.0 L884.8,803.1 L885.8,803.1 L886.8,803.2 L887.8,803.3 L888.8,803.2 L889.8,803.1 L890.8,803.4 L891.8,803.6 L892.8,803.5 L893.8,803.4 L894.8,803.7 L895.8,803.9 L896.8,803.5 L897.8,803.0 L898.8,803.3 L899.8,803.6 L900.8,803.3 L901.8,803.0 L902.8,803.2 L903.8,803.3 L904.8,803.1 L905.8,803.0 L906.8,803.1 L907.8,803.1 L908.8,803.3 L909.8,803.4 L910.8,803.7 L911.8,803.9 L912.8,803.5 L913.8,803.0 L914.8,803.1 L915.8,803.1 L916.8,803.0 L917.8,802.8 L918.8,803.1 L919.8,803.4 L920.8,803.1 L921.8,802.8 L922.8,802.7 L923.8,802.5 L924.8,802.5 L925.8,801.7 L926.8,798.9 L927.8,794.8 L928.8,792.3 L929.0,792.3 L929.8,794.1 L930.8,797.7 L931.8,800.6 L932.8,802.5 L933.8,803.4 L934.8,803.2 L935.8,802.9 L936.8,802.9 L937.8,802.8 L938.8,803.0 L939.8,803.2 L940.8,803.2 L941.8,803.1 L942.8,803.3 L943.8,803.5 L944.8,803.4 L945.8,803.2 L946.8,803.2 L947.8,803.2 L948.8,803.0 L949.8,802.8 L950.8,802.8 L951.8,802.8 L952.8,802.7 L953.8,802.7 L954.8,802.9 L955.8,803.1 L956.8,803.4 L957.8,803.6 L958.8,803.4 L959.8,803.2 L960.8,802.8 L961.8,802.0 L962.8,800.3 L963.8,796.6 L964.8,791.9 L965.7,789.7 L965.8,789.8 L966.8,793.1 L967.8,798.1 L968.8,801.0 L969.8,802.1 L970.8,802.8 L971.8,803.2 L972.8,803.2 L973.8,803.1 L974.8,803.5 L975.8,803.9 L976.8,803.9 L977.8,803.9 L978.8,803.8 L979.8,803.7 L980.8,803.8 L981.8,803.8 L982.8,803.9 L983.8,803.9 L984.8,803.6 L985.8,803.2 L986.8,803.2 L987.8,803.3 L988.8,803.1 L989.8,803.0 L990.8,803.0 L991.8,803.0 L992.8,803.4 L993.8,803.9 L994.8,803.8 L995.8,803.6 L996.8,803.2 L997.8,802.4 L998.8,801.3 L999.8,800.4 L1000.0,800.4 L1000.8,800.9 L1001.8,802.1 L1002.8,802.7 L1003.8,802.9 L1004.8,803.4 L1005.8,803.8 L1006.8,803.7 L1007.8,803.6 L1008.8,803.4 L1009.8,803.1 L1010.8,803.3 L1011.8,803.5 L1012.8,803.5 L1013.8,803.5 L1014.8,803.7 L1015.8,803.9 L1016.8,803.7 L1017.8,803.5 L1018.8,803.4 L1019.8,803.4 L1020.8,803.5 L1021.8,803.6 L1022.8,803.6 L1023.8,803.6 L1024.8,803.4 L1025.8,803.3 L1026.8,803.6 L1027.8,803.9 L1028.8,804.0 L1029.8,804.2 L1030.8,804.2 L1031.8,804.2 L1032.8,804.2 L1033.8,804.1 L1034.8,803.9 L1035.8,803.8 L1036.8,804.0 L1037.8,804.1 L1038.8,803.8 L1039.8,803.5 L1040.8,803.4 L1041.8,803.3 L1042.8,803.3 L1043.8,803.3 L1044.8,803.5 L1045.8,803.7 L1046.8,803.6 L1047.8,803.4 L1048.8,803.5 L1049.8,803.6 L1050.8,803.9 L1051.8,804.1 L1052.8,804.1 L1053.8,804.0 L1054.8,803.8 L1055.8,803.5 L1056.8,803.4 L1057.8,803.3 L1058.8,803.2 L1059.8,803.1 L1060.8,803.1 L1061.8,803.1 L1062.8,803.2 L1063.8,803.3 L1064.8,803.6 L1065.8,803.9 L1066.8,804.1 L1067.8,804.2 L1068.8,804.0 L1069.8,803.8 L1070.8,803.6 L1071.8,803.3 L1072.8,803.6 L1073.8,803.8 L1074.8,804.1 L1075.8,804.3 L1076.8,803.9 L1077.8,803.5 L1078.8,803.7 L1079.8,803.9 L1080.8,804.2 L1081.8,804.4 L1082.8,804.1 L1083.8,803.9 L1084.8,803.9 L1085.8,804.0 L1086.8,804.1 L1087.8,804.3 L1088.8,804.2 L1089.8,804.2 L1090.8,803.9 L1091.8,803.6 L1092.8,803.9 L1093.8,804.1 L1094.8,804.1 L1095.8,804.1 L1096.8,804.1 L1097.8,804.2 L1098.8,804.1 L1099.8,804.1 L1100.8,804.2 L1101.8,804.3 L1102.8,804.2 L1103.8,804.1 L1104.8,804.3 L1105.8,804.5 L1106.8,804.1 L1107.8,803.7 L1108.8,803.5 L1109.8,803.3 L1110.8,803.4 L1111.8,803.4 L1112.8,803.6 L1113.8,803.8 L1114.8,804.0 L1115.8,804.2 L1116.8,804.3 L1117.8,804.5 L1118.8,804.0 L1119.8,803.6 L1120.8,803.4 L1121.8,803.3 L1122.8,803.5 L1123.8,803.7 L1124.8,803.9 L1125.8,804.1 L1126.8,804.0 L1127.8,803.9 L1128.8,803.8 L1129.8,803.7 L1130.8,803.7 L1131.8,803.6 L1132.8,803.9 L1133.8,804.1 L1134.8,804.1 L1135.8,804.2 L1136.8,804.4 L1137.8,804.6 L1138.8,804.3 L1139.8,804.0 L1140.8,804.0 L1141.8,804.0 L1142.8,804.3 L1143.8,804.5 L1144.8,804.5 L1145.8,804.4 L1146.8,804.1 L1147.8,803.9 L1148.8,804.1 L1149.8,804.2 L1150.8,804.1 L1151.8,804.0 L1152.8,803.8 L1153.8,803.6 L1154.8,803.5 L1155.8,803.4 L1156.8,803.6 L1157.8,803.8 L1158.8,803.7 L1159.8,803.6 L1160.8,803.4 L1161.8,803.0 L1162.8,802.1 L1163.8,799.9 L1164.8,796.7 L1165.4,795.8 L1165.8,796.1 L1166.8,798.9 L1167.8,801.7 L1168.8,803.1 L1169.8,803.7 L1170.8,803.6 L1171.8,803.4 L1172.8,803.8 L1173.8,804.2 L1174.8,804.0 L1175.8,803.8 L1176.8,803.7 L1177.8,803.6 L1178.8,803.8 L1179.8,804.0 L1180.8,803.9 L1181.8,803.8 L1182.8,803.6 L1183.8,803.5 L1184.8,803.5 L1185.8,803.5 L1186.8,803.5 L1187.8,803.4 L1188.8,803.6 L1189.8,803.8 L1190.8,803.8 L1191.8,803.8 L1192.8,803.8 L1193.8,803.7 L1194.8,803.7 L1195.8,803.7 L1196.8,804.0 L1197.8,804.4 L1198.8,804.4 L1199.8,804.3 L1200.8,804.3 L1201.8,804.4 L1202.8,804.0 L1203.8,803.7 L1204.8,804.1 L1205.8,804.5 L1206.8,804.1 L1207.8,803.8 L1208.8,804.1 L1209.8,804.4 L1210.8,804.4 L1211.8,804.4 L1212.8,804.3 L1213.8,804.1 L1214.8,803.9 L1215.8,803.5 L1216.8,803.0 L1217.8,802.7 L1218.0,802.7 L1218.8,802.9 L1219.8,803.6 L1220.8,804.2 L1221.8,804.5 L1222.8,804.2 L1223.8,803.8 L1224.8,803.7 L1225.8,803.7 L1226.8,803.9 L1227.8,804.2 L1228.8,804.1 L1229.8,804.0 L1230.8,804.1 L1231.8,804.3 L1232.8,804.2 L1233.8,804.1 L1234.8,803.9 L1235.8,803.7 L1236.8,804.1 L1237.8,804.5 L1238.8,804.2 L1239.8,804.0 L1240.8,804.0 L1241.8,804.0 L1242.8,804.3 L1243.8,804.5 L1244.8,804.7 L1245.8,804.8 L1246.8,804.8 L1247.8,804.9 L1248.8,804.9 L1249.8,805.0 L1250.8,804.6 L1251.8,804.3 L1252.8,804.2 L1253.8,804.0 L1254.8,804.1 L1255.8,804.2 L1256.8,804.4 L1257.8,804.6 L1258.8,804.6 L1259.8,804.5 L1260.8,804.4 L1261.8,804.1 L1262.8,803.4 L1263.8,802.4 L1264.6,801.7 L1264.8,801.7 L1265.8,802.3 L1266.8,803.4 L1267.8,804.0 L1268.8,804.2 L1269.8,804.2 L1270.8,804.5 L1271.8,804.7 L1272.8,804.5 L1273.8,804.3 L1274.8,804.3 L1275.8,804.4 L1276.8,804.5 L1277.8,804.5 L1278.8,804.6 L1279.8,804.7 L1280.8,804.7 L1281.8,804.8 L1282.8,804.8 L1283.8,804.8 L1284.8,804.4 L1285.8,804.1 L1286.8,804.5 L1287.8,804.8 L1288.8,804.4 L1289.8,804.0 L1290.8,804.3 L1291.8,804.5 L1292.8,804.4 L1293.8,804.2 L1294.8,804.1 L1295.8,803.9 L1296.8,804.0 L1297.8,804.1 L1298.8,804.0 L1299.8,803.9 L1300.8,803.9 L1301.8,803.9 L1302.8,804.3 L1303.8,804.8 L1304.8,804.8 L1305.8,804.9 L1306.8,804.6 L1307.8,804.4 L1308.8,804.4 L1309.8,804.4 L1310.8,804.4 L1311.8,804.5 L1312.8,804.4 L1313.8,804.2 L1314.8,804.1 L1315.8,803.9 L1316.8,804.1 L1317.8,804.2 L1318.8,804.5 L1319.8,804.7 L1320.8,804.9 L1321.8,805.0 L1322.8,804.9 L1323.8,804.7 L1324.8,804.8 L1325.8,804.8 L1326.8,804.6" stroke="#FF00FF" stroke-width="9.3"/>
</g>
<g style="filter:grayscale(1)"><text transform="matrix(0.9632,0,0,1.0326,240.30,994.80)" font-family="Liberation Serif" font-size="65" font-weight="normal" fill="#000">10</text></g>
<g style="filter:grayscale(1)"><text transform="matrix(0.9632,0,0,1.0326,390.80,994.80)" font-family="Liberation Serif" font-size="65" font-weight="normal" fill="#000">20</text></g>
<g style="filter:grayscale(1)"><text transform="matrix(0.9632,0,0,1.0326,541.30,994.80)" font-family="Liberation Serif" font-size="65" font-weight="normal" fill="#000">30</text></g>
<g style="filter:grayscale(1)"><text transform="matrix(0.9632,0,0,1.0326,691.80,994.80)" font-family="Liberation Serif" font-size="65" font-weight="normal" fill="#000">40</text></g>
<g style="filter:grayscale(1)"><text transform="matrix(0.9632,0,0,1.0326,842.30,994.80)" font-family="Liberation Serif" font-size="65" font-weight="normal" fill="#000">50</text></g>
<g style="filter:grayscale(1)"><text transform="matrix(0.9632,0,0,1.0326,992.80,994.80)" font-family="Liberation Serif" font-size="65" font-weight="normal" fill="#000">60</text></g>
<g style="filter:grayscale(1)"><text transform="matrix(0.9632,0,0,1.0326,1143.30,994.80)" font-family="Liberation Serif" font-size="65" font-weight="normal" fill="#000">70</text></g>
<g style="filter:grayscale(1)"><text transform="matrix(0.9632,0,0,1.0326,1293.80,994.80)" font-family="Liberation Serif" font-size="65" font-weight="normal" fill="#000">80</text></g>
<g style="filter:grayscale(1)"><text transform="matrix(0.9746,0,0,0.9709,542.80,1099.35)" font-family="Liberation Serif" font-size="86" font-weight="normal" fill="#000">2Theta (degree)</text></g>
<g style="filter:grayscale(1)"><text transform="matrix(0,-0.9763,0.9658,0,86.15,702.73)" font-family="Liberation Serif" font-size="86" font-weight="normal" fill="#000">Intensity (a.u.)</text></g>
<g style="filter:grayscale(1)"><text transform="matrix(1.0515,0,0,1.0172,200.45,142.98)" font-family="Liberation Serif" font-size="65" font-weight="normal" fill="#000">(a)</text></g>
<g style="filter:grayscale(1)"><text transform="matrix(1.0014,0,0,0.9867,201.50,238.29)" font-family="Liberation Serif" font-size="65" font-weight="normal" fill="#000">(b)</text></g>
<g style="filter:grayscale(1)"><text transform="matrix(1.0258,0,0,1.0259,204.62,337.76)" font-family="Liberation Serif" font-size="65" font-weight="normal" fill="#000">(c)</text></g>
<g style="filter:grayscale(1)"><text transform="matrix(1.0129,0,0,0.9933,202.26,427.69)" font-family="Liberation Serif" font-size="65" font-weight="normal" fill="#000">(d)</text></g>
<g style="filter:grayscale(1)"><text transform="matrix(1.0303,0,0,1.0121,202.81,515.54)" font-family="Liberation Serif" font-size="65" font-weight="normal" fill="#000">(e)</text></g>
<g style="filter:grayscale(1)"><text transform="matrix(1.0373,0,0,0.9833,204.69,600.83)" font-family="Liberation Serif" font-size="65" font-weight="normal" fill="#000">(f)</text></g>
<g style="filter:grayscale(1)"><text transform="matrix(1.0114,0,0,0.9949,199.67,693.57)" font-family="Liberation Serif" font-size="65" font-weight="normal" fill="#000">(g)</text></g>
<g style="filter:grayscale(1)"><text transform="matrix(1.0129,0,0,0.9949,200.66,778.07)" font-family="Liberation Serif" font-size="65" font-weight="normal" fill="#000">(h)</text></g>
<g style="filter:grayscale(1)"><text transform="matrix(1.0280,0,0,1.0162,405.89,148.82)" font-family="Liberation Serif" font-size="83" font-weight="normal" fill="#000">(A)</text></g>
<line x1="283.5" y1="57" x2="278.6" y2="905" stroke="#0000FF" stroke-width="3.9" stroke-dasharray="11.10 14.25" stroke-dashoffset="21.80" stroke-linecap="round"/>
<line x1="542.3" y1="57" x2="546.8" y2="905" stroke="#0000FF" stroke-width="3.9" stroke-dasharray="11.10 14.25" stroke-dashoffset="24.30" stroke-linecap="round"/>
<line x1="619.5" y1="57" x2="618.5" y2="905" stroke="#0000FF" stroke-width="3.9" stroke-dasharray="11.10 14.25" stroke-dashoffset="24.30" stroke-linecap="round"/>
<line x1="657.7" y1="57" x2="664.2" y2="905" stroke="#0000FF" stroke-width="3.9" stroke-dasharray="11.10 14.25" stroke-dashoffset="21.10" stroke-linecap="round"/>
<line x1="831.9" y1="57" x2="835.9" y2="905" stroke="#0000FF" stroke-width="3.9" stroke-dasharray="11.10 14.25" stroke-dashoffset="23.70" stroke-linecap="round"/>
<line x1="970.7" y1="57" x2="965.9" y2="905" stroke="#0000FF" stroke-width="3.9" stroke-dasharray="11.10 14.25" stroke-dashoffset="24.20" stroke-linecap="round"/>
<line x1="1168.9" y1="57" x2="1164.8" y2="905" stroke="#0000FF" stroke-width="3.9" stroke-dasharray="11.10 14.25" stroke-dashoffset="20.70" stroke-linecap="round"/>
<line x1="1262.2" y1="57" x2="1264.0" y2="905" stroke="#0000FF" stroke-width="3.9" stroke-dasharray="11.10 14.25" stroke-dashoffset="21.00" stroke-linecap="round"/>
<g stroke="#000" fill="none">
<line x1="208.9" y1="1552.2" x2="208.9" y2="2372.0" stroke-width="8.0"/>
<line x1="1288.0" y1="1552.2" x2="1288.0" y2="2372.0" stroke-width="7.2"/>
<line x1="204.9" y1="1555.9" x2="1291.6" y2="1555.9" stroke-width="7.4"/>
<line x1="204.9" y1="2366.1" x2="1291.6" y2="2366.1" stroke-width="11.8"/>
</g>
<g stroke="#000" stroke-linecap="round">
<line x1="209.4" y1="2366.1" x2="209.4" y2="2377.7" stroke-width="8.6"/>
<line x1="281.3" y1="2366.1" x2="281.3" y2="2387.7" stroke-width="8.6"/>
<line x1="353.2" y1="2366.1" x2="353.2" y2="2377.7" stroke-width="8.6"/>
<line x1="425.1" y1="2366.1" x2="425.1" y2="2387.7" stroke-width="8.6"/>
<line x1="497.0" y1="2366.1" x2="497.0" y2="2377.7" stroke-width="8.6"/>
<line x1="568.9" y1="2366.1" x2="568.9" y2="2387.7" stroke-width="8.6"/>
<line x1="640.8" y1="2366.1" x2="640.8" y2="2377.7" stroke-width="8.6"/>
<line x1="712.7" y1="2366.1" x2="712.7" y2="2387.7" stroke-width="8.6"/>
<line x1="784.6" y1="2366.1" x2="784.6" y2="2377.7" stroke-width="8.6"/>
<line x1="856.5" y1="2366.1" x2="856.5" y2="2387.7" stroke-width="8.6"/>
<line x1="928.4" y1="2366.1" x2="928.4" y2="2377.7" stroke-width="8.6"/>
<line x1="1000.3" y1="2366.1" x2="1000.3" y2="2387.7" stroke-width="8.6"/>
<line x1="1072.2" y1="2366.1" x2="1072.2" y2="2377.7" stroke-width="8.6"/>
<line x1="1144.1" y1="2366.1" x2="1144.1" y2="2387.7" stroke-width="8.6"/>
<line x1="1216.0" y1="2366.1" x2="1216.0" y2="2377.7" stroke-width="8.6"/>
<line x1="1287.9" y1="2366.1" x2="1287.9" y2="2387.7" stroke-width="8.6"/>
</g>
<defs><clipPath id="cb"><rect x="208.9" y="1555.9" width="1079.1" height="810.1999999999998"/></clipPath></defs>
<g clip-path="url(#cb)" fill="none" stroke-linejoin="bevel" stroke-linecap="butt">
<path d="M206.9,1633.4 L207.9,1635.2 L208.9,1637.0 L209.9,1635.2 L210.9,1633.4 L211.9,1634.5 L212.9,1635.6 L213.9,1638.7 L214.9,1641.8 L215.9,1637.6 L216.9,1633.4 L217.9,1633.9 L218.9,1634.5 L219.9,1636.7 L220.9,1638.9 L221.9,1636.2 L222.9,1633.5 L223.9,1633.4 L224.9,1633.4 L225.9,1637.2 L226.9,1641.0 L227.9,1642.8 L228.9,1644.5 L229.9,1641.3 L230.9,1638.1 L231.9,1636.9 L232.9,1635.6 L233.9,1639.8 L234.9,1644.0 L235.9,1641.4 L236.9,1638.8 L237.9,1639.9 L238.9,1641.0 L239.9,1641.4 L240.9,1641.7 L241.9,1642.1 L242.9,1642.4 L243.9,1644.1 L244.9,1645.8 L245.9,1646.5 L246.9,1647.3 L247.9,1646.0 L248.9,1644.8 L249.9,1645.4 L250.9,1646.0 L251.9,1646.0 L252.9,1646.0 L253.9,1645.3 L254.9,1644.6 L255.9,1643.4 L256.9,1642.2 L257.9,1641.0 L258.9,1639.7 L259.9,1639.8 L260.9,1639.9 L261.9,1643.6 L262.9,1647.3 L263.9,1646.9 L264.9,1646.5 L265.9,1643.3 L266.9,1640.1 L267.9,1643.9 L268.9,1647.8 L269.9,1645.1 L270.9,1642.5 L271.9,1644.4 L272.9,1646.2 L273.9,1645.4 L274.9,1644.7 L275.9,1643.8 L276.9,1642.8 L277.9,1642.5 L278.9,1642.1 L279.9,1644.1 L280.9,1646.2 L281.9,1645.7 L282.9,1645.3 L283.9,1646.3 L284.9,1647.1 L285.9,1647.3 L286.9,1647.0 L287.9,1645.3 L288.9,1638.7 L289.9,1621.0 L290.9,1589.9 L291.9,1556.1 L292.5,1548.0 L292.9,1551.1 L293.9,1582.8 L294.9,1618.3 L295.9,1637.5 L296.9,1644.9 L297.9,1650.2 L298.9,1653.6 L299.9,1654.6 L300.9,1655.3 L301.9,1656.0 L302.9,1656.5 L303.9,1653.3 L304.9,1650.1 L305.9,1652.1 L306.9,1654.2 L307.9,1654.6 L308.9,1654.9 L309.9,1653.0 L310.9,1651.1 L311.9,1652.4 L312.9,1653.6 L313.9,1654.8 L314.9,1656.0 L315.9,1653.4 L316.9,1650.3 L317.9,1647.6 L318.9,1642.1 L319.9,1638.0 L320.9,1636.5 L321.0,1636.4 L321.9,1639.6 L322.9,1646.7 L323.9,1655.6 L324.9,1661.7 L325.9,1663.0 L326.9,1663.4 L327.9,1663.7 L328.9,1663.8 L329.9,1663.9 L330.9,1663.9 L331.9,1661.0 L332.9,1658.2 L333.9,1660.4 L334.9,1662.6 L335.9,1659.9 L336.9,1657.2 L337.9,1656.9 L338.9,1656.7 L339.9,1658.0 L340.9,1659.4 L341.9,1659.1 L342.9,1658.8 L343.9,1657.7 L344.9,1656.7 L345.9,1659.1 L346.9,1661.5 L347.9,1664.4 L348.9,1667.3 L349.9,1663.4 L350.9,1659.5 L351.9,1659.7 L352.9,1659.8 L353.9,1663.5 L354.9,1667.2 L355.9,1666.0 L356.9,1664.8 L357.9,1664.4 L358.9,1663.9 L359.9,1663.7 L360.9,1663.5 L361.9,1665.6 L362.9,1667.8 L363.9,1666.5 L364.9,1665.2 L365.9,1664.8 L366.9,1664.3 L367.9,1664.1 L368.9,1663.9 L369.9,1666.1 L370.9,1668.2 L371.9,1664.9 L372.9,1661.6 L373.9,1663.2 L374.9,1664.8 L375.9,1666.3 L376.9,1667.7 L377.9,1664.9 L378.9,1662.1 L379.9,1663.2 L380.9,1664.2 L381.9,1664.6 L382.9,1665.0 L383.9,1666.6 L384.9,1668.3 L385.9,1668.0 L386.9,1667.7 L387.9,1667.6 L388.9,1667.4 L389.9,1666.5 L390.9,1665.5 L391.9,1666.0 L392.9,1666.4 L393.9,1669.1 L394.9,1671.7 L395.9,1668.2 L396.9,1664.6 L397.9,1663.8 L398.9,1663.1 L399.9,1663.3 L400.9,1663.5 L401.9,1663.1 L402.9,1662.6 L403.9,1663.0 L404.9,1663.4 L405.9,1664.4 L406.9,1665.3 L407.9,1667.7 L408.9,1670.0 L409.9,1671.7 L410.9,1673.3 L411.9,1668.9 L412.9,1664.6 L413.9,1666.2 L414.9,1667.7 L415.9,1666.8 L416.9,1665.9 L417.9,1669.0 L418.9,1672.1 L419.9,1673.2 L420.9,1674.4 L421.9,1673.1 L422.9,1671.9 L423.9,1668.4 L424.9,1664.9 L425.9,1666.5 L426.9,1668.1 L427.9,1668.2 L428.9,1668.3 L429.9,1668.8 L430.9,1669.4 L431.9,1668.0 L432.9,1666.6 L433.9,1665.4 L434.9,1664.2 L435.9,1666.8 L436.9,1669.4 L437.9,1671.1 L438.9,1672.7 L439.9,1670.7 L440.9,1668.6 L441.9,1668.5 L442.9,1668.3 L443.9,1666.7 L444.9,1665.1 L445.9,1667.1 L446.9,1669.2 L447.9,1671.1 L448.9,1672.9 L449.9,1671.7 L450.9,1670.4 L451.9,1668.5 L452.9,1666.6 L453.9,1666.2 L454.9,1665.8 L455.9,1669.3 L456.9,1672.8 L457.9,1672.9 L458.9,1673.0 L459.9,1670.8 L460.9,1668.6 L461.9,1669.5 L462.9,1670.4 L463.9,1668.7 L464.9,1667.0 L465.9,1668.8 L466.9,1670.6 L467.9,1668.4 L468.9,1666.3 L469.9,1667.2 L470.9,1668.1 L471.9,1669.2 L472.9,1670.3 L473.9,1670.5 L474.9,1670.7 L475.9,1669.9 L476.9,1669.2 L477.9,1670.8 L478.9,1672.5 L479.9,1670.9 L480.9,1669.2 L481.9,1671.5 L482.9,1673.8 L483.9,1674.5 L484.9,1675.2 L485.9,1674.1 L486.9,1673.1 L487.9,1674.7 L488.9,1676.4 L489.9,1673.4 L490.9,1670.4 L491.9,1673.2 L492.9,1676.1 L493.9,1672.3 L494.9,1668.5 L495.9,1670.1 L496.9,1671.8 L497.9,1670.4 L498.9,1669.0 L499.9,1668.3 L500.9,1667.7 L501.9,1668.3 L502.9,1668.9 L503.9,1669.3 L504.9,1669.3 L505.9,1666.2 L506.9,1662.2 L507.9,1660.3 L508.9,1659.7 L509.0,1660.0 L509.9,1664.1 L510.9,1670.1 L511.9,1672.8 L512.9,1674.5 L513.9,1674.6 L514.9,1674.3 L515.9,1675.7 L516.9,1677.1 L517.9,1675.1 L518.9,1673.2 L519.9,1674.0 L520.9,1674.8 L521.9,1675.5 L522.9,1676.1 L523.9,1674.3 L524.9,1672.0 L525.9,1669.5 L526.9,1663.7 L527.9,1652.0 L528.9,1640.5 L529.3,1640.5 L529.9,1645.0 L530.9,1658.7 L531.9,1665.5 L532.9,1667.5 L533.9,1667.6 L534.9,1666.4 L535.9,1665.5 L536.9,1663.3 L537.9,1660.5 L538.9,1650.2 L539.9,1623.2 L540.9,1584.7 L541.9,1552.5 L542.5,1546.1 L542.9,1550.0 L543.9,1580.1 L544.9,1618.2 L545.9,1647.7 L546.9,1664.3 L547.9,1670.6 L548.9,1673.1 L549.9,1675.1 L550.9,1676.5 L551.9,1673.8 L552.9,1671.1 L553.9,1670.0 L554.9,1668.8 L555.9,1668.7 L556.9,1668.6 L557.9,1669.4 L558.9,1670.3 L559.9,1669.9 L560.9,1669.7 L561.9,1669.9 L562.9,1670.2 L563.9,1672.7 L564.9,1675.2 L565.9,1674.2 L566.9,1672.8 L567.9,1670.1 L568.9,1666.5 L569.9,1664.6 L570.7,1664.4 L570.9,1664.6 L571.9,1665.5 L572.9,1667.5 L573.9,1670.3 L574.9,1672.2 L575.9,1673.1 L576.9,1673.6 L577.9,1672.3 L578.9,1670.9 L579.9,1674.7 L580.9,1678.4 L581.9,1678.9 L582.9,1679.4 L583.9,1677.2 L584.9,1674.8 L585.9,1675.5 L586.9,1675.9 L587.9,1672.8 L588.9,1668.5 L589.9,1666.1 L590.9,1662.1 L591.9,1660.0 L592.0,1660.1 L592.9,1663.4 L593.9,1667.9 L594.9,1671.4 L595.9,1671.9 L596.9,1671.2 L597.9,1672.7 L598.9,1673.9 L599.9,1673.1 L600.9,1672.1 L601.9,1673.2 L602.7,1674.1 L602.9,1674.3 L603.9,1674.1 L604.9,1673.5 L605.9,1670.6 L606.9,1664.6 L607.9,1654.2 L608.9,1633.9 L609.9,1602.0 L610.9,1567.7 L611.9,1546.5 L612.0,1546.0 L612.9,1556.3 L613.9,1592.3 L614.9,1628.8 L615.9,1652.0 L616.9,1664.7 L617.9,1670.5 L618.9,1672.7 L619.9,1673.8 L620.9,1674.3 L621.9,1676.3 L622.9,1678.2 L623.9,1676.6 L624.9,1675.0 L625.9,1676.5 L626.9,1677.9 L627.9,1677.1 L628.9,1676.3 L629.9,1677.0 L630.9,1677.7 L631.9,1678.1 L632.9,1678.5 L633.9,1678.3 L634.9,1678.2 L635.9,1678.5 L636.9,1678.7 L637.9,1676.5 L638.9,1674.2 L639.9,1674.5 L640.9,1674.9 L641.9,1675.7 L642.9,1676.5 L643.9,1676.4 L644.9,1676.4 L645.9,1676.5 L646.9,1676.5 L647.9,1676.1 L648.9,1675.4 L649.9,1674.1 L650.9,1670.7 L651.9,1664.4 L652.9,1655.4 L653.9,1648.0 L654.0,1647.9 L654.9,1651.2 L655.9,1660.6 L656.9,1668.0 L657.9,1675.3 L658.9,1680.2 L659.9,1680.5 L660.9,1680.4 L661.9,1681.2 L662.9,1681.9 L663.9,1680.2 L664.9,1678.5 L665.9,1680.6 L666.9,1682.6 L667.9,1681.1 L668.9,1679.7 L669.9,1679.6 L670.9,1679.5 L671.9,1677.7 L672.9,1675.8 L673.9,1676.3 L674.9,1676.7 L675.9,1678.6 L676.9,1680.5 L677.9,1681.5 L678.9,1682.4 L679.9,1680.8 L680.9,1679.1 L681.9,1680.9 L682.9,1682.7 L683.9,1682.5 L684.9,1682.2 L685.9,1679.6 L686.9,1677.0 L687.9,1677.4 L688.9,1677.8 L689.9,1681.0 L690.9,1684.2 L691.9,1682.9 L692.9,1681.6 L693.9,1679.2 L694.9,1676.8 L695.9,1679.1 L696.9,1681.4 L697.9,1680.5 L698.9,1679.6 L699.9,1677.8 L700.9,1675.4 L701.9,1676.7 L702.9,1677.5 L703.9,1674.7 L704.0,1674.5 L704.9,1674.1 L705.9,1677.3 L706.9,1680.2 L707.9,1680.4 L708.9,1679.8 L709.9,1682.2 L710.9,1684.3 L711.9,1683.7 L712.9,1683.0 L713.9,1681.8 L714.9,1680.7 L715.9,1680.3 L716.9,1679.8 L717.9,1682.4 L718.9,1684.9 L719.9,1684.4 L720.9,1683.7 L721.9,1685.0 L722.9,1686.2 L723.9,1683.2 L724.9,1680.3 L725.9,1680.7 L726.9,1681.2 L727.9,1682.3 L728.9,1683.5 L729.9,1684.9 L730.9,1686.2 L731.9,1685.7 L732.9,1685.1 L733.9,1683.8 L734.9,1682.5 L735.9,1684.0 L736.9,1685.6 L737.9,1685.2 L738.9,1685.0 L739.9,1683.2 L740.9,1681.5 L741.9,1681.3 L742.9,1681.1 L743.9,1681.9 L744.9,1682.7 L745.9,1684.6 L746.9,1686.4 L747.9,1685.4 L748.9,1684.4 L749.9,1683.2 L750.9,1682.1 L751.9,1682.9 L752.9,1683.8 L753.9,1681.7 L754.9,1679.6 L755.9,1680.9 L756.9,1682.2 L757.9,1682.8 L758.9,1683.4 L759.9,1684.0 L760.9,1684.6 L761.9,1685.4 L762.9,1686.2 L763.9,1683.0 L764.9,1679.8 L765.9,1681.5 L766.9,1683.1 L767.9,1682.8 L768.9,1682.5 L769.9,1681.6 L770.9,1680.7 L771.9,1681.3 L772.9,1681.8 L773.9,1680.8 L774.9,1679.3 L775.9,1677.1 L776.9,1672.8 L777.9,1670.1 L778.9,1669.3 L779.0,1669.2 L779.9,1671.1 L780.9,1675.9 L781.9,1678.0 L782.9,1678.1 L783.9,1679.4 L784.9,1680.2 L785.9,1679.3 L786.9,1677.9 L787.9,1677.8 L788.9,1676.7 L789.9,1675.0 L790.4,1674.8 L790.9,1675.2 L791.9,1676.1 L792.9,1677.0 L793.9,1678.0 L794.9,1678.4 L795.9,1680.0 L796.9,1681.4 L797.9,1683.8 L798.9,1686.1 L799.9,1684.0 L800.9,1681.8 L801.9,1683.7 L802.9,1685.6 L803.9,1682.9 L804.9,1680.1 L805.9,1682.0 L806.7,1683.4 L806.9,1683.8 L807.9,1681.0 L808.9,1677.3 L809.9,1674.7 L810.9,1666.9 L811.9,1650.9 L812.9,1637.6 L813.2,1637.5 L813.9,1643.5 L814.9,1660.3 L815.9,1673.7 L816.9,1681.4 L817.9,1681.8 L818.9,1680.5 L819.9,1683.3 L820.9,1685.9 L821.9,1685.6 L822.9,1685.1 L823.9,1682.7 L824.9,1680.2 L825.9,1682.8 L826.9,1685.4 L827.9,1684.3 L828.9,1683.3 L829.9,1683.1 L830.9,1682.9 L831.9,1683.0 L832.9,1683.0 L833.9,1682.3 L834.9,1681.5 L835.9,1683.9 L836.9,1686.3 L837.9,1686.0 L838.9,1685.8 L839.9,1685.9 L840.9,1686.0 L841.9,1686.3 L842.9,1686.5 L843.9,1684.6 L844.9,1682.6 L845.9,1683.8 L846.9,1685.1 L847.9,1685.5 L848.9,1685.9 L849.9,1684.6 L850.9,1683.3 L851.9,1684.1 L852.9,1684.9 L853.9,1684.9 L854.9,1684.8 L855.9,1685.9 L856.9,1686.9 L857.9,1685.8 L858.9,1684.6 L859.9,1684.0 L860.9,1683.4 L861.9,1684.1 L862.9,1684.8 L863.9,1685.5 L864.9,1686.2 L865.9,1686.0 L866.9,1685.9 L867.9,1684.8 L868.9,1683.8 L869.9,1684.2 L870.9,1684.7 L871.9,1686.1 L872.9,1687.5 L873.9,1686.8 L874.9,1686.1 L875.9,1686.2 L876.9,1686.4 L877.9,1684.4 L878.9,1682.5 L879.9,1683.2 L880.9,1683.8 L881.9,1684.1 L882.9,1684.5 L883.9,1683.7 L884.9,1682.9 L885.9,1683.7 L886.9,1684.5 L887.9,1683.1 L888.9,1681.6 L889.9,1681.5 L890.9,1681.4 L891.9,1682.2 L892.9,1683.0 L893.9,1684.7 L894.9,1686.4 L895.9,1687.1 L896.9,1687.7 L897.9,1685.7 L898.9,1683.7 L899.9,1685.4 L900.9,1687.2 L901.9,1687.7 L902.9,1688.1 L903.9,1686.4 L904.9,1684.6 L905.9,1684.3 L906.9,1683.9 L907.9,1683.3 L908.9,1682.8 L909.9,1682.2 L910.9,1681.7 L911.9,1683.9 L912.9,1686.1 L913.9,1685.0 L914.9,1683.9 L915.9,1683.1 L916.9,1682.2 L917.9,1684.1 L918.9,1686.1 L919.9,1686.3 L920.9,1686.5 L921.9,1684.9 L922.9,1683.3 L923.9,1684.6 L924.9,1685.9 L925.9,1686.6 L926.9,1687.3 L927.9,1686.3 L928.9,1685.2 L929.9,1685.9 L930.9,1686.5 L931.9,1684.9 L932.9,1683.3 L933.9,1684.4 L934.9,1685.4 L935.4,1685.3 L935.9,1685.3 L936.9,1685.0 L937.9,1684.3 L938.9,1682.8 L939.9,1677.9 L940.9,1667.2 L941.9,1646.4 L942.9,1616.2 L943.9,1592.0 L944.4,1588.6 L944.9,1593.7 L945.9,1619.8 L946.9,1649.3 L947.9,1667.6 L948.9,1675.9 L949.9,1680.9 L950.9,1683.5 L951.9,1683.9 L952.9,1684.0 L953.9,1684.9 L954.9,1685.7 L955.9,1686.0 L956.9,1686.2 L957.9,1686.4 L958.9,1686.4 L959.9,1685.6 L960.9,1684.8 L961.9,1686.5 L962.9,1688.1 L963.9,1687.4 L964.9,1686.7 L965.9,1686.2 L966.9,1685.6 L967.9,1684.8 L968.9,1683.9 L969.9,1684.1 L970.9,1684.3 L971.9,1686.1 L972.9,1687.7 L973.9,1685.3 L974.9,1681.7 L975.9,1677.4 L976.9,1672.0 L977.8,1668.9 L977.9,1668.8 L978.9,1671.1 L979.9,1676.7 L980.9,1680.9 L981.9,1682.0 L982.9,1681.9 L983.9,1682.7 L984.9,1683.4 L985.9,1684.1 L986.9,1684.8 L987.9,1685.3 L988.9,1685.8 L989.9,1684.6 L990.9,1683.4 L991.9,1684.4 L992.9,1685.4 L993.9,1687.2 L994.9,1689.0 L995.9,1688.5 L996.9,1687.9 L997.9,1688.5 L998.9,1689.0 L999.9,1688.4 L1000.9,1687.8 L1001.9,1686.1 L1002.9,1684.4 L1003.9,1685.0 L1004.9,1685.5 L1005.9,1684.9 L1006.9,1684.2 L1007.9,1685.3 L1008.9,1686.5 L1009.9,1685.0 L1010.9,1683.5 L1011.9,1684.9 L1012.9,1686.4 L1013.9,1687.2 L1014.9,1688.1 L1015.9,1687.0 L1016.9,1685.9 L1017.9,1686.8 L1018.9,1687.7 L1019.9,1686.1 L1020.9,1684.5 L1021.9,1685.4 L1022.9,1686.4 L1023.9,1687.3 L1024.9,1688.2 L1025.9,1689.0 L1026.9,1689.7 L1027.9,1689.4 L1028.9,1689.1 L1029.9,1688.1 L1030.9,1687.0 L1031.9,1686.7 L1032.9,1686.3 L1033.9,1686.3 L1034.9,1686.3 L1035.9,1686.1 L1036.9,1685.9 L1037.9,1685.7 L1038.9,1685.5 L1039.9,1685.9 L1040.9,1686.3 L1041.9,1685.4 L1042.9,1684.6 L1043.9,1684.1 L1044.9,1683.7 L1045.9,1684.1 L1046.9,1684.6 L1047.9,1684.3 L1048.9,1683.9 L1049.9,1683.8 L1050.9,1683.8 L1051.9,1685.6 L1052.9,1687.5 L1053.9,1686.4 L1054.9,1685.2 L1055.9,1686.1 L1056.9,1686.9 L1057.9,1686.9 L1058.9,1687.0 L1059.9,1685.9 L1060.9,1684.9 L1061.9,1685.9 L1062.9,1686.8 L1063.9,1686.6 L1064.9,1686.3 L1065.9,1686.3 L1066.9,1686.3 L1067.9,1687.3 L1068.9,1688.3 L1069.9,1687.5 L1070.9,1686.6 L1071.9,1687.8 L1072.9,1688.9 L1073.9,1689.5 L1074.9,1690.0 L1075.9,1687.9 L1076.9,1685.7 L1077.9,1685.3 L1078.9,1684.9 L1079.9,1685.4 L1080.9,1686.0 L1081.9,1686.9 L1082.9,1687.8 L1083.9,1688.2 L1084.9,1688.6 L1085.9,1687.4 L1086.9,1686.2 L1087.9,1687.4 L1088.9,1688.5 L1089.9,1687.4 L1090.9,1686.3 L1091.9,1687.9 L1092.9,1689.5 L1093.9,1687.9 L1094.9,1686.2 L1095.9,1686.1 L1096.9,1686.0 L1097.9,1686.3 L1098.9,1686.6 L1099.9,1686.7 L1100.9,1686.8 L1101.9,1686.2 L1102.9,1685.5 L1103.9,1686.1 L1104.9,1686.6 L1105.9,1686.5 L1106.9,1686.4 L1107.9,1685.1 L1108.9,1683.6 L1109.9,1684.5 L1110.9,1684.4 L1111.9,1680.3 L1112.9,1676.4 L1113.5,1676.2 L1113.9,1676.7 L1114.9,1679.8 L1115.9,1682.2 L1116.9,1683.9 L1117.9,1684.6 L1118.9,1684.7 L1119.9,1685.4 L1120.9,1686.0 L1121.9,1685.8 L1122.9,1685.5 L1123.9,1686.2 L1124.9,1686.9 L1125.9,1687.5 L1126.9,1688.0 L1127.9,1687.4 L1128.9,1686.7 L1129.9,1685.9 L1130.9,1684.6 L1131.9,1681.5 L1132.9,1674.3 L1133.9,1661.7 L1134.9,1645.7 L1135.8,1636.8 L1135.9,1636.7 L1136.9,1645.7 L1137.9,1662.0 L1138.9,1673.6 L1139.9,1679.7 L1140.9,1682.1 L1141.9,1683.1 L1142.9,1683.8 L1143.9,1685.7 L1144.9,1687.6 L1145.9,1688.2 L1146.9,1688.8 L1147.9,1688.3 L1148.9,1687.8 L1149.9,1686.4 L1150.9,1685.0 L1151.9,1685.8 L1152.9,1686.5 L1153.9,1687.1 L1154.9,1687.7 L1155.9,1688.8 L1156.9,1689.9 L1157.9,1689.7 L1158.9,1689.6 L1159.9,1688.4 L1160.9,1687.3 L1161.9,1686.4 L1162.9,1685.5 L1163.9,1686.6 L1164.9,1687.7 L1165.9,1687.5 L1166.9,1687.2 L1167.9,1688.6 L1168.9,1689.9 L1169.9,1690.2 L1170.9,1690.5 L1171.9,1690.2 L1172.9,1689.9 L1173.9,1689.9 L1174.9,1690.0 L1175.9,1687.9 L1176.9,1685.9 L1177.9,1686.6 L1178.9,1687.2 L1179.9,1686.2 L1180.9,1685.1 L1181.9,1685.5 L1182.9,1685.9 L1183.9,1687.7 L1184.9,1689.5 L1185.9,1689.7 L1186.9,1690.0 L1187.9,1689.4 L1188.9,1688.8 L1189.9,1689.4 L1190.9,1690.1 L1191.9,1689.8 L1192.9,1689.5 L1193.9,1689.2 L1194.9,1689.0 L1195.9,1689.5 L1196.9,1690.1 L1197.9,1688.3 L1198.9,1686.5 L1199.9,1687.7 L1200.9,1688.9 L1201.9,1688.3 L1202.9,1687.7 L1203.9,1686.7 L1204.9,1685.7 L1205.9,1686.5 L1206.9,1687.3 L1207.9,1687.9 L1208.9,1688.6 L1209.9,1688.8 L1210.9,1689.0 L1211.9,1688.9 L1212.9,1688.8 L1213.9,1688.4 L1214.9,1688.0 L1215.9,1687.0 L1216.9,1685.8 L1217.9,1685.0 L1218.9,1683.4 L1219.9,1681.8 L1220.9,1681.2 L1221.0,1681.1 L1221.9,1681.3 L1222.9,1682.7 L1223.9,1685.8 L1224.9,1688.0 L1225.9,1686.8 L1226.9,1685.3 L1227.9,1684.4 L1228.9,1682.6 L1229.9,1680.9 L1230.9,1677.3 L1231.9,1672.4 L1232.3,1671.8 L1232.9,1672.8 L1233.9,1677.2 L1234.9,1681.3 L1235.9,1684.5 L1236.9,1686.0 L1237.9,1687.9 L1238.9,1689.5 L1239.9,1687.9 L1240.9,1686.2 L1241.9,1686.9 L1242.9,1687.5 L1243.9,1688.1 L1244.9,1688.6 L1245.9,1689.0 L1246.9,1689.4 L1247.9,1688.8 L1248.9,1688.1 L1249.9,1687.1 L1250.9,1686.1 L1251.9,1685.3 L1252.9,1684.0 L1253.9,1682.9 L1254.9,1681.1 L1255.9,1680.5 L1256.0,1680.6 L1256.9,1682.2 L1257.9,1685.0 L1258.9,1687.3 L1259.9,1687.4 L1260.9,1686.9 L1261.9,1687.7 L1262.9,1688.5 L1263.9,1688.4 L1264.9,1688.3 L1265.9,1686.0 L1266.9,1682.7 L1267.9,1678.6 L1268.9,1672.5 L1269.9,1668.0 L1270.2,1667.7 L1270.9,1669.4 L1271.9,1676.8 L1272.9,1683.6 L1273.9,1685.4 L1274.9,1685.4 L1275.9,1687.5 L1276.9,1689.3 L1277.9,1688.4 L1278.9,1687.5 L1279.9,1686.5 L1280.9,1685.5 L1281.9,1686.2 L1282.9,1686.9 L1283.9,1687.8 L1284.9,1688.6 L1285.9,1688.5 L1286.9,1688.3 L1287.9,1688.6 L1288.9,1689.0 L1289.9,1688.0" stroke="#FF0000" stroke-width="10.5"/>
<path d="M206.9,1793.4 L207.9,1791.8 L208.9,1790.1 L209.9,1793.5 L210.9,1797.0 L211.9,1794.5 L212.9,1792.0 L213.9,1793.5 L214.9,1794.9 L215.9,1797.4 L216.9,1799.9 L217.9,1797.6 L218.9,1795.3 L219.9,1798.1 L220.9,1801.0 L221.9,1800.4 L222.9,1799.8 L223.9,1798.8 L224.9,1797.7 L225.9,1798.1 L226.9,1798.5 L227.9,1798.5 L228.9,1798.5 L229.9,1797.3 L230.9,1796.2 L231.9,1799.6 L232.9,1803.1 L233.9,1800.6 L234.9,1798.1 L235.9,1801.0 L236.9,1803.8 L237.9,1803.8 L238.9,1803.8 L239.9,1799.4 L240.9,1795.0 L241.9,1795.5 L242.9,1796.0 L243.9,1797.4 L244.9,1798.9 L245.9,1801.2 L246.9,1803.4 L247.9,1800.5 L248.9,1797.6 L249.9,1799.6 L250.9,1801.5 L251.9,1800.7 L252.9,1799.9 L253.9,1802.1 L254.9,1804.4 L255.9,1805.7 L256.9,1807.1 L257.9,1806.5 L258.9,1806.0 L259.9,1802.9 L260.9,1799.9 L261.9,1802.5 L262.9,1805.1 L263.9,1803.9 L264.9,1802.8 L265.9,1804.9 L266.9,1807.0 L267.9,1805.5 L268.9,1804.1 L269.9,1806.3 L270.9,1808.5 L271.9,1809.4 L272.9,1810.4 L273.9,1809.8 L274.9,1809.3 L275.9,1809.3 L276.9,1809.3 L277.9,1809.4 L278.9,1809.5 L279.9,1808.4 L280.9,1807.2 L281.9,1804.7 L282.9,1802.2 L283.9,1806.0 L284.9,1809.6 L285.9,1807.0 L286.9,1803.8 L287.9,1797.5 L288.9,1782.3 L289.9,1753.3 L290.9,1714.0 L291.5,1703.4 L291.9,1708.6 L292.9,1747.8 L293.9,1781.6 L294.9,1796.3 L295.9,1805.1 L296.9,1810.8 L297.9,1808.0 L298.9,1805.0 L299.9,1809.0 L300.9,1812.9 L301.9,1812.1 L302.9,1811.2 L303.9,1809.3 L304.9,1807.4 L305.9,1808.2 L306.9,1809.0 L307.9,1809.8 L308.9,1810.7 L309.9,1809.3 L310.9,1807.9 L311.9,1811.2 L312.9,1814.5 L313.9,1814.7 L314.9,1815.0 L315.9,1817.0 L316.9,1818.9 L317.9,1818.7 L318.9,1818.4 L319.9,1818.3 L320.9,1818.1 L321.9,1819.3 L322.9,1820.4 L323.9,1820.4 L324.9,1820.3 L325.9,1819.0 L326.9,1817.5 L327.9,1816.8 L328.9,1816.0 L329.9,1815.8 L330.9,1815.7 L331.9,1817.3 L332.9,1818.8 L333.9,1819.8 L334.9,1820.7 L335.9,1820.5 L336.9,1820.3 L337.9,1820.4 L338.9,1820.4 L339.9,1816.3 L340.9,1812.2 L341.9,1813.5 L342.9,1814.8 L343.9,1813.4 L344.9,1812.0 L345.9,1814.4 L346.9,1816.7 L347.9,1817.3 L348.9,1817.8 L349.9,1817.9 L350.9,1817.9 L351.9,1819.6 L352.9,1821.2 L353.9,1818.3 L354.9,1815.5 L355.9,1817.6 L356.9,1819.7 L357.9,1819.4 L358.9,1819.2 L359.9,1817.3 L360.9,1815.4 L361.9,1819.0 L362.9,1822.7 L363.9,1818.7 L364.9,1814.8 L365.9,1816.2 L366.9,1817.6 L367.9,1818.3 L368.9,1819.0 L369.9,1819.5 L370.9,1820.1 L371.9,1822.2 L372.9,1824.4 L373.9,1822.7 L374.9,1821.0 L375.9,1822.4 L376.9,1823.9 L377.9,1821.2 L378.9,1818.6 L379.9,1819.1 L380.9,1819.5 L381.9,1817.9 L382.9,1816.3 L383.9,1818.5 L384.9,1820.7 L385.9,1820.1 L386.9,1819.5 L387.9,1821.2 L388.9,1822.9 L389.9,1819.9 L390.9,1816.9 L391.9,1818.1 L392.9,1819.3 L393.9,1822.0 L394.9,1824.8 L395.9,1820.6 L396.9,1816.4 L397.9,1818.8 L398.9,1821.3 L399.9,1821.8 L400.9,1822.4 L401.9,1822.8 L402.9,1823.2 L403.9,1822.4 L404.9,1821.7 L405.9,1821.3 L406.9,1820.8 L407.9,1823.0 L408.9,1825.2 L409.9,1822.2 L410.9,1819.2 L411.9,1820.3 L412.9,1820.7 L413.9,1818.3 L414.9,1815.1 L415.7,1814.1 L415.9,1814.2 L416.9,1817.1 L417.9,1819.2 L418.9,1820.0 L419.9,1818.3 L420.9,1816.1 L421.9,1819.5 L422.9,1822.8 L423.9,1821.1 L424.9,1819.3 L425.9,1821.5 L426.9,1823.7 L427.9,1825.1 L428.9,1826.6 L429.9,1825.9 L430.9,1825.2 L431.9,1823.2 L432.9,1821.3 L433.9,1823.1 L434.9,1825.0 L435.9,1823.1 L436.9,1821.2 L437.9,1820.5 L438.9,1819.8 L439.9,1820.9 L440.9,1822.0 L441.9,1822.7 L442.9,1823.3 L443.9,1823.6 L444.9,1824.0 L445.9,1823.4 L446.9,1822.8 L447.9,1822.0 L448.9,1821.2 L449.9,1822.7 L450.9,1824.2 L451.9,1822.5 L452.9,1820.8 L453.9,1821.9 L454.9,1823.0 L455.9,1820.3 L456.9,1817.6 L457.9,1817.7 L458.9,1817.9 L459.9,1821.5 L460.9,1825.1 L461.9,1822.7 L462.9,1820.3 L463.9,1820.8 L464.9,1821.3 L465.9,1819.7 L466.9,1818.0 L467.9,1821.1 L468.9,1824.2 L469.9,1822.5 L470.9,1820.3 L471.9,1817.1 L472.9,1813.1 L473.8,1812.7 L473.9,1812.8 L474.9,1815.2 L475.9,1820.8 L476.9,1825.6 L477.9,1826.1 L478.9,1826.1 L479.9,1822.6 L480.9,1819.1 L481.9,1823.0 L482.9,1826.8 L483.9,1823.5 L484.9,1820.1 L485.9,1821.4 L486.9,1822.7 L487.9,1823.3 L488.9,1823.8 L489.9,1825.1 L490.9,1826.5 L491.9,1823.7 L492.9,1821.0 L493.9,1823.7 L494.9,1826.4 L495.9,1824.4 L496.9,1822.4 L497.9,1824.2 L498.9,1826.0 L499.9,1827.3 L500.9,1828.6 L501.9,1827.2 L502.9,1825.9 L503.9,1822.9 L504.9,1819.9 L505.9,1822.4 L506.9,1825.0 L507.9,1824.4 L508.9,1823.9 L509.9,1825.2 L510.9,1826.5 L511.9,1827.0 L512.9,1827.5 L513.9,1824.5 L514.9,1821.4 L515.9,1823.0 L516.9,1824.5 L517.9,1825.2 L518.9,1825.8 L519.9,1827.2 L520.9,1828.6 L521.9,1827.4 L522.9,1826.1 L523.9,1825.7 L524.9,1825.0 L525.9,1824.2 L526.9,1821.1 L527.9,1811.5 L528.9,1801.9 L529.3,1802.1 L529.9,1805.5 L530.9,1815.4 L531.9,1820.9 L532.9,1823.0 L533.9,1823.9 L534.9,1823.8 L535.9,1821.0 L536.9,1817.3 L537.9,1814.5 L538.9,1804.8 L539.9,1780.0 L540.9,1742.2 L541.9,1711.1 L542.2,1708.6 L542.9,1719.1 L543.9,1759.5 L544.9,1796.1 L545.9,1815.0 L546.9,1822.8 L547.9,1823.9 L548.9,1823.5 L549.9,1822.1 L550.9,1820.6 L551.9,1824.7 L552.9,1828.8 L553.9,1825.8 L554.9,1822.8 L555.9,1824.0 L556.9,1825.3 L557.9,1825.9 L558.9,1826.5 L559.9,1828.0 L560.9,1829.5 L561.9,1829.0 L562.9,1828.5 L563.9,1828.2 L564.9,1827.9 L565.9,1827.4 L566.9,1827.0 L567.9,1829.1 L568.9,1831.1 L569.9,1830.9 L570.9,1830.6 L571.9,1828.5 L572.9,1826.4 L573.9,1828.0 L574.9,1829.6 L575.9,1830.6 L576.9,1831.6 L577.9,1829.8 L578.9,1827.9 L579.9,1825.8 L580.9,1823.7 L581.9,1823.2 L582.9,1822.7 L583.9,1826.7 L584.9,1830.6 L585.9,1828.0 L586.9,1825.4 L587.9,1827.5 L588.9,1829.6 L589.9,1827.3 L590.9,1825.0 L591.9,1824.6 L592.9,1824.2 L593.9,1823.8 L594.9,1823.3 L595.9,1825.9 L596.9,1828.5 L597.9,1825.6 L598.9,1822.5 L599.9,1823.0 L600.9,1823.2 L601.9,1822.8 L602.9,1820.0 L603.9,1809.4 L604.9,1790.5 L605.9,1761.5 L606.9,1730.4 L607.9,1714.7 L608.0,1714.5 L608.9,1724.9 L609.9,1755.8 L610.9,1787.1 L611.9,1805.4 L612.9,1815.1 L613.9,1819.2 L614.9,1820.3 L615.9,1823.3 L616.9,1825.7 L617.9,1827.7 L618.9,1829.6 L619.9,1828.1 L620.9,1826.6 L621.9,1825.7 L622.9,1824.8 L623.9,1824.9 L624.9,1825.1 L625.9,1826.5 L626.9,1827.8 L627.9,1829.5 L628.9,1831.1 L629.9,1828.5 L630.9,1825.9 L631.9,1828.3 L632.9,1830.8 L633.9,1831.0 L634.9,1831.1 L635.9,1830.7 L636.9,1830.2 L637.9,1829.4 L638.9,1828.5 L639.9,1826.9 L640.9,1825.2 L641.9,1826.9 L642.9,1828.5 L643.9,1828.4 L644.9,1828.3 L645.9,1829.3 L646.9,1830.2 L647.9,1827.5 L648.9,1824.5 L649.9,1823.4 L650.9,1820.4 L651.9,1812.0 L652.9,1795.2 L653.9,1774.5 L654.9,1762.0 L655.0,1761.8 L655.9,1770.7 L656.9,1791.9 L657.9,1811.7 L658.9,1822.8 L659.9,1826.4 L660.9,1827.8 L661.9,1828.0 L662.9,1828.0 L663.9,1827.6 L664.9,1827.2 L665.9,1830.3 L666.9,1833.4 L667.9,1832.3 L668.9,1831.1 L669.9,1829.4 L670.9,1827.6 L671.9,1829.3 L672.9,1831.0 L673.9,1832.2 L674.9,1833.4 L675.9,1832.5 L676.9,1831.6 L677.9,1833.2 L678.9,1834.7 L679.9,1834.8 L680.9,1835.0 L681.9,1834.4 L682.9,1833.8 L683.9,1831.0 L684.9,1828.2 L685.9,1829.2 L686.9,1830.2 L687.9,1830.9 L688.9,1831.6 L689.9,1830.4 L690.9,1829.1 L691.9,1830.3 L692.9,1831.4 L693.9,1832.4 L694.9,1833.3 L695.9,1833.9 L696.9,1834.4 L697.9,1834.6 L698.9,1834.7 L699.9,1834.7 L700.9,1834.6 L701.9,1832.5 L702.9,1830.0 L703.9,1829.5 L704.9,1828.0 L705.9,1824.9 L706.9,1823.0 L707.0,1823.0 L707.9,1825.2 L708.9,1829.1 L709.9,1829.3 L710.9,1828.6 L711.9,1829.2 L712.9,1829.3 L713.9,1831.6 L714.9,1833.9 L715.9,1834.4 L716.9,1835.0 L717.9,1833.1 L718.9,1831.3 L719.9,1833.1 L720.9,1834.9 L721.9,1835.4 L722.9,1835.8 L723.9,1835.4 L724.9,1834.9 L725.9,1834.1 L726.9,1833.3 L727.9,1831.6 L728.9,1829.8 L729.9,1830.1 L730.9,1830.5 L731.9,1832.7 L732.9,1835.0 L733.9,1836.1 L734.9,1837.2 L735.9,1834.4 L736.9,1831.6 L737.9,1830.5 L738.9,1829.5 L739.9,1830.5 L740.9,1831.5 L741.9,1834.1 L742.9,1836.7 L743.9,1834.4 L744.9,1832.0 L745.9,1834.4 L746.9,1836.8 L747.9,1836.7 L748.9,1836.6 L749.9,1836.8 L750.9,1837.0 L751.9,1837.6 L752.9,1838.3 L753.9,1837.2 L754.9,1836.1 L755.9,1834.0 L756.9,1831.9 L757.9,1832.5 L758.9,1833.0 L759.9,1832.9 L760.9,1832.9 L761.9,1834.0 L762.9,1835.0 L763.9,1834.0 L764.9,1833.0 L765.9,1834.3 L766.9,1835.5 L767.9,1833.1 L768.9,1830.6 L769.9,1830.8 L770.9,1831.0 L771.9,1831.0 L772.9,1830.8 L773.9,1830.3 L774.9,1829.4 L775.9,1829.5 L776.9,1827.5 L777.9,1822.5 L778.9,1819.7 L779.0,1819.4 L779.9,1819.5 L780.9,1822.6 L781.9,1828.2 L782.9,1831.6 L783.9,1830.9 L784.9,1829.6 L785.9,1830.4 L786.9,1831.1 L787.9,1830.9 L788.9,1830.7 L789.9,1832.7 L790.9,1834.8 L791.9,1835.8 L792.9,1836.7 L793.9,1836.9 L794.9,1837.1 L795.9,1834.9 L796.9,1832.8 L797.9,1832.8 L798.9,1832.8 L799.9,1832.0 L800.9,1831.2 L801.9,1832.5 L802.9,1833.7 L803.9,1832.0 L804.9,1830.2 L805.5,1830.8 L805.9,1831.2 L806.9,1831.9 L807.9,1829.0 L808.9,1822.9 L809.9,1808.7 L810.9,1777.1 L811.9,1729.8 L812.9,1691.9 L813.2,1689.3 L813.9,1703.9 L814.9,1752.4 L815.9,1793.3 L816.9,1815.0 L817.9,1826.0 L818.9,1830.9 L819.9,1831.1 L820.9,1830.6 L821.9,1830.0 L822.9,1829.2 L823.9,1832.4 L824.9,1835.6 L825.9,1834.0 L826.9,1832.3 L827.9,1832.4 L828.9,1832.5 L829.9,1834.2 L830.9,1835.9 L831.9,1836.8 L832.9,1837.7 L833.9,1836.2 L834.9,1834.7 L835.9,1835.6 L836.9,1836.6 L837.9,1835.6 L838.9,1834.7 L839.9,1833.1 L840.9,1831.6 L841.9,1833.3 L842.9,1835.0 L843.9,1833.9 L844.9,1832.9 L845.9,1832.9 L846.9,1832.8 L847.9,1833.5 L848.9,1834.3 L849.9,1835.3 L850.9,1836.3 L851.9,1835.0 L852.9,1833.7 L853.9,1833.5 L854.9,1833.3 L855.9,1834.6 L856.9,1835.8 L857.9,1835.0 L858.9,1834.2 L859.9,1835.1 L860.9,1836.0 L861.9,1836.6 L862.9,1837.2 L863.9,1836.0 L864.9,1834.8 L865.9,1836.7 L866.9,1838.6 L867.9,1839.2 L868.9,1839.9 L869.9,1836.7 L870.9,1833.5 L871.9,1833.0 L872.9,1832.5 L873.9,1832.5 L874.9,1832.6 L875.9,1834.0 L876.9,1835.4 L877.9,1835.0 L878.9,1834.6 L879.9,1836.1 L880.9,1837.6 L881.9,1838.8 L882.9,1840.0 L883.9,1838.3 L884.9,1836.7 L885.9,1835.7 L886.9,1834.8 L887.9,1834.4 L888.9,1834.0 L889.9,1836.4 L890.9,1838.8 L891.9,1838.9 L892.9,1839.1 L893.9,1839.3 L894.9,1839.6 L895.9,1840.1 L896.9,1840.6 L897.9,1838.7 L898.9,1836.9 L899.9,1837.6 L900.9,1838.3 L901.9,1836.9 L902.9,1835.6 L903.9,1834.7 L904.9,1833.8 L905.9,1835.5 L906.9,1837.2 L907.9,1836.5 L908.9,1835.7 L909.9,1836.1 L910.9,1836.5 L911.9,1836.7 L912.9,1836.9 L913.9,1835.8 L914.9,1834.6 L915.9,1833.6 L916.9,1832.6 L917.9,1834.8 L918.9,1837.0 L919.9,1837.5 L920.9,1837.8 L921.9,1837.8 L922.9,1837.7 L923.9,1836.0 L924.9,1834.1 L925.9,1833.3 L926.9,1832.2 L927.9,1831.4 L928.9,1828.3 L929.9,1818.7 L930.9,1801.6 L931.9,1779.8 L932.9,1760.7 L933.5,1756.0 L933.9,1757.7 L934.9,1774.9 L935.9,1797.9 L936.9,1815.6 L937.9,1826.6 L938.9,1831.9 L939.9,1830.8 L940.9,1827.7 L941.9,1823.4 L942.9,1812.8 L943.9,1794.6 L944.9,1771.3 L945.9,1758.2 L946.0,1758.2 L946.9,1769.9 L947.9,1794.5 L948.9,1816.3 L949.9,1828.8 L950.9,1834.5 L951.9,1834.5 L952.9,1833.3 L953.9,1833.8 L954.9,1834.2 L955.9,1834.3 L956.9,1834.2 L957.9,1834.3 L958.9,1834.4 L959.9,1834.3 L960.9,1834.2 L961.9,1834.1 L962.9,1834.1 L963.9,1836.3 L964.9,1838.5 L965.9,1837.9 L966.9,1837.4 L967.9,1838.7 L968.9,1840.0 L969.9,1839.0 L970.9,1837.9 L971.9,1837.9 L972.9,1837.6 L973.9,1836.9 L974.9,1833.9 L975.9,1823.8 L976.9,1806.6 L977.9,1787.5 L978.6,1781.3 L978.9,1782.0 L979.9,1796.9 L980.9,1815.3 L981.9,1827.4 L982.9,1833.0 L983.9,1834.2 L984.9,1834.1 L985.9,1835.6 L986.9,1837.0 L987.9,1838.2 L988.9,1839.3 L989.9,1838.1 L990.9,1837.0 L991.9,1835.9 L992.9,1834.8 L993.9,1834.9 L994.9,1834.9 L995.9,1835.8 L996.9,1836.7 L997.9,1836.4 L998.9,1836.1 L999.9,1836.9 L1000.9,1837.7 L1001.9,1839.5 L1002.9,1841.2 L1003.9,1839.3 L1004.9,1837.3 L1005.9,1837.3 L1006.9,1837.4 L1007.9,1838.2 L1008.9,1839.0 L1009.9,1837.8 L1010.9,1836.6 L1011.9,1838.6 L1012.9,1840.6 L1013.9,1841.3 L1014.9,1842.1 L1015.9,1839.2 L1016.9,1836.4 L1017.9,1837.0 L1018.9,1837.6 L1019.9,1839.1 L1020.9,1840.6 L1021.9,1838.4 L1022.9,1836.2 L1023.9,1837.5 L1024.9,1838.8 L1025.9,1839.8 L1026.9,1840.9 L1027.9,1841.5 L1028.9,1842.2 L1029.9,1840.0 L1030.9,1837.8 L1031.9,1839.6 L1032.9,1841.5 L1033.9,1840.8 L1034.9,1840.2 L1035.9,1840.5 L1036.9,1840.8 L1037.9,1839.4 L1038.9,1837.9 L1039.9,1837.0 L1040.9,1836.2 L1041.9,1837.4 L1042.9,1838.5 L1043.9,1840.3 L1044.9,1842.1 L1045.9,1840.3 L1046.9,1838.4 L1047.9,1840.3 L1048.9,1842.1 L1049.9,1842.5 L1050.9,1842.9 L1051.9,1841.4 L1052.9,1840.0 L1053.9,1839.7 L1054.9,1839.3 L1055.9,1840.8 L1056.9,1842.2 L1057.9,1839.7 L1058.9,1837.3 L1059.9,1838.4 L1060.9,1839.6 L1061.9,1838.6 L1062.9,1837.7 L1063.9,1839.2 L1064.9,1840.7 L1065.9,1840.2 L1066.9,1839.8 L1067.9,1840.0 L1068.9,1840.3 L1069.9,1839.7 L1070.9,1839.1 L1071.9,1840.4 L1072.9,1841.7 L1073.9,1841.8 L1074.9,1842.0 L1075.9,1839.6 L1076.9,1837.3 L1077.9,1838.4 L1078.9,1839.6 L1079.9,1838.8 L1080.9,1838.0 L1081.9,1839.9 L1082.9,1841.8 L1083.9,1842.2 L1084.9,1842.5 L1085.9,1842.2 L1086.9,1841.9 L1087.9,1841.5 L1088.9,1841.1 L1089.9,1841.7 L1090.9,1842.2 L1091.9,1840.5 L1092.9,1838.7 L1093.9,1838.5 L1094.9,1838.2 L1095.9,1839.9 L1096.9,1841.7 L1097.9,1841.2 L1098.9,1840.8 L1099.9,1839.7 L1100.9,1838.5 L1101.9,1839.9 L1102.9,1841.2 L1103.9,1840.9 L1104.9,1840.5 L1105.9,1838.5 L1106.9,1836.4 L1107.9,1838.2 L1108.9,1839.5 L1109.9,1837.2 L1110.9,1832.7 L1111.9,1826.3 L1112.9,1820.4 L1113.5,1818.0 L1113.9,1817.8 L1114.9,1821.2 L1115.9,1827.2 L1116.9,1831.4 L1117.9,1834.1 L1118.9,1835.3 L1119.9,1837.7 L1120.9,1839.8 L1121.9,1838.3 L1122.9,1836.7 L1123.9,1837.1 L1124.9,1837.4 L1125.9,1837.6 L1126.9,1837.7 L1127.9,1837.9 L1128.9,1838.0 L1129.9,1837.4 L1130.9,1836.6 L1131.9,1835.1 L1132.9,1831.9 L1133.9,1826.2 L1134.9,1814.2 L1135.9,1796.8 L1136.8,1788.4 L1136.9,1788.5 L1137.9,1799.6 L1138.9,1816.7 L1139.9,1828.3 L1140.9,1833.9 L1141.9,1835.5 L1142.9,1835.7 L1143.9,1836.0 L1144.9,1836.2 L1145.9,1838.1 L1146.9,1840.0 L1147.9,1838.7 L1148.9,1837.3 L1149.9,1838.2 L1150.9,1839.2 L1151.9,1839.7 L1152.9,1840.2 L1153.9,1841.2 L1154.9,1842.1 L1155.9,1841.5 L1156.9,1840.8 L1157.9,1841.2 L1158.9,1841.6 L1159.9,1841.9 L1160.9,1842.2 L1161.9,1840.3 L1162.9,1838.3 L1163.9,1837.7 L1164.9,1837.2 L1165.9,1839.1 L1166.9,1841.0 L1167.9,1840.0 L1168.9,1838.9 L1169.9,1839.3 L1170.9,1839.6 L1171.9,1839.3 L1172.9,1839.0 L1173.9,1838.5 L1174.9,1838.0 L1175.9,1838.5 L1176.9,1839.0 L1177.9,1839.3 L1178.9,1839.7 L1179.9,1840.7 L1180.9,1841.7 L1181.9,1840.3 L1182.9,1838.9 L1183.9,1838.3 L1184.9,1837.7 L1185.9,1838.9 L1186.9,1840.1 L1187.9,1841.1 L1188.9,1842.0 L1189.9,1841.0 L1190.9,1840.0 L1191.9,1839.5 L1192.9,1838.9 L1193.9,1840.4 L1194.9,1841.8 L1195.9,1841.9 L1196.9,1842.1 L1197.9,1840.1 L1198.9,1838.0 L1199.9,1837.8 L1200.9,1837.6 L1201.9,1838.8 L1202.9,1840.0 L1203.9,1839.7 L1204.9,1839.5 L1205.9,1839.6 L1206.9,1839.8 L1207.9,1839.6 L1208.9,1839.4 L1209.9,1838.6 L1210.9,1837.8 L1211.9,1839.2 L1212.9,1840.7 L1213.9,1841.2 L1214.9,1841.6 L1215.9,1840.8 L1216.9,1839.5 L1217.9,1836.9 L1218.9,1832.4 L1219.9,1828.2 L1220.9,1825.8 L1221.0,1825.7 L1221.9,1827.1 L1222.9,1831.0 L1223.9,1834.2 L1224.9,1835.4 L1225.9,1836.9 L1226.9,1837.6 L1227.9,1836.0 L1228.9,1831.2 L1229.9,1821.6 L1230.9,1807.8 L1231.9,1797.6 L1232.0,1797.4 L1232.9,1803.1 L1233.9,1816.8 L1234.9,1827.5 L1235.9,1834.4 L1236.9,1837.7 L1237.9,1837.5 L1238.9,1836.8 L1239.9,1837.4 L1240.9,1837.9 L1241.9,1839.8 L1242.9,1841.6 L1243.9,1840.6 L1244.9,1839.5 L1245.9,1839.3 L1246.9,1839.0 L1247.9,1840.4 L1248.9,1841.7 L1249.9,1839.8 L1250.9,1837.7 L1251.9,1838.3 L1252.9,1837.9 L1253.9,1834.4 L1254.9,1829.6 L1255.9,1826.9 L1256.0,1826.9 L1256.9,1829.6 L1257.9,1832.8 L1258.9,1835.0 L1259.9,1837.4 L1260.9,1838.6 L1261.9,1838.7 L1262.9,1838.7 L1263.9,1837.8 L1264.9,1836.7 L1265.9,1836.7 L1266.9,1836.3 L1267.9,1834.7 L1268.9,1830.5 L1269.9,1821.6 L1270.9,1809.3 L1271.9,1803.1 L1272.0,1803.2 L1272.9,1810.0 L1273.9,1822.5 L1274.9,1832.5 L1275.9,1836.8 L1276.9,1838.1 L1277.9,1839.7 L1278.9,1840.9 L1279.9,1841.3 L1280.9,1841.6 L1281.9,1841.8 L1282.9,1841.9 L1283.9,1840.6 L1284.9,1839.2 L1285.9,1839.3 L1286.9,1839.4 L1287.9,1838.9 L1288.9,1838.5 L1289.9,1838.2" stroke="#FF00FF" stroke-width="10.5"/>
<path d="M206.9,1704.7 L207.9,1707.5 L208.9,1710.3 L209.9,1709.6 L210.9,1708.9 L211.9,1711.5 L212.9,1714.0 L213.9,1711.6 L214.9,1709.3 L215.9,1711.8 L216.9,1714.3 L217.9,1710.7 L218.9,1707.0 L219.9,1711.1 L220.9,1715.1 L221.9,1712.8 L222.9,1710.5 L223.9,1708.9 L224.9,1707.3 L225.9,1708.0 L226.9,1708.7 L227.9,1710.5 L228.9,1712.3 L229.9,1709.5 L230.9,1706.7 L231.9,1708.2 L232.9,1709.7 L233.9,1708.1 L234.9,1706.4 L235.9,1706.5 L236.9,1706.6 L237.9,1707.3 L238.9,1708.0 L239.9,1708.6 L240.9,1709.2 L241.9,1709.7 L242.9,1710.2 L243.9,1713.1 L244.9,1716.1 L245.9,1714.9 L246.9,1713.6 L247.9,1715.9 L248.9,1718.1 L249.9,1718.9 L250.9,1719.7 L251.9,1720.0 L252.9,1720.3 L253.9,1720.7 L254.9,1721.2 L255.9,1719.3 L256.9,1717.5 L257.9,1717.8 L258.9,1718.0 L259.9,1719.3 L260.9,1720.6 L261.9,1719.1 L262.9,1717.7 L263.9,1715.3 L264.9,1712.9 L265.9,1714.6 L266.9,1716.3 L267.9,1716.8 L268.9,1717.3 L269.9,1715.6 L270.9,1713.9 L271.9,1713.2 L272.9,1712.5 L273.9,1713.0 L274.9,1713.6 L275.9,1716.7 L276.9,1719.8 L277.9,1721.2 L278.9,1722.6 L279.9,1722.2 L280.9,1721.8 L281.9,1720.6 L282.9,1719.4 L283.9,1717.0 L284.9,1714.6 L285.9,1713.8 L286.9,1712.6 L287.9,1714.4 L288.9,1712.0 L289.9,1694.0 L290.9,1659.7 L291.9,1633.0 L292.0,1632.7 L292.9,1652.0 L293.9,1687.0 L294.9,1707.4 L295.9,1714.9 L296.9,1716.9 L297.9,1718.4 L298.9,1719.4 L299.9,1719.8 L300.9,1720.1 L301.9,1723.1 L302.9,1726.0 L303.9,1725.3 L304.9,1724.6 L305.9,1726.0 L306.9,1727.5 L307.9,1727.3 L308.9,1727.2 L309.9,1728.0 L310.9,1728.8 L311.9,1730.2 L312.9,1731.6 L313.9,1732.2 L314.9,1732.7 L315.9,1729.3 L316.9,1725.1 L317.9,1725.9 L318.9,1723.2 L319.9,1714.4 L320.9,1708.9 L321.0,1708.8 L321.9,1713.0 L322.9,1722.2 L323.9,1727.7 L324.9,1729.7 L325.9,1733.6 L326.9,1736.5 L327.9,1736.7 L328.9,1736.7 L329.9,1733.9 L330.9,1731.0 L331.9,1732.9 L332.9,1734.9 L333.9,1736.2 L334.9,1737.6 L335.9,1737.5 L336.9,1737.4 L337.9,1738.2 L338.9,1739.1 L339.9,1737.4 L340.9,1735.8 L341.9,1736.3 L342.9,1736.9 L343.9,1734.0 L344.9,1731.1 L345.9,1733.7 L346.9,1736.3 L347.9,1734.2 L348.9,1732.2 L349.9,1734.9 L350.9,1737.6 L351.9,1739.2 L352.9,1740.7 L353.9,1738.4 L354.9,1736.1 L355.9,1734.2 L356.9,1732.3 L357.9,1731.9 L358.9,1731.5 L359.9,1733.9 L360.9,1736.4 L361.9,1735.2 L362.9,1733.9 L363.9,1736.8 L364.9,1739.6 L365.9,1739.6 L366.9,1739.7 L367.9,1739.2 L368.9,1738.8 L369.9,1739.7 L370.9,1740.6 L371.9,1738.2 L372.9,1735.8 L373.9,1737.0 L374.9,1738.2 L375.9,1736.5 L376.9,1734.7 L377.9,1737.1 L378.9,1739.4 L379.9,1741.2 L380.9,1742.9 L381.9,1740.1 L382.9,1737.2 L383.9,1739.4 L384.9,1741.5 L385.9,1743.5 L386.9,1745.6 L387.9,1742.6 L388.9,1739.7 L389.9,1738.5 L390.9,1737.4 L391.9,1737.4 L392.9,1737.4 L393.9,1740.4 L394.9,1743.4 L395.9,1740.2 L396.9,1737.1 L397.9,1739.9 L398.9,1742.8 L399.9,1740.9 L400.9,1738.9 L401.9,1741.0 L402.9,1743.2 L403.9,1744.3 L404.9,1745.4 L405.9,1745.4 L406.9,1745.5 L407.9,1742.3 L408.9,1739.0 L409.9,1740.2 L410.9,1741.4 L411.9,1740.5 L412.9,1739.6 L413.9,1742.2 L414.9,1744.9 L415.9,1742.5 L416.9,1740.2 L417.9,1739.2 L418.9,1738.1 L419.9,1739.1 L420.9,1740.1 L421.9,1738.8 L422.9,1737.4 L423.9,1737.9 L424.9,1738.3 L425.9,1740.8 L426.9,1743.3 L427.9,1742.0 L428.9,1740.6 L429.9,1739.7 L430.9,1738.8 L431.9,1742.3 L432.9,1745.9 L433.9,1743.3 L434.9,1740.7 L435.9,1742.9 L436.9,1745.0 L437.9,1744.9 L438.9,1744.8 L439.9,1744.2 L440.9,1743.6 L441.9,1744.0 L442.9,1744.4 L443.9,1744.1 L444.9,1743.9 L445.9,1745.2 L446.9,1746.4 L447.9,1746.0 L448.9,1745.6 L449.9,1743.4 L450.9,1741.3 L451.9,1742.8 L452.9,1744.3 L453.9,1743.9 L454.9,1743.5 L455.9,1745.5 L456.9,1747.5 L457.9,1744.0 L458.9,1740.5 L459.9,1741.5 L460.9,1742.4 L461.9,1745.2 L462.9,1747.9 L463.9,1744.1 L464.9,1740.3 L465.9,1742.8 L466.9,1745.3 L467.9,1746.6 L468.9,1748.0 L469.9,1746.9 L470.9,1745.8 L471.9,1743.0 L472.9,1740.1 L473.9,1743.0 L474.9,1746.0 L475.9,1744.1 L476.9,1742.3 L477.9,1743.2 L478.9,1744.1 L479.9,1745.7 L480.9,1747.3 L481.9,1745.3 L482.9,1743.2 L483.9,1742.5 L484.9,1741.8 L485.9,1741.1 L486.9,1740.4 L487.9,1741.4 L488.9,1742.3 L489.9,1741.4 L490.9,1740.5 L491.9,1743.1 L492.9,1745.8 L493.9,1747.0 L494.9,1748.2 L495.9,1744.8 L496.9,1741.4 L497.9,1742.9 L498.9,1744.5 L499.9,1746.0 L500.9,1747.5 L501.9,1747.7 L502.9,1747.8 L503.9,1745.1 L504.9,1741.8 L505.9,1740.5 L506.9,1737.8 L507.9,1734.4 L508.9,1732.9 L509.0,1732.8 L509.9,1734.0 L510.9,1737.6 L511.9,1743.6 L512.9,1748.1 L513.9,1749.2 L514.9,1749.7 L515.9,1750.2 L516.9,1750.6 L517.9,1746.8 L518.9,1742.9 L519.9,1741.7 L520.9,1740.4 L521.9,1742.7 L522.9,1744.9 L523.9,1745.1 L524.9,1744.8 L525.9,1741.4 L526.9,1734.5 L527.9,1723.8 L528.9,1713.3 L529.3,1713.0 L529.9,1717.1 L530.9,1730.5 L531.9,1740.4 L532.9,1745.4 L533.9,1743.3 L534.9,1740.0 L535.9,1739.5 L536.9,1738.3 L537.9,1737.8 L538.9,1732.0 L539.9,1713.2 L540.9,1687.3 L541.9,1670.0 L542.0,1669.7 L542.9,1679.9 L543.9,1708.5 L544.9,1731.9 L545.9,1740.2 L546.9,1742.1 L547.9,1742.1 L548.9,1741.3 L549.9,1743.0 L550.9,1744.5 L551.9,1745.0 L552.9,1745.4 L553.9,1746.7 L554.9,1748.0 L555.9,1748.9 L556.9,1749.8 L557.9,1746.9 L558.9,1744.0 L559.9,1745.2 L560.9,1746.4 L561.9,1748.6 L562.9,1750.8 L563.9,1749.3 L564.9,1747.7 L565.9,1748.8 L566.9,1749.1 L567.9,1746.9 L568.9,1743.3 L569.9,1738.9 L570.7,1737.2 L570.9,1737.2 L571.9,1739.3 L572.9,1742.9 L573.9,1743.9 L574.9,1743.3 L575.9,1747.6 L576.9,1751.4 L577.9,1749.2 L578.9,1747.0 L579.9,1746.6 L580.9,1746.2 L581.9,1747.0 L582.9,1747.8 L583.9,1748.2 L584.9,1748.4 L585.9,1749.4 L586.9,1750.2 L587.9,1748.6 L588.9,1745.6 L589.9,1742.7 L590.9,1738.0 L591.9,1733.7 L592.0,1733.7 L592.9,1736.2 L593.9,1741.7 L594.9,1746.0 L595.9,1746.7 L596.9,1745.7 L597.9,1747.0 L598.9,1747.7 L599.9,1746.0 L600.9,1743.5 L601.9,1742.3 L602.7,1742.2 L602.9,1742.4 L603.9,1741.5 L604.9,1741.2 L605.9,1743.8 L606.9,1744.2 L607.9,1738.4 L608.9,1723.9 L609.9,1695.0 L610.9,1659.4 L611.9,1642.5 L612.0,1642.6 L612.9,1659.2 L613.9,1690.7 L614.9,1718.3 L615.9,1734.9 L616.9,1742.1 L617.9,1744.6 L618.9,1745.5 L619.9,1746.4 L620.9,1747.1 L621.9,1749.3 L622.9,1751.5 L623.9,1752.6 L624.9,1753.7 L625.9,1752.1 L626.9,1750.5 L627.9,1750.5 L628.9,1750.5 L629.9,1750.3 L630.9,1750.1 L631.9,1748.7 L632.9,1747.2 L633.9,1750.3 L634.9,1753.3 L635.9,1751.9 L636.9,1750.6 L637.9,1748.7 L638.9,1746.7 L639.9,1747.2 L640.9,1747.8 L641.9,1748.2 L642.9,1748.6 L643.9,1750.7 L644.9,1752.8 L645.9,1750.6 L646.9,1748.3 L647.9,1747.5 L648.9,1746.5 L649.9,1748.2 L650.9,1747.6 L651.9,1738.0 L652.9,1725.3 L653.9,1720.7 L654.0,1720.9 L654.9,1727.9 L655.9,1735.3 L656.9,1740.5 L657.9,1744.7 L658.9,1746.1 L659.9,1747.2 L660.9,1748.0 L661.9,1749.1 L662.9,1750.1 L663.9,1751.1 L664.9,1752.0 L665.9,1751.3 L666.9,1750.7 L667.9,1753.3 L668.9,1755.9 L669.9,1756.4 L670.9,1756.9 L671.9,1755.4 L672.9,1754.0 L673.9,1755.5 L674.9,1757.0 L675.9,1756.8 L676.9,1756.6 L677.9,1757.1 L678.9,1757.6 L679.9,1756.1 L680.9,1754.6 L681.9,1752.3 L682.9,1750.1 L683.9,1751.6 L684.9,1753.0 L685.9,1751.2 L686.9,1749.4 L687.9,1750.6 L688.9,1751.7 L689.9,1754.4 L690.9,1757.1 L691.9,1755.2 L692.9,1753.3 L693.9,1754.1 L694.9,1754.9 L695.9,1756.2 L696.9,1757.5 L697.9,1756.7 L698.9,1755.9 L699.9,1754.1 L700.9,1751.8 L701.9,1750.8 L702.9,1749.4 L703.9,1747.0 L704.0,1746.8 L704.9,1746.1 L705.9,1750.1 L706.9,1754.0 L707.9,1754.9 L708.9,1755.3 L709.9,1754.1 L710.9,1752.9 L711.9,1753.2 L712.9,1753.4 L713.9,1755.2 L714.9,1757.0 L715.9,1754.2 L716.9,1751.3 L717.9,1751.5 L718.9,1751.6 L719.9,1753.3 L720.9,1755.0 L721.9,1756.0 L722.9,1757.0 L723.9,1756.3 L724.9,1755.5 L725.9,1755.7 L726.9,1755.9 L727.9,1753.5 L728.9,1751.0 L729.9,1752.8 L730.9,1754.6 L731.9,1754.9 L732.9,1755.2 L733.9,1753.3 L734.9,1751.5 L735.9,1752.9 L736.9,1754.4 L737.9,1753.6 L738.9,1752.8 L739.9,1753.0 L740.9,1753.2 L741.9,1755.1 L742.9,1756.9 L743.9,1757.5 L744.9,1758.0 L745.9,1754.9 L746.9,1751.7 L747.9,1751.4 L748.9,1751.1 L749.9,1753.2 L750.9,1755.3 L751.9,1756.9 L752.9,1758.4 L753.9,1757.6 L754.9,1756.8 L755.9,1755.5 L756.9,1754.2 L757.9,1755.5 L758.9,1756.9 L759.9,1757.8 L760.9,1758.7 L761.9,1755.6 L762.9,1752.5 L763.9,1751.7 L764.9,1751.0 L765.9,1752.4 L766.9,1753.9 L767.9,1755.2 L768.9,1756.6 L769.9,1756.1 L770.9,1755.6 L771.9,1755.3 L772.9,1754.9 L773.9,1753.5 L774.9,1751.8 L775.9,1750.4 L776.9,1747.9 L777.9,1744.2 L778.9,1741.7 L779.0,1741.8 L779.9,1744.6 L780.9,1749.3 L781.9,1751.4 L782.9,1752.2 L783.9,1753.8 L784.9,1755.0 L785.9,1754.6 L786.9,1753.8 L787.9,1751.7 L788.9,1748.5 L789.9,1747.5 L790.4,1747.9 L790.9,1749.1 L791.9,1750.4 L792.9,1751.7 L793.9,1753.5 L794.9,1754.4 L795.9,1754.7 L796.9,1754.8 L797.9,1755.8 L798.9,1756.7 L799.9,1758.0 L800.9,1759.2 L801.9,1758.5 L802.9,1757.8 L803.9,1754.7 L804.9,1751.7 L805.9,1753.7 L806.7,1755.3 L806.9,1755.7 L807.9,1754.6 L808.9,1752.6 L809.9,1748.6 L810.9,1739.4 L811.9,1722.4 L812.9,1708.4 L813.2,1707.4 L813.9,1711.4 L814.9,1725.5 L815.9,1738.5 L816.9,1745.7 L817.9,1749.1 L818.9,1750.5 L819.9,1751.1 L820.9,1751.5 L821.9,1753.9 L822.9,1756.3 L823.9,1757.1 L824.9,1757.8 L825.9,1756.7 L826.9,1755.6 L827.9,1754.7 L828.9,1753.8 L829.9,1754.4 L830.9,1755.1 L831.9,1754.1 L832.9,1753.1 L833.9,1753.4 L834.9,1753.7 L835.9,1754.5 L836.9,1755.3 L837.9,1757.1 L838.9,1758.9 L839.9,1758.7 L840.9,1758.5 L841.9,1756.2 L842.9,1753.9 L843.9,1756.0 L844.9,1758.0 L845.9,1759.1 L846.9,1760.2 L847.9,1760.1 L848.9,1760.0 L849.9,1757.4 L850.9,1754.8 L851.9,1755.8 L852.9,1756.8 L853.9,1758.3 L854.9,1759.8 L855.9,1757.6 L856.9,1755.4 L857.9,1756.2 L858.9,1756.9 L859.9,1757.3 L860.9,1757.6 L861.9,1758.9 L862.9,1760.2 L863.9,1760.0 L864.9,1759.7 L865.9,1758.4 L866.9,1757.1 L867.9,1757.3 L868.9,1757.5 L869.9,1756.1 L870.9,1754.8 L871.9,1756.8 L872.9,1758.7 L873.9,1757.0 L874.9,1755.4 L875.9,1756.6 L876.9,1757.7 L877.9,1756.1 L878.9,1754.5 L879.9,1756.3 L880.9,1758.0 L881.9,1758.7 L882.9,1759.3 L883.9,1757.0 L884.9,1754.7 L885.9,1755.3 L886.9,1755.9 L887.9,1755.2 L888.9,1754.4 L889.9,1755.5 L890.9,1756.7 L891.9,1755.9 L892.9,1755.1 L893.9,1757.4 L894.9,1759.7 L895.9,1759.9 L896.9,1760.0 L897.9,1757.3 L898.9,1754.7 L899.9,1754.7 L900.9,1754.8 L901.9,1754.9 L902.9,1755.0 L903.9,1754.6 L904.9,1754.2 L905.9,1755.6 L906.9,1756.9 L907.9,1757.8 L908.9,1758.6 L909.9,1758.0 L910.9,1757.4 L911.9,1757.3 L912.9,1757.3 L913.9,1756.1 L914.9,1754.9 L915.9,1755.7 L916.9,1756.4 L917.9,1757.9 L918.9,1759.3 L919.9,1757.0 L920.9,1754.6 L921.9,1754.6 L922.9,1754.6 L923.9,1755.6 L924.9,1756.5 L925.9,1756.5 L926.9,1756.5 L927.9,1755.3 L928.9,1754.0 L929.9,1755.1 L930.9,1755.4 L931.9,1753.4 L932.9,1748.6 L933.9,1738.9 L934.9,1730.3 L935.4,1729.8 L935.9,1731.5 L936.9,1739.4 L937.9,1746.9 L938.9,1751.5 L939.9,1750.9 L940.9,1744.0 L941.9,1727.7 L942.9,1703.7 L943.9,1684.4 L944.4,1681.5 L944.9,1685.1 L945.9,1706.6 L946.9,1730.6 L947.9,1746.0 L948.9,1753.6 L949.9,1755.4 L950.9,1755.5 L951.9,1755.2 L952.9,1754.6 L953.9,1754.8 L954.9,1754.8 L955.9,1755.5 L956.9,1756.0 L957.9,1757.6 L958.9,1759.1 L959.9,1758.2 L960.9,1757.2 L961.9,1757.5 L962.9,1757.7 L963.9,1756.7 L964.9,1755.7 L965.9,1756.3 L966.9,1756.9 L967.9,1756.1 L968.9,1755.2 L969.9,1754.7 L970.9,1754.1 L971.9,1754.4 L972.9,1754.4 L973.9,1754.6 L974.9,1753.2 L975.9,1748.9 L976.9,1743.2 L977.8,1740.8 L977.9,1740.9 L978.9,1745.3 L979.9,1750.5 L980.9,1754.0 L981.9,1756.9 L982.9,1758.5 L983.9,1759.7 L984.9,1760.9 L985.9,1758.3 L986.9,1755.7 L987.9,1756.9 L988.9,1758.1 L989.9,1757.4 L990.9,1756.6 L991.9,1758.8 L992.9,1761.0 L993.9,1758.9 L994.9,1756.7 L995.9,1756.9 L996.9,1757.1 L997.9,1757.2 L998.9,1757.4 L999.9,1758.7 L1000.9,1760.0 L1001.9,1760.0 L1002.9,1760.0 L1003.9,1758.1 L1004.9,1756.1 L1005.9,1757.1 L1006.9,1758.0 L1007.9,1757.8 L1008.9,1757.6 L1009.9,1757.0 L1010.9,1756.3 L1011.9,1755.8 L1012.9,1755.4 L1013.9,1756.7 L1014.9,1758.0 L1015.9,1759.3 L1016.9,1760.6 L1017.9,1761.5 L1018.9,1762.4 L1019.9,1760.1 L1020.9,1757.9 L1021.9,1757.7 L1022.9,1757.4 L1023.9,1758.5 L1024.9,1759.5 L1025.9,1759.6 L1026.9,1759.6 L1027.9,1759.0 L1028.9,1758.4 L1029.9,1757.6 L1030.9,1756.8 L1031.9,1758.8 L1032.9,1760.7 L1033.9,1759.7 L1034.9,1758.7 L1035.9,1758.3 L1036.9,1757.8 L1037.9,1758.4 L1038.9,1759.0 L1039.9,1757.8 L1040.9,1756.7 L1041.9,1757.7 L1042.9,1758.7 L1043.9,1757.7 L1044.9,1756.8 L1045.9,1757.3 L1046.9,1757.8 L1047.9,1758.8 L1048.9,1759.8 L1049.9,1760.4 L1050.9,1760.9 L1051.9,1761.7 L1052.9,1762.6 L1053.9,1761.9 L1054.9,1761.2 L1055.9,1759.3 L1056.9,1757.4 L1057.9,1758.6 L1058.9,1759.8 L1059.9,1759.0 L1060.9,1758.2 L1061.9,1757.9 L1062.9,1757.6 L1063.9,1758.9 L1064.9,1760.1 L1065.9,1759.4 L1066.9,1758.7 L1067.9,1760.2 L1068.9,1761.6 L1069.9,1760.9 L1070.9,1760.1 L1071.9,1758.9 L1072.9,1757.7 L1073.9,1757.3 L1074.9,1757.0 L1075.9,1756.7 L1076.9,1756.4 L1077.9,1758.9 L1078.9,1761.5 L1079.9,1762.0 L1080.9,1762.4 L1081.9,1761.2 L1082.9,1759.9 L1083.9,1761.0 L1084.9,1762.1 L1085.9,1761.8 L1086.9,1761.4 L1087.9,1761.3 L1088.9,1761.3 L1089.9,1761.1 L1090.9,1760.8 L1091.9,1761.0 L1092.9,1761.2 L1093.9,1759.4 L1094.9,1757.5 L1095.9,1758.7 L1096.9,1760.0 L1097.9,1759.7 L1098.9,1759.4 L1099.9,1759.1 L1100.9,1758.9 L1101.9,1758.3 L1102.9,1757.6 L1103.9,1758.7 L1104.9,1759.9 L1105.9,1760.4 L1106.9,1761.0 L1107.9,1760.6 L1108.9,1760.0 L1109.9,1757.3 L1110.9,1753.8 L1111.9,1750.9 L1112.9,1748.1 L1113.5,1748.6 L1113.9,1749.5 L1114.9,1753.2 L1115.9,1756.2 L1116.9,1758.4 L1117.9,1757.9 L1118.9,1756.8 L1119.9,1756.6 L1120.9,1756.2 L1121.9,1758.5 L1122.9,1760.7 L1123.9,1761.5 L1124.9,1762.2 L1125.9,1762.0 L1126.9,1761.7 L1127.9,1760.7 L1128.9,1759.7 L1129.9,1757.7 L1130.9,1755.3 L1131.9,1754.0 L1132.9,1749.8 L1133.9,1739.5 L1134.9,1723.1 L1135.9,1708.9 L1136.3,1707.3 L1136.9,1711.3 L1137.9,1728.8 L1138.9,1745.8 L1139.9,1755.1 L1140.9,1759.2 L1141.9,1758.6 L1142.9,1757.1 L1143.9,1758.1 L1144.9,1758.9 L1145.9,1760.2 L1146.9,1761.3 L1147.9,1761.9 L1148.9,1762.5 L1149.9,1761.5 L1150.9,1760.4 L1151.9,1759.3 L1152.9,1758.2 L1153.9,1759.3 L1154.9,1760.5 L1155.9,1759.1 L1156.9,1757.7 L1157.9,1759.2 L1158.9,1760.7 L1159.9,1761.3 L1160.9,1761.9 L1161.9,1762.1 L1162.9,1762.3 L1163.9,1762.0 L1164.9,1761.7 L1165.9,1760.1 L1166.9,1758.6 L1167.9,1759.2 L1168.9,1759.7 L1169.9,1759.1 L1170.9,1758.5 L1171.9,1757.8 L1172.9,1757.2 L1173.9,1759.1 L1174.9,1761.1 L1175.9,1759.5 L1176.9,1757.9 L1177.9,1759.0 L1178.9,1760.1 L1179.9,1759.6 L1180.9,1759.0 L1181.9,1759.7 L1182.9,1760.4 L1183.9,1759.8 L1184.9,1759.3 L1185.9,1759.9 L1186.9,1760.6 L1187.9,1761.5 L1188.9,1762.4 L1189.9,1760.5 L1190.9,1758.6 L1191.9,1759.6 L1192.9,1760.7 L1193.9,1760.5 L1194.9,1760.2 L1195.9,1761.2 L1196.9,1762.2 L1197.9,1760.9 L1198.9,1759.5 L1199.9,1760.9 L1200.9,1762.2 L1201.9,1761.6 L1202.9,1761.0 L1203.9,1759.4 L1204.9,1757.8 L1205.9,1757.8 L1206.9,1757.8 L1207.9,1758.8 L1208.9,1759.7 L1209.9,1760.1 L1210.9,1760.4 L1211.9,1761.3 L1212.9,1762.1 L1213.9,1761.2 L1214.9,1760.3 L1215.9,1760.9 L1216.9,1761.2 L1217.9,1759.7 L1218.9,1757.3 L1219.9,1754.1 L1220.9,1751.9 L1221.0,1752.0 L1221.9,1754.2 L1222.9,1757.8 L1223.9,1759.4 L1224.9,1760.0 L1225.9,1759.2 L1226.9,1758.1 L1227.9,1758.0 L1228.9,1757.1 L1229.9,1753.8 L1230.9,1748.9 L1231.9,1746.8 L1232.3,1747.0 L1232.9,1749.0 L1233.9,1753.7 L1234.9,1758.3 L1235.9,1760.9 L1236.9,1762.1 L1237.9,1761.4 L1238.9,1760.4 L1239.9,1759.7 L1240.9,1758.9 L1241.9,1759.8 L1242.9,1760.6 L1243.9,1760.7 L1244.9,1760.7 L1245.9,1761.6 L1246.9,1762.5 L1247.9,1761.2 L1248.9,1759.9 L1249.9,1760.7 L1250.9,1761.6 L1251.9,1760.5 L1252.9,1758.9 L1253.9,1757.3 L1254.9,1755.1 L1255.9,1754.1 L1256.0,1754.1 L1256.9,1755.5 L1257.9,1757.3 L1258.9,1758.6 L1259.9,1758.3 L1260.9,1757.5 L1261.9,1757.7 L1262.9,1757.8 L1263.9,1758.9 L1264.9,1759.8 L1265.9,1759.4 L1266.9,1757.8 L1267.9,1753.0 L1268.9,1746.0 L1269.9,1740.9 L1270.2,1740.5 L1270.9,1742.2 L1271.9,1749.5 L1272.9,1756.1 L1273.9,1758.1 L1274.9,1758.4 L1275.9,1758.4 L1276.9,1758.1 L1277.9,1758.2 L1278.9,1758.3 L1279.9,1759.2 L1280.9,1760.2 L1281.9,1760.2 L1282.9,1760.1 L1283.9,1760.1 L1284.9,1760.0 L1285.9,1761.3 L1286.9,1762.5 L1287.9,1760.6 L1288.9,1758.7 L1289.9,1759.9" stroke="#000080" stroke-width="10.5"/>
<path d="M206.9,1897.6 L207.9,1895.5 L208.9,1893.4 L209.9,1894.4 L210.9,1895.6 L211.9,1897.2 L212.9,1898.8 L213.9,1896.9 L214.9,1895.0 L215.9,1895.9 L216.9,1896.8 L217.9,1897.1 L218.9,1897.3 L219.9,1898.2 L220.9,1899.1 L221.9,1894.8 L222.9,1890.5 L223.9,1890.5 L224.9,1890.5 L225.9,1895.2 L226.9,1899.9 L227.9,1899.6 L228.9,1899.3 L229.9,1896.6 L230.9,1894.0 L231.9,1896.2 L232.9,1898.4 L233.9,1895.8 L234.9,1893.2 L235.9,1893.9 L236.9,1894.5 L237.9,1895.2 L238.9,1895.9 L239.9,1895.0 L240.9,1894.0 L241.9,1893.5 L242.9,1892.9 L243.9,1894.9 L244.9,1897.0 L245.9,1898.2 L246.9,1899.5 L247.9,1898.1 L248.9,1896.6 L249.9,1898.3 L250.9,1900.0 L251.9,1902.2 L252.9,1904.5 L253.9,1899.9 L254.9,1895.4 L255.9,1895.8 L256.9,1896.3 L257.9,1895.4 L258.9,1894.6 L259.9,1897.7 L260.9,1900.8 L261.9,1900.1 L262.9,1899.4 L263.9,1899.5 L264.9,1899.6 L265.9,1898.7 L266.9,1897.8 L267.9,1900.6 L268.9,1903.4 L269.9,1903.9 L270.9,1904.5 L271.9,1903.0 L272.9,1901.5 L273.9,1903.3 L274.9,1905.2 L275.9,1902.5 L276.9,1899.8 L277.9,1900.0 L278.9,1900.2 L279.9,1903.7 L280.9,1907.1 L281.9,1903.9 L282.9,1900.7 L283.9,1899.6 L284.9,1898.4 L285.9,1897.4 L286.9,1896.2 L287.9,1898.6 L288.9,1899.8 L289.9,1894.0 L290.9,1873.2 L291.9,1827.3 L292.9,1791.0 L293.0,1790.9 L293.9,1816.2 L294.9,1862.3 L295.9,1889.0 L296.9,1898.6 L297.9,1901.3 L298.9,1902.3 L299.9,1902.6 L300.9,1902.7 L301.9,1903.9 L302.9,1905.0 L303.9,1904.2 L304.9,1903.4 L305.9,1907.6 L306.9,1911.8 L307.9,1909.0 L308.9,1906.3 L309.9,1907.7 L310.9,1909.1 L311.9,1910.1 L312.9,1911.2 L313.9,1911.6 L314.9,1912.1 L315.9,1911.4 L316.9,1910.7 L317.9,1911.0 L318.9,1911.3 L319.9,1913.7 L320.9,1916.0 L321.9,1912.6 L322.9,1909.1 L323.9,1908.6 L324.9,1908.2 L325.9,1908.7 L326.9,1909.3 L327.9,1911.8 L328.9,1914.2 L329.9,1913.2 L330.9,1912.1 L331.9,1911.7 L332.9,1911.4 L333.9,1909.8 L334.9,1908.2 L335.9,1908.2 L336.9,1908.2 L337.9,1911.0 L338.9,1913.9 L339.9,1912.3 L340.9,1910.7 L341.9,1911.7 L342.9,1912.7 L343.9,1911.8 L344.9,1910.9 L345.9,1911.2 L346.9,1911.5 L347.9,1911.0 L348.9,1910.5 L349.9,1914.2 L350.9,1917.9 L351.9,1917.2 L352.9,1916.6 L353.9,1915.8 L354.9,1915.0 L355.9,1913.6 L356.9,1912.2 L357.9,1915.2 L358.9,1918.1 L359.9,1917.3 L360.9,1916.6 L361.9,1914.3 L362.9,1912.0 L363.9,1911.9 L364.9,1911.8 L365.9,1915.8 L366.9,1919.8 L367.9,1917.4 L368.9,1915.1 L369.9,1915.1 L370.9,1915.2 L371.9,1913.7 L372.9,1912.2 L373.9,1915.9 L374.9,1919.7 L375.9,1917.3 L376.9,1914.9 L377.9,1916.1 L378.9,1917.3 L379.9,1918.5 L380.9,1919.5 L381.9,1918.8 L382.9,1918.1 L383.9,1917.2 L384.9,1916.3 L385.9,1915.5 L386.9,1914.8 L387.9,1916.8 L388.9,1918.9 L389.9,1917.1 L390.9,1915.4 L391.9,1916.8 L392.9,1918.3 L393.9,1920.4 L394.9,1922.4 L395.9,1922.7 L396.9,1922.9 L397.9,1921.7 L398.9,1920.5 L399.9,1919.9 L400.9,1919.3 L401.9,1917.1 L402.9,1914.8 L403.9,1917.6 L404.9,1920.5 L405.9,1921.5 L406.9,1922.6 L407.9,1920.0 L408.9,1917.5 L409.9,1915.5 L410.9,1913.6 L411.9,1915.6 L412.9,1917.6 L413.9,1917.5 L414.9,1917.5 L415.9,1919.5 L416.9,1921.6 L417.9,1921.6 L418.9,1921.5 L419.9,1920.0 L420.9,1918.4 L421.9,1918.6 L422.9,1918.8 L423.9,1918.6 L424.9,1918.4 L425.9,1919.3 L426.9,1920.2 L427.9,1920.3 L428.9,1920.4 L429.9,1920.5 L430.9,1920.6 L431.9,1918.5 L432.9,1916.4 L433.9,1918.9 L434.9,1921.4 L435.9,1918.2 L436.9,1915.0 L437.9,1915.4 L438.9,1915.8 L439.9,1917.4 L440.9,1918.9 L441.9,1916.7 L442.9,1914.4 L443.9,1916.8 L444.9,1919.2 L445.9,1918.3 L446.9,1917.5 L447.9,1917.4 L448.9,1917.3 L449.9,1916.1 L450.9,1914.8 L451.9,1916.1 L452.9,1917.3 L453.9,1918.6 L454.9,1919.8 L455.9,1917.6 L456.9,1915.3 L457.9,1918.7 L458.9,1922.1 L459.9,1923.5 L460.9,1924.9 L461.9,1923.0 L462.9,1921.1 L463.9,1920.8 L464.9,1920.6 L465.9,1921.8 L466.9,1923.0 L467.9,1922.4 L468.9,1921.6 L469.9,1920.9 L470.9,1918.9 L471.9,1913.3 L472.9,1905.8 L473.8,1902.6 L473.9,1902.7 L474.9,1907.3 L475.9,1913.1 L476.9,1916.5 L477.9,1916.9 L478.9,1916.1 L479.9,1919.3 L480.9,1922.4 L481.9,1922.6 L482.9,1922.8 L483.9,1919.7 L484.9,1916.6 L485.9,1919.8 L486.9,1922.9 L487.9,1924.6 L488.9,1926.2 L489.9,1923.9 L490.9,1921.5 L491.9,1923.5 L492.9,1925.5 L493.9,1922.6 L494.9,1919.7 L495.9,1921.1 L496.9,1922.6 L497.9,1923.7 L498.9,1924.8 L499.9,1923.1 L500.9,1921.5 L501.9,1920.6 L502.9,1919.8 L503.9,1918.9 L504.9,1918.1 L505.9,1919.9 L506.9,1921.6 L507.9,1920.9 L508.9,1920.2 L509.9,1920.8 L510.9,1921.5 L511.9,1922.3 L512.9,1923.1 L513.9,1921.5 L514.9,1919.9 L515.9,1920.4 L516.9,1920.8 L517.9,1919.2 L518.9,1917.5 L519.9,1920.0 L520.9,1922.5 L521.9,1923.2 L522.9,1923.8 L523.9,1921.7 L524.9,1919.2 L525.9,1917.1 L526.9,1912.4 L527.9,1904.6 L528.9,1891.1 L529.9,1880.0 L530.0,1879.8 L530.9,1886.6 L531.9,1903.1 L532.9,1914.9 L533.9,1918.8 L534.9,1918.9 L535.9,1915.2 L536.9,1906.3 L537.9,1885.4 L538.9,1842.2 L539.9,1783.0 L540.9,1745.8 L541.0,1745.5 L541.9,1772.9 L542.9,1833.0 L543.9,1880.2 L544.9,1904.4 L545.9,1914.4 L546.9,1918.2 L547.9,1919.2 L548.9,1919.5 L549.9,1921.6 L550.9,1923.4 L551.9,1923.0 L552.9,1922.2 L553.9,1919.6 L554.9,1915.8 L555.9,1914.6 L556.9,1914.5 L557.0,1914.4 L557.9,1915.2 L558.9,1917.6 L559.9,1920.3 L560.9,1921.6 L561.9,1923.4 L562.9,1924.8 L563.9,1926.5 L564.9,1928.0 L565.9,1926.3 L566.9,1924.6 L567.9,1924.4 L568.9,1924.1 L569.9,1925.1 L570.9,1926.2 L571.9,1927.4 L572.9,1928.6 L573.9,1928.7 L574.9,1928.7 L575.9,1929.6 L576.9,1930.5 L577.9,1926.6 L578.9,1922.6 L579.9,1924.0 L580.9,1925.3 L581.9,1924.8 L582.9,1924.4 L583.9,1924.3 L584.9,1924.2 L585.9,1923.8 L586.9,1923.3 L587.9,1923.9 L588.9,1923.5 L589.9,1921.0 L590.9,1917.2 L591.9,1913.9 L592.0,1913.8 L592.9,1915.7 L593.9,1917.8 L594.9,1918.9 L595.9,1922.1 L596.9,1923.9 L597.9,1925.9 L598.9,1927.7 L599.9,1925.9 L600.9,1924.1 L601.9,1922.8 L602.9,1921.4 L603.9,1920.6 L604.4,1919.9 L604.9,1919.0 L605.9,1916.1 L606.9,1907.2 L607.9,1884.2 L608.9,1845.8 L609.9,1800.3 L610.9,1773.9 L611.0,1773.5 L611.9,1791.0 L612.9,1833.8 L613.9,1874.2 L614.9,1899.5 L615.9,1914.0 L616.9,1921.4 L617.9,1921.5 L618.9,1920.5 L619.9,1922.1 L620.9,1923.4 L621.9,1923.8 L622.9,1924.0 L623.9,1926.6 L624.9,1929.2 L625.9,1929.9 L626.9,1930.7 L627.9,1927.5 L628.9,1924.4 L629.9,1924.3 L630.9,1924.1 L631.9,1924.7 L632.9,1925.2 L633.9,1925.0 L634.9,1924.7 L635.9,1926.1 L636.9,1927.5 L637.9,1929.8 L638.9,1932.1 L639.9,1930.3 L640.9,1928.5 L641.9,1929.3 L642.9,1930.2 L643.9,1929.6 L644.9,1929.0 L645.9,1930.6 L646.9,1932.2 L647.9,1930.1 L648.9,1927.8 L649.9,1927.8 L650.9,1926.5 L651.9,1918.9 L652.9,1906.7 L653.9,1895.4 L654.7,1891.4 L654.9,1891.9 L655.9,1899.4 L656.9,1910.2 L657.9,1920.4 L658.9,1926.1 L659.9,1928.4 L660.9,1929.9 L661.9,1928.6 L662.9,1927.1 L663.9,1928.2 L664.9,1929.2 L665.9,1930.4 L666.9,1931.5 L667.9,1930.3 L668.9,1929.1 L669.9,1931.4 L670.9,1933.8 L671.9,1930.7 L672.9,1927.7 L673.9,1928.3 L674.9,1928.9 L675.9,1931.7 L676.9,1934.4 L677.9,1935.0 L678.9,1935.5 L679.9,1933.7 L680.9,1931.9 L681.9,1930.2 L682.9,1928.6 L683.9,1928.9 L684.9,1929.3 L685.9,1929.7 L686.9,1930.1 L687.9,1930.0 L688.9,1930.0 L689.9,1930.3 L690.9,1930.6 L691.9,1930.4 L692.9,1930.2 L693.9,1932.4 L694.9,1934.5 L695.9,1931.5 L696.9,1928.4 L697.9,1931.1 L698.9,1933.8 L699.9,1932.3 L700.9,1930.7 L701.9,1932.1 L702.9,1932.7 L703.9,1930.0 L704.9,1926.7 L705.9,1924.8 L706.0,1924.8 L706.9,1926.3 L707.9,1928.2 L708.9,1929.8 L709.9,1932.7 L710.9,1934.7 L711.9,1932.4 L712.9,1929.9 L713.9,1930.3 L714.9,1930.7 L715.9,1930.0 L716.9,1929.3 L717.9,1928.9 L718.9,1928.5 L719.9,1932.0 L720.9,1935.5 L721.9,1934.0 L722.9,1932.5 L723.9,1931.6 L724.9,1930.7 L725.9,1933.2 L726.9,1935.7 L727.9,1935.9 L728.9,1936.1 L729.9,1935.4 L730.9,1934.7 L731.9,1933.3 L732.9,1931.9 L733.9,1930.9 L734.9,1929.9 L735.9,1929.7 L736.9,1929.6 L737.9,1931.5 L738.9,1933.4 L739.9,1935.0 L740.9,1936.6 L741.9,1935.9 L742.9,1935.1 L743.9,1933.5 L744.9,1931.8 L745.9,1931.1 L746.9,1930.4 L747.9,1933.0 L748.9,1935.5 L749.9,1935.7 L750.9,1936.0 L751.9,1935.0 L752.9,1933.9 L753.9,1934.1 L754.9,1934.3 L755.9,1932.3 L756.9,1930.2 L757.9,1930.2 L758.9,1930.1 L759.9,1933.4 L760.9,1936.6 L761.9,1933.6 L762.9,1930.6 L763.9,1933.0 L764.9,1935.5 L765.9,1933.5 L766.9,1931.5 L767.9,1933.3 L768.9,1935.1 L769.9,1933.3 L770.9,1931.4 L771.9,1930.8 L772.9,1930.2 L773.9,1932.3 L774.9,1934.4 L775.9,1935.8 L776.9,1937.3 L777.9,1935.9 L778.9,1934.5 L779.9,1935.8 L780.9,1937.0 L781.9,1936.4 L782.9,1935.7 L783.9,1936.2 L784.9,1936.7 L785.9,1935.5 L786.9,1934.1 L787.9,1933.9 L788.9,1932.6 L789.9,1928.6 L790.9,1925.9 L791.0,1925.8 L791.9,1926.2 L792.9,1928.4 L793.9,1930.8 L794.9,1932.0 L795.9,1934.1 L796.9,1935.8 L797.9,1933.3 L798.9,1930.6 L799.9,1931.7 L800.9,1932.6 L801.9,1931.4 L802.9,1930.0 L803.9,1932.3 L804.9,1934.6 L805.9,1933.6 L806.9,1932.4 L807.9,1932.2 L808.3,1931.8 L808.9,1930.6 L809.9,1922.1 L810.9,1903.8 L811.9,1874.7 L812.9,1844.3 L813.5,1837.6 L813.9,1841.0 L814.9,1868.7 L815.9,1899.9 L816.9,1919.5 L817.9,1926.7 L818.9,1928.5 L819.9,1928.9 L820.9,1928.7 L821.9,1930.6 L822.9,1932.4 L823.9,1931.5 L824.9,1930.4 L825.9,1931.4 L826.9,1932.0 L827.9,1929.6 L828.9,1927.2 L829.5,1927.8 L829.9,1928.6 L830.9,1931.5 L831.9,1933.1 L832.9,1934.1 L833.9,1933.1 L834.9,1932.0 L835.9,1934.2 L836.9,1936.3 L837.9,1935.6 L838.9,1934.8 L839.9,1936.4 L840.9,1938.0 L841.9,1936.0 L842.9,1934.0 L843.9,1934.4 L844.9,1934.7 L845.9,1934.4 L846.9,1934.1 L847.9,1935.2 L848.9,1936.3 L849.9,1935.2 L850.9,1934.1 L851.9,1934.8 L852.9,1935.4 L853.9,1935.2 L854.9,1935.0 L855.9,1934.0 L856.9,1933.0 L857.9,1935.6 L858.9,1938.1 L859.9,1936.3 L860.9,1934.5 L861.9,1936.3 L862.9,1938.0 L863.9,1937.3 L864.9,1936.6 L865.9,1935.9 L866.9,1935.1 L867.9,1934.8 L868.9,1934.5 L869.9,1934.0 L870.9,1933.5 L871.9,1933.0 L872.9,1932.4 L873.9,1933.0 L874.9,1933.5 L875.9,1935.9 L876.9,1938.3 L877.9,1936.0 L878.9,1933.7 L879.9,1934.4 L880.9,1935.2 L881.9,1935.2 L882.9,1935.3 L883.9,1934.8 L884.9,1934.4 L885.9,1933.2 L886.9,1932.1 L887.9,1934.4 L888.9,1936.7 L889.9,1936.3 L890.9,1936.0 L891.9,1936.2 L892.9,1936.5 L893.9,1936.0 L894.9,1935.5 L895.9,1937.0 L896.9,1938.5 L897.9,1937.5 L898.9,1936.5 L899.9,1936.8 L900.9,1937.1 L901.9,1935.5 L902.9,1934.0 L903.9,1934.3 L904.9,1934.6 L905.9,1935.3 L906.9,1935.9 L907.9,1936.6 L908.9,1936.4 L909.9,1933.5 L910.9,1930.0 L911.8,1928.6 L911.9,1928.6 L912.9,1930.8 L913.9,1932.9 L914.9,1934.1 L915.9,1935.9 L916.9,1937.1 L917.9,1937.5 L918.9,1937.8 L919.9,1937.8 L920.9,1937.8 L921.9,1935.6 L922.9,1933.3 L923.9,1934.8 L924.9,1936.3 L925.9,1937.1 L926.9,1937.9 L927.9,1937.1 L928.9,1936.0 L929.9,1934.2 L930.9,1930.6 L931.9,1921.2 L932.9,1905.5 L933.9,1887.3 L934.9,1871.7 L935.4,1868.6 L935.9,1870.6 L936.9,1885.4 L937.9,1905.6 L938.9,1920.0 L939.9,1925.2 L940.9,1923.3 L941.9,1914.1 L942.9,1894.8 L943.9,1866.4 L944.9,1848.6 L945.0,1848.6 L945.9,1860.6 L946.9,1887.5 L947.9,1912.0 L948.9,1927.1 L949.9,1933.2 L950.9,1935.6 L951.9,1934.2 L952.9,1932.4 L953.9,1933.3 L954.9,1934.1 L955.9,1936.4 L956.9,1938.6 L957.9,1937.0 L958.9,1935.3 L959.9,1935.8 L960.9,1936.2 L961.9,1934.9 L962.9,1933.6 L963.9,1936.0 L964.9,1938.3 L965.9,1938.8 L966.9,1939.2 L967.9,1937.6 L968.9,1936.0 L969.9,1934.4 L970.9,1932.7 L971.9,1932.6 L972.9,1931.2 L973.9,1927.1 L974.9,1917.4 L975.9,1903.5 L976.9,1895.1 L977.0,1894.9 L977.9,1900.7 L978.9,1914.6 L979.9,1926.0 L980.9,1931.7 L981.9,1933.2 L982.9,1933.3 L983.9,1934.1 L984.9,1934.8 L985.9,1935.1 L986.9,1935.3 L987.9,1937.0 L988.9,1938.7 L989.9,1937.9 L990.9,1937.1 L991.9,1938.0 L992.9,1938.9 L993.9,1937.2 L994.9,1935.5 L995.9,1934.9 L996.9,1934.2 L997.9,1934.4 L998.9,1934.6 L999.9,1934.7 L1000.9,1934.7 L1001.9,1937.2 L1002.9,1939.7 L1003.9,1938.8 L1004.9,1937.8 L1005.9,1937.1 L1006.9,1936.5 L1007.9,1935.6 L1008.9,1934.7 L1009.9,1935.1 L1010.9,1935.4 L1011.9,1937.0 L1012.9,1938.5 L1013.9,1938.8 L1014.9,1939.1 L1015.9,1938.8 L1016.9,1938.4 L1017.9,1937.6 L1018.9,1936.8 L1019.9,1938.2 L1020.9,1939.7 L1021.9,1938.5 L1022.9,1937.3 L1023.9,1938.5 L1024.9,1939.7 L1025.9,1937.5 L1026.9,1935.3 L1027.9,1937.7 L1028.9,1940.2 L1029.9,1939.4 L1030.9,1938.6 L1031.9,1939.5 L1032.9,1940.4 L1033.9,1940.9 L1034.9,1941.4 L1035.9,1938.9 L1036.9,1936.5 L1037.9,1935.7 L1038.9,1935.0 L1039.9,1935.5 L1040.9,1936.1 L1041.9,1936.0 L1042.9,1935.9 L1043.9,1937.4 L1044.9,1939.0 L1045.9,1938.9 L1046.9,1938.7 L1047.9,1938.8 L1048.9,1939.0 L1049.9,1940.1 L1050.9,1941.2 L1051.9,1939.5 L1052.9,1937.8 L1053.9,1938.5 L1054.9,1939.2 L1055.9,1938.1 L1056.9,1937.1 L1057.9,1938.0 L1058.9,1938.8 L1059.9,1940.2 L1060.9,1941.5 L1061.9,1939.1 L1062.9,1936.6 L1063.9,1937.7 L1064.9,1938.9 L1065.9,1940.1 L1066.9,1941.4 L1067.9,1941.2 L1068.9,1941.1 L1069.9,1939.3 L1070.9,1937.5 L1071.9,1938.6 L1072.9,1939.7 L1073.9,1938.8 L1074.9,1938.0 L1075.9,1938.3 L1076.9,1938.6 L1077.9,1937.2 L1078.9,1935.8 L1079.9,1937.5 L1080.9,1939.2 L1081.9,1939.1 L1082.9,1939.0 L1083.9,1938.2 L1084.9,1937.4 L1085.9,1937.1 L1086.9,1936.8 L1087.9,1936.4 L1088.9,1935.9 L1089.9,1938.0 L1090.9,1940.1 L1091.9,1939.3 L1092.9,1938.5 L1093.9,1937.9 L1094.9,1937.3 L1095.9,1939.3 L1096.9,1941.2 L1097.9,1939.3 L1098.9,1937.4 L1099.9,1937.6 L1100.9,1937.8 L1101.9,1937.0 L1102.9,1936.1 L1103.9,1936.3 L1104.9,1936.5 L1105.9,1937.3 L1106.9,1938.1 L1107.9,1937.5 L1108.9,1936.9 L1109.9,1938.6 L1110.9,1940.1 L1111.9,1938.0 L1112.9,1935.1 L1113.9,1934.1 L1114.9,1932.7 L1115.9,1930.5 L1116.0,1930.4 L1116.9,1931.0 L1117.9,1934.3 L1118.9,1937.3 L1119.9,1939.2 L1120.9,1940.3 L1121.9,1940.9 L1122.9,1941.4 L1123.9,1941.5 L1124.9,1941.6 L1125.9,1941.1 L1126.9,1940.5 L1127.9,1938.8 L1128.9,1937.0 L1129.9,1937.0 L1130.9,1937.0 L1131.9,1937.0 L1132.9,1936.3 L1133.9,1935.6 L1134.9,1933.8 L1135.9,1930.2 L1136.5,1929.2 L1136.9,1929.3 L1137.9,1932.5 L1138.9,1936.5 L1139.9,1936.9 L1140.9,1936.1 L1141.9,1938.8 L1142.9,1941.2 L1143.9,1941.5 L1144.9,1941.9 L1145.9,1941.9 L1146.9,1941.9 L1147.9,1940.5 L1148.9,1939.1 L1149.9,1938.7 L1150.9,1938.4 L1151.9,1938.9 L1152.9,1939.5 L1153.9,1940.1 L1154.9,1940.8 L1155.9,1938.9 L1156.9,1937.0 L1157.9,1938.1 L1158.9,1939.2 L1159.9,1940.3 L1160.9,1941.5 L1161.9,1941.9 L1162.9,1942.3 L1163.9,1941.2 L1164.9,1940.0 L1165.9,1938.6 L1166.9,1937.1 L1167.9,1938.9 L1168.9,1940.7 L1169.9,1940.4 L1170.9,1940.1 L1171.9,1940.2 L1172.9,1940.3 L1173.9,1939.4 L1174.9,1938.6 L1175.9,1939.6 L1176.9,1940.7 L1177.9,1940.6 L1178.9,1940.6 L1179.9,1939.0 L1180.9,1937.5 L1181.9,1939.0 L1182.9,1940.5 L1183.9,1941.4 L1184.9,1942.4 L1185.9,1941.1 L1186.9,1939.7 L1187.9,1939.8 L1188.9,1939.9 L1189.9,1939.3 L1190.9,1938.7 L1191.9,1938.1 L1192.9,1937.4 L1193.9,1939.5 L1194.9,1941.7 L1195.9,1941.6 L1196.9,1941.4 L1197.9,1940.0 L1198.9,1938.6 L1199.9,1940.3 L1200.9,1942.1 L1201.9,1941.6 L1202.9,1941.0 L1203.9,1941.2 L1204.9,1941.4 L1205.9,1940.5 L1206.9,1939.6 L1207.9,1939.4 L1208.9,1939.2 L1209.9,1938.8 L1210.9,1938.3 L1211.9,1938.6 L1212.9,1939.0 L1213.9,1939.9 L1214.9,1940.8 L1215.9,1939.2 L1216.9,1937.3 L1217.9,1935.5 L1218.9,1932.1 L1219.9,1928.5 L1220.9,1926.2 L1221.0,1926.2 L1221.9,1928.2 L1222.9,1932.4 L1223.9,1937.1 L1224.9,1940.2 L1225.9,1941.1 L1226.9,1941.6 L1227.9,1941.0 L1228.9,1939.6 L1229.9,1935.2 L1230.9,1927.6 L1231.9,1918.6 L1232.9,1913.3 L1232.9,1913.3 L1233.9,1919.8 L1234.9,1930.1 L1235.9,1935.9 L1236.9,1938.6 L1237.9,1940.6 L1238.9,1941.9 L1239.9,1941.8 L1240.9,1941.6 L1241.9,1939.9 L1242.9,1938.2 L1243.9,1939.3 L1244.9,1940.4 L1245.9,1939.2 L1246.9,1938.0 L1247.9,1937.7 L1248.9,1937.5 L1249.9,1938.4 L1250.9,1939.2 L1251.9,1939.0 L1252.9,1937.6 L1253.9,1933.1 L1254.9,1927.2 L1255.9,1925.4 L1255.9,1925.4 L1256.9,1929.2 L1257.9,1934.0 L1258.9,1937.5 L1259.9,1938.3 L1260.9,1937.8 L1261.9,1937.7 L1262.9,1937.3 L1263.9,1939.3 L1264.9,1941.3 L1265.9,1940.9 L1266.9,1940.3 L1267.9,1939.2 L1268.9,1936.3 L1269.9,1929.7 L1270.9,1923.4 L1271.4,1922.6 L1271.9,1923.6 L1272.9,1929.1 L1273.9,1934.6 L1274.9,1937.9 L1275.9,1940.5 L1276.9,1942.2 L1277.9,1940.9 L1278.9,1939.6 L1279.9,1939.1 L1280.9,1938.6 L1281.9,1938.7 L1282.9,1938.8 L1283.9,1939.4 L1284.9,1940.0 L1285.9,1941.1 L1286.9,1942.2 L1287.9,1941.7 L1288.9,1941.2 L1289.9,1941.3" stroke="#008000" stroke-width="10.5"/>
<path d="M206.9,1968.9 L207.9,1970.4 L208.9,1972.0 L209.9,1971.9 L210.9,1971.9 L211.9,1974.7 L212.9,1977.5 L213.9,1975.0 L214.9,1972.4 L215.9,1972.4 L216.9,1972.4 L217.9,1973.2 L218.9,1974.1 L219.9,1973.3 L220.9,1972.5 L221.9,1975.4 L222.9,1978.3 L223.9,1978.8 L224.9,1979.3 L225.9,1978.7 L226.9,1978.0 L227.9,1974.3 L228.9,1970.6 L229.9,1975.1 L230.9,1979.7 L231.9,1978.3 L232.9,1976.9 L233.9,1977.0 L234.9,1977.1 L235.9,1976.9 L236.9,1976.7 L237.9,1976.7 L238.9,1976.6 L239.9,1979.0 L240.9,1981.4 L241.9,1978.4 L242.9,1975.3 L243.9,1974.1 L244.9,1972.9 L245.9,1977.5 L246.9,1982.1 L247.9,1979.1 L248.9,1976.1 L249.9,1975.7 L250.9,1975.3 L251.9,1976.2 L252.9,1977.1 L253.9,1979.9 L254.9,1982.8 L255.9,1980.6 L256.9,1978.4 L257.9,1976.1 L258.9,1973.8 L259.9,1974.8 L260.9,1975.9 L261.9,1976.0 L262.9,1976.1 L263.9,1975.1 L264.9,1974.1 L265.9,1978.8 L266.9,1983.4 L267.9,1983.6 L268.9,1983.8 L269.9,1980.7 L270.9,1977.6 L271.9,1977.7 L272.9,1977.8 L273.9,1981.9 L274.9,1986.0 L275.9,1985.4 L276.9,1984.9 L277.9,1983.5 L278.9,1982.1 L279.9,1982.6 L280.9,1983.2 L281.9,1985.5 L282.9,1987.9 L283.9,1984.4 L284.9,1980.9 L285.9,1982.2 L286.9,1983.5 L287.9,1980.2 L288.9,1976.3 L289.9,1975.6 L290.9,1968.5 L291.9,1947.1 L292.9,1923.4 L293.3,1920.7 L293.9,1927.4 L294.9,1952.3 L295.9,1971.2 L296.9,1979.1 L297.9,1981.7 L298.9,1983.0 L299.9,1986.1 L300.9,1989.1 L301.9,1987.1 L302.9,1985.1 L303.9,1983.1 L304.9,1981.0 L305.9,1985.1 L306.9,1989.3 L307.9,1990.7 L308.9,1992.1 L309.9,1992.1 L310.9,1992.1 L311.9,1989.4 L312.9,1986.6 L313.9,1986.5 L314.9,1986.4 L315.9,1988.7 L316.9,1991.0 L317.9,1988.0 L318.9,1985.0 L319.9,1984.4 L320.9,1983.8 L321.9,1986.0 L322.9,1988.3 L323.9,1987.4 L324.9,1986.5 L325.9,1987.6 L326.9,1988.7 L327.9,1987.4 L328.9,1986.1 L329.9,1990.1 L330.9,1994.1 L331.9,1992.5 L332.9,1991.0 L333.9,1989.9 L334.9,1988.9 L335.9,1988.5 L336.9,1988.2 L337.9,1988.0 L338.9,1987.8 L339.9,1990.5 L340.9,1993.2 L341.9,1993.9 L342.9,1994.5 L343.9,1994.7 L344.9,1994.8 L345.9,1995.7 L346.9,1996.5 L347.9,1995.0 L348.9,1993.6 L349.9,1992.2 L350.9,1990.8 L351.9,1990.8 L352.9,1990.8 L353.9,1989.3 L354.9,1987.9 L355.9,1988.9 L356.9,1989.9 L357.9,1990.7 L358.9,1991.6 L359.9,1993.8 L360.9,1996.0 L361.9,1995.0 L362.9,1994.0 L363.9,1991.4 L364.9,1988.8 L365.9,1990.6 L366.9,1992.4 L367.9,1991.8 L368.9,1991.2 L369.9,1993.6 L370.9,1995.9 L371.9,1996.6 L372.9,1997.3 L373.9,1996.2 L374.9,1995.2 L375.9,1995.4 L376.9,1995.5 L377.9,1994.4 L378.9,1993.3 L379.9,1992.4 L380.9,1991.5 L381.9,1994.0 L382.9,1996.5 L383.9,1996.9 L384.9,1997.2 L385.9,1996.2 L386.9,1995.2 L387.9,1996.9 L388.9,1998.6 L389.9,1998.4 L390.9,1998.2 L391.9,1997.6 L392.9,1997.0 L393.9,1993.9 L394.9,1990.8 L395.9,1994.5 L396.9,1998.2 L397.9,1994.6 L398.9,1991.0 L399.9,1990.8 L400.9,1990.7 L401.9,1990.3 L402.9,1989.9 L403.9,1990.1 L404.9,1990.3 L405.9,1993.0 L406.9,1995.6 L407.9,1995.5 L408.9,1995.3 L409.9,1993.2 L410.9,1991.0 L411.9,1991.0 L412.9,1990.9 L413.9,1993.6 L414.9,1996.3 L415.9,1994.8 L416.9,1993.2 L417.9,1992.4 L418.9,1991.6 L419.9,1994.4 L420.9,1997.2 L421.9,1995.1 L422.9,1992.9 L423.9,1991.7 L424.9,1990.4 L425.9,1992.3 L426.9,1994.2 L427.9,1995.7 L428.9,1997.2 L429.9,1993.9 L430.9,1990.6 L431.9,1993.0 L432.9,1995.5 L433.9,1993.8 L434.9,1992.1 L435.9,1995.2 L436.9,1998.2 L437.9,1996.9 L438.9,1995.5 L439.9,1994.7 L440.9,1993.8 L441.9,1993.6 L442.9,1993.4 L443.9,1992.1 L444.9,1990.9 L445.9,1990.4 L446.9,1990.0 L447.9,1992.2 L448.9,1994.4 L449.9,1994.8 L450.9,1995.3 L451.9,1993.8 L452.9,1992.3 L453.9,1991.9 L454.9,1991.4 L455.9,1993.0 L456.9,1994.6 L457.9,1997.2 L458.9,1999.9 L459.9,1996.3 L460.9,1992.7 L461.9,1995.0 L462.9,1997.3 L463.9,1999.1 L464.9,2000.8 L465.9,1998.2 L466.9,1995.5 L467.9,1995.4 L468.9,1995.3 L469.9,1996.2 L470.9,1997.1 L471.9,1995.8 L472.9,1994.5 L473.9,1993.3 L474.9,1992.1 L475.9,1992.5 L476.9,1992.9 L477.9,1996.6 L478.9,2000.3 L479.9,1998.8 L480.9,1997.4 L481.9,1999.3 L482.9,2001.2 L483.9,1998.3 L484.9,1995.4 L485.9,1997.6 L486.9,1999.8 L487.9,1997.8 L488.9,1995.8 L489.9,1996.1 L490.9,1996.4 L491.9,1998.3 L492.9,2000.3 L493.9,2001.9 L494.9,2003.5 L495.9,2003.8 L496.9,2004.1 L497.9,2003.4 L498.9,2002.7 L499.9,1999.3 L500.9,1995.9 L501.9,1997.7 L502.9,1999.6 L503.9,2000.4 L504.9,2001.2 L505.9,1999.3 L506.9,1997.4 L507.9,1998.4 L508.9,1999.3 L509.9,1998.5 L510.9,1997.7 L511.9,1999.2 L512.9,2000.8 L513.9,2001.5 L514.9,2002.2 L515.9,2002.0 L516.9,2001.8 L517.9,1999.6 L518.9,1997.3 L519.9,1995.9 L520.9,1994.5 L521.9,1995.3 L522.9,1996.0 L523.9,1996.8 L524.9,1996.5 L525.9,1990.9 L526.9,1983.1 L527.9,1981.7 L528.0,1981.9 L528.9,1987.4 L529.9,1994.3 L530.9,1999.3 L531.9,2000.9 L532.9,2001.2 L533.9,2000.2 L534.9,1999.1 L535.9,2000.4 L536.9,2000.9 L537.9,1995.0 L538.9,1982.6 L539.9,1960.1 L540.9,1929.1 L541.9,1911.9 L542.0,1911.9 L542.9,1927.5 L543.9,1957.1 L544.9,1980.6 L545.9,1992.8 L546.9,1997.4 L547.9,1998.8 L548.9,1999.1 L549.9,1998.6 L550.9,1997.8 L551.9,1998.2 L552.9,1998.6 L553.9,1999.4 L554.9,2000.1 L555.9,2002.2 L556.9,2004.3 L557.9,2003.2 L558.9,2001.9 L559.9,2001.3 L560.9,2000.6 L561.9,1999.8 L562.9,1999.0 L563.9,2002.0 L564.9,2004.9 L565.9,2003.4 L566.9,2001.9 L567.9,2001.8 L568.9,2001.8 L569.9,2000.3 L570.9,1998.8 L571.9,2001.5 L572.9,2004.3 L573.9,2003.3 L574.9,2002.3 L575.9,2001.9 L576.9,2001.5 L577.9,2001.8 L578.9,2002.0 L579.9,2001.7 L580.9,2001.3 L581.9,2001.7 L582.9,2002.1 L583.9,2002.1 L584.9,2002.0 L585.9,2001.9 L586.9,2001.8 L587.9,2003.9 L588.9,2006.1 L589.9,2007.2 L590.9,2008.2 L591.9,2006.5 L592.9,2004.8 L593.9,2002.6 L594.9,2000.4 L595.9,1999.3 L596.9,1997.2 L597.9,1994.0 L598.9,1987.6 L599.9,1980.6 L600.9,1975.5 L601.3,1974.9 L601.9,1977.0 L602.9,1986.0 L603.9,1991.3 L604.9,1993.3 L605.9,1994.3 L606.9,1991.1 L607.9,1985.4 L608.9,1970.1 L609.9,1943.0 L610.9,1920.9 L611.3,1918.0 L611.9,1923.0 L612.9,1946.9 L613.9,1973.7 L614.9,1991.5 L615.9,1999.4 L616.9,2002.4 L617.9,2002.0 L618.9,2001.1 L619.9,2004.5 L620.9,2007.9 L621.9,2005.0 L622.9,2002.0 L623.9,2003.0 L624.9,2003.9 L625.9,2002.8 L626.9,2001.7 L627.9,2001.7 L628.9,2001.7 L629.9,2002.3 L630.9,2003.0 L631.9,2003.1 L632.9,2003.2 L633.9,2006.6 L634.9,2009.9 L635.9,2009.0 L636.9,2008.2 L637.9,2008.3 L638.9,2008.5 L639.9,2009.5 L640.9,2010.5 L641.9,2009.6 L642.9,2008.7 L643.9,2007.0 L644.9,2005.2 L645.9,2004.9 L646.9,2004.6 L647.9,2003.8 L648.9,2002.9 L649.9,2003.7 L650.9,2003.3 L651.9,2000.6 L652.9,1993.9 L653.9,1984.9 L654.7,1982.0 L654.9,1982.5 L655.9,1988.8 L656.9,1998.0 L657.9,2003.0 L658.9,2004.2 L659.9,2007.6 L660.9,2010.3 L661.9,2010.3 L662.9,2010.1 L663.9,2009.6 L664.9,2009.0 L665.9,2010.4 L666.9,2011.8 L667.9,2010.3 L668.9,2008.8 L669.9,2010.4 L670.9,2012.0 L671.9,2010.7 L672.9,2009.4 L673.9,2009.8 L674.9,2010.3 L675.9,2009.2 L676.9,2008.2 L677.9,2007.7 L678.9,2007.3 L679.9,2009.4 L680.9,2011.5 L681.9,2012.4 L682.9,2013.4 L683.9,2010.4 L684.9,2007.4 L685.9,2007.6 L686.9,2007.7 L687.9,2010.2 L688.9,2012.7 L689.9,2013.8 L690.9,2014.9 L691.9,2013.7 L692.9,2012.5 L693.9,2013.8 L694.9,2015.0 L695.9,2013.7 L696.9,2012.4 L697.9,2013.9 L698.9,2015.4 L699.9,2013.8 L700.9,2012.3 L701.9,2011.7 L702.9,2011.0 L703.9,2012.7 L704.9,2014.4 L705.9,2015.3 L706.9,2016.3 L707.9,2013.2 L708.9,2010.1 L709.9,2009.5 L710.9,2008.8 L711.9,2009.5 L712.9,2010.2 L713.9,2009.5 L714.9,2008.9 L715.9,2008.9 L716.9,2009.0 L717.9,2010.4 L718.9,2011.8 L719.9,2014.0 L720.9,2016.2 L721.9,2016.1 L722.9,2015.9 L723.9,2013.8 L724.9,2011.7 L725.9,2011.3 L726.9,2010.8 L727.9,2010.8 L728.9,2010.7 L729.9,2012.9 L730.9,2015.2 L731.9,2013.5 L732.9,2011.8 L733.9,2010.7 L734.9,2009.6 L735.9,2012.5 L736.9,2015.5 L737.9,2015.9 L738.9,2016.3 L739.9,2015.3 L740.9,2014.2 L741.9,2013.4 L742.9,2012.7 L743.9,2011.5 L744.9,2010.3 L745.9,2011.3 L746.9,2012.4 L747.9,2012.1 L748.9,2011.7 L749.9,2013.5 L750.9,2015.3 L751.9,2013.3 L752.9,2011.2 L753.9,2013.4 L754.9,2015.6 L755.9,2016.4 L756.9,2017.2 L757.9,2017.5 L758.9,2017.7 L759.9,2017.3 L760.9,2016.9 L761.9,2014.0 L762.9,2011.0 L763.9,2012.8 L764.9,2014.5 L765.9,2013.9 L766.9,2013.3 L767.9,2011.7 L768.9,2010.0 L769.9,2009.9 L770.9,2009.7 L771.9,2011.6 L772.9,2013.5 L773.9,2014.8 L774.9,2016.1 L775.9,2015.2 L776.9,2014.2 L777.9,2012.8 L778.9,2011.5 L779.9,2010.7 L780.9,2009.9 L781.9,2011.8 L782.9,2013.7 L783.9,2013.2 L784.9,2012.8 L785.9,2011.5 L786.9,2010.2 L787.9,2013.1 L788.9,2016.0 L789.9,2015.1 L790.9,2014.2 L791.9,2014.8 L792.9,2015.4 L793.9,2013.4 L794.9,2011.4 L795.9,2014.3 L796.9,2017.2 L797.9,2016.5 L798.9,2015.7 L799.9,2013.3 L800.9,2010.9 L801.9,2012.8 L802.9,2014.8 L803.9,2012.7 L804.9,2010.6 L805.9,2011.0 L806.9,2011.2 L807.9,2012.0 L808.9,2012.1 L809.9,2010.2 L810.9,2004.3 L811.9,1992.2 L812.9,1982.2 L813.2,1980.9 L813.9,1982.7 L814.9,1991.6 L815.9,2004.1 L816.9,2012.2 L817.9,2013.2 L818.9,2012.8 L819.9,2014.7 L820.9,2016.4 L821.9,2015.8 L822.9,2015.1 L823.9,2015.2 L824.9,2015.3 L825.9,2013.6 L826.9,2011.8 L827.9,2013.9 L828.9,2015.9 L829.9,2014.6 L830.9,2013.2 L831.9,2014.8 L832.9,2016.4 L833.9,2016.0 L834.9,2015.7 L835.9,2016.4 L836.9,2017.1 L837.9,2017.7 L838.9,2018.4 L839.9,2015.9 L840.9,2013.4 L841.9,2015.4 L842.9,2017.5 L843.9,2015.5 L844.9,2013.5 L845.9,2012.6 L846.9,2011.7 L847.9,2012.3 L848.9,2012.8 L849.9,2014.4 L850.9,2016.0 L851.9,2014.7 L852.9,2013.4 L853.9,2014.7 L854.9,2016.1 L855.9,2015.1 L856.9,2014.2 L857.9,2016.5 L858.9,2018.7 L859.9,2018.1 L860.9,2017.5 L861.9,2017.6 L862.9,2017.6 L863.9,2015.3 L864.9,2013.0 L865.9,2014.0 L866.9,2015.0 L867.9,2016.5 L868.9,2018.0 L869.9,2018.5 L870.9,2018.9 L871.9,2016.5 L872.9,2014.1 L873.9,2016.2 L874.9,2018.3 L875.9,2016.8 L876.9,2015.2 L877.9,2017.0 L878.9,2018.7 L879.9,2017.5 L880.9,2016.3 L881.9,2016.8 L882.9,2017.2 L883.9,2017.7 L884.9,2018.1 L885.9,2018.6 L886.9,2019.1 L887.9,2018.2 L888.9,2017.3 L889.9,2016.5 L890.9,2015.7 L891.9,2017.7 L892.9,2019.7 L893.9,2019.7 L894.9,2019.7 L895.9,2018.3 L896.9,2016.9 L897.9,2017.9 L898.9,2018.8 L899.9,2019.3 L900.9,2019.7 L901.9,2019.6 L902.9,2019.4 L903.9,2019.4 L904.9,2019.5 L905.9,2019.0 L906.9,2018.6 L907.9,2017.1 L908.9,2015.7 L909.9,2016.3 L910.9,2016.9 L911.9,2015.3 L912.9,2013.7 L913.9,2014.9 L914.9,2016.1 L915.9,2017.6 L916.9,2019.1 L917.9,2018.6 L918.9,2018.1 L919.9,2018.8 L920.9,2019.4 L921.9,2019.7 L922.9,2020.1 L923.9,2019.2 L924.9,2018.3 L925.9,2018.5 L926.9,2018.7 L927.9,2019.2 L928.9,2019.6 L929.9,2019.7 L930.9,2019.7 L931.9,2017.9 L932.9,2016.1 L933.0,2016.1 L933.9,2015.9 L934.9,2015.6 L935.9,2014.3 L936.9,2012.7 L937.9,2010.8 L938.9,2003.6 L939.9,1985.2 L940.9,1966.9 L941.0,1966.7 L941.9,1979.5 L942.9,1997.5 L943.9,2000.7 L944.9,1998.4 L945.2,1998.3 L945.9,2000.2 L946.9,2005.8 L947.9,2010.1 L948.9,2012.2 L949.9,2014.0 L950.9,2015.2 L951.9,2017.2 L952.9,2019.2 L953.9,2019.4 L954.9,2019.6 L955.9,2018.4 L956.9,2017.1 L957.9,2016.3 L958.9,2015.6 L959.9,2015.8 L960.9,2016.1 L961.9,2017.8 L962.9,2019.5 L963.9,2019.9 L964.9,2020.3 L965.9,2019.1 L966.9,2017.9 L967.9,2016.7 L968.9,2015.5 L969.9,2016.8 L970.9,2018.0 L971.9,2016.8 L972.9,2015.3 L973.9,2015.5 L974.9,2014.6 L975.9,2010.3 L976.9,2007.1 L977.0,2007.1 L977.9,2008.6 L978.9,2011.8 L979.9,2013.7 L980.9,2014.4 L981.9,2015.1 L982.9,2015.5 L983.9,2016.9 L984.9,2018.2 L985.9,2018.3 L986.9,2018.4 L987.9,2017.5 L988.9,2016.6 L989.9,2017.8 L990.9,2019.0 L991.9,2019.5 L992.9,2020.1 L993.9,2019.0 L994.9,2017.9 L995.9,2017.9 L996.9,2017.9 L997.9,2017.6 L998.9,2017.4 L999.9,2018.2 L1000.9,2018.9 L1001.9,2018.9 L1002.9,2018.8 L1003.9,2018.4 L1004.9,2017.9 L1005.9,2017.9 L1006.9,2017.8 L1007.9,2018.1 L1008.9,2018.4 L1009.9,2019.7 L1010.9,2021.1 L1011.9,2021.3 L1012.9,2021.6 L1013.9,2021.6 L1014.9,2021.7 L1015.9,2020.7 L1016.9,2019.7 L1017.9,2018.3 L1018.9,2016.9 L1019.9,2016.6 L1020.9,2016.2 L1021.9,2017.8 L1022.9,2019.3 L1023.9,2020.5 L1024.9,2021.6 L1025.9,2022.0 L1026.9,2022.4 L1027.9,2022.7 L1028.9,2022.9 L1029.9,2022.7 L1030.9,2022.6 L1031.9,2021.8 L1032.9,2021.0 L1033.9,2019.8 L1034.9,2018.5 L1035.9,2018.6 L1036.9,2018.7 L1037.9,2018.5 L1038.9,2018.3 L1039.9,2018.6 L1040.9,2018.9 L1041.9,2018.9 L1042.9,2018.8 L1043.9,2019.9 L1044.9,2021.0 L1045.9,2021.6 L1046.9,2022.3 L1047.9,2022.7 L1048.9,2023.1 L1049.9,2021.3 L1050.9,2019.5 L1051.9,2021.2 L1052.9,2022.8 L1053.9,2020.8 L1054.9,2018.9 L1055.9,2018.6 L1056.9,2018.3 L1057.9,2018.5 L1058.9,2018.7 L1059.9,2019.1 L1060.9,2019.4 L1061.9,2020.7 L1062.9,2021.9 L1063.9,2020.3 L1064.9,2018.6 L1065.9,2018.0 L1066.9,2017.5 L1067.9,2020.1 L1068.9,2022.8 L1069.9,2022.2 L1070.9,2021.5 L1071.9,2021.3 L1072.9,2021.1 L1073.9,2020.8 L1074.9,2020.5 L1075.9,2019.9 L1076.9,2019.2 L1077.9,2018.6 L1078.9,2018.1 L1079.9,2018.6 L1080.9,2019.1 L1081.9,2018.8 L1082.9,2018.5 L1083.9,2020.7 L1084.9,2023.0 L1085.9,2023.4 L1086.9,2023.9 L1087.9,2023.0 L1088.9,2022.2 L1089.9,2022.0 L1090.9,2021.8 L1091.9,2021.7 L1092.9,2021.5 L1093.9,2021.3 L1094.9,2021.0 L1095.9,2020.6 L1096.9,2020.2 L1097.9,2020.7 L1098.9,2021.1 L1099.9,2020.3 L1100.9,2019.6 L1101.9,2021.3 L1102.9,2023.0 L1103.9,2023.2 L1104.9,2023.4 L1105.9,2022.3 L1106.9,2021.3 L1107.9,2020.0 L1108.9,2018.7 L1109.9,2020.1 L1110.9,2021.1 L1111.9,2017.7 L1112.9,2014.2 L1113.7,2015.5 L1113.9,2015.9 L1114.9,2019.1 L1115.9,2019.2 L1116.9,2019.1 L1117.9,2020.4 L1118.9,2021.4 L1119.9,2021.5 L1120.9,2021.5 L1121.9,2019.9 L1122.9,2018.2 L1123.9,2018.2 L1124.9,2018.1 L1125.9,2020.5 L1126.9,2023.0 L1127.9,2021.2 L1128.9,2019.3 L1129.9,2020.5 L1130.9,2021.6 L1131.9,2020.4 L1132.9,2018.9 L1133.9,2018.2 L1134.9,2016.9 L1135.9,2014.9 L1136.5,2014.3 L1136.9,2014.2 L1137.9,2016.5 L1138.9,2019.0 L1139.9,2020.3 L1140.9,2021.0 L1141.9,2020.2 L1142.9,2019.2 L1143.9,2020.4 L1144.9,2021.5 L1145.9,2021.6 L1146.9,2021.6 L1147.9,2022.8 L1148.9,2023.9 L1149.9,2024.0 L1150.9,2024.0 L1151.9,2023.5 L1152.9,2022.9 L1153.9,2021.0 L1154.9,2019.0 L1155.9,2021.2 L1156.9,2023.3 L1157.9,2021.5 L1158.9,2019.7 L1159.9,2019.2 L1160.9,2018.6 L1161.9,2019.2 L1162.9,2019.7 L1163.9,2020.0 L1164.9,2020.3 L1165.9,2020.2 L1166.9,2020.1 L1167.9,2021.0 L1168.9,2021.9 L1169.9,2020.9 L1170.9,2020.0 L1171.9,2021.4 L1172.9,2022.9 L1173.9,2022.2 L1174.9,2021.5 L1175.9,2022.7 L1176.9,2023.8 L1177.9,2024.2 L1178.9,2024.6 L1179.9,2023.4 L1180.9,2022.1 L1181.9,2022.8 L1182.9,2023.5 L1183.9,2024.0 L1184.9,2024.5 L1185.9,2024.4 L1186.9,2024.4 L1187.9,2024.3 L1188.9,2024.2 L1189.9,2023.5 L1190.9,2022.7 L1191.9,2021.5 L1192.9,2020.2 L1193.9,2021.1 L1194.9,2022.1 L1195.9,2022.9 L1196.9,2023.8 L1197.9,2023.7 L1198.9,2023.7 L1199.9,2022.0 L1200.9,2020.2 L1201.9,2021.9 L1202.9,2023.6 L1203.9,2022.3 L1204.9,2020.9 L1205.9,2021.1 L1206.9,2021.3 L1207.9,2021.4 L1208.9,2021.5 L1209.9,2022.0 L1210.9,2022.4 L1211.9,2022.6 L1212.9,2022.7 L1213.9,2022.5 L1214.9,2022.3 L1215.9,2021.9 L1216.9,2021.6 L1217.9,2021.8 L1218.9,2022.0 L1219.9,2022.0 L1220.9,2022.0 L1221.9,2021.6 L1222.9,2021.2 L1223.9,2021.7 L1224.9,2022.3 L1225.9,2021.5 L1226.9,2020.3 L1227.9,2018.6 L1228.9,2016.3 L1229.9,2014.1 L1230.0,2014.0 L1230.9,2014.4 L1231.9,2017.2 L1232.9,2019.6 L1233.9,2019.9 L1234.9,2019.7 L1235.9,2020.9 L1236.9,2022.0 L1237.9,2021.7 L1238.9,2021.3 L1239.9,2022.0 L1240.9,2022.8 L1241.9,2023.5 L1242.9,2024.1 L1243.9,2024.4 L1244.9,2024.7 L1245.9,2024.7 L1246.9,2024.7 L1247.9,2024.8 L1248.9,2024.9 L1249.9,2023.3 L1250.9,2021.7 L1251.9,2022.4 L1252.9,2023.0 L1253.9,2023.4 L1254.9,2023.8 L1255.9,2022.4 L1256.9,2021.0 L1257.9,2022.7 L1258.9,2024.4 L1259.9,2022.4 L1260.9,2020.5 L1261.9,2020.5 L1262.9,2020.5 L1263.9,2020.8 L1264.9,2021.2 L1265.9,2022.6 L1266.9,2023.7 L1267.9,2021.4 L1268.9,2018.0 L1269.9,2016.3 L1270.8,2016.1 L1270.9,2016.2 L1271.9,2017.3 L1272.9,2019.4 L1273.9,2021.8 L1274.9,2023.1 L1275.9,2023.2 L1276.9,2023.1 L1277.9,2022.6 L1278.9,2022.1 L1279.9,2023.4 L1280.9,2024.7 L1281.9,2024.6 L1282.9,2024.5 L1283.9,2023.4 L1284.9,2022.3 L1285.9,2022.5 L1286.9,2022.7 L1287.9,2021.7 L1288.9,2020.7 L1289.9,2021.9" stroke="#0000FF" stroke-width="10.5"/>
<path d="M206.9,2050.9 L207.9,2047.3 L208.9,2043.7 L209.9,2046.3 L210.9,2049.0 L211.9,2050.2 L212.9,2051.5 L213.9,2051.3 L214.9,2051.1 L215.9,2048.7 L216.9,2046.3 L217.9,2046.3 L218.9,2046.2 L219.9,2048.3 L220.9,2050.5 L221.9,2052.4 L222.9,2054.3 L223.9,2053.1 L224.9,2052.0 L225.9,2051.2 L226.9,2050.4 L227.9,2049.5 L228.9,2048.6 L229.9,2048.6 L230.9,2048.7 L231.9,2050.5 L232.9,2052.4 L233.9,2051.3 L234.9,2050.2 L235.9,2050.7 L236.9,2051.1 L237.9,2051.9 L238.9,2052.6 L239.9,2052.9 L240.9,2053.2 L241.9,2050.1 L242.9,2047.0 L243.9,2047.6 L244.9,2048.1 L245.9,2051.0 L246.9,2053.8 L247.9,2053.8 L248.9,2053.7 L249.9,2055.3 L250.9,2056.9 L251.9,2053.0 L252.9,2049.1 L253.9,2049.4 L254.9,2049.8 L255.9,2051.4 L256.9,2053.1 L257.9,2054.9 L258.9,2056.7 L259.9,2054.2 L260.9,2051.6 L261.9,2054.3 L262.9,2057.0 L263.9,2055.7 L264.9,2054.5 L265.9,2053.8 L266.9,2053.1 L267.9,2055.9 L268.9,2058.7 L269.9,2055.5 L270.9,2052.2 L271.9,2056.2 L272.9,2060.1 L273.9,2057.6 L274.9,2055.2 L275.9,2055.2 L276.9,2055.2 L277.9,2054.5 L278.9,2053.8 L279.9,2055.3 L280.9,2056.7 L281.9,2059.2 L282.9,2061.7 L283.9,2058.9 L284.9,2056.2 L285.9,2057.5 L286.9,2058.8 L287.9,2058.5 L288.9,2057.9 L289.9,2056.7 L290.9,2054.3 L291.9,2047.4 L292.9,2031.0 L293.9,2011.5 L294.6,2006.0 L294.9,2008.4 L295.9,2027.4 L296.9,2046.4 L297.9,2056.1 L298.9,2059.4 L299.9,2061.3 L300.9,2062.7 L301.9,2060.7 L302.9,2058.7 L303.9,2062.3 L304.9,2066.0 L305.9,2067.3 L306.9,2068.7 L307.9,2065.8 L308.9,2062.9 L309.9,2065.5 L310.9,2068.1 L311.9,2068.2 L312.9,2068.3 L313.9,2066.4 L314.9,2064.5 L315.9,2064.2 L316.9,2063.9 L317.9,2063.0 L318.9,2062.2 L319.9,2063.9 L320.9,2065.6 L321.9,2066.2 L322.9,2066.8 L323.9,2067.2 L324.9,2067.6 L325.9,2067.8 L326.9,2067.9 L327.9,2068.4 L328.9,2068.9 L329.9,2066.9 L330.9,2064.8 L331.9,2065.0 L332.9,2065.2 L333.9,2067.1 L334.9,2069.0 L335.9,2069.0 L336.9,2069.0 L337.9,2067.6 L338.9,2066.1 L339.9,2066.4 L340.9,2066.8 L341.9,2070.6 L342.9,2074.4 L343.9,2074.3 L344.9,2074.2 L345.9,2073.9 L346.9,2073.6 L347.9,2071.7 L348.9,2069.8 L349.9,2069.8 L350.9,2069.9 L351.9,2071.4 L352.9,2073.0 L353.9,2072.7 L354.9,2072.3 L355.9,2072.8 L356.9,2073.2 L357.9,2070.2 L358.9,2067.3 L359.9,2070.3 L360.9,2073.3 L361.9,2071.3 L362.9,2069.4 L363.9,2069.7 L364.9,2070.1 L365.9,2071.3 L366.9,2072.5 L367.9,2075.0 L368.9,2077.4 L369.9,2075.2 L370.9,2073.0 L371.9,2073.9 L372.9,2074.8 L373.9,2072.8 L374.9,2070.8 L375.9,2074.3 L376.9,2077.7 L377.9,2074.9 L378.9,2072.2 L379.9,2073.2 L380.9,2074.2 L381.9,2075.1 L382.9,2076.0 L383.9,2076.3 L384.9,2076.6 L385.9,2075.4 L386.9,2074.3 L387.9,2075.1 L388.9,2075.9 L389.9,2072.8 L390.9,2069.8 L391.9,2074.2 L392.9,2078.5 L393.9,2077.2 L394.9,2076.0 L395.9,2075.9 L396.9,2075.9 L397.9,2074.2 L398.9,2072.5 L399.9,2073.3 L400.9,2074.2 L401.9,2075.2 L402.9,2076.2 L403.9,2075.3 L404.9,2074.3 L405.9,2072.7 L406.9,2071.1 L407.9,2071.2 L408.9,2071.3 L409.9,2074.7 L410.9,2078.1 L411.9,2075.5 L412.9,2072.9 L413.9,2073.9 L414.9,2075.0 L415.9,2076.2 L416.9,2077.4 L417.9,2075.2 L418.9,2073.1 L419.9,2075.6 L420.9,2078.1 L421.9,2077.0 L422.9,2075.8 L423.9,2078.0 L424.9,2080.1 L425.9,2076.9 L426.9,2073.7 L427.9,2074.2 L428.9,2074.6 L429.9,2074.4 L430.9,2074.3 L431.9,2073.8 L432.9,2073.4 L433.9,2074.1 L434.9,2074.7 L435.9,2074.9 L436.9,2075.1 L437.9,2075.0 L438.9,2074.9 L439.9,2077.2 L440.9,2079.5 L441.9,2077.4 L442.9,2075.2 L443.9,2073.5 L444.9,2071.8 L445.9,2074.8 L446.9,2077.9 L447.9,2077.0 L448.9,2076.1 L449.9,2074.0 L450.9,2071.8 L451.9,2075.0 L452.9,2078.1 L453.9,2078.6 L454.9,2079.1 L455.9,2078.9 L456.9,2078.7 L457.9,2079.5 L458.9,2080.2 L459.9,2077.7 L460.9,2075.2 L461.9,2077.5 L462.9,2079.8 L463.9,2077.9 L464.9,2076.1 L465.9,2078.1 L466.9,2080.0 L467.9,2081.0 L468.9,2081.9 L469.9,2079.4 L470.9,2075.6 L471.9,2070.2 L472.9,2063.1 L473.8,2061.3 L473.9,2061.5 L474.9,2067.0 L475.9,2073.2 L476.9,2077.2 L477.9,2077.8 L478.9,2077.4 L479.9,2075.4 L480.9,2073.4 L481.9,2074.3 L482.9,2075.3 L483.9,2077.1 L484.9,2078.9 L485.9,2076.1 L486.9,2073.3 L487.9,2074.7 L488.9,2076.0 L489.9,2078.8 L490.9,2081.5 L491.9,2081.1 L492.9,2080.7 L493.9,2078.5 L494.9,2076.3 L495.9,2075.3 L496.9,2074.3 L497.9,2076.2 L498.9,2078.1 L499.9,2078.7 L500.9,2079.2 L501.9,2077.8 L502.9,2076.4 L503.9,2077.2 L504.9,2078.1 L505.9,2080.5 L506.9,2082.9 L507.9,2081.8 L508.9,2080.7 L509.9,2080.0 L510.9,2079.3 L511.9,2076.9 L512.9,2074.5 L513.9,2076.0 L514.9,2077.4 L515.9,2075.6 L516.9,2073.8 L517.9,2077.8 L518.9,2081.8 L519.9,2080.4 L520.9,2079.0 L521.9,2079.0 L522.9,2078.8 L523.9,2078.4 L524.9,2076.3 L525.9,2067.4 L526.9,2055.0 L527.9,2051.4 L528.0,2051.6 L528.9,2059.1 L529.9,2068.8 L530.9,2075.6 L531.9,2075.6 L532.9,2073.5 L533.9,2077.0 L534.9,2080.1 L535.9,2080.0 L536.9,2079.3 L537.9,2076.7 L538.9,2068.5 L539.9,2046.0 L540.9,2016.4 L541.9,2003.1 L542.0,2003.2 L542.9,2017.6 L543.9,2043.3 L544.9,2063.8 L545.9,2072.0 L546.9,2073.8 L547.9,2074.0 L548.9,2073.5 L549.9,2076.4 L550.9,2079.1 L551.9,2076.8 L552.9,2074.0 L553.9,2074.3 L554.9,2072.7 L555.9,2069.4 L556.9,2068.0 L557.0,2067.8 L557.9,2068.7 L558.9,2072.1 L559.9,2075.4 L560.9,2076.9 L561.9,2078.0 L562.9,2078.6 L563.9,2077.5 L564.9,2076.3 L565.9,2075.9 L566.9,2075.5 L567.9,2077.7 L568.9,2080.0 L569.9,2081.6 L570.9,2083.2 L571.9,2084.4 L572.9,2085.5 L573.9,2081.8 L574.9,2078.1 L575.9,2078.2 L576.9,2078.4 L577.9,2080.8 L578.9,2083.1 L579.9,2081.3 L580.9,2079.4 L581.9,2081.2 L582.9,2083.0 L583.9,2084.2 L584.9,2085.3 L585.9,2085.2 L586.9,2085.1 L587.9,2084.0 L588.9,2082.9 L589.9,2083.2 L590.9,2083.4 L591.9,2084.0 L592.9,2084.6 L593.9,2081.5 L594.9,2078.5 L595.9,2078.7 L596.9,2078.8 L597.9,2080.5 L598.9,2082.2 L599.9,2081.2 L600.9,2080.1 L601.9,2080.8 L602.7,2081.2 L602.9,2081.2 L603.9,2080.9 L604.9,2078.3 L605.9,2068.5 L606.9,2050.0 L607.9,2024.1 L608.9,2002.8 L609.3,2000.7 L609.9,2006.0 L610.9,2029.5 L611.9,2054.7 L612.9,2071.5 L613.9,2075.7 L614.9,2075.4 L615.9,2075.8 L616.9,2075.6 L617.9,2079.2 L618.9,2082.6 L619.9,2083.7 L620.9,2084.8 L621.9,2084.3 L622.9,2083.8 L623.9,2082.9 L624.9,2082.0 L625.9,2081.0 L626.9,2080.1 L627.9,2083.1 L628.9,2086.0 L629.9,2085.5 L630.9,2084.9 L631.9,2086.0 L632.9,2087.1 L633.9,2086.0 L634.9,2084.8 L635.9,2085.5 L636.9,2086.1 L637.9,2083.6 L638.9,2081.0 L639.9,2082.6 L640.9,2084.2 L641.9,2081.8 L642.9,2079.4 L643.9,2079.9 L644.9,2080.3 L645.9,2080.7 L646.9,2081.0 L647.9,2080.3 L648.9,2077.7 L649.9,2073.5 L650.9,2066.9 L651.9,2060.2 L652.0,2060.0 L652.9,2063.0 L653.9,2069.4 L654.9,2074.1 L655.9,2080.1 L656.9,2084.0 L657.9,2084.9 L658.9,2085.5 L659.9,2086.1 L660.9,2086.6 L661.9,2087.2 L662.9,2087.8 L663.9,2087.3 L664.9,2086.8 L665.9,2085.7 L666.9,2084.5 L667.9,2084.9 L668.9,2085.4 L669.9,2082.9 L670.9,2080.5 L671.9,2081.4 L672.9,2082.3 L673.9,2082.6 L674.9,2083.0 L675.9,2084.4 L676.9,2085.9 L677.9,2083.4 L678.9,2080.9 L679.9,2081.0 L680.9,2081.2 L681.9,2081.4 L682.9,2081.6 L683.9,2081.5 L684.9,2081.4 L685.9,2082.5 L686.9,2083.7 L687.9,2086.1 L688.9,2088.5 L689.9,2086.2 L690.9,2084.0 L691.9,2082.5 L692.9,2081.0 L693.9,2080.6 L694.9,2080.1 L695.9,2083.0 L696.9,2085.9 L697.9,2085.1 L698.9,2084.3 L699.9,2086.5 L700.9,2088.8 L701.9,2086.3 L702.9,2083.8 L703.9,2086.2 L704.9,2088.7 L705.9,2086.5 L706.9,2084.4 L707.9,2086.7 L708.9,2089.0 L709.9,2089.3 L710.9,2089.6 L711.9,2087.5 L712.9,2085.4 L713.9,2083.8 L714.9,2082.1 L715.9,2084.0 L716.9,2085.8 L717.9,2086.1 L718.9,2086.3 L719.9,2086.6 L720.9,2086.9 L721.9,2085.0 L722.9,2083.0 L723.9,2085.5 L724.9,2087.9 L725.9,2086.4 L726.9,2085.0 L727.9,2084.6 L728.9,2084.2 L729.9,2083.2 L730.9,2082.1 L731.9,2081.7 L732.9,2081.3 L733.9,2083.0 L734.9,2084.6 L735.9,2083.7 L736.9,2082.8 L737.9,2083.3 L738.9,2083.9 L739.9,2085.7 L740.9,2087.6 L741.9,2088.0 L742.9,2088.5 L743.9,2087.3 L744.9,2086.2 L745.9,2085.1 L746.9,2084.1 L747.9,2085.5 L748.9,2086.9 L749.9,2086.2 L750.9,2085.5 L751.9,2087.8 L752.9,2090.0 L753.9,2089.6 L754.9,2089.3 L755.9,2089.6 L756.9,2089.9 L757.9,2087.6 L758.9,2085.4 L759.9,2086.9 L760.9,2088.4 L761.9,2087.4 L762.9,2086.4 L763.9,2085.5 L764.9,2084.7 L765.9,2084.0 L766.9,2083.3 L767.9,2084.8 L768.9,2086.2 L769.9,2087.0 L770.9,2087.9 L771.9,2086.5 L772.9,2085.1 L773.9,2084.3 L774.9,2083.4 L775.9,2085.1 L776.9,2086.9 L777.9,2087.0 L778.9,2087.1 L779.9,2087.9 L780.9,2088.7 L781.9,2089.5 L782.9,2090.2 L783.9,2087.6 L784.9,2085.1 L785.9,2087.7 L786.9,2090.3 L787.9,2088.2 L788.9,2086.1 L789.9,2087.5 L790.9,2088.8 L791.9,2087.1 L792.9,2085.4 L793.9,2087.1 L794.9,2088.8 L795.9,2087.5 L796.9,2086.3 L797.9,2086.7 L798.9,2087.1 L799.9,2088.5 L800.9,2089.9 L801.9,2089.6 L802.9,2089.4 L803.9,2089.2 L804.9,2088.9 L805.0,2089.0 L805.9,2089.2 L806.9,2089.3 L807.9,2086.6 L808.9,2082.6 L809.9,2075.4 L810.9,2060.8 L811.9,2041.9 L812.9,2027.1 L813.2,2025.7 L813.9,2031.5 L814.9,2051.7 L815.9,2069.1 L816.9,2078.2 L817.9,2084.8 L818.9,2088.8 L819.9,2089.7 L820.9,2090.3 L821.9,2090.2 L822.9,2090.1 L823.9,2089.0 L824.9,2087.8 L825.9,2088.9 L826.9,2090.0 L827.9,2088.8 L828.9,2087.6 L829.9,2087.0 L830.9,2086.4 L831.9,2088.2 L832.9,2090.1 L833.9,2089.7 L834.9,2089.3 L835.9,2089.8 L836.9,2090.3 L837.9,2087.9 L838.9,2085.6 L839.9,2086.8 L840.9,2088.0 L841.9,2087.9 L842.9,2087.8 L843.9,2086.4 L844.9,2085.0 L845.9,2087.7 L846.9,2090.4 L847.9,2089.5 L848.9,2088.6 L849.9,2088.6 L850.9,2088.5 L851.9,2088.9 L852.9,2089.2 L853.9,2089.5 L854.9,2089.8 L855.9,2088.1 L856.9,2086.3 L857.9,2086.3 L858.9,2086.2 L859.9,2085.9 L860.9,2085.5 L861.9,2087.4 L862.9,2089.3 L863.9,2088.0 L864.9,2086.7 L865.9,2088.4 L866.9,2090.0 L867.9,2090.7 L868.9,2091.4 L869.9,2091.4 L870.9,2091.4 L871.9,2092.3 L872.9,2093.1 L873.9,2091.7 L874.9,2090.2 L875.9,2090.0 L876.9,2089.8 L877.9,2089.9 L878.9,2090.0 L879.9,2090.2 L880.9,2090.3 L881.9,2090.0 L882.9,2089.8 L883.9,2088.8 L884.9,2087.9 L885.9,2089.3 L886.9,2090.7 L887.9,2091.2 L888.9,2091.7 L889.9,2090.3 L890.9,2089.0 L891.9,2087.9 L892.9,2086.7 L893.9,2088.2 L894.9,2089.7 L895.9,2088.9 L896.9,2088.0 L897.9,2088.1 L898.9,2088.2 L899.9,2090.2 L900.9,2092.2 L901.9,2092.2 L902.9,2092.3 L903.9,2092.9 L904.9,2093.5 L905.9,2092.4 L906.9,2091.2 L907.9,2091.5 L908.9,2091.7 L909.9,2090.1 L910.9,2088.6 L911.9,2089.5 L912.9,2090.5 L913.9,2090.5 L914.9,2090.4 L915.9,2089.2 L916.9,2088.0 L917.9,2089.2 L918.9,2090.4 L919.9,2090.7 L920.9,2090.9 L921.9,2089.3 L922.9,2087.7 L923.9,2089.3 L924.9,2090.9 L925.9,2089.4 L926.9,2087.7 L927.9,2088.9 L928.9,2089.5 L929.9,2084.6 L930.9,2075.8 L931.9,2065.6 L932.9,2053.8 L933.8,2047.8 L933.9,2047.9 L934.9,2055.8 L935.9,2067.9 L936.9,2077.2 L937.9,2082.2 L938.9,2083.6 L939.9,2085.0 L940.9,2084.9 L941.9,2081.0 L942.9,2072.0 L943.9,2056.5 L944.9,2036.9 L945.9,2024.6 L946.0,2024.5 L946.9,2032.9 L947.9,2051.6 L948.9,2067.8 L949.9,2078.8 L950.9,2084.1 L951.9,2087.0 L952.9,2088.8 L953.9,2090.0 L954.9,2091.0 L955.9,2089.9 L956.9,2088.8 L957.9,2089.7 L958.9,2090.5 L959.9,2089.6 L960.9,2088.7 L961.9,2090.4 L962.9,2092.1 L963.9,2092.1 L964.9,2092.0 L965.9,2091.0 L966.9,2089.9 L967.9,2089.2 L968.9,2088.4 L969.9,2091.0 L970.9,2093.5 L971.9,2091.3 L972.9,2088.8 L973.9,2088.7 L974.9,2087.0 L975.9,2080.8 L976.9,2073.4 L977.8,2070.7 L977.9,2070.8 L978.9,2075.0 L979.9,2081.1 L980.9,2085.4 L981.9,2089.7 L982.9,2092.8 L983.9,2092.4 L984.9,2091.9 L985.9,2090.5 L986.9,2089.2 L987.9,2088.7 L988.9,2088.3 L989.9,2090.1 L990.9,2091.8 L991.9,2091.1 L992.9,2090.3 L993.9,2091.9 L994.9,2093.5 L995.9,2093.3 L996.9,2093.1 L997.9,2093.3 L998.9,2093.4 L999.9,2091.9 L1000.9,2090.4 L1001.9,2090.3 L1002.9,2090.1 L1003.9,2091.9 L1004.9,2093.7 L1005.9,2094.8 L1006.9,2095.8 L1007.9,2094.4 L1008.9,2093.0 L1009.9,2092.7 L1010.9,2092.4 L1011.9,2092.4 L1012.9,2092.5 L1013.9,2091.3 L1014.9,2090.1 L1015.9,2090.1 L1016.9,2090.1 L1017.9,2089.9 L1018.9,2089.7 L1019.9,2089.7 L1020.9,2089.7 L1021.9,2090.5 L1022.9,2091.3 L1023.9,2090.9 L1024.9,2090.5 L1025.9,2092.9 L1026.9,2095.3 L1027.9,2095.2 L1028.9,2095.2 L1029.9,2095.8 L1030.9,2096.3 L1031.9,2093.6 L1032.9,2090.8 L1033.9,2092.7 L1034.9,2094.6 L1035.9,2094.8 L1036.9,2095.1 L1037.9,2095.0 L1038.9,2094.9 L1039.9,2092.9 L1040.9,2090.9 L1041.9,2093.3 L1042.9,2095.7 L1043.9,2096.2 L1044.9,2096.8 L1045.9,2095.8 L1046.9,2094.9 L1047.9,2094.9 L1048.9,2095.0 L1049.9,2093.5 L1050.9,2092.0 L1051.9,2093.6 L1052.9,2095.3 L1053.9,2093.4 L1054.9,2091.5 L1055.9,2092.7 L1056.9,2093.9 L1057.9,2095.0 L1058.9,2096.0 L1059.9,2094.6 L1060.9,2093.1 L1061.9,2093.2 L1062.9,2093.3 L1063.9,2094.0 L1064.9,2094.6 L1065.9,2092.8 L1066.9,2091.0 L1067.9,2091.2 L1068.9,2091.4 L1069.9,2093.2 L1070.9,2095.0 L1071.9,2095.8 L1072.9,2096.7 L1073.9,2094.4 L1074.9,2092.2 L1075.9,2091.8 L1076.9,2091.4 L1077.9,2091.0 L1078.9,2090.6 L1079.9,2092.6 L1080.9,2094.7 L1081.9,2095.7 L1082.9,2096.8 L1083.9,2094.2 L1084.9,2091.7 L1085.9,2093.3 L1086.9,2095.0 L1087.9,2094.7 L1088.9,2094.4 L1089.9,2093.4 L1090.9,2092.4 L1091.9,2093.5 L1092.9,2094.6 L1093.9,2094.3 L1094.9,2093.9 L1095.9,2093.0 L1096.9,2092.2 L1097.9,2092.1 L1098.9,2091.9 L1099.9,2092.0 L1100.9,2092.1 L1101.9,2091.6 L1102.9,2091.1 L1103.9,2091.8 L1104.9,2092.5 L1105.9,2093.5 L1106.9,2094.4 L1107.9,2092.7 L1108.9,2090.8 L1109.9,2090.8 L1110.9,2089.8 L1111.9,2088.4 L1112.9,2086.8 L1113.7,2084.9 L1113.9,2084.8 L1114.9,2085.7 L1115.9,2087.6 L1116.9,2089.0 L1117.9,2092.1 L1118.9,2094.4 L1119.9,2095.2 L1120.9,2095.8 L1121.9,2093.9 L1122.9,2092.0 L1123.9,2093.6 L1124.9,2095.2 L1125.9,2095.7 L1126.9,2096.2 L1127.9,2095.8 L1128.9,2095.4 L1129.9,2095.9 L1130.9,2096.2 L1131.9,2095.2 L1132.9,2093.5 L1133.9,2091.4 L1134.9,2089.3 L1135.6,2087.7 L1135.9,2087.3 L1136.9,2087.2 L1137.9,2091.0 L1138.9,2094.3 L1139.9,2095.4 L1140.9,2096.0 L1141.9,2094.8 L1142.9,2093.6 L1143.9,2093.9 L1144.9,2094.1 L1145.9,2094.7 L1146.9,2095.3 L1147.9,2094.0 L1148.9,2092.7 L1149.9,2092.8 L1150.9,2092.9 L1151.9,2092.6 L1152.9,2092.3 L1153.9,2094.1 L1154.9,2095.8 L1155.9,2094.6 L1156.9,2093.5 L1157.9,2092.7 L1158.9,2091.9 L1159.9,2093.9 L1160.9,2095.9 L1161.9,2095.9 L1162.9,2095.9 L1163.9,2094.4 L1164.9,2093.0 L1165.9,2092.2 L1166.9,2091.4 L1167.9,2092.3 L1168.9,2093.3 L1169.9,2094.7 L1170.9,2096.1 L1171.9,2094.5 L1172.9,2092.9 L1173.9,2093.4 L1174.9,2093.9 L1175.9,2092.8 L1176.9,2091.6 L1177.9,2092.3 L1178.9,2093.0 L1179.9,2093.7 L1180.9,2094.4 L1181.9,2095.0 L1182.9,2095.7 L1183.9,2094.4 L1184.9,2093.1 L1185.9,2093.1 L1186.9,2093.2 L1187.9,2093.3 L1188.9,2093.5 L1189.9,2092.6 L1190.9,2091.7 L1191.9,2093.5 L1192.9,2095.2 L1193.9,2095.6 L1194.9,2095.9 L1195.9,2094.3 L1196.9,2092.8 L1197.9,2093.2 L1198.9,2093.6 L1199.9,2095.0 L1200.9,2096.3 L1201.9,2096.4 L1202.9,2096.6 L1203.9,2096.2 L1204.9,2095.8 L1205.9,2094.5 L1206.9,2093.2 L1207.9,2093.0 L1208.9,2092.9 L1209.9,2093.6 L1210.9,2094.3 L1211.9,2094.9 L1212.9,2095.5 L1213.9,2095.1 L1214.9,2094.7 L1215.9,2095.4 L1216.9,2096.0 L1217.9,2096.4 L1218.9,2096.8 L1219.9,2094.7 L1220.9,2092.6 L1221.9,2094.3 L1222.9,2096.0 L1223.9,2095.1 L1224.9,2094.1 L1225.9,2093.4 L1226.9,2091.3 L1227.9,2086.9 L1228.9,2080.7 L1229.9,2077.3 L1230.0,2077.2 L1230.9,2080.3 L1231.9,2086.0 L1232.9,2090.5 L1233.9,2092.9 L1234.9,2093.8 L1235.9,2094.6 L1236.9,2095.1 L1237.9,2094.4 L1238.9,2093.7 L1239.9,2093.5 L1240.9,2093.4 L1241.9,2092.8 L1242.9,2092.1 L1243.9,2094.1 L1244.9,2096.2 L1245.9,2095.7 L1246.9,2095.2 L1247.9,2095.6 L1248.9,2095.9 L1249.9,2095.7 L1250.9,2095.4 L1251.9,2095.1 L1252.9,2094.2 L1253.9,2091.0 L1254.9,2087.1 L1255.9,2087.2 L1255.9,2087.2 L1256.9,2090.1 L1257.9,2091.4 L1258.9,2092.1 L1259.9,2094.3 L1260.9,2095.9 L1261.9,2096.1 L1262.9,2096.2 L1263.9,2096.5 L1264.9,2096.7 L1265.9,2096.6 L1266.9,2096.1 L1267.9,2093.7 L1268.9,2089.7 L1269.9,2085.9 L1270.8,2084.3 L1270.9,2084.4 L1271.9,2085.6 L1272.9,2088.2 L1273.9,2091.8 L1274.9,2093.8 L1275.9,2095.0 L1276.9,2095.8 L1277.9,2095.3 L1278.9,2094.7 L1279.9,2094.2 L1280.9,2093.7 L1281.9,2094.5 L1282.9,2095.3 L1283.9,2095.1 L1284.9,2095.0 L1285.9,2094.2 L1286.9,2093.5 L1287.9,2093.6 L1288.9,2093.7 L1289.9,2093.8" stroke="#008080" stroke-width="10.5"/>
<path d="M206.9,2133.7 L207.9,2132.9 L208.9,2132.0 L209.9,2132.2 L210.9,2132.3 L211.9,2133.8 L212.9,2135.3 L213.9,2136.8 L214.9,2138.4 L215.9,2135.6 L216.9,2132.8 L217.9,2131.3 L218.9,2129.7 L219.9,2130.2 L220.9,2130.8 L221.9,2129.2 L222.9,2127.7 L223.9,2130.6 L224.9,2133.6 L225.9,2136.2 L226.9,2138.8 L227.9,2135.0 L228.9,2131.2 L229.9,2133.6 L230.9,2135.9 L231.9,2133.4 L232.9,2130.9 L233.9,2134.4 L234.9,2138.0 L235.9,2136.7 L236.9,2135.4 L237.9,2134.2 L238.9,2133.1 L239.9,2130.9 L240.9,2128.8 L241.9,2129.1 L242.9,2129.4 L243.9,2133.7 L244.9,2137.9 L245.9,2134.9 L246.9,2131.8 L247.9,2133.6 L248.9,2135.4 L249.9,2135.6 L250.9,2135.7 L251.9,2135.1 L252.9,2134.6 L253.9,2136.0 L254.9,2137.4 L255.9,2134.5 L256.9,2131.7 L257.9,2134.1 L258.9,2136.5 L259.9,2133.8 L260.9,2131.0 L261.9,2131.3 L262.9,2131.7 L263.9,2134.3 L264.9,2136.9 L265.9,2134.9 L266.9,2132.8 L267.9,2132.1 L268.9,2131.5 L269.9,2133.4 L270.9,2135.3 L271.9,2136.5 L272.9,2137.7 L273.9,2134.5 L274.9,2131.4 L275.9,2134.6 L276.9,2137.7 L277.9,2137.9 L278.9,2138.1 L279.9,2135.1 L280.9,2132.1 L281.9,2134.6 L282.9,2137.1 L283.9,2134.6 L284.9,2132.0 L285.9,2134.3 L286.9,2136.2 L287.9,2134.8 L288.9,2128.9 L289.9,2114.9 L290.9,2103.9 L291.0,2103.7 L291.9,2110.9 L292.9,2124.5 L293.9,2135.1 L294.9,2140.5 L295.9,2138.8 L296.9,2136.5 L297.9,2137.8 L298.9,2139.0 L299.9,2139.6 L300.9,2140.2 L301.9,2138.0 L302.9,2135.9 L303.9,2140.2 L304.9,2144.4 L305.9,2141.6 L306.9,2138.8 L307.9,2141.6 L308.9,2144.4 L309.9,2143.3 L310.9,2142.3 L311.9,2139.8 L312.9,2137.3 L313.9,2138.5 L314.9,2139.7 L315.9,2141.5 L316.9,2143.4 L317.9,2143.2 L318.9,2143.1 L319.9,2145.6 L320.9,2147.9 L321.9,2143.8 L322.9,2139.7 L323.9,2143.2 L324.9,2146.6 L325.9,2147.6 L326.9,2148.5 L327.9,2145.0 L328.9,2141.6 L329.9,2142.8 L330.9,2144.0 L331.9,2141.9 L332.9,2139.8 L333.9,2142.2 L334.9,2144.6 L335.9,2145.7 L336.9,2146.9 L337.9,2145.0 L338.9,2143.2 L339.9,2145.5 L340.9,2147.8 L341.9,2145.5 L342.9,2143.1 L343.9,2141.8 L344.9,2140.4 L345.9,2142.4 L346.9,2144.4 L347.9,2146.2 L348.9,2148.0 L349.9,2146.1 L350.9,2144.3 L351.9,2143.5 L352.9,2142.8 L353.9,2144.9 L354.9,2147.1 L355.9,2147.7 L356.9,2148.2 L357.9,2145.6 L358.9,2143.0 L359.9,2142.7 L360.9,2142.4 L361.9,2144.8 L362.9,2147.1 L363.9,2148.5 L364.9,2149.9 L365.9,2146.9 L366.9,2144.0 L367.9,2146.0 L368.9,2148.0 L369.9,2148.5 L370.9,2149.1 L371.9,2146.1 L372.9,2143.1 L373.9,2145.8 L374.9,2148.6 L375.9,2148.2 L376.9,2147.8 L377.9,2145.8 L378.9,2143.9 L379.9,2143.7 L380.9,2143.4 L381.9,2144.0 L382.9,2144.6 L383.9,2147.0 L384.9,2149.5 L385.9,2147.1 L386.9,2144.8 L387.9,2146.6 L388.9,2148.3 L389.9,2150.1 L390.9,2151.9 L391.9,2150.8 L392.9,2149.6 L393.9,2150.1 L394.9,2150.5 L395.9,2147.7 L396.9,2144.9 L397.9,2148.6 L398.9,2152.3 L399.9,2153.0 L400.9,2153.7 L401.9,2153.4 L402.9,2153.1 L403.9,2149.9 L404.9,2146.7 L405.9,2147.9 L406.9,2149.1 L407.9,2150.2 L408.9,2151.2 L409.9,2148.4 L410.9,2145.5 L411.9,2144.9 L412.9,2144.4 L413.9,2148.1 L414.9,2151.8 L415.9,2150.9 L416.9,2150.0 L417.9,2151.6 L418.9,2153.2 L419.9,2151.1 L420.9,2148.9 L421.9,2151.1 L422.9,2153.3 L423.9,2152.6 L424.9,2151.9 L425.9,2149.3 L426.9,2146.6 L427.9,2146.3 L428.9,2146.0 L429.9,2149.4 L430.9,2152.8 L431.9,2149.4 L432.9,2146.0 L433.9,2149.5 L434.9,2153.1 L435.9,2152.3 L436.9,2151.4 L437.9,2152.7 L438.9,2154.0 L439.9,2150.6 L440.9,2147.2 L441.9,2145.9 L442.9,2144.5 L443.9,2148.6 L444.9,2152.6 L445.9,2151.5 L446.9,2150.4 L447.9,2149.0 L448.9,2147.6 L449.9,2148.9 L450.9,2150.2 L451.9,2148.3 L452.9,2146.4 L453.9,2148.7 L454.9,2151.1 L455.9,2151.3 L456.9,2151.5 L457.9,2151.7 L458.9,2151.9 L459.9,2150.7 L460.9,2149.4 L461.9,2149.4 L462.9,2149.3 L463.9,2148.6 L464.9,2147.8 L465.9,2146.9 L466.9,2145.9 L467.9,2147.9 L468.9,2150.0 L469.9,2149.6 L470.9,2149.1 L471.9,2149.4 L472.9,2149.6 L473.9,2148.4 L474.9,2147.3 L475.9,2150.2 L476.9,2153.1 L477.9,2152.8 L478.9,2152.6 L479.9,2150.3 L480.9,2148.0 L481.9,2149.3 L482.9,2150.6 L483.9,2150.8 L484.9,2151.0 L485.9,2153.1 L486.9,2155.1 L487.9,2153.3 L488.9,2151.5 L489.9,2150.9 L490.9,2150.4 L491.9,2151.4 L492.9,2152.4 L493.9,2154.1 L494.9,2155.9 L495.9,2152.4 L496.9,2148.9 L497.9,2152.6 L498.9,2156.4 L499.9,2153.1 L500.9,2149.8 L501.9,2149.0 L502.9,2148.1 L503.9,2149.1 L504.9,2150.1 L505.9,2152.3 L506.9,2154.6 L507.9,2156.0 L508.9,2157.4 L509.9,2155.5 L510.9,2153.6 L511.9,2152.0 L512.9,2150.4 L513.9,2151.3 L514.9,2152.2 L515.9,2152.1 L516.9,2152.0 L517.9,2153.0 L518.9,2154.0 L519.9,2152.3 L520.9,2150.6 L521.9,2153.1 L522.9,2155.7 L523.9,2156.8 L524.9,2158.0 L525.9,2155.4 L526.9,2152.9 L527.9,2153.3 L528.9,2153.7 L529.9,2156.2 L530.9,2158.8 L531.9,2155.6 L532.9,2152.5 L533.9,2150.6 L534.9,2148.7 L535.9,2150.8 L536.9,2152.3 L537.9,2148.2 L538.9,2136.1 L539.9,2109.8 L540.9,2077.3 L541.5,2068.6 L541.9,2072.1 L542.9,2101.2 L543.9,2131.6 L544.9,2147.5 L545.9,2154.1 L546.9,2157.3 L547.9,2157.9 L548.9,2158.3 L549.9,2156.6 L550.9,2154.9 L551.9,2154.0 L552.9,2153.0 L553.9,2154.2 L554.9,2155.5 L555.9,2157.9 L556.9,2160.3 L557.9,2159.1 L558.9,2158.0 L559.9,2157.9 L560.9,2157.8 L561.9,2157.9 L562.9,2158.1 L563.9,2159.5 L564.9,2160.8 L565.9,2161.2 L566.9,2161.0 L567.9,2156.1 L568.9,2150.2 L569.9,2149.2 L570.7,2149.7 L570.9,2150.1 L571.9,2152.2 L572.9,2155.3 L573.9,2156.6 L574.9,2157.0 L575.9,2158.4 L576.9,2159.6 L577.9,2157.3 L578.9,2155.0 L579.9,2156.2 L580.9,2157.4 L581.9,2156.2 L582.9,2154.9 L583.9,2154.3 L584.9,2153.7 L585.9,2156.2 L586.9,2158.8 L587.9,2160.9 L588.9,2163.0 L589.9,2161.3 L590.9,2159.5 L591.9,2159.9 L592.9,2160.3 L593.9,2160.0 L594.9,2159.7 L595.9,2158.0 L596.9,2156.1 L597.9,2155.5 L598.9,2153.9 L599.9,2151.8 L600.9,2147.4 L601.9,2141.2 L602.7,2139.0 L602.9,2139.1 L603.9,2141.1 L604.9,2145.1 L605.9,2151.2 L606.9,2154.7 L607.9,2154.8 L608.9,2151.5 L609.9,2142.2 L610.9,2125.3 L611.9,2104.7 L612.5,2099.1 L612.9,2100.2 L613.9,2120.0 L614.9,2141.9 L615.9,2152.8 L616.9,2157.1 L617.9,2159.9 L618.9,2161.6 L619.9,2162.2 L620.9,2162.6 L621.9,2160.9 L622.9,2159.1 L623.9,2158.5 L624.9,2157.9 L625.9,2158.3 L626.9,2158.7 L627.9,2160.9 L628.9,2163.1 L629.9,2161.3 L630.9,2159.6 L631.9,2162.4 L632.9,2165.2 L633.9,2164.6 L634.9,2164.0 L635.9,2163.8 L636.9,2163.6 L637.9,2162.6 L638.9,2161.6 L639.9,2161.8 L640.9,2162.0 L641.9,2163.4 L642.9,2164.7 L643.9,2163.8 L644.9,2162.9 L645.9,2164.4 L646.9,2165.8 L647.9,2166.7 L648.9,2167.4 L649.9,2165.7 L650.9,2163.8 L651.9,2163.9 L652.9,2163.2 L653.9,2158.6 L654.7,2155.7 L654.9,2155.2 L655.9,2156.1 L656.9,2157.5 L657.9,2159.8 L658.9,2161.3 L659.9,2164.1 L660.9,2166.7 L661.9,2163.8 L662.9,2160.8 L663.9,2161.2 L664.9,2161.5 L665.9,2164.2 L666.9,2166.8 L667.9,2164.5 L668.9,2162.2 L669.9,2161.5 L670.9,2160.7 L671.9,2161.3 L672.9,2161.8 L673.9,2162.2 L674.9,2162.7 L675.9,2163.6 L676.9,2164.6 L677.9,2164.9 L678.9,2165.3 L679.9,2164.6 L680.9,2164.0 L681.9,2166.4 L682.9,2168.8 L683.9,2168.3 L684.9,2167.8 L685.9,2168.1 L686.9,2168.4 L687.9,2168.4 L688.9,2168.3 L689.9,2167.4 L690.9,2166.6 L691.9,2167.4 L692.9,2168.1 L693.9,2168.4 L694.9,2168.7 L695.9,2169.4 L696.9,2170.1 L697.9,2169.8 L698.9,2169.5 L699.9,2169.2 L700.9,2168.9 L701.9,2169.9 L702.9,2170.9 L703.9,2169.4 L704.9,2167.9 L705.9,2166.1 L706.9,2164.2 L707.9,2164.3 L708.9,2164.3 L709.9,2167.3 L710.9,2170.3 L711.9,2167.7 L712.9,2165.1 L713.9,2167.2 L714.9,2169.2 L715.9,2167.8 L716.9,2166.5 L717.9,2166.6 L718.9,2166.7 L719.9,2165.1 L720.9,2163.6 L721.9,2165.4 L722.9,2167.2 L723.9,2168.8 L724.9,2170.4 L725.9,2170.4 L726.9,2170.4 L727.9,2167.5 L728.9,2164.5 L729.9,2166.4 L730.9,2168.3 L731.9,2169.4 L732.9,2170.5 L733.9,2168.7 L734.9,2166.9 L735.9,2165.9 L736.9,2164.9 L737.9,2164.8 L738.9,2164.8 L739.9,2166.5 L740.9,2168.2 L741.9,2167.1 L742.9,2166.0 L743.9,2166.5 L744.9,2166.9 L745.9,2169.3 L746.9,2171.8 L747.9,2170.8 L748.9,2169.9 L749.9,2169.4 L750.9,2169.0 L751.9,2167.8 L752.9,2166.7 L753.9,2167.9 L754.9,2169.2 L755.9,2170.0 L756.9,2170.9 L757.9,2169.7 L758.9,2168.6 L759.9,2170.0 L760.9,2171.4 L761.9,2168.6 L762.9,2165.7 L763.9,2165.7 L764.9,2165.7 L765.9,2167.5 L766.9,2169.4 L767.9,2167.8 L768.9,2166.3 L769.9,2168.9 L770.9,2171.5 L771.9,2169.8 L772.9,2168.1 L773.9,2170.0 L774.9,2171.8 L775.9,2168.9 L776.9,2166.0 L777.9,2166.1 L778.9,2166.3 L779.9,2168.4 L780.9,2170.5 L781.9,2169.8 L782.9,2169.0 L783.9,2169.7 L784.9,2170.4 L785.9,2168.8 L786.9,2167.2 L787.9,2168.6 L788.9,2169.9 L789.9,2171.3 L790.9,2172.7 L791.9,2170.1 L792.9,2167.5 L793.9,2169.7 L794.9,2172.0 L795.9,2172.9 L796.9,2173.8 L797.9,2173.1 L798.9,2172.3 L799.9,2172.4 L800.9,2172.4 L801.9,2171.3 L802.9,2170.2 L803.9,2171.3 L804.9,2172.4 L805.9,2171.9 L806.9,2171.4 L807.9,2169.5 L808.9,2167.4 L809.9,2167.7 L810.9,2166.0 L811.9,2159.0 L812.9,2149.5 L813.9,2145.0 L814.0,2145.0 L814.9,2150.0 L815.9,2158.5 L816.9,2165.2 L817.9,2169.6 L818.9,2171.9 L819.9,2169.5 L820.9,2166.9 L821.9,2169.0 L822.9,2171.1 L823.9,2169.4 L824.9,2167.7 L825.9,2166.9 L826.9,2166.1 L827.9,2168.1 L828.9,2170.0 L829.9,2169.9 L830.9,2169.8 L831.9,2168.9 L832.9,2167.9 L833.9,2169.4 L834.9,2170.9 L835.9,2172.3 L836.9,2173.8 L837.9,2173.0 L838.9,2172.2 L839.9,2170.3 L840.9,2168.4 L841.9,2169.9 L842.9,2171.4 L843.9,2173.0 L844.9,2174.5 L845.9,2171.8 L846.9,2169.0 L847.9,2168.0 L848.9,2167.1 L849.9,2167.9 L850.9,2168.7 L851.9,2168.8 L852.9,2169.0 L853.9,2168.3 L854.9,2167.6 L855.9,2168.6 L856.9,2169.6 L857.9,2169.4 L858.9,2169.3 L859.9,2168.8 L860.9,2168.3 L861.9,2170.3 L862.9,2172.3 L863.9,2171.5 L864.9,2170.8 L865.9,2171.5 L866.9,2172.2 L867.9,2170.3 L868.9,2168.4 L869.9,2170.6 L870.9,2172.8 L871.9,2173.0 L872.9,2173.2 L873.9,2173.6 L874.9,2174.0 L875.9,2174.5 L876.9,2175.0 L877.9,2175.4 L878.9,2175.8 L879.9,2173.5 L880.9,2171.3 L881.9,2173.3 L882.9,2175.3 L883.9,2175.8 L884.9,2176.3 L885.9,2174.3 L886.9,2172.4 L887.9,2174.0 L888.9,2175.6 L889.9,2174.3 L890.9,2173.0 L891.9,2172.6 L892.9,2172.1 L893.9,2171.0 L894.9,2169.9 L895.9,2170.1 L896.9,2170.3 L897.9,2172.2 L898.9,2174.1 L899.9,2175.2 L900.9,2176.4 L901.9,2173.2 L902.9,2170.1 L903.9,2170.5 L904.9,2170.8 L905.9,2172.4 L906.9,2174.0 L907.9,2172.6 L908.9,2171.3 L909.9,2171.8 L910.9,2172.4 L911.9,2173.5 L912.9,2174.7 L913.9,2173.9 L914.9,2173.1 L915.9,2174.2 L916.9,2175.4 L917.9,2173.4 L918.9,2171.4 L919.9,2172.0 L920.9,2172.7 L921.9,2174.4 L922.9,2176.1 L923.9,2173.9 L924.9,2171.7 L925.9,2173.0 L926.9,2174.3 L927.9,2173.9 L928.9,2173.0 L929.9,2170.7 L930.9,2166.6 L931.9,2161.6 L932.9,2158.6 L933.0,2158.4 L933.9,2159.5 L934.9,2163.1 L935.9,2168.8 L936.9,2172.8 L937.9,2174.5 L938.9,2175.5 L939.9,2175.0 L940.9,2174.0 L941.9,2171.4 L942.9,2166.1 L943.9,2156.3 L944.9,2148.0 L945.2,2147.7 L945.9,2150.6 L946.9,2159.0 L947.9,2166.3 L948.9,2170.4 L949.9,2171.6 L950.9,2171.8 L951.9,2173.4 L952.9,2174.8 L953.9,2173.6 L954.9,2172.4 L955.9,2172.7 L956.9,2173.0 L957.9,2173.5 L958.9,2173.9 L959.9,2172.6 L960.9,2171.4 L961.9,2171.6 L962.9,2171.9 L963.9,2171.3 L964.9,2170.6 L965.9,2172.5 L966.9,2174.4 L967.9,2175.7 L968.9,2177.0 L969.9,2176.6 L970.9,2176.2 L971.9,2176.8 L972.9,2177.4 L973.9,2176.0 L974.9,2173.6 L975.9,2168.9 L976.9,2163.3 L977.8,2161.9 L977.9,2162.0 L978.9,2165.6 L979.9,2170.3 L980.9,2173.6 L981.9,2174.9 L982.9,2175.3 L983.9,2176.4 L984.9,2177.5 L985.9,2177.9 L986.9,2178.2 L987.9,2178.2 L988.9,2178.3 L989.9,2178.0 L990.9,2177.8 L991.9,2177.9 L992.9,2178.1 L993.9,2176.2 L994.9,2174.4 L995.9,2175.9 L996.9,2177.4 L997.9,2176.5 L998.9,2175.7 L999.9,2175.1 L1000.9,2174.4 L1001.9,2175.1 L1002.9,2175.7 L1003.9,2174.2 L1004.9,2172.6 L1005.9,2172.7 L1006.9,2172.7 L1007.9,2175.1 L1008.9,2177.5 L1009.9,2176.8 L1010.9,2176.1 L1011.9,2174.4 L1012.9,2172.8 L1013.9,2175.1 L1014.9,2177.5 L1015.9,2177.9 L1016.9,2178.3 L1017.9,2176.3 L1018.9,2174.4 L1019.9,2174.7 L1020.9,2175.1 L1021.9,2176.6 L1022.9,2178.0 L1023.9,2175.9 L1024.9,2173.8 L1025.9,2174.2 L1026.9,2174.5 L1027.9,2175.9 L1028.9,2177.2 L1029.9,2177.3 L1030.9,2177.3 L1031.9,2178.2 L1032.9,2179.0 L1033.9,2179.3 L1034.9,2179.6 L1035.9,2177.7 L1036.9,2175.7 L1037.9,2176.0 L1038.9,2176.2 L1039.9,2175.4 L1040.9,2174.7 L1041.9,2175.8 L1042.9,2176.9 L1043.9,2176.6 L1044.9,2176.3 L1045.9,2175.8 L1046.9,2175.3 L1047.9,2175.1 L1048.9,2175.0 L1049.9,2174.3 L1050.9,2173.5 L1051.9,2173.6 L1052.9,2173.6 L1053.9,2175.1 L1054.9,2176.6 L1055.9,2178.0 L1056.9,2179.4 L1057.9,2178.4 L1058.9,2177.3 L1059.9,2176.5 L1060.9,2175.8 L1061.9,2175.1 L1062.9,2174.4 L1063.9,2174.2 L1064.9,2174.0 L1065.9,2175.7 L1066.9,2177.4 L1067.9,2178.7 L1068.9,2179.9 L1069.9,2178.4 L1070.9,2176.8 L1071.9,2178.2 L1072.9,2179.7 L1073.9,2178.0 L1074.9,2176.3 L1075.9,2177.3 L1076.9,2178.4 L1077.9,2178.4 L1078.9,2178.5 L1079.9,2178.9 L1080.9,2179.3 L1081.9,2178.1 L1082.9,2176.9 L1083.9,2175.8 L1084.9,2174.6 L1085.9,2175.3 L1086.9,2175.9 L1087.9,2176.1 L1088.9,2176.3 L1089.9,2176.4 L1090.9,2176.4 L1091.9,2178.0 L1092.9,2179.5 L1093.9,2178.8 L1094.9,2178.1 L1095.9,2177.1 L1096.9,2176.1 L1097.9,2177.2 L1098.9,2178.3 L1099.9,2177.4 L1100.9,2176.4 L1101.9,2176.1 L1102.9,2175.8 L1103.9,2177.2 L1104.9,2178.6 L1105.9,2178.5 L1106.9,2178.4 L1107.9,2178.7 L1108.9,2179.0 L1109.9,2177.8 L1110.9,2176.5 L1111.9,2176.9 L1112.9,2177.3 L1113.9,2177.1 L1114.9,2176.8 L1115.9,2178.2 L1116.9,2179.6 L1117.9,2178.0 L1118.9,2176.3 L1119.9,2178.1 L1120.9,2179.9 L1121.9,2177.9 L1122.9,2175.8 L1123.9,2176.2 L1124.9,2176.6 L1125.9,2177.6 L1126.9,2178.7 L1127.9,2178.5 L1128.9,2178.4 L1129.9,2177.9 L1130.9,2177.4 L1131.9,2178.3 L1132.9,2179.3 L1133.9,2178.3 L1134.9,2177.3 L1135.9,2177.4 L1136.9,2177.5 L1137.9,2178.5 L1138.9,2179.6 L1139.9,2178.7 L1140.9,2177.8 L1141.9,2177.3 L1142.9,2176.8 L1143.9,2178.1 L1144.9,2179.5 L1145.9,2178.2 L1146.9,2177.0 L1147.9,2178.5 L1148.9,2180.0 L1149.9,2178.9 L1150.9,2177.8 L1151.9,2178.3 L1152.9,2178.8 L1153.9,2177.6 L1154.9,2176.4 L1155.9,2176.1 L1156.9,2175.7 L1157.9,2176.4 L1158.9,2177.0 L1159.9,2178.3 L1160.9,2179.6 L1161.9,2178.8 L1162.9,2178.0 L1163.9,2176.8 L1164.9,2175.7 L1165.9,2175.3 L1166.9,2175.0 L1167.9,2176.3 L1168.9,2177.6 L1169.9,2177.9 L1170.9,2178.2 L1171.9,2177.4 L1172.9,2176.6 L1173.9,2177.6 L1174.9,2178.5 L1175.9,2178.1 L1176.9,2177.7 L1177.9,2177.8 L1178.9,2177.8 L1179.9,2177.5 L1180.9,2177.2 L1181.9,2177.9 L1182.9,2178.7 L1183.9,2179.2 L1184.9,2179.8 L1185.9,2179.1 L1186.9,2178.4 L1187.9,2177.6 L1188.9,2176.9 L1189.9,2177.4 L1190.9,2177.9 L1191.9,2177.1 L1192.9,2176.2 L1193.9,2175.9 L1194.9,2175.6 L1195.9,2176.9 L1196.9,2178.1 L1197.9,2178.7 L1198.9,2179.2 L1199.9,2178.1 L1200.9,2177.1 L1201.9,2176.4 L1202.9,2175.7 L1203.9,2177.5 L1204.9,2179.3 L1205.9,2179.3 L1206.9,2179.3 L1207.9,2178.3 L1208.9,2177.4 L1209.9,2177.2 L1210.9,2176.9 L1211.9,2177.3 L1212.9,2177.7 L1213.9,2178.6 L1214.9,2179.5 L1215.9,2179.8 L1216.9,2180.0 L1217.9,2178.4 L1218.9,2176.8 L1219.9,2177.9 L1220.9,2179.1 L1221.9,2178.5 L1222.9,2178.0 L1223.9,2177.2 L1224.9,2176.1 L1225.9,2174.9 L1226.9,2173.5 L1227.7,2173.8 L1227.9,2174.1 L1228.9,2176.0 L1229.9,2176.9 L1230.9,2177.4 L1231.9,2178.8 L1232.9,2180.0 L1233.9,2178.0 L1234.9,2176.0 L1235.9,2177.8 L1236.9,2179.6 L1237.9,2178.2 L1238.9,2176.8 L1239.9,2176.5 L1240.9,2176.1 L1241.9,2177.9 L1242.9,2179.7 L1243.9,2179.6 L1244.9,2179.6 L1245.9,2178.1 L1246.9,2176.7 L1247.9,2177.4 L1248.9,2178.0 L1249.9,2179.3 L1250.9,2180.5 L1251.9,2180.8 L1252.9,2181.1 L1253.9,2181.0 L1254.9,2181.0 L1255.9,2179.7 L1256.9,2178.3 L1257.9,2177.8 L1258.9,2177.2 L1259.9,2176.8 L1260.9,2176.3 L1261.9,2177.6 L1262.9,2178.9 L1263.9,2179.8 L1264.9,2180.8 L1265.9,2179.2 L1266.9,2177.7 L1267.9,2179.1 L1268.9,2180.5 L1269.9,2179.2 L1270.9,2178.0 L1271.9,2177.1 L1272.9,2176.2 L1273.9,2177.5 L1274.9,2178.8 L1275.9,2178.3 L1276.9,2177.8 L1277.9,2177.7 L1278.9,2177.5 L1279.9,2177.3 L1280.9,2177.0 L1281.9,2177.1 L1282.9,2177.1 L1283.9,2177.5 L1284.9,2178.0 L1285.9,2178.4 L1286.9,2178.9 L1287.9,2178.7 L1288.9,2178.5 L1289.9,2178.1" stroke="#000000" stroke-width="10.5"/>
</g>
<rect x="289.1" y="2344" width="9.8" height="18.7" fill="#FF0000"/>
<rect x="470" y="2361.3" width="11.0" height="1.4" fill="#FF0000"/>
<rect x="538" y="2190" width="11.1" height="172.7" fill="#FF0000"/>
<rect x="600.1" y="2340.1" width="10.9" height="22.6" fill="#FF0000"/>
<rect x="611" y="2341.9" width="6.9" height="20.8" fill="#FF0000"/>
<rect x="650.1" y="2355.1" width="10.7" height="7.6" fill="#FF0000"/>
<rect x="804" y="2343.8" width="8.0" height="18.9" fill="#FF0000"/>
<rect x="812" y="2350.4" width="7.6" height="12.3" fill="#FF0000"/>
<rect x="929.6" y="2350.3" width="10.6" height="12.4" fill="#FF0000"/>
<rect x="940.2" y="2350.3" width="10.5" height="12.4" fill="#FF0000"/>
<rect x="972.9" y="2355.3" width="11.3" height="7.4" fill="#FF0000"/>
<rect x="1225" y="2361.6" width="10.0" height="1.1" fill="#FF0000"/>
<g style="filter:grayscale(1)"><text transform="matrix(1.0158,0,0,1.0535,248.29,2449.60)" font-family="Liberation Serif" font-size="65" font-weight="normal" fill="#000">10</text></g>
<g style="filter:grayscale(1)"><text transform="matrix(1.0158,0,0,1.0535,392.09,2449.60)" font-family="Liberation Serif" font-size="65" font-weight="normal" fill="#000">20</text></g>
<g style="filter:grayscale(1)"><text transform="matrix(1.0158,0,0,1.0535,535.89,2449.60)" font-family="Liberation Serif" font-size="65" font-weight="normal" fill="#000">30</text></g>
<g style="filter:grayscale(1)"><text transform="matrix(1.0158,0,0,1.0535,679.69,2449.60)" font-family="Liberation Serif" font-size="65" font-weight="normal" fill="#000">40</text></g>
<g style="filter:grayscale(1)"><text transform="matrix(1.0158,0,0,1.0535,823.49,2449.60)" font-family="Liberation Serif" font-size="65" font-weight="normal" fill="#000">50</text></g>
<g style="filter:grayscale(1)"><text transform="matrix(1.0158,0,0,1.0535,967.29,2449.60)" font-family="Liberation Serif" font-size="65" font-weight="normal" fill="#000">60</text></g>
<g style="filter:grayscale(1)"><text transform="matrix(1.0158,0,0,1.0535,1111.09,2449.60)" font-family="Liberation Serif" font-size="65" font-weight="normal" fill="#000">70</text></g>
<g style="filter:grayscale(1)"><text transform="matrix(1.0158,0,0,1.0535,1254.89,2449.60)" font-family="Liberation Serif" font-size="65" font-weight="normal" fill="#000">80</text></g>
<g style="filter:grayscale(1)"><text transform="matrix(0.9937,0,0,0.9734,529.33,2547.31)" font-family="Liberation Serif" font-size="86" font-weight="normal" fill="#000">2Theta (degree)</text></g>
<g style="filter:grayscale(1)"><text transform="matrix(0,-0.9883,0.9835,0,116.01,2203.96)" font-family="Liberation Serif" font-size="86" font-weight="normal" fill="#000">Intensity (a.u.)</text></g>
<g style="filter:grayscale(1)"><text transform="matrix(1.0161,0,0,1.0255,217.95,1616.69)" font-family="Liberation Serif" font-size="58" font-weight="normal" fill="#000">(g)</text></g>
<g style="filter:grayscale(1)"><text transform="matrix(1.0250,0,0,1.0000,223.62,1696.00)" font-family="Liberation Serif" font-size="58" font-weight="normal" fill="#000">(f)</text></g>
<g style="filter:grayscale(1)"><text transform="matrix(1.0305,0,0,0.9980,218.51,1773.72)" font-family="Liberation Serif" font-size="58" font-weight="normal" fill="#000">(e)</text></g>
<g style="filter:grayscale(1)"><text transform="matrix(1.0161,0,0,1.0000,216.35,1868.80)" font-family="Liberation Serif" font-size="58" font-weight="normal" fill="#000">(d)</text></g>
<g style="filter:grayscale(1)"><text transform="matrix(0.9932,0,0,1.0000,216.42,1953.00)" font-family="Liberation Serif" font-size="58" font-weight="normal" fill="#000">(c)</text></g>
<g style="filter:grayscale(1)"><text transform="matrix(0.9452,0,0,1.0000,222.06,2029.20)" font-family="Liberation Serif" font-size="58" font-weight="normal" fill="#000">(b)</text></g>
<g style="filter:grayscale(1)"><text transform="matrix(1.0305,0,0,0.9961,218.51,2121.05)" font-family="Liberation Serif" font-size="58" font-weight="normal" fill="#000">(a)</text></g>
<g style="filter:grayscale(1)"><text transform="matrix(1.0093,0,0,0.9962,381.96,1637.77)" font-family="Liberation Serif" font-size="86" font-weight="normal" fill="#000">(B)</text></g>
<g style="filter:grayscale(1)"><text transform="matrix(0.9783,0,0,0.9913,1161.04,1640.70)" font-family="Liberation Serif" font-size="69" font-weight="normal" fill="#000">Pt:</text></g>
<g style="filter:grayscale(1)"><text transform="matrix(0.8667,0,0,1.0692,1237.13,1643.08)" font-family="Liberation Serif" font-size="69" font-weight="normal" fill="#000">*</text></g>
<g style="filter:grayscale(1)"><text transform="matrix(1.1353,0,0,1.0563,513.90,1642.74)" font-family="Liberation Sans" font-size="45" font-weight="bold" fill="#000">*</text></g>
<g style="filter:grayscale(1)"><text transform="matrix(1.1176,0,0,1.0688,519.00,1717.93)" font-family="Liberation Sans" font-size="45" font-weight="bold" fill="#000">*</text></g>
<g style="filter:grayscale(1)"><text transform="matrix(1.0882,0,0,1.0312,522.00,1804.07)" font-family="Liberation Sans" font-size="45" font-weight="bold" fill="#000">*</text></g>
<g style="filter:grayscale(1)"><text transform="matrix(1.1353,0,0,1.1250,523.20,1879.88)" font-family="Liberation Sans" font-size="45" font-weight="bold" fill="#000">*</text></g>
<g style="filter:grayscale(1)"><text transform="matrix(1.1176,0,0,1.0625,519.00,1972.94)" font-family="Liberation Sans" font-size="45" font-weight="bold" fill="#000">*</text></g>
<g style="filter:grayscale(1)"><text transform="matrix(1.1176,0,0,1.0750,519.00,2050.12)" font-family="Liberation Sans" font-size="45" font-weight="bold" fill="#000">*</text></g>
<g style="filter:grayscale(1)"><text transform="matrix(1.1176,0,0,1.0625,1125.90,1639.84)" font-family="Liberation Sans" font-size="45" font-weight="bold" fill="#000">*</text></g>
<g style="filter:grayscale(1)"><text transform="matrix(1.0000,0,0,0.9562,1130.00,1726.34)" font-family="Liberation Sans" font-size="45" font-weight="bold" fill="#000">*</text></g>
<g style="filter:grayscale(1)"><text transform="matrix(0.9176,0,0,0.9125,1130.00,1794.69)" font-family="Liberation Sans" font-size="45" font-weight="bold" fill="#000">*</text></g>
<g style="filter:grayscale(1)"><text transform="matrix(1.0294,0,0,0.8875,1127.30,1913.31)" font-family="Liberation Sans" font-size="45" font-weight="bold" fill="#000">*</text></g>
<g style="filter:grayscale(1)"><text transform="matrix(0.9765,0,0,1.0375,1129.00,1998.76)" font-family="Liberation Sans" font-size="45" font-weight="bold" fill="#000">*</text></g>
<g style="filter:grayscale(1)"><text transform="matrix(0.9824,0,0,1.1687,1132.30,2085.73)" font-family="Liberation Sans" font-size="45" font-weight="bold" fill="#000">*</text></g>
<g style="filter:grayscale(1)"><text transform="matrix(1.0090,0,0,1.0277,304.78,2343.10)" font-family="Liberation Serif" font-size="53" font-weight="normal" fill="#000">(020)</text></g>
<g style="filter:grayscale(1)"><text transform="matrix(1.0009,0,0,1.0362,418.90,2281.20)" font-family="Liberation Serif" font-size="53" font-weight="normal" fill="#000">(131)</text></g>
<g style="filter:grayscale(1)"><text transform="matrix(1.0144,0,0,1.0340,609.27,2340.73)" font-family="Liberation Serif" font-size="53" font-weight="normal" fill="#000">(200)</text></g>
<g style="filter:grayscale(1)"><text transform="matrix(1.0090,0,0,1.0447,658.48,2281.41)" font-family="Liberation Serif" font-size="53" font-weight="normal" fill="#000">(151)</text></g>
<g style="filter:grayscale(1)"><text transform="matrix(1.0126,0,0,1.0404,817.57,2284.56)" font-family="Liberation Serif" font-size="53" font-weight="normal" fill="#000">(331)</text></g>
<g style="filter:grayscale(1)"><text transform="matrix(1.0081,0,0,1.0468,816.58,2345.69)" font-family="Liberation Serif" font-size="53" font-weight="normal" fill="#000">(202)</text></g>
<g style="filter:grayscale(1)"><text transform="matrix(1.0144,0,0,1.0191,982.97,2320.69)" font-family="Liberation Serif" font-size="53" font-weight="normal" fill="#000">(262)</text></g>
<g style="filter:grayscale(1)"><text transform="matrix(1.0054,0,0,1.0170,1107.39,2300.51)" font-family="Liberation Serif" font-size="53" font-weight="normal" fill="#000">(391)</text></g>
<g style="filter:grayscale(1)"><text transform="matrix(1.0282,0,0,1.0308,635.07,2229.98)" font-family="Liberation Serif" font-size="51.5" font-weight="normal" fill="#000">JCPDS No.72-1524(Bi<tspan font-size="27" dy="17">2</tspan><tspan dy="-17">MoO</tspan><tspan font-size="27" dy="17">6</tspan><tspan dy="-17">)</tspan></text></g>
<line x1="294.1" y1="1553" x2="294.6" y2="2360" stroke="#0000FF" stroke-width="4.8" stroke-dasharray="14.70 20.35" stroke-dashoffset="8.10" stroke-linecap="round"/>
<line x1="542.2" y1="1553" x2="542.0" y2="2360" stroke="#0000FF" stroke-width="4.8" stroke-dasharray="14.70 20.35" stroke-dashoffset="14.55" stroke-linecap="round"/>
<line x1="606.3" y1="1553" x2="606.3" y2="2360" stroke="#0000FF" stroke-width="4.8" stroke-dasharray="14.70 20.35" stroke-dashoffset="4.50" stroke-linecap="round"/>
<line x1="652.6" y1="1553" x2="658.5" y2="2360" stroke="#0000FF" stroke-width="4.8" stroke-dasharray="14.70 20.35" stroke-dashoffset="28.95" stroke-linecap="round"/>
<line x1="813.1" y1="1553" x2="812.7" y2="2360" stroke="#0000FF" stroke-width="4.8" stroke-dasharray="14.70 20.35" stroke-dashoffset="28.85" stroke-linecap="round"/>
<line x1="945.3" y1="1553" x2="937.3" y2="2360" stroke="#0000FF" stroke-width="4.8" stroke-dasharray="14.70 20.35" stroke-dashoffset="28.95" stroke-linecap="round"/>
<line x1="970.3" y1="1553" x2="975.0" y2="2360" stroke="#0000FF" stroke-width="4.8" stroke-dasharray="14.70 20.35" stroke-dashoffset="28.05" stroke-linecap="round"/>
<line x1="1228.4" y1="1553" x2="1226.0" y2="2360" stroke="#0000FF" stroke-width="4.8" stroke-dasharray="14.70 20.35" stroke-dashoffset="28.95" stroke-linecap="round"/>
</svg></body></html>
